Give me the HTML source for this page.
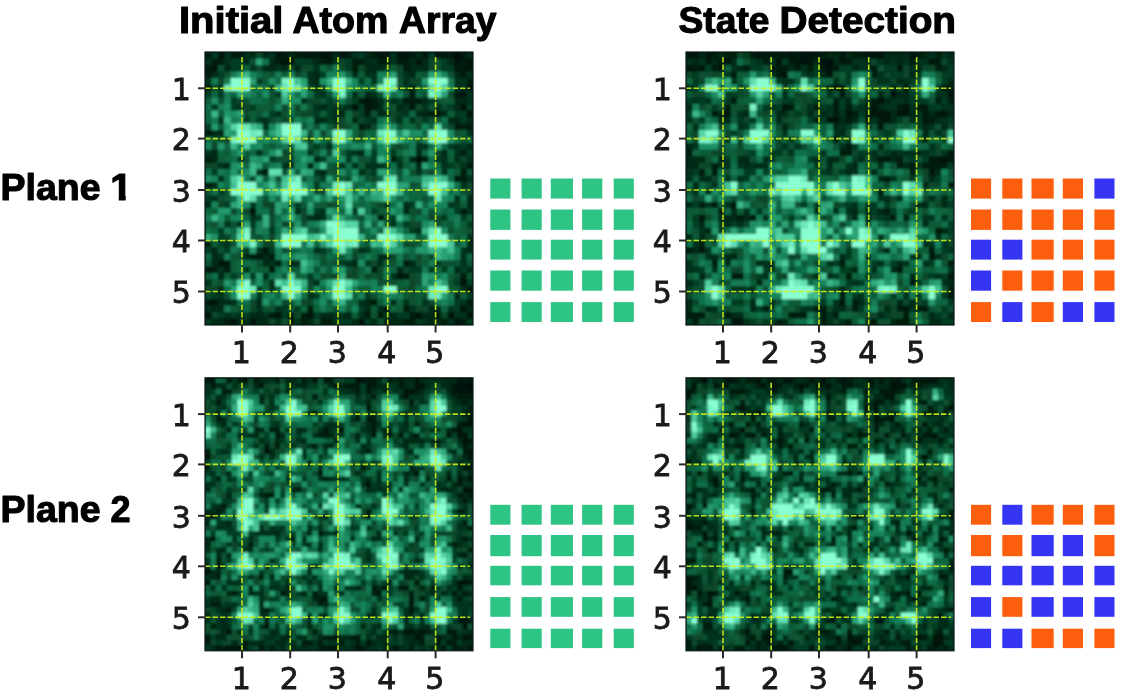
<!DOCTYPE html>
<html lang="en"><head><meta charset="utf-8"><title>Atom array state detection</title>
<style>html,body{margin:0;padding:0;background:#fff}body{width:1122px;height:700px;overflow:hidden}svg{display:block}.t{font-family:"Liberation Sans",sans-serif;font-weight:700;font-size:37.3px;fill:#000;stroke:#000;stroke-width:1.1px;stroke-linejoin:round}.k{font-family:"DejaVu Sans","Liberation Sans",sans-serif;font-size:30px;fill:#1a1a1a;stroke:#1a1a1a;stroke-width:0.8px}</style></head><body>
<svg width="1122" height="700" viewBox="0 0 1122 700">
<rect width="1122" height="700" fill="#fff"/>
<defs><clipPath id="cp"><rect width="268" height="273"/></clipPath><filter id="bl" x="-5%" y="-5%" width="110%" height="110%"><feGaussianBlur stdDeviation="0.8"/></filter></defs>
<text class="t" y="33.0"><tspan x="178.99" textLength="104.51" lengthAdjust="spacingAndGlyphs">Initial</tspan> <tspan x="292.49" textLength="95.99" lengthAdjust="spacingAndGlyphs">Atom</tspan> <tspan x="399.01" textLength="97.49" lengthAdjust="spacingAndGlyphs">Array</tspan></text>
<text class="t" y="33.0"><tspan x="678.51" textLength="90.97" lengthAdjust="spacingAndGlyphs">State</tspan> <tspan x="779.49" textLength="176.52" lengthAdjust="spacingAndGlyphs">Detection</tspan></text>
<text class="t" y="200.0"><tspan x="0.51" textLength="99.98" lengthAdjust="spacingAndGlyphs">Plane</tspan></text><clipPath id="one"><path d="M109.3 168.0H128.4V194.6H109.3zM118.74 194.0H125.70V201.0H118.74z"/></clipPath><g clip-path="url(#one)"><text class="t" transform="translate(110.34 200.0) scale(1.05 1)">1</text></g>
<text class="t" y="521.8"><tspan x="0.51" textLength="99.98" lengthAdjust="spacingAndGlyphs">Plane</tspan> <tspan x="110.47" textLength="20.03" lengthAdjust="spacingAndGlyphs">2</tspan></text>
<g transform="translate(205 52)" clip-path="url(#cp)"><rect width="268" height="273" fill="#06140f"/><g filter="url(#bl)"><path fill="#031e11" d="M0 0h6.7v6.8h-6.7zM25.5 0h6.7v6.8h-6.7zM31.9 0h6.7v6.8h-6.7zM76.6 0h6.7v6.8h-6.7zM89.3 0h6.7v6.8h-6.7zM95.7 0h6.7v6.8h-6.7zM108.5 0h6.7v6.8h-6.7zM140.4 0h6.7v6.8h-6.7zM165.9 0h6.7v6.8h-6.7zM204.2 0h6.7v6.8h-6.7zM236.1 0h6.7v6.8h-6.7zM242.5 0h6.7v6.8h-6.7zM6.4 6.5h6.7v6.8h-6.7zM12.8 6.5h6.6v6.8h-6.6zM70.2 6.5h6.7v6.8h-6.7zM114.9 6.5h6.6v6.8h-6.6zM146.8 6.5h6.6v6.8h-6.6zM153.1 6.5h6.7v6.8h-6.7zM172.3 6.5h6.7v6.8h-6.7zM178.7 6.5h6.6v6.8h-6.6zM191.4 6.5h6.7v6.8h-6.7zM197.8 6.5h6.7v6.8h-6.7zM255.2 6.5h6.7v6.8h-6.7zM0 13h6.7v6.8h-6.7zM146.8 13h6.6v6.8h-6.6zM197.8 13h6.7v6.8h-6.7zM248.9 13h6.6v6.8h-6.6zM255.2 13h6.7v6.8h-6.7zM0 19.5h6.7v6.8h-6.7zM255.2 19.5h6.7v6.8h-6.7zM261.6 26h6.7v6.8h-6.7zM0 32.5h6.7v6.8h-6.7zM204.2 39h6.7v6.8h-6.7zM248.9 39h6.6v6.8h-6.6zM153.1 45.5h6.7v6.8h-6.7zM165.9 45.5h6.7v6.8h-6.7zM197.8 45.5h6.7v6.8h-6.7zM204.2 45.5h6.7v6.8h-6.7zM210.6 45.5h6.7v6.8h-6.7zM165.9 52h6.7v6.8h-6.7zM204.2 52h6.7v6.8h-6.7zM159.5 58.5h6.7v6.8h-6.7zM223.3 58.5h6.7v6.8h-6.7zM229.7 58.5h6.7v6.8h-6.7zM153.1 71.5h6.7v6.8h-6.7zM248.9 71.5h6.6v6.8h-6.6zM255.2 71.5h6.7v6.8h-6.7zM261.6 71.5h6.7v6.8h-6.7zM0 78h6.7v6.8h-6.7zM255.2 97.5h6.7v6.8h-6.7zM0 104h6.7v6.8h-6.7zM185 104h6.7v6.8h-6.7zM217 104h6.6v6.8h-6.6zM261.6 110.5h6.7v6.8h-6.7zM57.4 117h6.7v6.8h-6.7zM255.2 117h6.7v6.8h-6.7zM248.9 123.5h6.6v6.8h-6.6zM255.2 123.5h6.7v6.8h-6.7zM0 130h6.7v6.8h-6.7zM255.2 156h6.7v6.8h-6.7zM172.3 162.5h6.7v6.8h-6.7zM0 188.5h6.7v6.8h-6.7zM44.7 201.5h6.6v6.8h-6.6zM51 201.5h6.7v6.8h-6.7zM63.8 201.5h6.7v6.8h-6.7zM19.1 208h6.7v6.8h-6.7zM70.2 208h6.7v6.8h-6.7zM197.8 208h6.7v6.8h-6.7zM6.4 214.5h6.7v6.8h-6.7zM19.1 214.5h6.7v6.8h-6.7zM63.8 214.5h6.7v6.8h-6.7zM165.9 214.5h6.7v6.8h-6.7zM197.8 221h6.7v6.8h-6.7zM255.2 221h6.7v6.8h-6.7zM0 247h6.7v6.8h-6.7zM165.9 247h6.7v6.8h-6.7zM261.6 247h6.7v6.8h-6.7zM102.1 253.5h6.7v6.8h-6.7zM197.8 253.5h6.7v6.8h-6.7zM63.8 260h6.7v6.8h-6.7zM83 260h6.6v6.8h-6.6zM95.7 260h6.7v6.8h-6.7zM159.5 260h6.7v6.8h-6.7zM172.3 260h6.7v6.8h-6.7zM204.2 260h6.7v6.8h-6.7zM229.7 260h6.7v6.8h-6.7zM19.1 266.5h6.7v6.8h-6.7zM83 266.5h6.6v6.8h-6.6zM95.7 266.5h6.7v6.8h-6.7zM114.9 266.5h6.6v6.8h-6.6zM121.2 266.5h6.7v6.8h-6.7zM178.7 266.5h6.6v6.8h-6.6zM197.8 266.5h6.7v6.8h-6.7zM204.2 266.5h6.7v6.8h-6.7zM236.1 266.5h6.7v6.8h-6.7zM255.2 266.5h6.7v6.8h-6.7z"/><path fill="#053d23" d="M6.4 0h6.7v6.8h-6.7zM153.1 0h6.7v6.8h-6.7zM223.3 0h6.7v6.8h-6.7zM25.5 6.5h6.7v6.8h-6.7zM31.9 6.5h6.7v6.8h-6.7zM89.3 6.5h6.7v6.8h-6.7zM95.7 6.5h6.7v6.8h-6.7zM102.1 6.5h6.7v6.8h-6.7zM140.4 6.5h6.7v6.8h-6.7zM236.1 6.5h6.7v6.8h-6.7zM25.5 13h6.7v6.8h-6.7zM31.9 13h6.7v6.8h-6.7zM140.4 13h6.7v6.8h-6.7zM178.7 13h6.6v6.8h-6.6zM236.1 13h6.7v6.8h-6.7zM242.5 13h6.7v6.8h-6.7zM12.8 19.5h6.6v6.8h-6.6zM114.9 19.5h6.6v6.8h-6.6zM51 26h6.7v6.8h-6.7zM153.1 26h6.7v6.8h-6.7zM12.8 32.5h6.6v6.8h-6.6zM63.8 32.5h6.7v6.8h-6.7zM197.8 32.5h6.7v6.8h-6.7zM0 39h6.7v6.8h-6.7zM12.8 39h6.6v6.8h-6.6zM70.2 39h6.7v6.8h-6.7zM108.5 39h6.7v6.8h-6.7zM25.5 45.5h6.7v6.8h-6.7zM121.2 45.5h6.7v6.8h-6.7zM146.8 45.5h6.6v6.8h-6.6zM191.4 45.5h6.7v6.8h-6.7zM223.3 45.5h6.7v6.8h-6.7zM6.4 52h6.7v6.8h-6.7zM25.5 52h6.7v6.8h-6.7zM44.7 52h6.6v6.8h-6.6zM121.2 52h6.7v6.8h-6.7zM134 52h6.7v6.8h-6.7zM153.1 52h6.7v6.8h-6.7zM242.5 52h6.7v6.8h-6.7zM261.6 52h6.7v6.8h-6.7zM63.8 58.5h6.7v6.8h-6.7zM108.5 58.5h6.7v6.8h-6.7zM121.2 58.5h6.7v6.8h-6.7zM153.1 58.5h6.7v6.8h-6.7zM191.4 58.5h6.7v6.8h-6.7zM248.9 58.5h6.6v6.8h-6.6zM255.2 58.5h6.7v6.8h-6.7zM38.3 65h6.7v6.8h-6.7zM51 65h6.7v6.8h-6.7zM121.2 65h6.7v6.8h-6.7zM159.5 65h6.7v6.8h-6.7zM217 65h6.6v6.8h-6.6zM255.2 65h6.7v6.8h-6.7zM0 71.5h6.7v6.8h-6.7zM108.5 91h6.7v6.8h-6.7zM242.5 91h6.7v6.8h-6.7zM255.2 91h6.7v6.8h-6.7zM102.1 97.5h6.7v6.8h-6.7zM140.4 97.5h6.7v6.8h-6.7zM165.9 97.5h6.7v6.8h-6.7zM185 97.5h6.7v6.8h-6.7zM261.6 97.5h6.7v6.8h-6.7zM31.9 104h6.7v6.8h-6.7zM63.8 104h6.7v6.8h-6.7zM114.9 104h6.6v6.8h-6.6zM140.4 104h6.7v6.8h-6.7zM165.9 104h6.7v6.8h-6.7zM191.4 104h6.7v6.8h-6.7zM229.7 104h6.7v6.8h-6.7zM178.7 110.5h6.6v6.8h-6.6zM242.5 110.5h6.7v6.8h-6.7zM6.4 117h6.7v6.8h-6.7zM165.9 117h6.7v6.8h-6.7zM114.9 123.5h6.6v6.8h-6.6zM108.5 130h6.7v6.8h-6.7zM12.8 136.5h6.6v6.8h-6.6zM0 143h6.7v6.8h-6.7zM19.1 149.5h6.7v6.8h-6.7zM44.7 149.5h6.6v6.8h-6.6zM89.3 149.5h6.7v6.8h-6.7zM178.7 149.5h6.6v6.8h-6.6zM204.2 149.5h6.7v6.8h-6.7zM248.9 149.5h6.6v6.8h-6.6zM108.5 156h6.7v6.8h-6.7zM146.8 156h6.6v6.8h-6.6zM165.9 156h6.7v6.8h-6.7zM248.9 156h6.6v6.8h-6.6zM51 162.5h6.7v6.8h-6.7zM185 162.5h6.7v6.8h-6.7zM236.1 162.5h6.7v6.8h-6.7zM255.2 162.5h6.7v6.8h-6.7zM44.7 169h6.6v6.8h-6.6zM197.8 169h6.7v6.8h-6.7zM261.6 169h6.7v6.8h-6.7zM12.8 175.5h6.6v6.8h-6.6zM63.8 175.5h6.7v6.8h-6.7zM204.2 175.5h6.7v6.8h-6.7zM12.8 182h6.6v6.8h-6.6zM12.8 188.5h6.6v6.8h-6.6zM0 195h6.7v6.8h-6.7zM19.1 195h6.7v6.8h-6.7zM38.3 195h6.7v6.8h-6.7zM63.8 195h6.7v6.8h-6.7zM114.9 195h6.6v6.8h-6.6zM159.5 195h6.7v6.8h-6.7zM134 208h6.7v6.8h-6.7zM159.5 208h6.7v6.8h-6.7zM229.7 208h6.7v6.8h-6.7zM204.2 214.5h6.7v6.8h-6.7zM210.6 214.5h6.7v6.8h-6.7zM223.3 214.5h6.7v6.8h-6.7zM236.1 214.5h6.7v6.8h-6.7zM255.2 214.5h6.7v6.8h-6.7zM25.5 221h6.7v6.8h-6.7zM44.7 221h6.6v6.8h-6.6zM102.1 221h6.7v6.8h-6.7zM248.9 227.5h6.6v6.8h-6.6zM261.6 227.5h6.7v6.8h-6.7zM51 234h6.7v6.8h-6.7zM6.4 240.5h6.7v6.8h-6.7zM51 240.5h6.7v6.8h-6.7zM108.5 240.5h6.7v6.8h-6.7zM159.5 240.5h6.7v6.8h-6.7zM261.6 240.5h6.7v6.8h-6.7zM248.9 247h6.6v6.8h-6.6zM76.6 253.5h6.7v6.8h-6.7zM89.3 253.5h6.7v6.8h-6.7zM153.1 253.5h6.7v6.8h-6.7zM248.9 253.5h6.6v6.8h-6.6zM12.8 260h6.6v6.8h-6.6zM25.5 260h6.7v6.8h-6.7zM38.3 260h6.7v6.8h-6.7zM76.6 260h6.7v6.8h-6.7zM108.5 260h6.7v6.8h-6.7zM178.7 260h6.6v6.8h-6.6zM191.4 260h6.7v6.8h-6.7zM197.8 260h6.7v6.8h-6.7zM0 266.5h6.7v6.8h-6.7zM134 266.5h6.7v6.8h-6.7zM140.4 266.5h6.7v6.8h-6.7zM159.5 266.5h6.7v6.8h-6.7zM210.6 266.5h6.7v6.8h-6.7zM261.6 266.5h6.7v6.8h-6.7z"/><path fill="#03140c" d="M12.8 0h6.6v6.8h-6.6zM70.2 0h6.7v6.8h-6.7zM102.1 0h6.7v6.8h-6.7zM114.9 0h6.6v6.8h-6.6zM121.2 0h6.7v6.8h-6.7zM134 0h6.7v6.8h-6.7zM172.3 0h6.7v6.8h-6.7zM178.7 0h6.6v6.8h-6.6zM191.4 0h6.7v6.8h-6.7zM197.8 0h6.7v6.8h-6.7zM217 0h6.6v6.8h-6.6zM229.7 0h6.7v6.8h-6.7zM255.2 0h6.7v6.8h-6.7zM76.6 6.5h6.7v6.8h-6.7zM83 6.5h6.6v6.8h-6.6zM121.2 6.5h6.7v6.8h-6.7zM210.6 6.5h6.7v6.8h-6.7zM248.9 6.5h6.6v6.8h-6.6zM261.6 6.5h6.7v6.8h-6.7zM6.4 13h6.7v6.8h-6.7zM261.6 13h6.7v6.8h-6.7zM261.6 32.5h6.7v6.8h-6.7zM255.2 39h6.7v6.8h-6.7zM159.5 45.5h6.7v6.8h-6.7zM146.8 52h6.6v6.8h-6.6zM159.5 52h6.7v6.8h-6.7zM255.2 52h6.7v6.8h-6.7zM261.6 58.5h6.7v6.8h-6.7zM210.6 104h6.7v6.8h-6.7zM44.7 156h6.6v6.8h-6.6zM57.4 195h6.7v6.8h-6.7zM12.8 208h6.6v6.8h-6.6zM0 214.5h6.7v6.8h-6.7zM191.4 221h6.7v6.8h-6.7zM255.2 227.5h6.7v6.8h-6.7zM261.6 234h6.7v6.8h-6.7zM6.4 247h6.7v6.8h-6.7zM178.7 253.5h6.6v6.8h-6.6zM255.2 253.5h6.7v6.8h-6.7zM0 260h6.7v6.8h-6.7zM70.2 260h6.7v6.8h-6.7zM102.1 260h6.7v6.8h-6.7zM210.6 260h6.7v6.8h-6.7zM242.5 260h6.7v6.8h-6.7zM261.6 260h6.7v6.8h-6.7zM25.5 266.5h6.7v6.8h-6.7zM44.7 266.5h6.6v6.8h-6.6zM153.1 266.5h6.7v6.8h-6.7zM248.9 266.5h6.6v6.8h-6.6z"/><path fill="#04331c" d="M19.1 0h6.7v6.8h-6.7zM38.3 0h6.7v6.8h-6.7zM63.8 0h6.7v6.8h-6.7zM146.8 0h6.6v6.8h-6.6zM185 0h6.7v6.8h-6.7zM0 6.5h6.7v6.8h-6.7zM19.1 6.5h6.7v6.8h-6.7zM127.6 6.5h6.7v6.8h-6.7zM165.9 6.5h6.7v6.8h-6.7zM185 6.5h6.7v6.8h-6.7zM44.7 13h6.6v6.8h-6.6zM70.2 13h6.7v6.8h-6.7zM108.5 13h6.7v6.8h-6.7zM102.1 19.5h6.7v6.8h-6.7zM159.5 19.5h6.7v6.8h-6.7zM165.9 19.5h6.7v6.8h-6.7zM197.8 19.5h6.7v6.8h-6.7zM261.6 19.5h6.7v6.8h-6.7zM0 26h6.7v6.8h-6.7zM102.1 26h6.7v6.8h-6.7zM165.9 26h6.7v6.8h-6.7zM197.8 26h6.7v6.8h-6.7zM248.9 26h6.6v6.8h-6.6zM255.2 26h6.7v6.8h-6.7zM108.5 32.5h6.7v6.8h-6.7zM248.9 32.5h6.6v6.8h-6.6zM255.2 32.5h6.7v6.8h-6.7zM114.9 39h6.6v6.8h-6.6zM146.8 39h6.6v6.8h-6.6zM165.9 39h6.7v6.8h-6.7zM261.6 39h6.7v6.8h-6.7zM95.7 45.5h6.7v6.8h-6.7zM185 45.5h6.7v6.8h-6.7zM261.6 45.5h6.7v6.8h-6.7zM31.9 52h6.7v6.8h-6.7zM108.5 52h6.7v6.8h-6.7zM127.6 52h6.7v6.8h-6.7zM140.4 52h6.7v6.8h-6.7zM197.8 52h6.7v6.8h-6.7zM217 52h6.6v6.8h-6.6zM229.7 52h6.7v6.8h-6.7zM70.2 58.5h6.7v6.8h-6.7zM127.6 58.5h6.7v6.8h-6.7zM178.7 58.5h6.6v6.8h-6.6zM197.8 58.5h6.7v6.8h-6.7zM12.8 65h6.6v6.8h-6.6zM57.4 65h6.7v6.8h-6.7zM127.6 65h6.7v6.8h-6.7zM165.9 65h6.7v6.8h-6.7zM191.4 65h6.7v6.8h-6.7zM204.2 65h6.7v6.8h-6.7zM57.4 71.5h6.7v6.8h-6.7zM261.6 78h6.7v6.8h-6.7zM121.2 91h6.7v6.8h-6.7zM210.6 91h6.7v6.8h-6.7zM217 91h6.6v6.8h-6.6zM248.9 91h6.6v6.8h-6.6zM0 97.5h6.7v6.8h-6.7zM51 97.5h6.7v6.8h-6.7zM146.8 97.5h6.6v6.8h-6.6zM248.9 97.5h6.6v6.8h-6.6zM236.1 104h6.7v6.8h-6.7zM248.9 104h6.6v6.8h-6.6zM261.6 104h6.7v6.8h-6.7zM12.8 110.5h6.6v6.8h-6.6zM76.6 110.5h6.7v6.8h-6.7zM134 110.5h6.7v6.8h-6.7zM146.8 110.5h6.6v6.8h-6.6zM159.5 110.5h6.7v6.8h-6.7zM165.9 110.5h6.7v6.8h-6.7zM172.3 110.5h6.7v6.8h-6.7zM191.4 110.5h6.7v6.8h-6.7zM236.1 110.5h6.7v6.8h-6.7zM255.2 110.5h6.7v6.8h-6.7zM51 117h6.7v6.8h-6.7zM108.5 117h6.7v6.8h-6.7zM153.1 117h6.7v6.8h-6.7zM210.6 117h6.7v6.8h-6.7zM236.1 117h6.7v6.8h-6.7zM12.8 123.5h6.6v6.8h-6.6zM261.6 123.5h6.7v6.8h-6.7zM255.2 130h6.7v6.8h-6.7zM6.4 143h6.7v6.8h-6.7zM248.9 143h6.6v6.8h-6.6zM242.5 149.5h6.7v6.8h-6.7zM114.9 156h6.6v6.8h-6.6zM261.6 156h6.7v6.8h-6.7zM44.7 162.5h6.6v6.8h-6.6zM102.1 162.5h6.7v6.8h-6.7zM114.9 162.5h6.6v6.8h-6.6zM19.1 169h6.7v6.8h-6.7zM31.9 169h6.7v6.8h-6.7zM185 169h6.7v6.8h-6.7zM210.6 175.5h6.7v6.8h-6.7zM261.6 182h6.7v6.8h-6.7zM19.1 188.5h6.7v6.8h-6.7zM51 195h6.7v6.8h-6.7zM108.5 195h6.7v6.8h-6.7zM153.1 195h6.7v6.8h-6.7zM255.2 195h6.7v6.8h-6.7zM12.8 201.5h6.6v6.8h-6.6zM255.2 201.5h6.7v6.8h-6.7zM63.8 208h6.7v6.8h-6.7zM89.3 208h6.7v6.8h-6.7zM140.4 208h6.7v6.8h-6.7zM172.3 208h6.7v6.8h-6.7zM255.2 208h6.7v6.8h-6.7zM12.8 214.5h6.6v6.8h-6.6zM38.3 214.5h6.7v6.8h-6.7zM185 221h6.7v6.8h-6.7zM0 227.5h6.7v6.8h-6.7zM63.8 227.5h6.7v6.8h-6.7zM63.8 234h6.7v6.8h-6.7zM255.2 234h6.7v6.8h-6.7zM12.8 240.5h6.6v6.8h-6.6zM102.1 240.5h6.7v6.8h-6.7zM25.5 247h6.7v6.8h-6.7zM153.1 247h6.7v6.8h-6.7zM185 247h6.7v6.8h-6.7zM197.8 247h6.7v6.8h-6.7zM217 247h6.6v6.8h-6.6zM255.2 247h6.7v6.8h-6.7zM0 253.5h6.7v6.8h-6.7zM51 253.5h6.7v6.8h-6.7zM70.2 253.5h6.7v6.8h-6.7zM204.2 253.5h6.7v6.8h-6.7zM242.5 253.5h6.7v6.8h-6.7zM19.1 260h6.7v6.8h-6.7zM31.9 260h6.7v6.8h-6.7zM57.4 260h6.7v6.8h-6.7zM127.6 260h6.7v6.8h-6.7zM134 260h6.7v6.8h-6.7zM153.1 260h6.7v6.8h-6.7zM248.9 260h6.6v6.8h-6.6zM255.2 260h6.7v6.8h-6.7zM38.3 266.5h6.7v6.8h-6.7zM70.2 266.5h6.7v6.8h-6.7zM89.3 266.5h6.7v6.8h-6.7zM127.6 266.5h6.7v6.8h-6.7zM217 266.5h6.6v6.8h-6.6zM242.5 266.5h6.7v6.8h-6.7z"/><path fill="#042916" d="M44.7 0h6.6v6.8h-6.6zM57.4 0h6.7v6.8h-6.7zM83 0h6.6v6.8h-6.6zM127.6 0h6.7v6.8h-6.7zM159.5 0h6.7v6.8h-6.7zM210.6 0h6.7v6.8h-6.7zM261.6 0h6.7v6.8h-6.7zM38.3 6.5h6.7v6.8h-6.7zM63.8 6.5h6.7v6.8h-6.7zM108.5 6.5h6.7v6.8h-6.7zM159.5 6.5h6.7v6.8h-6.7zM204.2 6.5h6.7v6.8h-6.7zM217 6.5h6.6v6.8h-6.6zM242.5 6.5h6.7v6.8h-6.7zM19.1 13h6.7v6.8h-6.7zM57.4 13h6.7v6.8h-6.7zM63.8 13h6.7v6.8h-6.7zM76.6 13h6.7v6.8h-6.7zM89.3 13h6.7v6.8h-6.7zM159.5 13h6.7v6.8h-6.7zM165.9 13h6.7v6.8h-6.7zM172.3 13h6.7v6.8h-6.7zM204.2 13h6.7v6.8h-6.7zM210.6 13h6.7v6.8h-6.7zM217 13h6.6v6.8h-6.6zM6.4 19.5h6.7v6.8h-6.7zM108.5 19.5h6.7v6.8h-6.7zM146.8 19.5h6.6v6.8h-6.6zM204.2 19.5h6.7v6.8h-6.7zM248.9 19.5h6.6v6.8h-6.6zM108.5 26h6.7v6.8h-6.7zM204.2 32.5h6.7v6.8h-6.7zM159.5 39h6.7v6.8h-6.7zM172.3 45.5h6.7v6.8h-6.7zM217 45.5h6.6v6.8h-6.6zM248.9 45.5h6.6v6.8h-6.6zM255.2 45.5h6.7v6.8h-6.7zM114.9 52h6.6v6.8h-6.6zM172.3 52h6.7v6.8h-6.7zM191.4 52h6.7v6.8h-6.7zM248.9 52h6.6v6.8h-6.6zM134 58.5h6.7v6.8h-6.7zM172.3 58.5h6.7v6.8h-6.7zM210.6 58.5h6.7v6.8h-6.7zM217 58.5h6.6v6.8h-6.6zM236.1 58.5h6.7v6.8h-6.7zM108.5 65h6.7v6.8h-6.7zM114.9 65h6.6v6.8h-6.6zM146.8 65h6.6v6.8h-6.6zM242.5 65h6.7v6.8h-6.7zM248.9 65h6.6v6.8h-6.6zM261.6 65h6.7v6.8h-6.7zM159.5 71.5h6.7v6.8h-6.7zM6.4 78h6.7v6.8h-6.7zM12.8 78h6.6v6.8h-6.6zM261.6 91h6.7v6.8h-6.7zM6.4 97.5h6.7v6.8h-6.7zM153.1 97.5h6.7v6.8h-6.7zM210.6 97.5h6.7v6.8h-6.7zM236.1 97.5h6.7v6.8h-6.7zM6.4 104h6.7v6.8h-6.7zM108.5 104h6.7v6.8h-6.7zM204.2 104h6.7v6.8h-6.7zM19.1 110.5h6.7v6.8h-6.7zM83 110.5h6.6v6.8h-6.6zM102.1 110.5h6.7v6.8h-6.7zM210.6 110.5h6.7v6.8h-6.7zM114.9 117h6.6v6.8h-6.6zM6.4 130h6.7v6.8h-6.7zM261.6 143h6.7v6.8h-6.7zM0 149.5h6.7v6.8h-6.7zM197.8 149.5h6.7v6.8h-6.7zM261.6 149.5h6.7v6.8h-6.7zM89.3 156h6.7v6.8h-6.7zM197.8 156h6.7v6.8h-6.7zM108.5 162.5h6.7v6.8h-6.7zM261.6 188.5h6.7v6.8h-6.7zM6.4 195h6.7v6.8h-6.7zM261.6 195h6.7v6.8h-6.7zM6.4 201.5h6.7v6.8h-6.7zM38.3 201.5h6.7v6.8h-6.7zM57.4 201.5h6.7v6.8h-6.7zM172.3 201.5h6.7v6.8h-6.7zM178.7 201.5h6.6v6.8h-6.6zM6.4 208h6.7v6.8h-6.7zM57.4 208h6.7v6.8h-6.7zM83 208h6.6v6.8h-6.6zM146.8 208h6.6v6.8h-6.6zM204.2 208h6.7v6.8h-6.7zM191.4 214.5h6.7v6.8h-6.7zM248.9 214.5h6.6v6.8h-6.6zM261.6 214.5h6.7v6.8h-6.7zM12.8 221h6.6v6.8h-6.6zM57.4 221h6.7v6.8h-6.7zM108.5 227.5h6.7v6.8h-6.7zM12.8 234h6.6v6.8h-6.6zM248.9 240.5h6.6v6.8h-6.6zM12.8 247h6.6v6.8h-6.6zM19.1 247h6.7v6.8h-6.7zM51 247h6.7v6.8h-6.7zM159.5 247h6.7v6.8h-6.7zM6.4 253.5h6.7v6.8h-6.7zM12.8 253.5h6.6v6.8h-6.6zM159.5 253.5h6.7v6.8h-6.7zM172.3 253.5h6.7v6.8h-6.7zM223.3 253.5h6.7v6.8h-6.7zM229.7 253.5h6.7v6.8h-6.7zM261.6 253.5h6.7v6.8h-6.7zM44.7 260h6.6v6.8h-6.6zM51 260h6.7v6.8h-6.7zM114.9 260h6.6v6.8h-6.6zM121.2 260h6.7v6.8h-6.7zM140.4 260h6.7v6.8h-6.7zM185 260h6.7v6.8h-6.7zM217 260h6.6v6.8h-6.6zM223.3 260h6.7v6.8h-6.7zM6.4 266.5h6.7v6.8h-6.7zM12.8 266.5h6.6v6.8h-6.6zM31.9 266.5h6.7v6.8h-6.7zM51 266.5h6.7v6.8h-6.7zM57.4 266.5h6.7v6.8h-6.7zM102.1 266.5h6.7v6.8h-6.7zM146.8 266.5h6.6v6.8h-6.6zM165.9 266.5h6.7v6.8h-6.7zM185 266.5h6.7v6.8h-6.7zM191.4 266.5h6.7v6.8h-6.7zM223.3 266.5h6.7v6.8h-6.7zM229.7 266.5h6.7v6.8h-6.7z"/><path fill="#07472a" d="M51 0h6.7v6.8h-6.7zM134 6.5h6.7v6.8h-6.7zM223.3 6.5h6.7v6.8h-6.7zM51 13h6.7v6.8h-6.7zM83 13h6.6v6.8h-6.6zM95.7 13h6.7v6.8h-6.7zM102.1 13h6.7v6.8h-6.7zM134 13h6.7v6.8h-6.7zM153.1 13h6.7v6.8h-6.7zM191.4 13h6.7v6.8h-6.7zM223.3 13h6.7v6.8h-6.7zM89.3 19.5h6.7v6.8h-6.7zM191.4 19.5h6.7v6.8h-6.7zM12.8 26h6.6v6.8h-6.6zM204.2 26h6.7v6.8h-6.7zM210.6 26h6.7v6.8h-6.7zM6.4 32.5h6.7v6.8h-6.7zM102.1 32.5h6.7v6.8h-6.7zM114.9 32.5h6.6v6.8h-6.6zM242.5 39h6.7v6.8h-6.7zM31.9 45.5h6.7v6.8h-6.7zM102.1 45.5h6.7v6.8h-6.7zM108.5 45.5h6.7v6.8h-6.7zM38.3 52h6.7v6.8h-6.7zM76.6 52h6.7v6.8h-6.7zM89.3 52h6.7v6.8h-6.7zM210.6 52h6.7v6.8h-6.7zM236.1 52h6.7v6.8h-6.7zM38.3 58.5h6.7v6.8h-6.7zM95.7 58.5h6.7v6.8h-6.7zM102.1 58.5h6.7v6.8h-6.7zM146.8 58.5h6.6v6.8h-6.6zM185 58.5h6.7v6.8h-6.7zM63.8 65h6.7v6.8h-6.7zM76.6 65h6.7v6.8h-6.7zM134 65h6.7v6.8h-6.7zM153.1 65h6.7v6.8h-6.7zM185 65h6.7v6.8h-6.7zM127.6 71.5h6.7v6.8h-6.7zM134 71.5h6.7v6.8h-6.7zM165.9 71.5h6.7v6.8h-6.7zM210.6 71.5h6.7v6.8h-6.7zM242.5 71.5h6.7v6.8h-6.7zM114.9 78h6.6v6.8h-6.6zM153.1 78h6.7v6.8h-6.7zM19.1 84.5h6.7v6.8h-6.7zM102.1 84.5h6.7v6.8h-6.7zM6.4 91h6.7v6.8h-6.7zM191.4 91h6.7v6.8h-6.7zM76.6 97.5h6.7v6.8h-6.7zM121.2 97.5h6.7v6.8h-6.7zM229.7 97.5h6.7v6.8h-6.7zM70.2 104h6.7v6.8h-6.7zM83 104h6.6v6.8h-6.6zM255.2 104h6.7v6.8h-6.7zM0 110.5h6.7v6.8h-6.7zM6.4 110.5h6.7v6.8h-6.7zM248.9 110.5h6.6v6.8h-6.6zM159.5 117h6.7v6.8h-6.7zM223.3 117h6.7v6.8h-6.7zM165.9 123.5h6.7v6.8h-6.7zM261.6 130h6.7v6.8h-6.7zM114.9 136.5h6.6v6.8h-6.6zM261.6 136.5h6.7v6.8h-6.7zM12.8 149.5h6.6v6.8h-6.6zM57.4 149.5h6.7v6.8h-6.7zM63.8 149.5h6.7v6.8h-6.7zM121.2 149.5h6.7v6.8h-6.7zM172.3 149.5h6.7v6.8h-6.7zM25.5 156h6.7v6.8h-6.7zM38.3 156h6.7v6.8h-6.7zM63.8 156h6.7v6.8h-6.7zM95.7 156h6.7v6.8h-6.7zM210.6 156h6.7v6.8h-6.7zM95.7 162.5h6.7v6.8h-6.7zM223.3 162.5h6.7v6.8h-6.7zM229.7 162.5h6.7v6.8h-6.7zM63.8 169h6.7v6.8h-6.7zM76.6 169h6.7v6.8h-6.7zM204.2 169h6.7v6.8h-6.7zM210.6 169h6.7v6.8h-6.7zM19.1 182h6.7v6.8h-6.7zM63.8 182h6.7v6.8h-6.7zM57.4 188.5h6.7v6.8h-6.7zM63.8 188.5h6.7v6.8h-6.7zM197.8 188.5h6.7v6.8h-6.7zM146.8 201.5h6.6v6.8h-6.6zM185 201.5h6.7v6.8h-6.7zM210.6 201.5h6.7v6.8h-6.7zM223.3 201.5h6.7v6.8h-6.7zM165.9 208h6.7v6.8h-6.7zM146.8 214.5h6.6v6.8h-6.6zM172.3 214.5h6.7v6.8h-6.7zM197.8 214.5h6.7v6.8h-6.7zM114.9 221h6.6v6.8h-6.6zM127.6 221h6.7v6.8h-6.7zM140.4 221h6.7v6.8h-6.7zM146.8 221h6.6v6.8h-6.6zM159.5 221h6.7v6.8h-6.7zM172.3 221h6.7v6.8h-6.7zM204.2 221h6.7v6.8h-6.7zM248.9 221h6.6v6.8h-6.6zM102.1 227.5h6.7v6.8h-6.7zM204.2 227.5h6.7v6.8h-6.7zM0 234h6.7v6.8h-6.7zM6.4 234h6.7v6.8h-6.7zM102.1 234h6.7v6.8h-6.7zM204.2 234h6.7v6.8h-6.7zM0 240.5h6.7v6.8h-6.7zM44.7 247h6.6v6.8h-6.6zM76.6 247h6.7v6.8h-6.7zM95.7 247h6.7v6.8h-6.7zM102.1 247h6.7v6.8h-6.7zM223.3 247h6.7v6.8h-6.7zM44.7 253.5h6.6v6.8h-6.6zM210.6 253.5h6.7v6.8h-6.7zM217 253.5h6.6v6.8h-6.6zM6.4 260h6.7v6.8h-6.7zM89.3 260h6.7v6.8h-6.7zM236.1 260h6.7v6.8h-6.7zM63.8 266.5h6.7v6.8h-6.7zM108.5 266.5h6.7v6.8h-6.7z"/><path fill="#030a09" d="M248.9 0h6.6v6.8h-6.6z"/><path fill="#085131" d="M44.7 6.5h6.6v6.8h-6.6zM229.7 6.5h6.7v6.8h-6.7zM12.8 13h6.6v6.8h-6.6zM121.2 13h6.7v6.8h-6.7zM229.7 13h6.7v6.8h-6.7zM19.1 19.5h6.7v6.8h-6.7zM63.8 19.5h6.7v6.8h-6.7zM217 19.5h6.6v6.8h-6.6zM242.5 19.5h6.7v6.8h-6.7zM191.4 26h6.7v6.8h-6.7zM191.4 32.5h6.7v6.8h-6.7zM63.8 39h6.7v6.8h-6.7zM121.2 39h6.7v6.8h-6.7zM172.3 39h6.7v6.8h-6.7zM197.8 39h6.7v6.8h-6.7zM217 39h6.6v6.8h-6.6zM12.8 45.5h6.6v6.8h-6.6zM38.3 45.5h6.7v6.8h-6.7zM63.8 45.5h6.7v6.8h-6.7zM114.9 45.5h6.6v6.8h-6.6zM127.6 45.5h6.7v6.8h-6.7zM140.4 45.5h6.7v6.8h-6.7zM178.7 45.5h6.6v6.8h-6.6zM229.7 45.5h6.7v6.8h-6.7zM102.1 52h6.7v6.8h-6.7zM185 52h6.7v6.8h-6.7zM223.3 52h6.7v6.8h-6.7zM51 58.5h6.7v6.8h-6.7zM76.6 58.5h6.7v6.8h-6.7zM89.3 58.5h6.7v6.8h-6.7zM165.9 58.5h6.7v6.8h-6.7zM83 65h6.6v6.8h-6.6zM210.6 65h6.7v6.8h-6.7zM223.3 65h6.7v6.8h-6.7zM229.7 65h6.7v6.8h-6.7zM108.5 71.5h6.7v6.8h-6.7zM140.4 71.5h6.7v6.8h-6.7zM191.4 71.5h6.7v6.8h-6.7zM102.1 78h6.7v6.8h-6.7zM248.9 78h6.6v6.8h-6.6zM12.8 84.5h6.6v6.8h-6.6zM153.1 84.5h6.7v6.8h-6.7zM255.2 84.5h6.7v6.8h-6.7zM102.1 91h6.7v6.8h-6.7zM114.9 91h6.6v6.8h-6.6zM185 91h6.7v6.8h-6.7zM83 97.5h6.6v6.8h-6.6zM38.3 104h6.7v6.8h-6.7zM76.6 104h6.7v6.8h-6.7zM153.1 104h6.7v6.8h-6.7zM159.5 104h6.7v6.8h-6.7zM127.6 110.5h6.7v6.8h-6.7zM76.6 117h6.7v6.8h-6.7zM121.2 117h6.7v6.8h-6.7zM127.6 117h6.7v6.8h-6.7zM191.4 117h6.7v6.8h-6.7zM204.2 117h6.7v6.8h-6.7zM261.6 117h6.7v6.8h-6.7zM44.7 123.5h6.6v6.8h-6.6zM70.2 123.5h6.7v6.8h-6.7zM108.5 123.5h6.7v6.8h-6.7zM140.4 123.5h6.7v6.8h-6.7zM159.5 123.5h6.7v6.8h-6.7zM204.2 130h6.7v6.8h-6.7zM0 136.5h6.7v6.8h-6.7zM19.1 136.5h6.7v6.8h-6.7zM108.5 136.5h6.7v6.8h-6.7zM255.2 136.5h6.7v6.8h-6.7zM12.8 143h6.6v6.8h-6.6zM57.4 143h6.7v6.8h-6.7zM217 143h6.6v6.8h-6.6zM127.6 149.5h6.7v6.8h-6.7zM204.2 156h6.7v6.8h-6.7zM223.3 156h6.7v6.8h-6.7zM63.8 162.5h6.7v6.8h-6.7zM153.1 162.5h6.7v6.8h-6.7zM178.7 162.5h6.6v6.8h-6.6zM6.4 169h6.7v6.8h-6.7zM25.5 169h6.7v6.8h-6.7zM83 169h6.6v6.8h-6.6zM95.7 169h6.7v6.8h-6.7zM229.7 169h6.7v6.8h-6.7zM44.7 175.5h6.6v6.8h-6.6zM242.5 175.5h6.7v6.8h-6.7zM261.6 175.5h6.7v6.8h-6.7zM51 182h6.7v6.8h-6.7zM25.5 188.5h6.7v6.8h-6.7zM204.2 188.5h6.7v6.8h-6.7zM12.8 195h6.6v6.8h-6.6zM76.6 195h6.7v6.8h-6.7zM146.8 195h6.6v6.8h-6.6zM25.5 201.5h6.7v6.8h-6.7zM31.9 201.5h6.7v6.8h-6.7zM114.9 201.5h6.6v6.8h-6.6zM197.8 201.5h6.7v6.8h-6.7zM0 208h6.7v6.8h-6.7zM51 208h6.7v6.8h-6.7zM114.9 208h6.6v6.8h-6.6zM127.6 208h6.7v6.8h-6.7zM185 208h6.7v6.8h-6.7zM210.6 208h6.7v6.8h-6.7zM236.1 208h6.7v6.8h-6.7zM242.5 208h6.7v6.8h-6.7zM248.9 208h6.6v6.8h-6.6zM261.6 208h6.7v6.8h-6.7zM108.5 214.5h6.7v6.8h-6.7zM140.4 214.5h6.7v6.8h-6.7zM31.9 221h6.7v6.8h-6.7zM121.2 221h6.7v6.8h-6.7zM165.9 221h6.7v6.8h-6.7zM210.6 221h6.7v6.8h-6.7zM261.6 221h6.7v6.8h-6.7zM12.8 227.5h6.6v6.8h-6.6zM172.3 227.5h6.7v6.8h-6.7zM178.7 227.5h6.6v6.8h-6.6zM185 227.5h6.7v6.8h-6.7zM210.6 227.5h6.7v6.8h-6.7zM242.5 227.5h6.7v6.8h-6.7zM197.8 234h6.7v6.8h-6.7zM248.9 234h6.6v6.8h-6.6zM19.1 240.5h6.7v6.8h-6.7zM165.9 240.5h6.7v6.8h-6.7zM204.2 240.5h6.7v6.8h-6.7zM217 240.5h6.6v6.8h-6.6zM83 247h6.6v6.8h-6.6zM204.2 247h6.7v6.8h-6.7zM31.9 253.5h6.7v6.8h-6.7zM57.4 253.5h6.7v6.8h-6.7zM63.8 253.5h6.7v6.8h-6.7zM83 253.5h6.6v6.8h-6.6zM127.6 253.5h6.7v6.8h-6.7zM165.9 260h6.7v6.8h-6.7zM76.6 266.5h6.7v6.8h-6.7zM172.3 266.5h6.7v6.8h-6.7z"/><path fill="#2ba376" d="M51 6.5h6.7v6.8h-6.7zM185 19.5h6.7v6.8h-6.7zM223.3 19.5h6.7v6.8h-6.7zM44.7 26h6.6v6.8h-6.6zM95.7 26h6.7v6.8h-6.7zM31.9 39h6.7v6.8h-6.7zM95.7 39h6.7v6.8h-6.7zM236.1 39h6.7v6.8h-6.7zM31.9 58.5h6.7v6.8h-6.7zM19.1 78h6.7v6.8h-6.7zM63.8 78h6.7v6.8h-6.7zM140.4 84.5h6.7v6.8h-6.7zM178.7 91h6.6v6.8h-6.6zM57.4 104h6.7v6.8h-6.7zM95.7 104h6.7v6.8h-6.7zM51 110.5h6.7v6.8h-6.7zM217 110.5h6.6v6.8h-6.6zM102.1 117h6.7v6.8h-6.7zM172.3 117h6.7v6.8h-6.7zM178.7 117h6.6v6.8h-6.6zM63.8 123.5h6.7v6.8h-6.7zM121.2 123.5h6.7v6.8h-6.7zM146.8 123.5h6.6v6.8h-6.6zM95.7 130h6.7v6.8h-6.7zM191.4 130h6.7v6.8h-6.7zM197.8 130h6.7v6.8h-6.7zM83 143h6.6v6.8h-6.6zM121.2 143h6.7v6.8h-6.7zM165.9 143h6.7v6.8h-6.7zM25.5 149.5h6.7v6.8h-6.7zM70.2 149.5h6.7v6.8h-6.7zM102.1 149.5h6.7v6.8h-6.7zM70.2 156h6.7v6.8h-6.7zM83 156h6.6v6.8h-6.6zM121.2 156h6.7v6.8h-6.7zM134 162.5h6.7v6.8h-6.7zM38.3 169h6.7v6.8h-6.7zM172.3 169h6.7v6.8h-6.7zM223.3 169h6.7v6.8h-6.7zM197.8 182h6.7v6.8h-6.7zM204.2 182h6.7v6.8h-6.7zM114.9 188.5h6.6v6.8h-6.6zM185 195h6.7v6.8h-6.7zM191.4 195h6.7v6.8h-6.7zM236.1 195h6.7v6.8h-6.7zM236.1 201.5h6.7v6.8h-6.7zM217 221h6.6v6.8h-6.6zM146.8 227.5h6.6v6.8h-6.6zM217 227.5h6.6v6.8h-6.6zM236.1 227.5h6.7v6.8h-6.7zM25.5 234h6.7v6.8h-6.7zM95.7 234h6.7v6.8h-6.7zM236.1 240.5h6.7v6.8h-6.7z"/><path fill="#117049" d="M57.4 6.5h6.7v6.8h-6.7zM51 19.5h6.7v6.8h-6.7zM70.2 26h6.7v6.8h-6.7zM159.5 26h6.7v6.8h-6.7zM44.7 32.5h6.6v6.8h-6.6zM57.4 32.5h6.7v6.8h-6.7zM153.1 32.5h6.7v6.8h-6.7zM217 32.5h6.6v6.8h-6.6zM89.3 39h6.7v6.8h-6.7zM102.1 39h6.7v6.8h-6.7zM140.4 39h6.7v6.8h-6.7zM185 39h6.7v6.8h-6.7zM44.7 45.5h6.6v6.8h-6.6zM51 45.5h6.7v6.8h-6.7zM0 52h6.7v6.8h-6.7zM57.4 58.5h6.7v6.8h-6.7zM83 58.5h6.6v6.8h-6.6zM95.7 65h6.7v6.8h-6.7zM172.3 65h6.7v6.8h-6.7zM236.1 65h6.7v6.8h-6.7zM0 84.5h6.7v6.8h-6.7zM114.9 84.5h6.6v6.8h-6.6zM165.9 84.5h6.7v6.8h-6.7zM248.9 84.5h6.6v6.8h-6.6zM70.2 91h6.7v6.8h-6.7zM223.3 91h6.7v6.8h-6.7zM25.5 104h6.7v6.8h-6.7zM223.3 104h6.7v6.8h-6.7zM140.4 110.5h6.7v6.8h-6.7zM185 110.5h6.7v6.8h-6.7zM204.2 110.5h6.7v6.8h-6.7zM0 117h6.7v6.8h-6.7zM19.1 117h6.7v6.8h-6.7zM31.9 117h6.7v6.8h-6.7zM242.5 117h6.7v6.8h-6.7zM19.1 123.5h6.7v6.8h-6.7zM19.1 130h6.7v6.8h-6.7zM153.1 130h6.7v6.8h-6.7zM165.9 130h6.7v6.8h-6.7zM248.9 130h6.6v6.8h-6.6zM6.4 136.5h6.7v6.8h-6.7zM197.8 136.5h6.7v6.8h-6.7zM217 136.5h6.6v6.8h-6.6zM242.5 136.5h6.7v6.8h-6.7zM25.5 143h6.7v6.8h-6.7zM70.2 143h6.7v6.8h-6.7zM95.7 143h6.7v6.8h-6.7zM127.6 143h6.7v6.8h-6.7zM223.3 143h6.7v6.8h-6.7zM255.2 143h6.7v6.8h-6.7zM51 149.5h6.7v6.8h-6.7zM83 149.5h6.6v6.8h-6.6zM159.5 149.5h6.7v6.8h-6.7zM185 149.5h6.7v6.8h-6.7zM31.9 156h6.7v6.8h-6.7zM51 156h6.7v6.8h-6.7zM57.4 156h6.7v6.8h-6.7zM159.5 156h6.7v6.8h-6.7zM242.5 156h6.7v6.8h-6.7zM70.2 162.5h6.7v6.8h-6.7zM210.6 162.5h6.7v6.8h-6.7zM217 162.5h6.6v6.8h-6.6zM242.5 162.5h6.7v6.8h-6.7zM191.4 169h6.7v6.8h-6.7zM0 175.5h6.7v6.8h-6.7zM70.2 175.5h6.7v6.8h-6.7zM159.5 175.5h6.7v6.8h-6.7zM25.5 182h6.7v6.8h-6.7zM57.4 182h6.7v6.8h-6.7zM217 182h6.6v6.8h-6.6zM255.2 182h6.7v6.8h-6.7zM153.1 188.5h6.7v6.8h-6.7zM89.3 195h6.7v6.8h-6.7zM102.1 195h6.7v6.8h-6.7zM172.3 195h6.7v6.8h-6.7zM121.2 201.5h6.7v6.8h-6.7zM38.3 208h6.7v6.8h-6.7zM76.6 208h6.7v6.8h-6.7zM191.4 208h6.7v6.8h-6.7zM70.2 214.5h6.7v6.8h-6.7zM242.5 214.5h6.7v6.8h-6.7zM6.4 221h6.7v6.8h-6.7zM63.8 221h6.7v6.8h-6.7zM108.5 221h6.7v6.8h-6.7zM19.1 234h6.7v6.8h-6.7zM210.6 234h6.7v6.8h-6.7zM95.7 240.5h6.7v6.8h-6.7zM172.3 240.5h6.7v6.8h-6.7zM31.9 247h6.7v6.8h-6.7zM38.3 247h6.7v6.8h-6.7zM108.5 247h6.7v6.8h-6.7zM242.5 247h6.7v6.8h-6.7z"/><path fill="#0b5c39" d="M38.3 13h6.7v6.8h-6.7zM185 13h6.7v6.8h-6.7zM57.4 19.5h6.7v6.8h-6.7zM76.6 19.5h6.7v6.8h-6.7zM95.7 19.5h6.7v6.8h-6.7zM153.1 19.5h6.7v6.8h-6.7zM210.6 19.5h6.7v6.8h-6.7zM57.4 26h6.7v6.8h-6.7zM210.6 32.5h6.7v6.8h-6.7zM153.1 39h6.7v6.8h-6.7zM0 45.5h6.7v6.8h-6.7zM236.1 45.5h6.7v6.8h-6.7zM242.5 45.5h6.7v6.8h-6.7zM51 52h6.7v6.8h-6.7zM57.4 52h6.7v6.8h-6.7zM63.8 52h6.7v6.8h-6.7zM178.7 52h6.6v6.8h-6.6zM12.8 58.5h6.6v6.8h-6.6zM44.7 58.5h6.6v6.8h-6.6zM114.9 58.5h6.6v6.8h-6.6zM242.5 58.5h6.7v6.8h-6.7zM44.7 65h6.6v6.8h-6.6zM70.2 65h6.7v6.8h-6.7zM12.8 71.5h6.6v6.8h-6.6zM95.7 71.5h6.7v6.8h-6.7zM121.2 71.5h6.7v6.8h-6.7zM255.2 78h6.7v6.8h-6.7zM6.4 84.5h6.7v6.8h-6.7zM121.2 84.5h6.7v6.8h-6.7zM146.8 84.5h6.6v6.8h-6.6zM210.6 84.5h6.7v6.8h-6.7zM63.8 91h6.7v6.8h-6.7zM83 91h6.6v6.8h-6.6zM165.9 91h6.7v6.8h-6.7zM197.8 91h6.7v6.8h-6.7zM19.1 97.5h6.7v6.8h-6.7zM38.3 97.5h6.7v6.8h-6.7zM108.5 97.5h6.7v6.8h-6.7zM134 97.5h6.7v6.8h-6.7zM12.8 104h6.6v6.8h-6.6zM242.5 104h6.7v6.8h-6.7zM57.4 110.5h6.7v6.8h-6.7zM121.2 110.5h6.7v6.8h-6.7zM153.1 110.5h6.7v6.8h-6.7zM197.8 110.5h6.7v6.8h-6.7zM89.3 117h6.7v6.8h-6.7zM217 117h6.6v6.8h-6.6zM248.9 117h6.6v6.8h-6.6zM57.4 123.5h6.7v6.8h-6.7zM95.7 123.5h6.7v6.8h-6.7zM134 123.5h6.7v6.8h-6.7zM191.4 123.5h6.7v6.8h-6.7zM210.6 130h6.7v6.8h-6.7zM19.1 143h6.7v6.8h-6.7zM95.7 149.5h6.7v6.8h-6.7zM108.5 149.5h6.7v6.8h-6.7zM114.9 149.5h6.6v6.8h-6.6zM165.9 149.5h6.7v6.8h-6.7zM255.2 149.5h6.7v6.8h-6.7zM6.4 156h6.7v6.8h-6.7zM172.3 156h6.7v6.8h-6.7zM178.7 156h6.6v6.8h-6.6zM19.1 162.5h6.7v6.8h-6.7zM204.2 162.5h6.7v6.8h-6.7zM261.6 162.5h6.7v6.8h-6.7zM0 169h6.7v6.8h-6.7zM165.9 169h6.7v6.8h-6.7zM178.7 169h6.6v6.8h-6.6zM242.5 169h6.7v6.8h-6.7zM255.2 169h6.7v6.8h-6.7zM108.5 175.5h6.7v6.8h-6.7zM153.1 175.5h6.7v6.8h-6.7zM255.2 175.5h6.7v6.8h-6.7zM44.7 182h6.6v6.8h-6.6zM210.6 182h6.7v6.8h-6.7zM248.9 182h6.6v6.8h-6.6zM6.4 188.5h6.7v6.8h-6.7zM159.5 188.5h6.7v6.8h-6.7zM210.6 188.5h6.7v6.8h-6.7zM248.9 188.5h6.6v6.8h-6.6zM121.2 195h6.7v6.8h-6.7zM134 201.5h6.7v6.8h-6.7zM25.5 208h6.7v6.8h-6.7zM121.2 208h6.7v6.8h-6.7zM178.7 208h6.6v6.8h-6.6zM217 208h6.6v6.8h-6.6zM25.5 214.5h6.7v6.8h-6.7zM51 214.5h6.7v6.8h-6.7zM57.4 214.5h6.7v6.8h-6.7zM83 214.5h6.6v6.8h-6.6zM89.3 214.5h6.7v6.8h-6.7zM121.2 214.5h6.7v6.8h-6.7zM153.1 214.5h6.7v6.8h-6.7zM0 221h6.7v6.8h-6.7zM19.1 221h6.7v6.8h-6.7zM76.6 221h6.7v6.8h-6.7zM242.5 221h6.7v6.8h-6.7zM6.4 227.5h6.7v6.8h-6.7zM57.4 227.5h6.7v6.8h-6.7zM191.4 227.5h6.7v6.8h-6.7zM153.1 234h6.7v6.8h-6.7zM159.5 234h6.7v6.8h-6.7zM191.4 234h6.7v6.8h-6.7zM242.5 234h6.7v6.8h-6.7zM197.8 240.5h6.7v6.8h-6.7zM210.6 240.5h6.7v6.8h-6.7zM255.2 240.5h6.7v6.8h-6.7zM121.2 247h6.7v6.8h-6.7zM172.3 247h6.7v6.8h-6.7zM210.6 247h6.7v6.8h-6.7zM25.5 253.5h6.7v6.8h-6.7zM140.4 253.5h6.7v6.8h-6.7zM165.9 253.5h6.7v6.8h-6.7zM191.4 253.5h6.7v6.8h-6.7zM146.8 260h6.6v6.8h-6.6z"/><path fill="#0e6641" d="M114.9 13h6.6v6.8h-6.6zM140.4 19.5h6.7v6.8h-6.7zM159.5 32.5h6.7v6.8h-6.7zM165.9 32.5h6.7v6.8h-6.7zM6.4 39h6.7v6.8h-6.7zM25.5 39h6.7v6.8h-6.7zM51 39h6.7v6.8h-6.7zM210.6 39h6.7v6.8h-6.7zM57.4 45.5h6.7v6.8h-6.7zM70.2 45.5h6.7v6.8h-6.7zM0 58.5h6.7v6.8h-6.7zM140.4 58.5h6.7v6.8h-6.7zM204.2 58.5h6.7v6.8h-6.7zM0 65h6.7v6.8h-6.7zM140.4 65h6.7v6.8h-6.7zM197.8 65h6.7v6.8h-6.7zM146.8 71.5h6.6v6.8h-6.6zM197.8 71.5h6.7v6.8h-6.7zM204.2 71.5h6.7v6.8h-6.7zM223.3 71.5h6.7v6.8h-6.7zM236.1 71.5h6.7v6.8h-6.7zM57.4 78h6.7v6.8h-6.7zM146.8 78h6.6v6.8h-6.6zM159.5 78h6.7v6.8h-6.7zM165.9 78h6.7v6.8h-6.7zM217 78h6.6v6.8h-6.6zM261.6 84.5h6.7v6.8h-6.7zM19.1 91h6.7v6.8h-6.7zM57.4 91h6.7v6.8h-6.7zM236.1 91h6.7v6.8h-6.7zM12.8 97.5h6.6v6.8h-6.6zM44.7 97.5h6.6v6.8h-6.6zM57.4 97.5h6.7v6.8h-6.7zM191.4 97.5h6.7v6.8h-6.7zM217 97.5h6.6v6.8h-6.6zM242.5 97.5h6.7v6.8h-6.7zM19.1 104h6.7v6.8h-6.7zM197.8 104h6.7v6.8h-6.7zM38.3 110.5h6.7v6.8h-6.7zM229.7 110.5h6.7v6.8h-6.7zM140.4 117h6.7v6.8h-6.7zM127.6 123.5h6.7v6.8h-6.7zM172.3 123.5h6.7v6.8h-6.7zM242.5 123.5h6.7v6.8h-6.7zM146.8 130h6.6v6.8h-6.6zM204.2 136.5h6.7v6.8h-6.7zM210.6 136.5h6.7v6.8h-6.7zM153.1 143h6.7v6.8h-6.7zM191.4 143h6.7v6.8h-6.7zM204.2 143h6.7v6.8h-6.7zM210.6 143h6.7v6.8h-6.7zM146.8 149.5h6.6v6.8h-6.6zM153.1 149.5h6.7v6.8h-6.7zM217 149.5h6.6v6.8h-6.6zM0 156h6.7v6.8h-6.7zM76.6 156h6.7v6.8h-6.7zM134 156h6.7v6.8h-6.7zM236.1 156h6.7v6.8h-6.7zM38.3 162.5h6.7v6.8h-6.7zM146.8 162.5h6.6v6.8h-6.6zM153.1 169h6.7v6.8h-6.7zM236.1 169h6.7v6.8h-6.7zM6.4 175.5h6.7v6.8h-6.7zM25.5 175.5h6.7v6.8h-6.7zM102.1 175.5h6.7v6.8h-6.7zM172.3 175.5h6.7v6.8h-6.7zM197.8 175.5h6.7v6.8h-6.7zM248.9 175.5h6.6v6.8h-6.6zM159.5 182h6.7v6.8h-6.7zM165.9 182h6.7v6.8h-6.7zM108.5 188.5h6.7v6.8h-6.7zM31.9 195h6.7v6.8h-6.7zM83 195h6.6v6.8h-6.6zM165.9 195h6.7v6.8h-6.7zM204.2 195h6.7v6.8h-6.7zM0 201.5h6.7v6.8h-6.7zM108.5 201.5h6.7v6.8h-6.7zM127.6 201.5h6.7v6.8h-6.7zM153.1 201.5h6.7v6.8h-6.7zM165.9 201.5h6.7v6.8h-6.7zM204.2 201.5h6.7v6.8h-6.7zM217 201.5h6.6v6.8h-6.6zM261.6 201.5h6.7v6.8h-6.7zM31.9 208h6.7v6.8h-6.7zM44.7 208h6.6v6.8h-6.6zM31.9 214.5h6.7v6.8h-6.7zM44.7 214.5h6.6v6.8h-6.6zM185 214.5h6.7v6.8h-6.7zM229.7 214.5h6.7v6.8h-6.7zM89.3 221h6.7v6.8h-6.7zM95.7 221h6.7v6.8h-6.7zM153.1 221h6.7v6.8h-6.7zM44.7 227.5h6.6v6.8h-6.6zM197.8 227.5h6.7v6.8h-6.7zM57.4 234h6.7v6.8h-6.7zM70.2 234h6.7v6.8h-6.7zM114.9 234h6.6v6.8h-6.6zM70.2 240.5h6.7v6.8h-6.7zM146.8 240.5h6.6v6.8h-6.6zM63.8 247h6.7v6.8h-6.7zM140.4 247h6.7v6.8h-6.7zM146.8 247h6.6v6.8h-6.6zM191.4 247h6.7v6.8h-6.7zM38.3 253.5h6.7v6.8h-6.7zM95.7 253.5h6.7v6.8h-6.7zM108.5 253.5h6.7v6.8h-6.7zM121.2 253.5h6.7v6.8h-6.7zM185 253.5h6.7v6.8h-6.7zM236.1 253.5h6.7v6.8h-6.7z"/><path fill="#157a52" d="M127.6 13h6.7v6.8h-6.7zM25.5 19.5h6.7v6.8h-6.7zM70.2 19.5h6.7v6.8h-6.7zM6.4 26h6.7v6.8h-6.7zM19.1 26h6.7v6.8h-6.7zM172.3 26h6.7v6.8h-6.7zM242.5 26h6.7v6.8h-6.7zM51 32.5h6.7v6.8h-6.7zM19.1 39h6.7v6.8h-6.7zM44.7 39h6.6v6.8h-6.6zM134 45.5h6.7v6.8h-6.7zM12.8 52h6.6v6.8h-6.6zM83 52h6.6v6.8h-6.6zM95.7 52h6.7v6.8h-6.7zM6.4 65h6.7v6.8h-6.7zM25.5 65h6.7v6.8h-6.7zM102.1 71.5h6.7v6.8h-6.7zM121.2 78h6.7v6.8h-6.7zM63.8 84.5h6.7v6.8h-6.7zM95.7 84.5h6.7v6.8h-6.7zM204.2 84.5h6.7v6.8h-6.7zM76.6 91h6.7v6.8h-6.7zM140.4 91h6.7v6.8h-6.7zM204.2 91h6.7v6.8h-6.7zM25.5 97.5h6.7v6.8h-6.7zM197.8 97.5h6.7v6.8h-6.7zM89.3 104h6.7v6.8h-6.7zM121.2 104h6.7v6.8h-6.7zM146.8 104h6.6v6.8h-6.6zM63.8 110.5h6.7v6.8h-6.7zM12.8 117h6.6v6.8h-6.6zM185 117h6.7v6.8h-6.7zM229.7 117h6.7v6.8h-6.7zM102.1 123.5h6.7v6.8h-6.7zM153.1 123.5h6.7v6.8h-6.7zM197.8 123.5h6.7v6.8h-6.7zM204.2 123.5h6.7v6.8h-6.7zM210.6 123.5h6.7v6.8h-6.7zM70.2 130h6.7v6.8h-6.7zM114.9 130h6.6v6.8h-6.6zM121.2 130h6.7v6.8h-6.7zM146.8 136.5h6.6v6.8h-6.6zM159.5 136.5h6.7v6.8h-6.7zM248.9 136.5h6.6v6.8h-6.6zM51 143h6.7v6.8h-6.7zM102.1 143h6.7v6.8h-6.7zM114.9 143h6.6v6.8h-6.6zM197.8 143h6.7v6.8h-6.7zM229.7 156h6.7v6.8h-6.7zM0 162.5h6.7v6.8h-6.7zM89.3 162.5h6.7v6.8h-6.7zM121.2 162.5h6.7v6.8h-6.7zM140.4 162.5h6.7v6.8h-6.7zM165.9 162.5h6.7v6.8h-6.7zM248.9 162.5h6.6v6.8h-6.6zM12.8 169h6.6v6.8h-6.6zM51 169h6.7v6.8h-6.7zM70.2 169h6.7v6.8h-6.7zM102.1 169h6.7v6.8h-6.7zM248.9 169h6.6v6.8h-6.6zM19.1 175.5h6.7v6.8h-6.7zM57.4 175.5h6.7v6.8h-6.7zM83 175.5h6.6v6.8h-6.6zM70.2 182h6.7v6.8h-6.7zM242.5 182h6.7v6.8h-6.7zM51 188.5h6.7v6.8h-6.7zM95.7 188.5h6.7v6.8h-6.7zM255.2 188.5h6.7v6.8h-6.7zM25.5 195h6.7v6.8h-6.7zM95.7 195h6.7v6.8h-6.7zM197.8 195h6.7v6.8h-6.7zM19.1 201.5h6.7v6.8h-6.7zM70.2 201.5h6.7v6.8h-6.7zM102.1 201.5h6.7v6.8h-6.7zM140.4 201.5h6.7v6.8h-6.7zM159.5 201.5h6.7v6.8h-6.7zM191.4 201.5h6.7v6.8h-6.7zM248.9 201.5h6.6v6.8h-6.6zM108.5 208h6.7v6.8h-6.7zM223.3 208h6.7v6.8h-6.7zM114.9 214.5h6.6v6.8h-6.6zM159.5 214.5h6.7v6.8h-6.7zM178.7 214.5h6.6v6.8h-6.6zM217 214.5h6.6v6.8h-6.6zM70.2 221h6.7v6.8h-6.7zM178.7 221h6.6v6.8h-6.6zM229.7 221h6.7v6.8h-6.7zM25.5 227.5h6.7v6.8h-6.7zM159.5 227.5h6.7v6.8h-6.7zM146.8 234h6.6v6.8h-6.6zM172.3 234h6.7v6.8h-6.7zM217 234h6.6v6.8h-6.6zM44.7 240.5h6.6v6.8h-6.6zM57.4 240.5h6.7v6.8h-6.7zM191.4 240.5h6.7v6.8h-6.7zM242.5 240.5h6.7v6.8h-6.7zM178.7 247h6.6v6.8h-6.6zM229.7 247h6.7v6.8h-6.7zM19.1 253.5h6.7v6.8h-6.7zM114.9 253.5h6.6v6.8h-6.6z"/><path fill="#24996c" d="M31.9 19.5h6.7v6.8h-6.7zM134 19.5h6.7v6.8h-6.7zM217 26h6.6v6.8h-6.6zM121.2 32.5h6.7v6.8h-6.7zM140.4 32.5h6.7v6.8h-6.7zM83 39h6.6v6.8h-6.6zM127.6 39h6.7v6.8h-6.7zM19.1 58.5h6.7v6.8h-6.7zM6.4 71.5h6.7v6.8h-6.7zM19.1 71.5h6.7v6.8h-6.7zM25.5 78h6.7v6.8h-6.7zM108.5 78h6.7v6.8h-6.7zM108.5 84.5h6.7v6.8h-6.7zM12.8 91h6.6v6.8h-6.6zM31.9 97.5h6.7v6.8h-6.7zM223.3 97.5h6.7v6.8h-6.7zM44.7 104h6.6v6.8h-6.6zM178.7 104h6.6v6.8h-6.6zM31.9 110.5h6.7v6.8h-6.7zM25.5 117h6.7v6.8h-6.7zM57.4 130h6.7v6.8h-6.7zM102.1 136.5h6.7v6.8h-6.7zM134 143h6.7v6.8h-6.7zM146.8 143h6.6v6.8h-6.6zM76.6 149.5h6.7v6.8h-6.7zM191.4 149.5h6.7v6.8h-6.7zM12.8 156h6.6v6.8h-6.6zM19.1 156h6.7v6.8h-6.7zM185 156h6.7v6.8h-6.7zM89.3 169h6.7v6.8h-6.7zM217 188.5h6.6v6.8h-6.6zM44.7 195h6.6v6.8h-6.6zM127.6 195h6.7v6.8h-6.7zM210.6 195h6.7v6.8h-6.7zM217 195h6.6v6.8h-6.6zM76.6 201.5h6.7v6.8h-6.7zM89.3 201.5h6.7v6.8h-6.7zM95.7 201.5h6.7v6.8h-6.7zM242.5 201.5h6.7v6.8h-6.7zM102.1 208h6.7v6.8h-6.7zM127.6 214.5h6.7v6.8h-6.7zM134 214.5h6.7v6.8h-6.7zM51 221h6.7v6.8h-6.7zM223.3 221h6.7v6.8h-6.7zM19.1 227.5h6.7v6.8h-6.7zM121.2 234h6.7v6.8h-6.7zM121.2 240.5h6.7v6.8h-6.7zM57.4 247h6.7v6.8h-6.7zM127.6 247h6.7v6.8h-6.7z"/><path fill="#3ab889" d="M38.3 19.5h6.7v6.8h-6.7zM121.2 26h6.7v6.8h-6.7zM140.4 26h6.7v6.8h-6.7zM70.2 32.5h6.7v6.8h-6.7zM178.7 39h6.6v6.8h-6.6zM6.4 58.5h6.7v6.8h-6.7zM19.1 65h6.7v6.8h-6.7zM70.2 71.5h6.7v6.8h-6.7zM178.7 71.5h6.6v6.8h-6.6zM95.7 78h6.7v6.8h-6.7zM191.4 84.5h6.7v6.8h-6.7zM25.5 91h6.7v6.8h-6.7zM159.5 91h6.7v6.8h-6.7zM70.2 97.5h6.7v6.8h-6.7zM172.3 104h6.7v6.8h-6.7zM44.7 110.5h6.6v6.8h-6.6zM44.7 117h6.6v6.8h-6.6zM217 123.5h6.6v6.8h-6.6zM236.1 123.5h6.7v6.8h-6.7zM242.5 130h6.7v6.8h-6.7zM153.1 136.5h6.7v6.8h-6.7zM165.9 136.5h6.7v6.8h-6.7zM31.9 143h6.7v6.8h-6.7zM31.9 149.5h6.7v6.8h-6.7zM6.4 162.5h6.7v6.8h-6.7zM83 162.5h6.6v6.8h-6.6zM191.4 162.5h6.7v6.8h-6.7zM31.9 175.5h6.7v6.8h-6.7zM217 175.5h6.6v6.8h-6.6zM153.1 182h6.7v6.8h-6.7zM38.3 188.5h6.7v6.8h-6.7zM172.3 188.5h6.7v6.8h-6.7zM223.3 195h6.7v6.8h-6.7zM229.7 201.5h6.7v6.8h-6.7zM95.7 227.5h6.7v6.8h-6.7zM76.6 240.5h6.7v6.8h-6.7zM89.3 240.5h6.7v6.8h-6.7zM134 247h6.7v6.8h-6.7z"/><path fill="#19845a" d="M44.7 19.5h6.6v6.8h-6.6zM83 19.5h6.6v6.8h-6.6zM121.2 19.5h6.7v6.8h-6.7zM127.6 19.5h6.7v6.8h-6.7zM172.3 19.5h6.7v6.8h-6.7zM178.7 19.5h6.6v6.8h-6.6zM236.1 19.5h6.7v6.8h-6.7zM146.8 26h6.6v6.8h-6.6zM146.8 32.5h6.6v6.8h-6.6zM242.5 32.5h6.7v6.8h-6.7zM191.4 39h6.7v6.8h-6.7zM19.1 45.5h6.7v6.8h-6.7zM70.2 52h6.7v6.8h-6.7zM31.9 65h6.7v6.8h-6.7zM89.3 65h6.7v6.8h-6.7zM102.1 65h6.7v6.8h-6.7zM178.7 65h6.6v6.8h-6.6zM63.8 71.5h6.7v6.8h-6.7zM114.9 71.5h6.6v6.8h-6.6zM217 71.5h6.6v6.8h-6.6zM51 84.5h6.7v6.8h-6.7zM70.2 84.5h6.7v6.8h-6.7zM159.5 84.5h6.7v6.8h-6.7zM217 84.5h6.6v6.8h-6.6zM0 91h6.7v6.8h-6.7zM31.9 91h6.7v6.8h-6.7zM44.7 91h6.6v6.8h-6.6zM153.1 91h6.7v6.8h-6.7zM172.3 91h6.7v6.8h-6.7zM89.3 97.5h6.7v6.8h-6.7zM95.7 97.5h6.7v6.8h-6.7zM114.9 97.5h6.6v6.8h-6.6zM159.5 97.5h6.7v6.8h-6.7zM172.3 97.5h6.7v6.8h-6.7zM178.7 97.5h6.6v6.8h-6.6zM204.2 97.5h6.7v6.8h-6.7zM127.6 104h6.7v6.8h-6.7zM70.2 110.5h6.7v6.8h-6.7zM89.3 110.5h6.7v6.8h-6.7zM108.5 110.5h6.7v6.8h-6.7zM223.3 110.5h6.7v6.8h-6.7zM6.4 123.5h6.7v6.8h-6.7zM38.3 123.5h6.7v6.8h-6.7zM12.8 130h6.6v6.8h-6.6zM51 130h6.7v6.8h-6.7zM102.1 130h6.7v6.8h-6.7zM159.5 130h6.7v6.8h-6.7zM57.4 136.5h6.7v6.8h-6.7zM242.5 143h6.7v6.8h-6.7zM6.4 149.5h6.7v6.8h-6.7zM134 149.5h6.7v6.8h-6.7zM229.7 149.5h6.7v6.8h-6.7zM236.1 149.5h6.7v6.8h-6.7zM191.4 156h6.7v6.8h-6.7zM217 156h6.6v6.8h-6.6zM25.5 162.5h6.7v6.8h-6.7zM31.9 162.5h6.7v6.8h-6.7zM197.8 162.5h6.7v6.8h-6.7zM108.5 169h6.7v6.8h-6.7zM51 175.5h6.7v6.8h-6.7zM70.2 195h6.7v6.8h-6.7zM248.9 195h6.6v6.8h-6.6zM83 201.5h6.6v6.8h-6.6zM76.6 214.5h6.7v6.8h-6.7zM114.9 227.5h6.6v6.8h-6.6zM153.1 227.5h6.7v6.8h-6.7zM165.9 227.5h6.7v6.8h-6.7zM223.3 227.5h6.7v6.8h-6.7zM108.5 234h6.7v6.8h-6.7zM165.9 234h6.7v6.8h-6.7zM63.8 240.5h6.7v6.8h-6.7zM114.9 240.5h6.6v6.8h-6.6zM153.1 240.5h6.7v6.8h-6.7zM178.7 240.5h6.6v6.8h-6.6zM185 240.5h6.7v6.8h-6.7zM70.2 247h6.7v6.8h-6.7zM89.3 247h6.7v6.8h-6.7zM236.1 247h6.7v6.8h-6.7zM134 253.5h6.7v6.8h-6.7zM146.8 253.5h6.6v6.8h-6.6z"/><path fill="#32ad7f" d="M229.7 19.5h6.7v6.8h-6.7zM95.7 32.5h6.7v6.8h-6.7zM76.6 45.5h6.7v6.8h-6.7zM51 71.5h6.7v6.8h-6.7zM140.4 78h6.7v6.8h-6.7zM229.7 91h6.7v6.8h-6.7zM83 117h6.6v6.8h-6.6zM95.7 117h6.7v6.8h-6.7zM51 123.5h6.7v6.8h-6.7zM63.8 136.5h6.7v6.8h-6.7zM172.3 136.5h6.7v6.8h-6.7zM108.5 143h6.7v6.8h-6.7zM172.3 143h6.7v6.8h-6.7zM210.6 149.5h6.7v6.8h-6.7zM57.4 162.5h6.7v6.8h-6.7zM57.4 169h6.7v6.8h-6.7zM114.9 169h6.6v6.8h-6.6zM159.5 169h6.7v6.8h-6.7zM76.6 175.5h6.7v6.8h-6.7zM0 182h6.7v6.8h-6.7zM178.7 195h6.6v6.8h-6.6zM95.7 214.5h6.7v6.8h-6.7zM134 221h6.7v6.8h-6.7zM121.2 227.5h6.7v6.8h-6.7z"/><path fill="#8affd1" d="M25.5 26h6.7v6.8h-6.7zM31.9 26h6.7v6.8h-6.7zM38.3 26h6.7v6.8h-6.7zM83 26h6.6v6.8h-6.6zM127.6 26h6.7v6.8h-6.7zM134 26h6.7v6.8h-6.7zM178.7 26h6.6v6.8h-6.6zM185 26h6.7v6.8h-6.7zM223.3 26h6.7v6.8h-6.7zM229.7 26h6.7v6.8h-6.7zM236.1 26h6.7v6.8h-6.7zM25.5 32.5h6.7v6.8h-6.7zM31.9 32.5h6.7v6.8h-6.7zM38.3 32.5h6.7v6.8h-6.7zM83 32.5h6.6v6.8h-6.6zM127.6 32.5h6.7v6.8h-6.7zM134 32.5h6.7v6.8h-6.7zM178.7 32.5h6.6v6.8h-6.6zM229.7 32.5h6.7v6.8h-6.7zM76.6 71.5h6.7v6.8h-6.7zM83 71.5h6.6v6.8h-6.6zM89.3 71.5h6.7v6.8h-6.7zM31.9 78h6.7v6.8h-6.7zM38.3 78h6.7v6.8h-6.7zM76.6 78h6.7v6.8h-6.7zM83 78h6.6v6.8h-6.6zM89.3 78h6.7v6.8h-6.7zM127.6 78h6.7v6.8h-6.7zM134 78h6.7v6.8h-6.7zM178.7 78h6.6v6.8h-6.6zM185 78h6.7v6.8h-6.7zM223.3 78h6.7v6.8h-6.7zM229.7 78h6.7v6.8h-6.7zM236.1 78h6.7v6.8h-6.7zM31.9 84.5h6.7v6.8h-6.7zM38.3 84.5h6.7v6.8h-6.7zM44.7 84.5h6.6v6.8h-6.6zM83 84.5h6.6v6.8h-6.6zM134 84.5h6.7v6.8h-6.7zM178.7 84.5h6.6v6.8h-6.6zM229.7 84.5h6.7v6.8h-6.7zM236.1 84.5h6.7v6.8h-6.7zM31.9 130h6.7v6.8h-6.7zM38.3 130h6.7v6.8h-6.7zM44.7 130h6.6v6.8h-6.6zM83 130h6.6v6.8h-6.6zM89.3 130h6.7v6.8h-6.7zM134 130h6.7v6.8h-6.7zM172.3 130h6.7v6.8h-6.7zM178.7 130h6.6v6.8h-6.6zM185 130h6.7v6.8h-6.7zM223.3 130h6.7v6.8h-6.7zM229.7 130h6.7v6.8h-6.7zM236.1 130h6.7v6.8h-6.7zM25.5 136.5h6.7v6.8h-6.7zM31.9 136.5h6.7v6.8h-6.7zM38.3 136.5h6.7v6.8h-6.7zM44.7 136.5h6.6v6.8h-6.6zM51 136.5h6.7v6.8h-6.7zM76.6 136.5h6.7v6.8h-6.7zM83 136.5h6.6v6.8h-6.6zM89.3 136.5h6.7v6.8h-6.7zM95.7 136.5h6.7v6.8h-6.7zM127.6 136.5h6.7v6.8h-6.7zM134 136.5h6.7v6.8h-6.7zM178.7 136.5h6.6v6.8h-6.6zM185 136.5h6.7v6.8h-6.7zM223.3 136.5h6.7v6.8h-6.7zM229.7 136.5h6.7v6.8h-6.7zM38.3 143h6.7v6.8h-6.7zM121.2 169h6.7v6.8h-6.7zM127.6 169h6.7v6.8h-6.7zM127.6 175.5h6.7v6.8h-6.7zM134 175.5h6.7v6.8h-6.7zM140.4 175.5h6.7v6.8h-6.7zM146.8 175.5h6.6v6.8h-6.6zM229.7 175.5h6.7v6.8h-6.7zM38.3 182h6.7v6.8h-6.7zM76.6 182h6.7v6.8h-6.7zM83 182h6.6v6.8h-6.6zM89.3 182h6.7v6.8h-6.7zM95.7 182h6.7v6.8h-6.7zM114.9 182h6.6v6.8h-6.6zM127.6 182h6.7v6.8h-6.7zM134 182h6.7v6.8h-6.7zM140.4 182h6.7v6.8h-6.7zM146.8 182h6.6v6.8h-6.6zM172.3 182h6.7v6.8h-6.7zM178.7 182h6.6v6.8h-6.6zM185 182h6.7v6.8h-6.7zM223.3 182h6.7v6.8h-6.7zM229.7 182h6.7v6.8h-6.7zM236.1 182h6.7v6.8h-6.7zM76.6 188.5h6.7v6.8h-6.7zM83 188.5h6.6v6.8h-6.6zM89.3 188.5h6.7v6.8h-6.7zM127.6 188.5h6.7v6.8h-6.7zM134 188.5h6.7v6.8h-6.7zM178.7 188.5h6.6v6.8h-6.6zM223.3 188.5h6.7v6.8h-6.7zM229.7 188.5h6.7v6.8h-6.7zM236.1 188.5h6.7v6.8h-6.7zM38.3 227.5h6.7v6.8h-6.7zM83 227.5h6.6v6.8h-6.6zM134 227.5h6.7v6.8h-6.7zM31.9 234h6.7v6.8h-6.7zM38.3 234h6.7v6.8h-6.7zM76.6 234h6.7v6.8h-6.7zM83 234h6.6v6.8h-6.6zM89.3 234h6.7v6.8h-6.7zM127.6 234h6.7v6.8h-6.7zM134 234h6.7v6.8h-6.7zM178.7 234h6.6v6.8h-6.6zM185 234h6.7v6.8h-6.7zM229.7 234h6.7v6.8h-6.7zM236.1 234h6.7v6.8h-6.7zM31.9 240.5h6.7v6.8h-6.7zM38.3 240.5h6.7v6.8h-6.7zM83 240.5h6.6v6.8h-6.6zM127.6 240.5h6.7v6.8h-6.7zM134 240.5h6.7v6.8h-6.7z"/><path fill="#1e8f63" d="M63.8 26h6.7v6.8h-6.7zM114.9 26h6.6v6.8h-6.6zM38.3 39h6.7v6.8h-6.7zM57.4 39h6.7v6.8h-6.7zM6.4 45.5h6.7v6.8h-6.7zM83 45.5h6.6v6.8h-6.6zM89.3 45.5h6.7v6.8h-6.7zM19.1 52h6.7v6.8h-6.7zM25.5 58.5h6.7v6.8h-6.7zM172.3 71.5h6.7v6.8h-6.7zM185 71.5h6.7v6.8h-6.7zM191.4 78h6.7v6.8h-6.7zM204.2 78h6.7v6.8h-6.7zM210.6 78h6.7v6.8h-6.7zM242.5 78h6.7v6.8h-6.7zM57.4 84.5h6.7v6.8h-6.7zM197.8 84.5h6.7v6.8h-6.7zM242.5 84.5h6.7v6.8h-6.7zM51 91h6.7v6.8h-6.7zM127.6 91h6.7v6.8h-6.7zM134 91h6.7v6.8h-6.7zM146.8 91h6.6v6.8h-6.6zM63.8 97.5h6.7v6.8h-6.7zM51 104h6.7v6.8h-6.7zM102.1 104h6.7v6.8h-6.7zM134 104h6.7v6.8h-6.7zM25.5 110.5h6.7v6.8h-6.7zM95.7 110.5h6.7v6.8h-6.7zM38.3 117h6.7v6.8h-6.7zM134 117h6.7v6.8h-6.7zM146.8 117h6.6v6.8h-6.6zM197.8 117h6.7v6.8h-6.7zM0 123.5h6.7v6.8h-6.7zM63.8 143h6.7v6.8h-6.7zM159.5 143h6.7v6.8h-6.7zM185 143h6.7v6.8h-6.7zM236.1 143h6.7v6.8h-6.7zM38.3 149.5h6.7v6.8h-6.7zM223.3 149.5h6.7v6.8h-6.7zM102.1 156h6.7v6.8h-6.7zM127.6 156h6.7v6.8h-6.7zM12.8 162.5h6.6v6.8h-6.6zM76.6 162.5h6.7v6.8h-6.7zM159.5 162.5h6.7v6.8h-6.7zM217 169h6.6v6.8h-6.6zM114.9 175.5h6.6v6.8h-6.6zM165.9 175.5h6.7v6.8h-6.7zM191.4 175.5h6.7v6.8h-6.7zM236.1 175.5h6.7v6.8h-6.7zM6.4 182h6.7v6.8h-6.7zM191.4 188.5h6.7v6.8h-6.7zM140.4 195h6.7v6.8h-6.7zM153.1 208h6.7v6.8h-6.7zM102.1 214.5h6.7v6.8h-6.7zM38.3 221h6.7v6.8h-6.7zM236.1 221h6.7v6.8h-6.7zM51 227.5h6.7v6.8h-6.7zM25.5 240.5h6.7v6.8h-6.7zM114.9 247h6.6v6.8h-6.6z"/><path fill="#7cf5c6" d="M76.6 26h6.7v6.8h-6.7zM172.3 32.5h6.7v6.8h-6.7zM134 39h6.7v6.8h-6.7zM223.3 39h6.7v6.8h-6.7zM31.9 71.5h6.7v6.8h-6.7zM51 78h6.7v6.8h-6.7zM25.5 84.5h6.7v6.8h-6.7zM127.6 84.5h6.7v6.8h-6.7zM185 84.5h6.7v6.8h-6.7zM223.3 84.5h6.7v6.8h-6.7zM89.3 123.5h6.7v6.8h-6.7zM38.3 175.5h6.7v6.8h-6.7zM121.2 175.5h6.7v6.8h-6.7zM44.7 188.5h6.6v6.8h-6.6zM146.8 188.5h6.6v6.8h-6.6z"/><path fill="#43c293" d="M89.3 26h6.7v6.8h-6.7zM44.7 71.5h6.6v6.8h-6.6zM70.2 78h6.7v6.8h-6.7zM197.8 78h6.7v6.8h-6.7zM89.3 91h6.7v6.8h-6.7zM114.9 110.5h6.6v6.8h-6.6zM76.6 123.5h6.7v6.8h-6.7zM223.3 123.5h6.7v6.8h-6.7zM25.5 130h6.7v6.8h-6.7zM63.8 130h6.7v6.8h-6.7zM70.2 136.5h6.7v6.8h-6.7zM191.4 136.5h6.7v6.8h-6.7zM236.1 136.5h6.7v6.8h-6.7zM140.4 156h6.7v6.8h-6.7zM89.3 175.5h6.7v6.8h-6.7zM185 175.5h6.7v6.8h-6.7zM102.1 182h6.7v6.8h-6.7zM31.9 188.5h6.7v6.8h-6.7zM70.2 188.5h6.7v6.8h-6.7zM102.1 188.5h6.7v6.8h-6.7zM165.9 188.5h6.7v6.8h-6.7zM229.7 195h6.7v6.8h-6.7zM242.5 195h6.7v6.8h-6.7zM95.7 208h6.7v6.8h-6.7zM76.6 227.5h6.7v6.8h-6.7zM140.4 234h6.7v6.8h-6.7z"/><path fill="#6febbc" d="M19.1 32.5h6.7v6.8h-6.7zM76.6 32.5h6.7v6.8h-6.7zM89.3 32.5h6.7v6.8h-6.7zM185 32.5h6.7v6.8h-6.7zM38.3 71.5h6.7v6.8h-6.7zM44.7 78h6.6v6.8h-6.6zM172.3 78h6.7v6.8h-6.7zM31.9 123.5h6.7v6.8h-6.7zM185 123.5h6.7v6.8h-6.7zM127.6 130h6.7v6.8h-6.7zM140.4 130h6.7v6.8h-6.7zM76.6 143h6.7v6.8h-6.7zM229.7 143h6.7v6.8h-6.7zM134 169h6.7v6.8h-6.7zM178.7 175.5h6.6v6.8h-6.6zM223.3 175.5h6.7v6.8h-6.7zM140.4 188.5h6.7v6.8h-6.7zM134 195h6.7v6.8h-6.7zM44.7 234h6.6v6.8h-6.6zM223.3 234h6.7v6.8h-6.7zM223.3 240.5h6.7v6.8h-6.7zM229.7 240.5h6.7v6.8h-6.7z"/><path fill="#62e0b1" d="M223.3 32.5h6.7v6.8h-6.7zM229.7 39h6.7v6.8h-6.7zM229.7 71.5h6.7v6.8h-6.7zM89.3 84.5h6.7v6.8h-6.7zM63.8 117h6.7v6.8h-6.7zM70.2 117h6.7v6.8h-6.7zM83 123.5h6.6v6.8h-6.6zM178.7 123.5h6.6v6.8h-6.6zM44.7 143h6.6v6.8h-6.6zM89.3 143h6.7v6.8h-6.7zM140.4 149.5h6.7v6.8h-6.7zM191.4 182h6.7v6.8h-6.7zM83 221h6.6v6.8h-6.6zM70.2 227.5h6.7v6.8h-6.7zM89.3 227.5h6.7v6.8h-6.7zM127.6 227.5h6.7v6.8h-6.7zM140.4 227.5h6.7v6.8h-6.7zM140.4 240.5h6.7v6.8h-6.7z"/><path fill="#57d6a7" d="M236.1 32.5h6.7v6.8h-6.7zM25.5 71.5h6.7v6.8h-6.7zM38.3 91h6.7v6.8h-6.7zM140.4 143h6.7v6.8h-6.7zM178.7 143h6.6v6.8h-6.6zM127.6 162.5h6.7v6.8h-6.7zM140.4 169h6.7v6.8h-6.7zM146.8 169h6.6v6.8h-6.6zM95.7 175.5h6.7v6.8h-6.7zM31.9 182h6.7v6.8h-6.7zM121.2 188.5h6.7v6.8h-6.7zM185 188.5h6.7v6.8h-6.7zM31.9 227.5h6.7v6.8h-6.7z"/><path fill="#4dcc9d" d="M76.6 39h6.7v6.8h-6.7zM76.6 84.5h6.7v6.8h-6.7zM172.3 84.5h6.7v6.8h-6.7zM95.7 91h6.7v6.8h-6.7zM127.6 97.5h6.7v6.8h-6.7zM25.5 123.5h6.7v6.8h-6.7zM229.7 123.5h6.7v6.8h-6.7zM76.6 130h6.7v6.8h-6.7zM217 130h6.6v6.8h-6.6zM121.2 136.5h6.7v6.8h-6.7zM140.4 136.5h6.7v6.8h-6.7zM153.1 156h6.7v6.8h-6.7zM108.5 182h6.7v6.8h-6.7zM121.2 182h6.7v6.8h-6.7zM242.5 188.5h6.7v6.8h-6.7zM229.7 227.5h6.7v6.8h-6.7z"/></g></g>
<g stroke="#d2ee1c" stroke-opacity="0.9" stroke-width="1.6" stroke-dasharray="5.5 2" fill="none"><path d="M242.0 57V325"/><path d="M290.2 57V325"/><path d="M338.0 57V325"/><path d="M387.7 57V325"/><path d="M435.6 57V325"/><path d="M205 88.3H470"/><path d="M205 138.6H470"/><path d="M205 190.0H470"/><path d="M205 240.5H470"/><path d="M205 291.5H470"/></g>
<rect x="205" y="52" width="268" height="273" fill="none" stroke="#0a1a14" stroke-width="1.2"/>
<g stroke="#2a2a2a" stroke-width="2"><path d="M242.0 325v7.5"/><path d="M290.2 325v7.5"/><path d="M338.0 325v7.5"/><path d="M387.7 325v7.5"/><path d="M435.6 325v7.5"/><path d="M205 88.3h-7"/><path d="M205 138.6h-7"/><path d="M205 190.0h-7"/><path d="M205 240.5h-7"/><path d="M205 291.5h-7"/></g>
<text class="k" x="241.2" y="363.0" text-anchor="middle">1</text>
<text class="k" x="289.4" y="363.0" text-anchor="middle">2</text>
<text class="k" x="337.2" y="363.0" text-anchor="middle">3</text>
<text class="k" x="386.9" y="363.0" text-anchor="middle">4</text>
<text class="k" x="434.8" y="363.0" text-anchor="middle">5</text>
<text class="k" x="190.8" y="100.1" text-anchor="end">1</text>
<text class="k" x="190.8" y="150.4" text-anchor="end">2</text>
<text class="k" x="190.8" y="201.8" text-anchor="end">3</text>
<text class="k" x="190.8" y="252.3" text-anchor="end">4</text>
<text class="k" x="190.8" y="303.3" text-anchor="end">5</text>
<g transform="translate(686 52)" clip-path="url(#cp)"><rect width="268" height="273" fill="#06140f"/><g filter="url(#bl)"><path fill="#03140c" d="M0 0h6.7v6.8h-6.7zM6.4 0h6.7v6.8h-6.7zM19.1 0h6.7v6.8h-6.7zM70.2 0h6.7v6.8h-6.7zM102.1 0h6.7v6.8h-6.7zM114.9 0h6.6v6.8h-6.6zM121.2 0h6.7v6.8h-6.7zM127.6 0h6.7v6.8h-6.7zM153.1 0h6.7v6.8h-6.7zM178.7 0h6.6v6.8h-6.6zM185 0h6.7v6.8h-6.7zM191.4 0h6.7v6.8h-6.7zM223.3 0h6.7v6.8h-6.7zM38.3 6.5h6.7v6.8h-6.7zM89.3 6.5h6.7v6.8h-6.7zM108.5 6.5h6.7v6.8h-6.7zM114.9 6.5h6.6v6.8h-6.6zM121.2 6.5h6.7v6.8h-6.7zM134 6.5h6.7v6.8h-6.7zM153.1 6.5h6.7v6.8h-6.7zM242.5 6.5h6.7v6.8h-6.7zM0 13h6.7v6.8h-6.7zM12.8 13h6.6v6.8h-6.6zM31.9 13h6.7v6.8h-6.7zM140.4 13h6.7v6.8h-6.7zM210.6 13h6.7v6.8h-6.7zM95.7 19.5h6.7v6.8h-6.7zM140.4 19.5h6.7v6.8h-6.7zM204.2 39h6.7v6.8h-6.7zM261.6 39h6.7v6.8h-6.7zM191.4 45.5h6.7v6.8h-6.7zM95.7 52h6.7v6.8h-6.7zM185 52h6.7v6.8h-6.7zM217 52h6.6v6.8h-6.6zM38.3 58.5h6.7v6.8h-6.7zM159.5 58.5h6.7v6.8h-6.7zM185 58.5h6.7v6.8h-6.7zM191.4 58.5h6.7v6.8h-6.7zM197.8 58.5h6.7v6.8h-6.7zM210.6 58.5h6.7v6.8h-6.7zM217 58.5h6.6v6.8h-6.6zM255.2 58.5h6.7v6.8h-6.7zM140.4 65h6.7v6.8h-6.7zM146.8 65h6.6v6.8h-6.6zM197.8 65h6.7v6.8h-6.7zM191.4 71.5h6.7v6.8h-6.7zM248.9 104h6.6v6.8h-6.6zM255.2 104h6.7v6.8h-6.7zM242.5 117h6.7v6.8h-6.7zM12.8 162.5h6.6v6.8h-6.6zM0 195h6.7v6.8h-6.7zM12.8 195h6.6v6.8h-6.6zM210.6 214.5h6.7v6.8h-6.7zM261.6 221h6.7v6.8h-6.7zM261.6 240.5h6.7v6.8h-6.7zM153.1 247h6.7v6.8h-6.7zM38.3 260h6.7v6.8h-6.7zM44.7 266.5h6.6v6.8h-6.6zM51 266.5h6.7v6.8h-6.7zM185 266.5h6.7v6.8h-6.7z"/><path fill="#042916" d="M12.8 0h6.6v6.8h-6.6zM31.9 0h6.7v6.8h-6.7zM140.4 0h6.7v6.8h-6.7zM146.8 0h6.6v6.8h-6.6zM159.5 0h6.7v6.8h-6.7zM197.8 0h6.7v6.8h-6.7zM204.2 0h6.7v6.8h-6.7zM210.6 0h6.7v6.8h-6.7zM217 0h6.6v6.8h-6.6zM236.1 0h6.7v6.8h-6.7zM261.6 0h6.7v6.8h-6.7zM6.4 6.5h6.7v6.8h-6.7zM25.5 6.5h6.7v6.8h-6.7zM44.7 6.5h6.6v6.8h-6.6zM127.6 6.5h6.7v6.8h-6.7zM146.8 6.5h6.6v6.8h-6.6zM178.7 6.5h6.6v6.8h-6.6zM197.8 6.5h6.7v6.8h-6.7zM210.6 6.5h6.7v6.8h-6.7zM51 13h6.7v6.8h-6.7zM102.1 13h6.7v6.8h-6.7zM165.9 13h6.7v6.8h-6.7zM229.7 13h6.7v6.8h-6.7zM255.2 13h6.7v6.8h-6.7zM134 19.5h6.7v6.8h-6.7zM223.3 19.5h6.7v6.8h-6.7zM210.6 26h6.7v6.8h-6.7zM261.6 26h6.7v6.8h-6.7zM140.4 32.5h6.7v6.8h-6.7zM204.2 32.5h6.7v6.8h-6.7zM191.4 39h6.7v6.8h-6.7zM210.6 39h6.7v6.8h-6.7zM217 39h6.6v6.8h-6.6zM159.5 45.5h6.7v6.8h-6.7zM197.8 45.5h6.7v6.8h-6.7zM217 45.5h6.6v6.8h-6.6zM0 52h6.7v6.8h-6.7zM178.7 52h6.6v6.8h-6.6zM191.4 52h6.7v6.8h-6.7zM31.9 58.5h6.7v6.8h-6.7zM57.4 58.5h6.7v6.8h-6.7zM89.3 58.5h6.7v6.8h-6.7zM95.7 58.5h6.7v6.8h-6.7zM121.2 58.5h6.7v6.8h-6.7zM134 58.5h6.7v6.8h-6.7zM204.2 58.5h6.7v6.8h-6.7zM223.3 58.5h6.7v6.8h-6.7zM242.5 58.5h6.7v6.8h-6.7zM261.6 58.5h6.7v6.8h-6.7zM31.9 65h6.7v6.8h-6.7zM38.3 65h6.7v6.8h-6.7zM89.3 65h6.7v6.8h-6.7zM153.1 65h6.7v6.8h-6.7zM165.9 65h6.7v6.8h-6.7zM204.2 65h6.7v6.8h-6.7zM223.3 65h6.7v6.8h-6.7zM248.9 65h6.6v6.8h-6.6zM95.7 71.5h6.7v6.8h-6.7zM146.8 71.5h6.6v6.8h-6.6zM236.1 71.5h6.7v6.8h-6.7zM255.2 71.5h6.7v6.8h-6.7zM153.1 78h6.7v6.8h-6.7zM236.1 78h6.7v6.8h-6.7zM236.1 84.5h6.7v6.8h-6.7zM0 91h6.7v6.8h-6.7zM191.4 91h6.7v6.8h-6.7zM204.2 97.5h6.7v6.8h-6.7zM229.7 97.5h6.7v6.8h-6.7zM0 104h6.7v6.8h-6.7zM6.4 104h6.7v6.8h-6.7zM12.8 104h6.6v6.8h-6.6zM31.9 104h6.7v6.8h-6.7zM51 104h6.7v6.8h-6.7zM57.4 104h6.7v6.8h-6.7zM140.4 104h6.7v6.8h-6.7zM146.8 104h6.6v6.8h-6.6zM172.3 104h6.7v6.8h-6.7zM204.2 104h6.7v6.8h-6.7zM0 110.5h6.7v6.8h-6.7zM6.4 110.5h6.7v6.8h-6.7zM57.4 110.5h6.7v6.8h-6.7zM70.2 110.5h6.7v6.8h-6.7zM140.4 110.5h6.7v6.8h-6.7zM165.9 110.5h6.7v6.8h-6.7zM217 110.5h6.6v6.8h-6.6zM159.5 117h6.7v6.8h-6.7zM185 117h6.7v6.8h-6.7zM248.9 117h6.6v6.8h-6.6zM12.8 123.5h6.6v6.8h-6.6zM19.1 123.5h6.7v6.8h-6.7zM191.4 123.5h6.7v6.8h-6.7zM242.5 123.5h6.7v6.8h-6.7zM6.4 130h6.7v6.8h-6.7zM236.1 130h6.7v6.8h-6.7zM242.5 143h6.7v6.8h-6.7zM255.2 143h6.7v6.8h-6.7zM0 149.5h6.7v6.8h-6.7zM229.7 149.5h6.7v6.8h-6.7zM236.1 149.5h6.7v6.8h-6.7zM255.2 149.5h6.7v6.8h-6.7zM44.7 156h6.6v6.8h-6.6zM165.9 156h6.7v6.8h-6.7zM191.4 156h6.7v6.8h-6.7zM38.3 162.5h6.7v6.8h-6.7zM44.7 162.5h6.6v6.8h-6.6zM57.4 162.5h6.7v6.8h-6.7zM165.9 162.5h6.7v6.8h-6.7zM178.7 162.5h6.6v6.8h-6.6zM12.8 169h6.6v6.8h-6.6zM38.3 169h6.7v6.8h-6.7zM236.1 169h6.7v6.8h-6.7zM19.1 175.5h6.7v6.8h-6.7zM255.2 175.5h6.7v6.8h-6.7zM0 182h6.7v6.8h-6.7zM12.8 182h6.6v6.8h-6.6zM248.9 182h6.6v6.8h-6.6zM6.4 195h6.7v6.8h-6.7zM197.8 195h6.7v6.8h-6.7zM25.5 201.5h6.7v6.8h-6.7zM38.3 201.5h6.7v6.8h-6.7zM44.7 201.5h6.6v6.8h-6.6zM153.1 201.5h6.7v6.8h-6.7zM38.3 208h6.7v6.8h-6.7zM70.2 208h6.7v6.8h-6.7zM83 208h6.6v6.8h-6.6zM191.4 208h6.7v6.8h-6.7zM210.6 208h6.7v6.8h-6.7zM165.9 214.5h6.7v6.8h-6.7zM204.2 214.5h6.7v6.8h-6.7zM12.8 221h6.6v6.8h-6.6zM127.6 221h6.7v6.8h-6.7zM223.3 221h6.7v6.8h-6.7zM0 227.5h6.7v6.8h-6.7zM70.2 227.5h6.7v6.8h-6.7zM261.6 227.5h6.7v6.8h-6.7zM153.1 234h6.7v6.8h-6.7zM0 247h6.7v6.8h-6.7zM63.8 247h6.7v6.8h-6.7zM172.3 247h6.7v6.8h-6.7zM210.6 247h6.7v6.8h-6.7zM223.3 247h6.7v6.8h-6.7zM0 253.5h6.7v6.8h-6.7zM19.1 253.5h6.7v6.8h-6.7zM63.8 253.5h6.7v6.8h-6.7zM153.1 253.5h6.7v6.8h-6.7zM197.8 253.5h6.7v6.8h-6.7zM44.7 260h6.6v6.8h-6.6zM51 260h6.7v6.8h-6.7zM191.4 260h6.7v6.8h-6.7zM242.5 260h6.7v6.8h-6.7zM261.6 260h6.7v6.8h-6.7zM95.7 266.5h6.7v6.8h-6.7zM178.7 266.5h6.6v6.8h-6.6zM204.2 266.5h6.7v6.8h-6.7zM242.5 266.5h6.7v6.8h-6.7zM248.9 266.5h6.6v6.8h-6.6z"/><path fill="#031e11" d="M25.5 0h6.7v6.8h-6.7zM38.3 0h6.7v6.8h-6.7zM44.7 0h6.6v6.8h-6.6zM63.8 0h6.7v6.8h-6.7zM76.6 0h6.7v6.8h-6.7zM83 0h6.6v6.8h-6.6zM89.3 0h6.7v6.8h-6.7zM95.7 0h6.7v6.8h-6.7zM108.5 0h6.7v6.8h-6.7zM134 0h6.7v6.8h-6.7zM165.9 0h6.7v6.8h-6.7zM172.3 0h6.7v6.8h-6.7zM229.7 0h6.7v6.8h-6.7zM248.9 0h6.6v6.8h-6.6zM19.1 6.5h6.7v6.8h-6.7zM31.9 6.5h6.7v6.8h-6.7zM76.6 6.5h6.7v6.8h-6.7zM102.1 6.5h6.7v6.8h-6.7zM159.5 6.5h6.7v6.8h-6.7zM223.3 6.5h6.7v6.8h-6.7zM248.9 6.5h6.6v6.8h-6.6zM6.4 13h6.7v6.8h-6.7zM25.5 13h6.7v6.8h-6.7zM57.4 13h6.7v6.8h-6.7zM83 13h6.6v6.8h-6.6zM89.3 13h6.7v6.8h-6.7zM95.7 13h6.7v6.8h-6.7zM108.5 13h6.7v6.8h-6.7zM121.2 13h6.7v6.8h-6.7zM134 13h6.7v6.8h-6.7zM146.8 13h6.6v6.8h-6.6zM185 13h6.7v6.8h-6.7zM248.9 13h6.6v6.8h-6.6zM44.7 19.5h6.6v6.8h-6.6zM89.3 19.5h6.7v6.8h-6.7zM185 19.5h6.7v6.8h-6.7zM146.8 32.5h6.6v6.8h-6.6zM153.1 32.5h6.7v6.8h-6.7zM217 32.5h6.6v6.8h-6.6zM255.2 32.5h6.7v6.8h-6.7zM261.6 32.5h6.7v6.8h-6.7zM153.1 39h6.7v6.8h-6.7zM44.7 45.5h6.6v6.8h-6.6zM146.8 45.5h6.6v6.8h-6.6zM185 45.5h6.7v6.8h-6.7zM248.9 45.5h6.6v6.8h-6.6zM261.6 45.5h6.7v6.8h-6.7zM38.3 52h6.7v6.8h-6.7zM102.1 52h6.7v6.8h-6.7zM127.6 52h6.7v6.8h-6.7zM146.8 52h6.6v6.8h-6.6zM159.5 52h6.7v6.8h-6.7zM210.6 52h6.7v6.8h-6.7zM229.7 52h6.7v6.8h-6.7zM236.1 52h6.7v6.8h-6.7zM25.5 58.5h6.7v6.8h-6.7zM146.8 58.5h6.6v6.8h-6.6zM165.9 58.5h6.7v6.8h-6.7zM178.7 58.5h6.6v6.8h-6.6zM236.1 58.5h6.7v6.8h-6.7zM248.9 58.5h6.6v6.8h-6.6zM127.6 65h6.7v6.8h-6.7zM159.5 65h6.7v6.8h-6.7zM178.7 65h6.6v6.8h-6.6zM191.4 65h6.7v6.8h-6.7zM236.1 65h6.7v6.8h-6.7zM242.5 65h6.7v6.8h-6.7zM146.8 84.5h6.6v6.8h-6.6zM159.5 91h6.7v6.8h-6.7zM0 97.5h6.7v6.8h-6.7zM153.1 97.5h6.7v6.8h-6.7zM159.5 97.5h6.7v6.8h-6.7zM261.6 97.5h6.7v6.8h-6.7zM191.4 104h6.7v6.8h-6.7zM197.8 104h6.7v6.8h-6.7zM210.6 104h6.7v6.8h-6.7zM242.5 104h6.7v6.8h-6.7zM261.6 104h6.7v6.8h-6.7zM25.5 110.5h6.7v6.8h-6.7zM210.6 110.5h6.7v6.8h-6.7zM223.3 110.5h6.7v6.8h-6.7zM236.1 110.5h6.7v6.8h-6.7zM242.5 110.5h6.7v6.8h-6.7zM248.9 110.5h6.6v6.8h-6.6zM255.2 110.5h6.7v6.8h-6.7zM12.8 117h6.6v6.8h-6.6zM25.5 117h6.7v6.8h-6.7zM223.3 117h6.7v6.8h-6.7zM197.8 123.5h6.7v6.8h-6.7zM261.6 130h6.7v6.8h-6.7zM191.4 136.5h6.7v6.8h-6.7zM12.8 149.5h6.6v6.8h-6.6zM25.5 149.5h6.7v6.8h-6.7zM44.7 149.5h6.6v6.8h-6.6zM31.9 156h6.7v6.8h-6.7zM197.8 156h6.7v6.8h-6.7zM51 162.5h6.7v6.8h-6.7zM63.8 162.5h6.7v6.8h-6.7zM204.2 162.5h6.7v6.8h-6.7zM217 162.5h6.6v6.8h-6.6zM248.9 175.5h6.6v6.8h-6.6zM12.8 188.5h6.6v6.8h-6.6zM242.5 195h6.7v6.8h-6.7zM242.5 201.5h6.7v6.8h-6.7zM25.5 208h6.7v6.8h-6.7zM153.1 208h6.7v6.8h-6.7zM261.6 208h6.7v6.8h-6.7zM44.7 221h6.6v6.8h-6.6zM51 221h6.7v6.8h-6.7zM159.5 221h6.7v6.8h-6.7zM223.3 227.5h6.7v6.8h-6.7zM261.6 234h6.7v6.8h-6.7zM153.1 240.5h6.7v6.8h-6.7zM165.9 247h6.7v6.8h-6.7zM76.6 253.5h6.7v6.8h-6.7zM127.6 253.5h6.7v6.8h-6.7zM134 253.5h6.7v6.8h-6.7zM165.9 253.5h6.7v6.8h-6.7zM210.6 253.5h6.7v6.8h-6.7zM217 253.5h6.6v6.8h-6.6zM229.7 253.5h6.7v6.8h-6.7zM236.1 253.5h6.7v6.8h-6.7zM0 260h6.7v6.8h-6.7zM6.4 260h6.7v6.8h-6.7zM12.8 260h6.6v6.8h-6.6zM102.1 260h6.7v6.8h-6.7zM108.5 260h6.7v6.8h-6.7zM114.9 260h6.6v6.8h-6.6zM134 260h6.7v6.8h-6.7zM146.8 260h6.6v6.8h-6.6zM217 260h6.6v6.8h-6.6zM6.4 266.5h6.7v6.8h-6.7zM89.3 266.5h6.7v6.8h-6.7zM134 266.5h6.7v6.8h-6.7zM159.5 266.5h6.7v6.8h-6.7zM210.6 266.5h6.7v6.8h-6.7zM217 266.5h6.6v6.8h-6.6z"/><path fill="#07472a" d="M51 0h6.7v6.8h-6.7zM185 6.5h6.7v6.8h-6.7zM255.2 6.5h6.7v6.8h-6.7zM217 13h6.6v6.8h-6.6zM236.1 13h6.7v6.8h-6.7zM242.5 13h6.7v6.8h-6.7zM0 19.5h6.7v6.8h-6.7zM25.5 19.5h6.7v6.8h-6.7zM197.8 19.5h6.7v6.8h-6.7zM217 19.5h6.6v6.8h-6.6zM12.8 26h6.6v6.8h-6.6zM185 26h6.7v6.8h-6.7zM204.2 26h6.7v6.8h-6.7zM51 32.5h6.7v6.8h-6.7zM95.7 32.5h6.7v6.8h-6.7zM185 32.5h6.7v6.8h-6.7zM210.6 32.5h6.7v6.8h-6.7zM6.4 39h6.7v6.8h-6.7zM12.8 39h6.6v6.8h-6.6zM51 39h6.7v6.8h-6.7zM108.5 39h6.7v6.8h-6.7zM114.9 39h6.6v6.8h-6.6zM159.5 39h6.7v6.8h-6.7zM178.7 39h6.6v6.8h-6.6zM197.8 39h6.7v6.8h-6.7zM114.9 45.5h6.6v6.8h-6.6zM121.2 45.5h6.7v6.8h-6.7zM172.3 45.5h6.7v6.8h-6.7zM12.8 52h6.6v6.8h-6.6zM57.4 52h6.7v6.8h-6.7zM114.9 52h6.6v6.8h-6.6zM76.6 58.5h6.7v6.8h-6.7zM102.1 58.5h6.7v6.8h-6.7zM114.9 58.5h6.6v6.8h-6.6zM127.6 58.5h6.7v6.8h-6.7zM57.4 65h6.7v6.8h-6.7zM95.7 65h6.7v6.8h-6.7zM31.9 71.5h6.7v6.8h-6.7zM89.3 71.5h6.7v6.8h-6.7zM102.1 71.5h6.7v6.8h-6.7zM261.6 71.5h6.7v6.8h-6.7zM6.4 78h6.7v6.8h-6.7zM38.3 78h6.7v6.8h-6.7zM191.4 78h6.7v6.8h-6.7zM204.2 78h6.7v6.8h-6.7zM255.2 78h6.7v6.8h-6.7zM6.4 84.5h6.7v6.8h-6.7zM51 84.5h6.7v6.8h-6.7zM89.3 84.5h6.7v6.8h-6.7zM197.8 84.5h6.7v6.8h-6.7zM51 91h6.7v6.8h-6.7zM89.3 91h6.7v6.8h-6.7zM114.9 91h6.6v6.8h-6.6zM248.9 91h6.6v6.8h-6.6zM25.5 97.5h6.7v6.8h-6.7zM31.9 97.5h6.7v6.8h-6.7zM57.4 97.5h6.7v6.8h-6.7zM165.9 97.5h6.7v6.8h-6.7zM191.4 97.5h6.7v6.8h-6.7zM248.9 97.5h6.6v6.8h-6.6zM153.1 104h6.7v6.8h-6.7zM217 104h6.6v6.8h-6.6zM12.8 110.5h6.6v6.8h-6.6zM19.1 110.5h6.7v6.8h-6.7zM236.1 117h6.7v6.8h-6.7zM25.5 123.5h6.7v6.8h-6.7zM236.1 123.5h6.7v6.8h-6.7zM197.8 130h6.7v6.8h-6.7zM242.5 130h6.7v6.8h-6.7zM248.9 130h6.6v6.8h-6.6zM6.4 143h6.7v6.8h-6.7zM70.2 143h6.7v6.8h-6.7zM76.6 143h6.7v6.8h-6.7zM204.2 143h6.7v6.8h-6.7zM236.1 143h6.7v6.8h-6.7zM146.8 149.5h6.6v6.8h-6.6zM153.1 149.5h6.7v6.8h-6.7zM248.9 149.5h6.6v6.8h-6.6zM217 156h6.6v6.8h-6.6zM19.1 162.5h6.7v6.8h-6.7zM134 162.5h6.7v6.8h-6.7zM159.5 162.5h6.7v6.8h-6.7zM185 162.5h6.7v6.8h-6.7zM57.4 169h6.7v6.8h-6.7zM153.1 169h6.7v6.8h-6.7zM19.1 182h6.7v6.8h-6.7zM261.6 182h6.7v6.8h-6.7zM261.6 188.5h6.7v6.8h-6.7zM44.7 195h6.6v6.8h-6.6zM191.4 195h6.7v6.8h-6.7zM102.1 201.5h6.7v6.8h-6.7zM108.5 201.5h6.7v6.8h-6.7zM255.2 201.5h6.7v6.8h-6.7zM127.6 208h6.7v6.8h-6.7zM44.7 214.5h6.6v6.8h-6.6zM51 214.5h6.7v6.8h-6.7zM63.8 221h6.7v6.8h-6.7zM89.3 221h6.7v6.8h-6.7zM95.7 221h6.7v6.8h-6.7zM121.2 221h6.7v6.8h-6.7zM236.1 221h6.7v6.8h-6.7zM210.6 227.5h6.7v6.8h-6.7zM146.8 234h6.6v6.8h-6.6zM159.5 234h6.7v6.8h-6.7zM0 240.5h6.7v6.8h-6.7zM6.4 247h6.7v6.8h-6.7zM191.4 247h6.7v6.8h-6.7zM197.8 247h6.7v6.8h-6.7zM217 247h6.6v6.8h-6.6zM229.7 247h6.7v6.8h-6.7zM38.3 253.5h6.7v6.8h-6.7zM83 253.5h6.6v6.8h-6.6zM108.5 253.5h6.7v6.8h-6.7zM140.4 253.5h6.7v6.8h-6.7zM159.5 253.5h6.7v6.8h-6.7zM204.2 253.5h6.7v6.8h-6.7zM25.5 260h6.7v6.8h-6.7zM31.9 260h6.7v6.8h-6.7zM178.7 260h6.6v6.8h-6.6zM185 260h6.7v6.8h-6.7zM204.2 260h6.7v6.8h-6.7zM210.6 260h6.7v6.8h-6.7zM255.2 260h6.7v6.8h-6.7zM19.1 266.5h6.7v6.8h-6.7zM146.8 266.5h6.6v6.8h-6.6zM223.3 266.5h6.7v6.8h-6.7z"/><path fill="#053d23" d="M57.4 0h6.7v6.8h-6.7zM63.8 6.5h6.7v6.8h-6.7zM95.7 6.5h6.7v6.8h-6.7zM19.1 13h6.7v6.8h-6.7zM63.8 13h6.7v6.8h-6.7zM70.2 13h6.7v6.8h-6.7zM127.6 13h6.7v6.8h-6.7zM153.1 13h6.7v6.8h-6.7zM159.5 13h6.7v6.8h-6.7zM197.8 13h6.7v6.8h-6.7zM204.2 13h6.7v6.8h-6.7zM261.6 13h6.7v6.8h-6.7zM6.4 19.5h6.7v6.8h-6.7zM38.3 19.5h6.7v6.8h-6.7zM114.9 19.5h6.6v6.8h-6.6zM127.6 19.5h6.7v6.8h-6.7zM159.5 19.5h6.7v6.8h-6.7zM204.2 19.5h6.7v6.8h-6.7zM210.6 19.5h6.7v6.8h-6.7zM229.7 19.5h6.7v6.8h-6.7zM255.2 19.5h6.7v6.8h-6.7zM261.6 19.5h6.7v6.8h-6.7zM6.4 26h6.7v6.8h-6.7zM89.3 26h6.7v6.8h-6.7zM159.5 26h6.7v6.8h-6.7zM223.3 26h6.7v6.8h-6.7zM255.2 26h6.7v6.8h-6.7zM6.4 32.5h6.7v6.8h-6.7zM248.9 32.5h6.6v6.8h-6.6zM38.3 39h6.7v6.8h-6.7zM44.7 39h6.6v6.8h-6.6zM223.3 39h6.7v6.8h-6.7zM0 45.5h6.7v6.8h-6.7zM12.8 45.5h6.6v6.8h-6.6zM38.3 45.5h6.7v6.8h-6.7zM95.7 45.5h6.7v6.8h-6.7zM102.1 45.5h6.7v6.8h-6.7zM127.6 45.5h6.7v6.8h-6.7zM153.1 45.5h6.7v6.8h-6.7zM223.3 45.5h6.7v6.8h-6.7zM229.7 45.5h6.7v6.8h-6.7zM236.1 45.5h6.7v6.8h-6.7zM255.2 45.5h6.7v6.8h-6.7zM25.5 52h6.7v6.8h-6.7zM76.6 52h6.7v6.8h-6.7zM89.3 52h6.7v6.8h-6.7zM134 52h6.7v6.8h-6.7zM153.1 52h6.7v6.8h-6.7zM165.9 52h6.7v6.8h-6.7zM242.5 52h6.7v6.8h-6.7zM248.9 52h6.6v6.8h-6.6zM0 58.5h6.7v6.8h-6.7zM108.5 58.5h6.7v6.8h-6.7zM172.3 58.5h6.7v6.8h-6.7zM12.8 65h6.6v6.8h-6.6zM51 65h6.7v6.8h-6.7zM63.8 65h6.7v6.8h-6.7zM121.2 65h6.7v6.8h-6.7zM134 65h6.7v6.8h-6.7zM210.6 65h6.7v6.8h-6.7zM229.7 65h6.7v6.8h-6.7zM261.6 65h6.7v6.8h-6.7zM57.4 71.5h6.7v6.8h-6.7zM159.5 71.5h6.7v6.8h-6.7zM229.7 71.5h6.7v6.8h-6.7zM44.7 78h6.6v6.8h-6.6zM197.8 78h6.7v6.8h-6.7zM102.1 84.5h6.7v6.8h-6.7zM159.5 84.5h6.7v6.8h-6.7zM185 84.5h6.7v6.8h-6.7zM255.2 84.5h6.7v6.8h-6.7zM165.9 91h6.7v6.8h-6.7zM63.8 97.5h6.7v6.8h-6.7zM83 97.5h6.6v6.8h-6.6zM89.3 97.5h6.7v6.8h-6.7zM172.3 97.5h6.7v6.8h-6.7zM178.7 97.5h6.6v6.8h-6.6zM197.8 97.5h6.7v6.8h-6.7zM242.5 97.5h6.7v6.8h-6.7zM38.3 104h6.7v6.8h-6.7zM83 104h6.6v6.8h-6.6zM121.2 104h6.7v6.8h-6.7zM165.9 104h6.7v6.8h-6.7zM223.3 104h6.7v6.8h-6.7zM236.1 104h6.7v6.8h-6.7zM127.6 110.5h6.7v6.8h-6.7zM261.6 110.5h6.7v6.8h-6.7zM6.4 117h6.7v6.8h-6.7zM57.4 117h6.7v6.8h-6.7zM63.8 117h6.7v6.8h-6.7zM76.6 117h6.7v6.8h-6.7zM134 117h6.7v6.8h-6.7zM153.1 117h6.7v6.8h-6.7zM57.4 123.5h6.7v6.8h-6.7zM223.3 123.5h6.7v6.8h-6.7zM248.9 123.5h6.6v6.8h-6.6zM6.4 149.5h6.7v6.8h-6.7zM114.9 149.5h6.6v6.8h-6.6zM127.6 149.5h6.7v6.8h-6.7zM159.5 149.5h6.7v6.8h-6.7zM178.7 149.5h6.6v6.8h-6.6zM185 149.5h6.7v6.8h-6.7zM197.8 149.5h6.7v6.8h-6.7zM261.6 149.5h6.7v6.8h-6.7zM70.2 156h6.7v6.8h-6.7zM185 156h6.7v6.8h-6.7zM204.2 156h6.7v6.8h-6.7zM223.3 156h6.7v6.8h-6.7zM6.4 162.5h6.7v6.8h-6.7zM102.1 162.5h6.7v6.8h-6.7zM191.4 162.5h6.7v6.8h-6.7zM6.4 169h6.7v6.8h-6.7zM31.9 169h6.7v6.8h-6.7zM44.7 169h6.6v6.8h-6.6zM261.6 169h6.7v6.8h-6.7zM31.9 175.5h6.7v6.8h-6.7zM261.6 175.5h6.7v6.8h-6.7zM159.5 195h6.7v6.8h-6.7zM255.2 195h6.7v6.8h-6.7zM159.5 201.5h6.7v6.8h-6.7zM146.8 208h6.6v6.8h-6.6zM185 208h6.7v6.8h-6.7zM204.2 208h6.7v6.8h-6.7zM242.5 208h6.7v6.8h-6.7zM12.8 214.5h6.6v6.8h-6.6zM76.6 214.5h6.7v6.8h-6.7zM83 214.5h6.6v6.8h-6.6zM153.1 214.5h6.7v6.8h-6.7zM159.5 214.5h6.7v6.8h-6.7zM70.2 221h6.7v6.8h-6.7zM146.8 221h6.6v6.8h-6.6zM178.7 221h6.6v6.8h-6.6zM242.5 221h6.7v6.8h-6.7zM255.2 221h6.7v6.8h-6.7zM6.4 227.5h6.7v6.8h-6.7zM159.5 227.5h6.7v6.8h-6.7zM172.3 227.5h6.7v6.8h-6.7zM229.7 227.5h6.7v6.8h-6.7zM0 234h6.7v6.8h-6.7zM57.4 234h6.7v6.8h-6.7zM165.9 240.5h6.7v6.8h-6.7zM204.2 240.5h6.7v6.8h-6.7zM229.7 240.5h6.7v6.8h-6.7zM255.2 240.5h6.7v6.8h-6.7zM44.7 247h6.6v6.8h-6.6zM51 247h6.7v6.8h-6.7zM134 247h6.7v6.8h-6.7zM236.1 247h6.7v6.8h-6.7zM261.6 247h6.7v6.8h-6.7zM70.2 253.5h6.7v6.8h-6.7zM172.3 253.5h6.7v6.8h-6.7zM255.2 253.5h6.7v6.8h-6.7zM197.8 260h6.7v6.8h-6.7zM248.9 260h6.6v6.8h-6.6zM0 266.5h6.7v6.8h-6.7zM63.8 266.5h6.7v6.8h-6.7zM76.6 266.5h6.7v6.8h-6.7zM83 266.5h6.6v6.8h-6.6zM255.2 266.5h6.7v6.8h-6.7zM261.6 266.5h6.7v6.8h-6.7z"/><path fill="#04331c" d="M242.5 0h6.7v6.8h-6.7zM255.2 0h6.7v6.8h-6.7zM0 6.5h6.7v6.8h-6.7zM12.8 6.5h6.6v6.8h-6.6zM70.2 6.5h6.7v6.8h-6.7zM83 6.5h6.6v6.8h-6.6zM165.9 6.5h6.7v6.8h-6.7zM172.3 6.5h6.7v6.8h-6.7zM191.4 6.5h6.7v6.8h-6.7zM204.2 6.5h6.7v6.8h-6.7zM217 6.5h6.6v6.8h-6.6zM229.7 6.5h6.7v6.8h-6.7zM236.1 6.5h6.7v6.8h-6.7zM261.6 6.5h6.7v6.8h-6.7zM44.7 13h6.6v6.8h-6.6zM114.9 13h6.6v6.8h-6.6zM172.3 13h6.7v6.8h-6.7zM178.7 13h6.6v6.8h-6.6zM223.3 13h6.7v6.8h-6.7zM83 19.5h6.6v6.8h-6.6zM121.2 19.5h6.7v6.8h-6.7zM191.4 19.5h6.7v6.8h-6.7zM44.7 26h6.6v6.8h-6.6zM95.7 26h6.7v6.8h-6.7zM102.1 26h6.7v6.8h-6.7zM146.8 26h6.6v6.8h-6.6zM191.4 26h6.7v6.8h-6.7zM197.8 26h6.7v6.8h-6.7zM217 26h6.6v6.8h-6.6zM0 32.5h6.7v6.8h-6.7zM95.7 39h6.7v6.8h-6.7zM140.4 39h6.7v6.8h-6.7zM248.9 39h6.6v6.8h-6.6zM255.2 39h6.7v6.8h-6.7zM6.4 45.5h6.7v6.8h-6.7zM19.1 45.5h6.7v6.8h-6.7zM178.7 45.5h6.6v6.8h-6.6zM204.2 45.5h6.7v6.8h-6.7zM210.6 45.5h6.7v6.8h-6.7zM83 52h6.6v6.8h-6.6zM121.2 52h6.7v6.8h-6.7zM140.4 52h6.7v6.8h-6.7zM172.3 52h6.7v6.8h-6.7zM197.8 52h6.7v6.8h-6.7zM204.2 52h6.7v6.8h-6.7zM223.3 52h6.7v6.8h-6.7zM255.2 52h6.7v6.8h-6.7zM261.6 52h6.7v6.8h-6.7zM51 58.5h6.7v6.8h-6.7zM140.4 58.5h6.7v6.8h-6.7zM153.1 58.5h6.7v6.8h-6.7zM229.7 58.5h6.7v6.8h-6.7zM0 65h6.7v6.8h-6.7zM185 65h6.7v6.8h-6.7zM255.2 65h6.7v6.8h-6.7zM6.4 71.5h6.7v6.8h-6.7zM51 71.5h6.7v6.8h-6.7zM153.1 71.5h6.7v6.8h-6.7zM178.7 71.5h6.6v6.8h-6.6zM242.5 71.5h6.7v6.8h-6.7zM95.7 78h6.7v6.8h-6.7zM146.8 78h6.6v6.8h-6.6zM248.9 78h6.6v6.8h-6.6zM38.3 84.5h6.7v6.8h-6.7zM6.4 91h6.7v6.8h-6.7zM95.7 91h6.7v6.8h-6.7zM108.5 91h6.7v6.8h-6.7zM153.1 91h6.7v6.8h-6.7zM242.5 91h6.7v6.8h-6.7zM102.1 97.5h6.7v6.8h-6.7zM134 97.5h6.7v6.8h-6.7zM185 97.5h6.7v6.8h-6.7zM210.6 97.5h6.7v6.8h-6.7zM217 97.5h6.6v6.8h-6.6zM223.3 97.5h6.7v6.8h-6.7zM236.1 97.5h6.7v6.8h-6.7zM255.2 97.5h6.7v6.8h-6.7zM76.6 104h6.7v6.8h-6.7zM127.6 104h6.7v6.8h-6.7zM185 104h6.7v6.8h-6.7zM31.9 110.5h6.7v6.8h-6.7zM38.3 110.5h6.7v6.8h-6.7zM51 110.5h6.7v6.8h-6.7zM63.8 110.5h6.7v6.8h-6.7zM76.6 110.5h6.7v6.8h-6.7zM159.5 110.5h6.7v6.8h-6.7zM191.4 110.5h6.7v6.8h-6.7zM229.7 110.5h6.7v6.8h-6.7zM0 117h6.7v6.8h-6.7zM140.4 117h6.7v6.8h-6.7zM165.9 117h6.7v6.8h-6.7zM0 123.5h6.7v6.8h-6.7zM38.3 123.5h6.7v6.8h-6.7zM51 123.5h6.7v6.8h-6.7zM204.2 123.5h6.7v6.8h-6.7zM25.5 130h6.7v6.8h-6.7zM6.4 136.5h6.7v6.8h-6.7zM19.1 136.5h6.7v6.8h-6.7zM191.4 143h6.7v6.8h-6.7zM197.8 143h6.7v6.8h-6.7zM210.6 143h6.7v6.8h-6.7zM19.1 149.5h6.7v6.8h-6.7zM38.3 149.5h6.7v6.8h-6.7zM165.9 149.5h6.7v6.8h-6.7zM57.4 156h6.7v6.8h-6.7zM127.6 156h6.7v6.8h-6.7zM146.8 156h6.6v6.8h-6.6zM159.5 156h6.7v6.8h-6.7zM178.7 156h6.6v6.8h-6.6zM31.9 162.5h6.7v6.8h-6.7zM76.6 162.5h6.7v6.8h-6.7zM197.8 162.5h6.7v6.8h-6.7zM236.1 162.5h6.7v6.8h-6.7zM242.5 162.5h6.7v6.8h-6.7zM255.2 162.5h6.7v6.8h-6.7zM51 169h6.7v6.8h-6.7zM178.7 169h6.6v6.8h-6.6zM12.8 175.5h6.6v6.8h-6.6zM191.4 182h6.7v6.8h-6.7zM6.4 188.5h6.7v6.8h-6.7zM236.1 188.5h6.7v6.8h-6.7zM242.5 188.5h6.7v6.8h-6.7zM255.2 188.5h6.7v6.8h-6.7zM19.1 195h6.7v6.8h-6.7zM261.6 195h6.7v6.8h-6.7zM19.1 201.5h6.7v6.8h-6.7zM178.7 201.5h6.6v6.8h-6.6zM223.3 201.5h6.7v6.8h-6.7zM229.7 201.5h6.7v6.8h-6.7zM248.9 201.5h6.6v6.8h-6.6zM0 208h6.7v6.8h-6.7zM76.6 208h6.7v6.8h-6.7zM140.4 208h6.7v6.8h-6.7zM217 208h6.6v6.8h-6.6zM236.1 208h6.7v6.8h-6.7zM0 214.5h6.7v6.8h-6.7zM6.4 214.5h6.7v6.8h-6.7zM25.5 214.5h6.7v6.8h-6.7zM185 214.5h6.7v6.8h-6.7zM261.6 214.5h6.7v6.8h-6.7zM76.6 221h6.7v6.8h-6.7zM140.4 221h6.7v6.8h-6.7zM248.9 221h6.6v6.8h-6.6zM165.9 227.5h6.7v6.8h-6.7zM255.2 227.5h6.7v6.8h-6.7zM44.7 234h6.6v6.8h-6.6zM51 234h6.7v6.8h-6.7zM63.8 234h6.7v6.8h-6.7zM172.3 240.5h6.7v6.8h-6.7zM217 240.5h6.6v6.8h-6.6zM83 247h6.6v6.8h-6.6zM146.8 247h6.6v6.8h-6.6zM25.5 253.5h6.7v6.8h-6.7zM114.9 253.5h6.6v6.8h-6.6zM121.2 253.5h6.7v6.8h-6.7zM146.8 253.5h6.6v6.8h-6.6zM223.3 253.5h6.7v6.8h-6.7zM140.4 260h6.7v6.8h-6.7zM57.4 266.5h6.7v6.8h-6.7zM140.4 266.5h6.7v6.8h-6.7zM153.1 266.5h6.7v6.8h-6.7z"/><path fill="#117049" d="M51 6.5h6.7v6.8h-6.7zM108.5 19.5h6.7v6.8h-6.7zM121.2 26h6.7v6.8h-6.7zM31.9 32.5h6.7v6.8h-6.7zM102.1 32.5h6.7v6.8h-6.7zM178.7 32.5h6.6v6.8h-6.6zM25.5 45.5h6.7v6.8h-6.7zM76.6 45.5h6.7v6.8h-6.7zM165.9 45.5h6.7v6.8h-6.7zM114.9 65h6.6v6.8h-6.6zM76.6 71.5h6.7v6.8h-6.7zM114.9 71.5h6.6v6.8h-6.6zM223.3 71.5h6.7v6.8h-6.7zM185 78h6.7v6.8h-6.7zM0 84.5h6.7v6.8h-6.7zM83 84.5h6.6v6.8h-6.6zM44.7 91h6.6v6.8h-6.6zM76.6 91h6.7v6.8h-6.7zM121.2 91h6.7v6.8h-6.7zM185 91h6.7v6.8h-6.7zM204.2 91h6.7v6.8h-6.7zM229.7 91h6.7v6.8h-6.7zM255.2 91h6.7v6.8h-6.7zM76.6 97.5h6.7v6.8h-6.7zM108.5 97.5h6.7v6.8h-6.7zM114.9 97.5h6.6v6.8h-6.6zM140.4 97.5h6.7v6.8h-6.7zM146.8 97.5h6.6v6.8h-6.6zM25.5 104h6.7v6.8h-6.7zM70.2 104h6.7v6.8h-6.7zM159.5 104h6.7v6.8h-6.7zM44.7 110.5h6.6v6.8h-6.6zM102.1 110.5h6.7v6.8h-6.7zM121.2 110.5h6.7v6.8h-6.7zM172.3 110.5h6.7v6.8h-6.7zM197.8 110.5h6.7v6.8h-6.7zM31.9 117h6.7v6.8h-6.7zM51 117h6.7v6.8h-6.7zM255.2 123.5h6.7v6.8h-6.7zM0 130h6.7v6.8h-6.7zM83 130h6.6v6.8h-6.6zM31.9 136.5h6.7v6.8h-6.7zM57.4 136.5h6.7v6.8h-6.7zM76.6 136.5h6.7v6.8h-6.7zM185 136.5h6.7v6.8h-6.7zM248.9 136.5h6.6v6.8h-6.6zM261.6 136.5h6.7v6.8h-6.7zM0 143h6.7v6.8h-6.7zM51 143h6.7v6.8h-6.7zM114.9 143h6.6v6.8h-6.6zM140.4 143h6.7v6.8h-6.7zM159.5 143h6.7v6.8h-6.7zM172.3 149.5h6.7v6.8h-6.7zM191.4 149.5h6.7v6.8h-6.7zM63.8 156h6.7v6.8h-6.7zM76.6 156h6.7v6.8h-6.7zM102.1 156h6.7v6.8h-6.7zM210.6 156h6.7v6.8h-6.7zM108.5 162.5h6.7v6.8h-6.7zM223.3 162.5h6.7v6.8h-6.7zM248.9 162.5h6.6v6.8h-6.6zM0 169h6.7v6.8h-6.7zM19.1 169h6.7v6.8h-6.7zM159.5 169h6.7v6.8h-6.7zM255.2 169h6.7v6.8h-6.7zM38.3 175.5h6.7v6.8h-6.7zM51 175.5h6.7v6.8h-6.7zM229.7 182h6.7v6.8h-6.7zM0 188.5h6.7v6.8h-6.7zM57.4 188.5h6.7v6.8h-6.7zM191.4 188.5h6.7v6.8h-6.7zM153.1 195h6.7v6.8h-6.7zM121.2 201.5h6.7v6.8h-6.7zM127.6 201.5h6.7v6.8h-6.7zM185 201.5h6.7v6.8h-6.7zM204.2 201.5h6.7v6.8h-6.7zM19.1 208h6.7v6.8h-6.7zM51 208h6.7v6.8h-6.7zM121.2 208h6.7v6.8h-6.7zM134 208h6.7v6.8h-6.7zM223.3 208h6.7v6.8h-6.7zM38.3 214.5h6.7v6.8h-6.7zM114.9 214.5h6.6v6.8h-6.6zM191.4 214.5h6.7v6.8h-6.7zM248.9 214.5h6.6v6.8h-6.6zM255.2 214.5h6.7v6.8h-6.7zM6.4 221h6.7v6.8h-6.7zM31.9 221h6.7v6.8h-6.7zM57.4 221h6.7v6.8h-6.7zM172.3 221h6.7v6.8h-6.7zM83 227.5h6.6v6.8h-6.6zM89.3 227.5h6.7v6.8h-6.7zM121.2 227.5h6.7v6.8h-6.7zM153.1 227.5h6.7v6.8h-6.7zM178.7 227.5h6.6v6.8h-6.6zM217 227.5h6.6v6.8h-6.6zM165.9 234h6.7v6.8h-6.7zM185 234h6.7v6.8h-6.7zM12.8 240.5h6.6v6.8h-6.6zM70.2 240.5h6.7v6.8h-6.7zM76.6 240.5h6.7v6.8h-6.7zM159.5 240.5h6.7v6.8h-6.7zM178.7 240.5h6.6v6.8h-6.6zM197.8 240.5h6.7v6.8h-6.7zM210.6 240.5h6.7v6.8h-6.7zM12.8 247h6.6v6.8h-6.6zM76.6 247h6.7v6.8h-6.7zM140.4 247h6.7v6.8h-6.7zM57.4 253.5h6.7v6.8h-6.7zM178.7 253.5h6.6v6.8h-6.6zM70.2 260h6.7v6.8h-6.7zM89.3 260h6.7v6.8h-6.7zM229.7 260h6.7v6.8h-6.7zM108.5 266.5h6.7v6.8h-6.7zM114.9 266.5h6.6v6.8h-6.6z"/><path fill="#085131" d="M57.4 6.5h6.7v6.8h-6.7zM76.6 13h6.7v6.8h-6.7zM191.4 13h6.7v6.8h-6.7zM12.8 19.5h6.6v6.8h-6.6zM19.1 19.5h6.7v6.8h-6.7zM31.9 19.5h6.7v6.8h-6.7zM146.8 19.5h6.6v6.8h-6.6zM153.1 26h6.7v6.8h-6.7zM229.7 26h6.7v6.8h-6.7zM134 32.5h6.7v6.8h-6.7zM191.4 32.5h6.7v6.8h-6.7zM197.8 32.5h6.7v6.8h-6.7zM223.3 32.5h6.7v6.8h-6.7zM57.4 39h6.7v6.8h-6.7zM83 39h6.6v6.8h-6.6zM146.8 39h6.6v6.8h-6.6zM229.7 39h6.7v6.8h-6.7zM89.3 45.5h6.7v6.8h-6.7zM108.5 45.5h6.7v6.8h-6.7zM134 45.5h6.7v6.8h-6.7zM242.5 45.5h6.7v6.8h-6.7zM31.9 52h6.7v6.8h-6.7zM44.7 52h6.6v6.8h-6.6zM51 52h6.7v6.8h-6.7zM44.7 58.5h6.6v6.8h-6.6zM70.2 58.5h6.7v6.8h-6.7zM6.4 65h6.7v6.8h-6.7zM102.1 65h6.7v6.8h-6.7zM108.5 65h6.7v6.8h-6.7zM172.3 65h6.7v6.8h-6.7zM217 65h6.6v6.8h-6.6zM185 71.5h6.7v6.8h-6.7zM197.8 71.5h6.7v6.8h-6.7zM204.2 71.5h6.7v6.8h-6.7zM248.9 71.5h6.6v6.8h-6.6zM51 78h6.7v6.8h-6.7zM159.5 78h6.7v6.8h-6.7zM242.5 78h6.7v6.8h-6.7zM229.7 84.5h6.7v6.8h-6.7zM31.9 91h6.7v6.8h-6.7zM102.1 91h6.7v6.8h-6.7zM146.8 91h6.6v6.8h-6.6zM51 97.5h6.7v6.8h-6.7zM95.7 97.5h6.7v6.8h-6.7zM19.1 104h6.7v6.8h-6.7zM63.8 104h6.7v6.8h-6.7zM102.1 104h6.7v6.8h-6.7zM134 104h6.7v6.8h-6.7zM178.7 104h6.6v6.8h-6.6zM229.7 104h6.7v6.8h-6.7zM204.2 110.5h6.7v6.8h-6.7zM38.3 117h6.7v6.8h-6.7zM121.2 117h6.7v6.8h-6.7zM146.8 117h6.6v6.8h-6.6zM261.6 117h6.7v6.8h-6.7zM19.1 130h6.7v6.8h-6.7zM0 136.5h6.7v6.8h-6.7zM12.8 143h6.6v6.8h-6.6zM44.7 143h6.6v6.8h-6.6zM57.4 143h6.7v6.8h-6.7zM134 143h6.7v6.8h-6.7zM248.9 143h6.6v6.8h-6.6zM261.6 143h6.7v6.8h-6.7zM63.8 149.5h6.7v6.8h-6.7zM76.6 149.5h6.7v6.8h-6.7zM108.5 149.5h6.7v6.8h-6.7zM223.3 149.5h6.7v6.8h-6.7zM12.8 156h6.6v6.8h-6.6zM236.1 156h6.7v6.8h-6.7zM140.4 162.5h6.7v6.8h-6.7zM197.8 169h6.7v6.8h-6.7zM6.4 175.5h6.7v6.8h-6.7zM95.7 175.5h6.7v6.8h-6.7zM25.5 188.5h6.7v6.8h-6.7zM159.5 188.5h6.7v6.8h-6.7zM51 195h6.7v6.8h-6.7zM76.6 195h6.7v6.8h-6.7zM89.3 195h6.7v6.8h-6.7zM146.8 195h6.6v6.8h-6.6zM6.4 201.5h6.7v6.8h-6.7zM31.9 201.5h6.7v6.8h-6.7zM51 201.5h6.7v6.8h-6.7zM6.4 208h6.7v6.8h-6.7zM255.2 208h6.7v6.8h-6.7zM102.1 214.5h6.7v6.8h-6.7zM134 214.5h6.7v6.8h-6.7zM19.1 221h6.7v6.8h-6.7zM185 221h6.7v6.8h-6.7zM12.8 227.5h6.6v6.8h-6.6zM31.9 227.5h6.7v6.8h-6.7zM38.3 227.5h6.7v6.8h-6.7zM6.4 234h6.7v6.8h-6.7zM12.8 234h6.6v6.8h-6.6zM76.6 234h6.7v6.8h-6.7zM140.4 234h6.7v6.8h-6.7zM217 234h6.6v6.8h-6.6zM255.2 234h6.7v6.8h-6.7zM38.3 240.5h6.7v6.8h-6.7zM63.8 240.5h6.7v6.8h-6.7zM134 240.5h6.7v6.8h-6.7zM89.3 247h6.7v6.8h-6.7zM178.7 247h6.6v6.8h-6.6zM204.2 247h6.7v6.8h-6.7zM12.8 253.5h6.6v6.8h-6.6zM95.7 253.5h6.7v6.8h-6.7zM191.4 253.5h6.7v6.8h-6.7zM242.5 253.5h6.7v6.8h-6.7zM261.6 253.5h6.7v6.8h-6.7zM19.1 260h6.7v6.8h-6.7zM172.3 260h6.7v6.8h-6.7zM236.1 260h6.7v6.8h-6.7zM12.8 266.5h6.6v6.8h-6.6zM25.5 266.5h6.7v6.8h-6.7zM38.3 266.5h6.7v6.8h-6.7zM70.2 266.5h6.7v6.8h-6.7zM191.4 266.5h6.7v6.8h-6.7zM197.8 266.5h6.7v6.8h-6.7z"/><path fill="#030a09" d="M140.4 6.5h6.7v6.8h-6.7z"/><path fill="#0b5c39" d="M38.3 13h6.7v6.8h-6.7zM51 19.5h6.7v6.8h-6.7zM57.4 19.5h6.7v6.8h-6.7zM153.1 19.5h6.7v6.8h-6.7zM248.9 19.5h6.6v6.8h-6.6zM51 26h6.7v6.8h-6.7zM108.5 26h6.7v6.8h-6.7zM178.7 26h6.6v6.8h-6.6zM159.5 32.5h6.7v6.8h-6.7zM0 39h6.7v6.8h-6.7zM121.2 39h6.7v6.8h-6.7zM51 45.5h6.7v6.8h-6.7zM140.4 45.5h6.7v6.8h-6.7zM19.1 52h6.7v6.8h-6.7zM108.5 52h6.7v6.8h-6.7zM19.1 58.5h6.7v6.8h-6.7zM83 58.5h6.6v6.8h-6.6zM44.7 65h6.6v6.8h-6.6zM76.6 65h6.7v6.8h-6.7zM38.3 71.5h6.7v6.8h-6.7zM108.5 71.5h6.7v6.8h-6.7zM134 71.5h6.7v6.8h-6.7zM217 71.5h6.6v6.8h-6.6zM0 78h6.7v6.8h-6.7zM89.3 78h6.7v6.8h-6.7zM134 78h6.7v6.8h-6.7zM95.7 84.5h6.7v6.8h-6.7zM140.4 84.5h6.7v6.8h-6.7zM153.1 84.5h6.7v6.8h-6.7zM197.8 91h6.7v6.8h-6.7zM261.6 91h6.7v6.8h-6.7zM12.8 97.5h6.6v6.8h-6.6zM19.1 97.5h6.7v6.8h-6.7zM38.3 97.5h6.7v6.8h-6.7zM44.7 97.5h6.6v6.8h-6.6zM89.3 104h6.7v6.8h-6.7zM95.7 104h6.7v6.8h-6.7zM134 110.5h6.7v6.8h-6.7zM146.8 110.5h6.6v6.8h-6.6zM153.1 110.5h6.7v6.8h-6.7zM178.7 110.5h6.6v6.8h-6.6zM19.1 117h6.7v6.8h-6.7zM89.3 117h6.7v6.8h-6.7zM127.6 117h6.7v6.8h-6.7zM178.7 117h6.6v6.8h-6.6zM191.4 117h6.7v6.8h-6.7zM229.7 117h6.7v6.8h-6.7zM6.4 123.5h6.7v6.8h-6.7zM70.2 123.5h6.7v6.8h-6.7zM121.2 123.5h6.7v6.8h-6.7zM146.8 123.5h6.6v6.8h-6.6zM217 123.5h6.6v6.8h-6.6zM261.6 123.5h6.7v6.8h-6.7zM236.1 136.5h6.7v6.8h-6.7zM255.2 136.5h6.7v6.8h-6.7zM31.9 149.5h6.7v6.8h-6.7zM70.2 149.5h6.7v6.8h-6.7zM204.2 149.5h6.7v6.8h-6.7zM242.5 149.5h6.7v6.8h-6.7zM0 156h6.7v6.8h-6.7zM6.4 156h6.7v6.8h-6.7zM51 156h6.7v6.8h-6.7zM89.3 156h6.7v6.8h-6.7zM172.3 156h6.7v6.8h-6.7zM261.6 156h6.7v6.8h-6.7zM0 162.5h6.7v6.8h-6.7zM114.9 162.5h6.6v6.8h-6.6zM261.6 162.5h6.7v6.8h-6.7zM102.1 169h6.7v6.8h-6.7zM217 169h6.6v6.8h-6.6zM242.5 169h6.7v6.8h-6.7zM248.9 169h6.6v6.8h-6.6zM146.8 175.5h6.6v6.8h-6.6zM6.4 182h6.7v6.8h-6.7zM25.5 182h6.7v6.8h-6.7zM140.4 182h6.7v6.8h-6.7zM229.7 195h6.7v6.8h-6.7zM236.1 195h6.7v6.8h-6.7zM0 201.5h6.7v6.8h-6.7zM63.8 201.5h6.7v6.8h-6.7zM63.8 208h6.7v6.8h-6.7zM114.9 208h6.6v6.8h-6.6zM165.9 208h6.7v6.8h-6.7zM89.3 214.5h6.7v6.8h-6.7zM140.4 214.5h6.7v6.8h-6.7zM236.1 214.5h6.7v6.8h-6.7zM242.5 214.5h6.7v6.8h-6.7zM0 221h6.7v6.8h-6.7zM114.9 221h6.6v6.8h-6.6zM153.1 221h6.7v6.8h-6.7zM191.4 221h6.7v6.8h-6.7zM210.6 221h6.7v6.8h-6.7zM63.8 227.5h6.7v6.8h-6.7zM134 234h6.7v6.8h-6.7zM51 240.5h6.7v6.8h-6.7zM185 240.5h6.7v6.8h-6.7zM57.4 247h6.7v6.8h-6.7zM102.1 247h6.7v6.8h-6.7zM108.5 247h6.7v6.8h-6.7zM44.7 253.5h6.6v6.8h-6.6zM51 253.5h6.7v6.8h-6.7zM102.1 253.5h6.7v6.8h-6.7zM248.9 253.5h6.6v6.8h-6.6zM57.4 260h6.7v6.8h-6.7zM95.7 260h6.7v6.8h-6.7zM127.6 260h6.7v6.8h-6.7zM165.9 260h6.7v6.8h-6.7zM223.3 260h6.7v6.8h-6.7zM102.1 266.5h6.7v6.8h-6.7zM127.6 266.5h6.7v6.8h-6.7zM165.9 266.5h6.7v6.8h-6.7zM236.1 266.5h6.7v6.8h-6.7z"/><path fill="#24996c" d="M63.8 19.5h6.7v6.8h-6.7zM19.1 26h6.7v6.8h-6.7zM31.9 26h6.7v6.8h-6.7zM57.4 26h6.7v6.8h-6.7zM165.9 26h6.7v6.8h-6.7zM44.7 32.5h6.6v6.8h-6.6zM108.5 32.5h6.7v6.8h-6.7zM63.8 39h6.7v6.8h-6.7zM172.3 39h6.7v6.8h-6.7zM127.6 78h6.7v6.8h-6.7zM140.4 78h6.7v6.8h-6.7zM210.6 84.5h6.7v6.8h-6.7zM127.6 91h6.7v6.8h-6.7zM76.6 123.5h6.7v6.8h-6.7zM127.6 130h6.7v6.8h-6.7zM63.8 136.5h6.7v6.8h-6.7zM159.5 136.5h6.7v6.8h-6.7zM178.7 143h6.6v6.8h-6.6zM83 156h6.6v6.8h-6.6zM108.5 156h6.7v6.8h-6.7zM83 162.5h6.6v6.8h-6.6zM89.3 162.5h6.7v6.8h-6.7zM127.6 162.5h6.7v6.8h-6.7zM70.2 169h6.7v6.8h-6.7zM223.3 169h6.7v6.8h-6.7zM25.5 175.5h6.7v6.8h-6.7zM134 175.5h6.7v6.8h-6.7zM197.8 175.5h6.7v6.8h-6.7zM236.1 175.5h6.7v6.8h-6.7zM134 182h6.7v6.8h-6.7zM159.5 182h6.7v6.8h-6.7zM185 182h6.7v6.8h-6.7zM242.5 182h6.7v6.8h-6.7zM51 188.5h6.7v6.8h-6.7zM89.3 188.5h6.7v6.8h-6.7zM178.7 188.5h6.6v6.8h-6.6zM70.2 195h6.7v6.8h-6.7zM95.7 195h6.7v6.8h-6.7zM70.2 201.5h6.7v6.8h-6.7zM108.5 208h6.7v6.8h-6.7zM172.3 208h6.7v6.8h-6.7zM197.8 214.5h6.7v6.8h-6.7zM83 221h6.6v6.8h-6.6zM108.5 221h6.7v6.8h-6.7zM204.2 221h6.7v6.8h-6.7zM197.8 227.5h6.7v6.8h-6.7zM242.5 227.5h6.7v6.8h-6.7zM25.5 247h6.7v6.8h-6.7zM242.5 247h6.7v6.8h-6.7zM121.2 266.5h6.7v6.8h-6.7z"/><path fill="#0e6641" d="M70.2 19.5h6.7v6.8h-6.7zM0 26h6.7v6.8h-6.7zM134 26h6.7v6.8h-6.7zM140.4 26h6.7v6.8h-6.7zM248.9 26h6.6v6.8h-6.6zM57.4 32.5h6.7v6.8h-6.7zM127.6 32.5h6.7v6.8h-6.7zM19.1 39h6.7v6.8h-6.7zM102.1 39h6.7v6.8h-6.7zM134 39h6.7v6.8h-6.7zM165.9 39h6.7v6.8h-6.7zM185 39h6.7v6.8h-6.7zM242.5 39h6.7v6.8h-6.7zM31.9 45.5h6.7v6.8h-6.7zM57.4 45.5h6.7v6.8h-6.7zM63.8 45.5h6.7v6.8h-6.7zM83 45.5h6.6v6.8h-6.6zM70.2 52h6.7v6.8h-6.7zM25.5 65h6.7v6.8h-6.7zM83 65h6.6v6.8h-6.6zM0 71.5h6.7v6.8h-6.7zM121.2 71.5h6.7v6.8h-6.7zM165.9 71.5h6.7v6.8h-6.7zM210.6 71.5h6.7v6.8h-6.7zM31.9 84.5h6.7v6.8h-6.7zM108.5 84.5h6.7v6.8h-6.7zM191.4 84.5h6.7v6.8h-6.7zM242.5 84.5h6.7v6.8h-6.7zM248.9 84.5h6.6v6.8h-6.6zM38.3 91h6.7v6.8h-6.7zM236.1 91h6.7v6.8h-6.7zM6.4 97.5h6.7v6.8h-6.7zM121.2 97.5h6.7v6.8h-6.7zM127.6 97.5h6.7v6.8h-6.7zM44.7 104h6.6v6.8h-6.6zM95.7 110.5h6.7v6.8h-6.7zM185 110.5h6.7v6.8h-6.7zM83 117h6.6v6.8h-6.6zM95.7 117h6.7v6.8h-6.7zM204.2 117h6.7v6.8h-6.7zM217 117h6.6v6.8h-6.6zM44.7 123.5h6.6v6.8h-6.6zM134 123.5h6.7v6.8h-6.7zM140.4 123.5h6.7v6.8h-6.7zM210.6 123.5h6.7v6.8h-6.7zM12.8 130h6.6v6.8h-6.6zM51 130h6.7v6.8h-6.7zM63.8 130h6.7v6.8h-6.7zM76.6 130h6.7v6.8h-6.7zM185 130h6.7v6.8h-6.7zM191.4 130h6.7v6.8h-6.7zM51 136.5h6.7v6.8h-6.7zM25.5 143h6.7v6.8h-6.7zM38.3 143h6.7v6.8h-6.7zM63.8 143h6.7v6.8h-6.7zM89.3 149.5h6.7v6.8h-6.7zM19.1 156h6.7v6.8h-6.7zM25.5 156h6.7v6.8h-6.7zM38.3 156h6.7v6.8h-6.7zM229.7 156h6.7v6.8h-6.7zM248.9 156h6.6v6.8h-6.6zM255.2 156h6.7v6.8h-6.7zM25.5 162.5h6.7v6.8h-6.7zM95.7 162.5h6.7v6.8h-6.7zM229.7 162.5h6.7v6.8h-6.7zM89.3 169h6.7v6.8h-6.7zM140.4 169h6.7v6.8h-6.7zM191.4 169h6.7v6.8h-6.7zM204.2 169h6.7v6.8h-6.7zM210.6 169h6.7v6.8h-6.7zM0 175.5h6.7v6.8h-6.7zM242.5 175.5h6.7v6.8h-6.7zM153.1 182h6.7v6.8h-6.7zM236.1 182h6.7v6.8h-6.7zM255.2 182h6.7v6.8h-6.7zM19.1 188.5h6.7v6.8h-6.7zM38.3 195h6.7v6.8h-6.7zM165.9 195h6.7v6.8h-6.7zM210.6 195h6.7v6.8h-6.7zM248.9 195h6.6v6.8h-6.6zM12.8 201.5h6.6v6.8h-6.6zM165.9 201.5h6.7v6.8h-6.7zM261.6 201.5h6.7v6.8h-6.7zM102.1 208h6.7v6.8h-6.7zM159.5 208h6.7v6.8h-6.7zM178.7 208h6.6v6.8h-6.6zM197.8 208h6.7v6.8h-6.7zM63.8 214.5h6.7v6.8h-6.7zM108.5 214.5h6.7v6.8h-6.7zM178.7 214.5h6.6v6.8h-6.6zM217 214.5h6.6v6.8h-6.6zM223.3 214.5h6.7v6.8h-6.7zM165.9 221h6.7v6.8h-6.7zM229.7 221h6.7v6.8h-6.7zM236.1 227.5h6.7v6.8h-6.7zM38.3 234h6.7v6.8h-6.7zM178.7 234h6.6v6.8h-6.6zM210.6 234h6.7v6.8h-6.7zM6.4 240.5h6.7v6.8h-6.7zM44.7 240.5h6.6v6.8h-6.6zM127.6 247h6.7v6.8h-6.7zM159.5 247h6.7v6.8h-6.7zM248.9 247h6.6v6.8h-6.6zM255.2 247h6.7v6.8h-6.7zM6.4 253.5h6.7v6.8h-6.7zM31.9 253.5h6.7v6.8h-6.7zM63.8 260h6.7v6.8h-6.7zM76.6 260h6.7v6.8h-6.7zM83 260h6.6v6.8h-6.6zM153.1 260h6.7v6.8h-6.7zM159.5 260h6.7v6.8h-6.7zM31.9 266.5h6.7v6.8h-6.7z"/><path fill="#157a52" d="M76.6 19.5h6.7v6.8h-6.7zM102.1 19.5h6.7v6.8h-6.7zM165.9 19.5h6.7v6.8h-6.7zM178.7 19.5h6.6v6.8h-6.6zM242.5 19.5h6.7v6.8h-6.7zM127.6 39h6.7v6.8h-6.7zM19.1 65h6.7v6.8h-6.7zM12.8 71.5h6.6v6.8h-6.6zM63.8 71.5h6.7v6.8h-6.7zM140.4 71.5h6.7v6.8h-6.7zM57.4 78h6.7v6.8h-6.7zM102.1 78h6.7v6.8h-6.7zM229.7 78h6.7v6.8h-6.7zM57.4 91h6.7v6.8h-6.7zM83 91h6.6v6.8h-6.6zM140.4 91h6.7v6.8h-6.7zM210.6 91h6.7v6.8h-6.7zM223.3 91h6.7v6.8h-6.7zM114.9 110.5h6.6v6.8h-6.6zM44.7 117h6.6v6.8h-6.6zM172.3 117h6.7v6.8h-6.7zM197.8 117h6.7v6.8h-6.7zM210.6 117h6.7v6.8h-6.7zM31.9 123.5h6.7v6.8h-6.7zM63.8 123.5h6.7v6.8h-6.7zM127.6 123.5h6.7v6.8h-6.7zM159.5 123.5h6.7v6.8h-6.7zM31.9 130h6.7v6.8h-6.7zM134 130h6.7v6.8h-6.7zM210.6 130h6.7v6.8h-6.7zM255.2 130h6.7v6.8h-6.7zM242.5 136.5h6.7v6.8h-6.7zM89.3 143h6.7v6.8h-6.7zM165.9 143h6.7v6.8h-6.7zM121.2 149.5h6.7v6.8h-6.7zM95.7 156h6.7v6.8h-6.7zM153.1 156h6.7v6.8h-6.7zM242.5 156h6.7v6.8h-6.7zM70.2 162.5h6.7v6.8h-6.7zM210.6 162.5h6.7v6.8h-6.7zM229.7 169h6.7v6.8h-6.7zM102.1 175.5h6.7v6.8h-6.7zM185 175.5h6.7v6.8h-6.7zM108.5 182h6.7v6.8h-6.7zM197.8 182h6.7v6.8h-6.7zM134 188.5h6.7v6.8h-6.7zM153.1 188.5h6.7v6.8h-6.7zM31.9 195h6.7v6.8h-6.7zM185 195h6.7v6.8h-6.7zM57.4 201.5h6.7v6.8h-6.7zM76.6 201.5h6.7v6.8h-6.7zM146.8 201.5h6.6v6.8h-6.6zM210.6 201.5h6.7v6.8h-6.7zM236.1 201.5h6.7v6.8h-6.7zM12.8 208h6.6v6.8h-6.6zM44.7 208h6.6v6.8h-6.6zM19.1 214.5h6.7v6.8h-6.7zM229.7 214.5h6.7v6.8h-6.7zM217 221h6.6v6.8h-6.6zM44.7 227.5h6.6v6.8h-6.6zM51 227.5h6.7v6.8h-6.7zM76.6 227.5h6.7v6.8h-6.7zM172.3 234h6.7v6.8h-6.7zM57.4 240.5h6.7v6.8h-6.7zM223.3 240.5h6.7v6.8h-6.7zM248.9 240.5h6.6v6.8h-6.6zM31.9 247h6.7v6.8h-6.7zM121.2 247h6.7v6.8h-6.7zM185 247h6.7v6.8h-6.7zM121.2 260h6.7v6.8h-6.7z"/><path fill="#1e8f63" d="M172.3 19.5h6.7v6.8h-6.7zM25.5 39h6.7v6.8h-6.7zM44.7 71.5h6.6v6.8h-6.6zM83 71.5h6.6v6.8h-6.6zM31.9 78h6.7v6.8h-6.7zM83 78h6.6v6.8h-6.6zM12.8 91h6.6v6.8h-6.6zM19.1 91h6.7v6.8h-6.7zM25.5 91h6.7v6.8h-6.7zM70.2 97.5h6.7v6.8h-6.7zM114.9 104h6.6v6.8h-6.6zM89.3 110.5h6.7v6.8h-6.7zM102.1 117h6.7v6.8h-6.7zM108.5 117h6.7v6.8h-6.7zM153.1 123.5h6.7v6.8h-6.7zM25.5 136.5h6.7v6.8h-6.7zM210.6 136.5h6.7v6.8h-6.7zM31.9 143h6.7v6.8h-6.7zM146.8 143h6.6v6.8h-6.6zM57.4 149.5h6.7v6.8h-6.7zM121.2 156h6.7v6.8h-6.7zM63.8 169h6.7v6.8h-6.7zM146.8 169h6.6v6.8h-6.6zM185 169h6.7v6.8h-6.7zM57.4 175.5h6.7v6.8h-6.7zM63.8 175.5h6.7v6.8h-6.7zM153.1 175.5h6.7v6.8h-6.7zM83 188.5h6.6v6.8h-6.6zM108.5 188.5h6.7v6.8h-6.7zM204.2 188.5h6.7v6.8h-6.7zM25.5 195h6.7v6.8h-6.7zM140.4 195h6.7v6.8h-6.7zM204.2 195h6.7v6.8h-6.7zM89.3 201.5h6.7v6.8h-6.7zM191.4 201.5h6.7v6.8h-6.7zM197.8 201.5h6.7v6.8h-6.7zM57.4 208h6.7v6.8h-6.7zM248.9 208h6.6v6.8h-6.6zM57.4 214.5h6.7v6.8h-6.7zM127.6 214.5h6.7v6.8h-6.7zM172.3 214.5h6.7v6.8h-6.7zM197.8 221h6.7v6.8h-6.7zM127.6 234h6.7v6.8h-6.7zM229.7 234h6.7v6.8h-6.7zM19.1 240.5h6.7v6.8h-6.7zM146.8 240.5h6.6v6.8h-6.6zM191.4 240.5h6.7v6.8h-6.7zM185 253.5h6.7v6.8h-6.7z"/><path fill="#19845a" d="M236.1 19.5h6.7v6.8h-6.7zM127.6 26h6.7v6.8h-6.7zM12.8 32.5h6.6v6.8h-6.6zM229.7 32.5h6.7v6.8h-6.7zM89.3 39h6.7v6.8h-6.7zM6.4 52h6.7v6.8h-6.7zM12.8 58.5h6.6v6.8h-6.6zM70.2 65h6.7v6.8h-6.7zM127.6 71.5h6.7v6.8h-6.7zM108.5 78h6.7v6.8h-6.7zM178.7 78h6.6v6.8h-6.6zM134 84.5h6.7v6.8h-6.7zM178.7 84.5h6.6v6.8h-6.6zM204.2 84.5h6.7v6.8h-6.7zM63.8 91h6.7v6.8h-6.7zM134 91h6.7v6.8h-6.7zM172.3 91h6.7v6.8h-6.7zM178.7 91h6.6v6.8h-6.6zM108.5 104h6.7v6.8h-6.7zM83 110.5h6.6v6.8h-6.6zM108.5 110.5h6.7v6.8h-6.7zM70.2 117h6.7v6.8h-6.7zM255.2 117h6.7v6.8h-6.7zM185 123.5h6.7v6.8h-6.7zM229.7 123.5h6.7v6.8h-6.7zM57.4 130h6.7v6.8h-6.7zM70.2 130h6.7v6.8h-6.7zM204.2 130h6.7v6.8h-6.7zM12.8 136.5h6.6v6.8h-6.6zM70.2 136.5h6.7v6.8h-6.7zM134 136.5h6.7v6.8h-6.7zM197.8 136.5h6.7v6.8h-6.7zM83 143h6.6v6.8h-6.6zM185 143h6.7v6.8h-6.7zM223.3 143h6.7v6.8h-6.7zM210.6 149.5h6.7v6.8h-6.7zM217 149.5h6.6v6.8h-6.6zM140.4 156h6.7v6.8h-6.7zM25.5 169h6.7v6.8h-6.7zM76.6 169h6.7v6.8h-6.7zM108.5 175.5h6.7v6.8h-6.7zM204.2 175.5h6.7v6.8h-6.7zM217 175.5h6.6v6.8h-6.6zM248.9 188.5h6.6v6.8h-6.6zM57.4 195h6.7v6.8h-6.7zM108.5 195h6.7v6.8h-6.7zM95.7 201.5h6.7v6.8h-6.7zM31.9 208h6.7v6.8h-6.7zM31.9 214.5h6.7v6.8h-6.7zM146.8 214.5h6.6v6.8h-6.6zM25.5 221h6.7v6.8h-6.7zM38.3 221h6.7v6.8h-6.7zM25.5 227.5h6.7v6.8h-6.7zM57.4 227.5h6.7v6.8h-6.7zM127.6 227.5h6.7v6.8h-6.7zM134 227.5h6.7v6.8h-6.7zM70.2 234h6.7v6.8h-6.7zM223.3 234h6.7v6.8h-6.7zM83 240.5h6.6v6.8h-6.6zM89.3 240.5h6.7v6.8h-6.7zM140.4 240.5h6.7v6.8h-6.7zM236.1 240.5h6.7v6.8h-6.7zM19.1 247h6.7v6.8h-6.7zM38.3 247h6.7v6.8h-6.7zM95.7 247h6.7v6.8h-6.7zM114.9 247h6.6v6.8h-6.6zM89.3 253.5h6.7v6.8h-6.7zM172.3 266.5h6.7v6.8h-6.7zM229.7 266.5h6.7v6.8h-6.7z"/><path fill="#3ab889" d="M25.5 26h6.7v6.8h-6.7zM83 26h6.6v6.8h-6.6zM89.3 32.5h6.7v6.8h-6.7zM165.9 32.5h6.7v6.8h-6.7zM6.4 58.5h6.7v6.8h-6.7zM63.8 58.5h6.7v6.8h-6.7zM44.7 84.5h6.6v6.8h-6.6zM70.2 91h6.7v6.8h-6.7zM217 91h6.6v6.8h-6.6zM83 123.5h6.6v6.8h-6.6zM127.6 136.5h6.7v6.8h-6.7zM204.2 136.5h6.7v6.8h-6.7zM153.1 143h6.7v6.8h-6.7zM51 149.5h6.7v6.8h-6.7zM83 149.5h6.6v6.8h-6.6zM95.7 149.5h6.7v6.8h-6.7zM102.1 149.5h6.7v6.8h-6.7zM114.9 156h6.6v6.8h-6.6zM83 175.5h6.6v6.8h-6.6zM63.8 188.5h6.7v6.8h-6.7zM83 195h6.6v6.8h-6.6zM172.3 195h6.7v6.8h-6.7zM217 195h6.6v6.8h-6.6zM140.4 227.5h6.7v6.8h-6.7zM121.2 240.5h6.7v6.8h-6.7z"/><path fill="#32ad7f" d="M38.3 26h6.7v6.8h-6.7zM242.5 26h6.7v6.8h-6.7zM236.1 39h6.7v6.8h-6.7zM172.3 71.5h6.7v6.8h-6.7zM114.9 117h6.6v6.8h-6.6zM159.5 130h6.7v6.8h-6.7zM229.7 130h6.7v6.8h-6.7zM114.9 136.5h6.6v6.8h-6.6zM19.1 143h6.7v6.8h-6.7zM108.5 143h6.7v6.8h-6.7zM121.2 143h6.7v6.8h-6.7zM140.4 149.5h6.7v6.8h-6.7zM134 156h6.7v6.8h-6.7zM83 169h6.6v6.8h-6.6zM165.9 169h6.7v6.8h-6.7zM191.4 175.5h6.7v6.8h-6.7zM229.7 175.5h6.7v6.8h-6.7zM146.8 182h6.6v6.8h-6.6zM70.2 188.5h6.7v6.8h-6.7zM210.6 188.5h6.7v6.8h-6.7zM178.7 195h6.6v6.8h-6.6zM172.3 201.5h6.7v6.8h-6.7zM89.3 208h6.7v6.8h-6.7zM70.2 214.5h6.7v6.8h-6.7zM185 227.5h6.7v6.8h-6.7zM204.2 227.5h6.7v6.8h-6.7zM83 234h6.6v6.8h-6.6zM70.2 247h6.7v6.8h-6.7z"/><path fill="#62e0b1" d="M63.8 26h6.7v6.8h-6.7zM114.9 26h6.6v6.8h-6.6zM140.4 130h6.7v6.8h-6.7zM223.3 130h6.7v6.8h-6.7zM44.7 136.5h6.6v6.8h-6.6zM140.4 136.5h6.7v6.8h-6.7zM31.9 182h6.7v6.8h-6.7zM44.7 188.5h6.6v6.8h-6.6zM114.9 195h6.6v6.8h-6.6zM114.9 227.5h6.6v6.8h-6.6zM19.1 234h6.7v6.8h-6.7zM31.9 234h6.7v6.8h-6.7z"/><path fill="#8affd1" d="M70.2 26h6.7v6.8h-6.7zM76.6 26h6.7v6.8h-6.7zM172.3 26h6.7v6.8h-6.7zM236.1 26h6.7v6.8h-6.7zM19.1 32.5h6.7v6.8h-6.7zM25.5 32.5h6.7v6.8h-6.7zM63.8 32.5h6.7v6.8h-6.7zM70.2 32.5h6.7v6.8h-6.7zM76.6 32.5h6.7v6.8h-6.7zM83 32.5h6.6v6.8h-6.6zM114.9 32.5h6.6v6.8h-6.6zM172.3 32.5h6.7v6.8h-6.7zM236.1 32.5h6.7v6.8h-6.7zM19.1 78h6.7v6.8h-6.7zM25.5 78h6.7v6.8h-6.7zM63.8 78h6.7v6.8h-6.7zM70.2 78h6.7v6.8h-6.7zM76.6 78h6.7v6.8h-6.7zM114.9 78h6.6v6.8h-6.6zM121.2 78h6.7v6.8h-6.7zM165.9 78h6.7v6.8h-6.7zM172.3 78h6.7v6.8h-6.7zM217 78h6.6v6.8h-6.6zM63.8 84.5h6.7v6.8h-6.7zM70.2 84.5h6.7v6.8h-6.7zM127.6 84.5h6.7v6.8h-6.7zM165.9 84.5h6.7v6.8h-6.7zM217 84.5h6.6v6.8h-6.6zM223.3 84.5h6.7v6.8h-6.7zM261.6 84.5h6.7v6.8h-6.7zM102.1 123.5h6.7v6.8h-6.7zM108.5 123.5h6.7v6.8h-6.7zM165.9 123.5h6.7v6.8h-6.7zM44.7 130h6.6v6.8h-6.6zM89.3 130h6.7v6.8h-6.7zM95.7 130h6.7v6.8h-6.7zM102.1 130h6.7v6.8h-6.7zM108.5 130h6.7v6.8h-6.7zM114.9 130h6.6v6.8h-6.6zM121.2 130h6.7v6.8h-6.7zM146.8 130h6.6v6.8h-6.6zM165.9 130h6.7v6.8h-6.7zM172.3 130h6.7v6.8h-6.7zM217 130h6.6v6.8h-6.6zM95.7 136.5h6.7v6.8h-6.7zM102.1 136.5h6.7v6.8h-6.7zM108.5 136.5h6.7v6.8h-6.7zM121.2 136.5h6.7v6.8h-6.7zM146.8 136.5h6.6v6.8h-6.6zM153.1 136.5h6.7v6.8h-6.7zM165.9 136.5h6.7v6.8h-6.7zM172.3 136.5h6.7v6.8h-6.7zM178.7 136.5h6.6v6.8h-6.6zM217 136.5h6.6v6.8h-6.6zM121.2 169h6.7v6.8h-6.7zM70.2 175.5h6.7v6.8h-6.7zM76.6 175.5h6.7v6.8h-6.7zM114.9 175.5h6.6v6.8h-6.6zM121.2 175.5h6.7v6.8h-6.7zM127.6 175.5h6.7v6.8h-6.7zM159.5 175.5h6.7v6.8h-6.7zM172.3 175.5h6.7v6.8h-6.7zM38.3 182h6.7v6.8h-6.7zM44.7 182h6.6v6.8h-6.6zM51 182h6.7v6.8h-6.7zM57.4 182h6.7v6.8h-6.7zM63.8 182h6.7v6.8h-6.7zM70.2 182h6.7v6.8h-6.7zM76.6 182h6.7v6.8h-6.7zM114.9 182h6.6v6.8h-6.6zM121.2 182h6.7v6.8h-6.7zM127.6 182h6.7v6.8h-6.7zM172.3 182h6.7v6.8h-6.7zM178.7 182h6.6v6.8h-6.6zM204.2 182h6.7v6.8h-6.7zM210.6 182h6.7v6.8h-6.7zM217 182h6.6v6.8h-6.6zM38.3 188.5h6.7v6.8h-6.7zM76.6 188.5h6.7v6.8h-6.7zM114.9 188.5h6.6v6.8h-6.6zM121.2 188.5h6.7v6.8h-6.7zM127.6 188.5h6.7v6.8h-6.7zM140.4 188.5h6.7v6.8h-6.7zM165.9 188.5h6.7v6.8h-6.7zM172.3 188.5h6.7v6.8h-6.7zM217 188.5h6.6v6.8h-6.6zM223.3 188.5h6.7v6.8h-6.7zM102.1 195h6.7v6.8h-6.7zM121.2 195h6.7v6.8h-6.7zM127.6 195h6.7v6.8h-6.7zM134 195h6.7v6.8h-6.7zM102.1 227.5h6.7v6.8h-6.7zM25.5 234h6.7v6.8h-6.7zM95.7 234h6.7v6.8h-6.7zM102.1 234h6.7v6.8h-6.7zM108.5 234h6.7v6.8h-6.7zM114.9 234h6.6v6.8h-6.6zM121.2 234h6.7v6.8h-6.7zM197.8 234h6.7v6.8h-6.7zM242.5 234h6.7v6.8h-6.7zM25.5 240.5h6.7v6.8h-6.7zM95.7 240.5h6.7v6.8h-6.7zM102.1 240.5h6.7v6.8h-6.7zM108.5 240.5h6.7v6.8h-6.7zM114.9 240.5h6.6v6.8h-6.6zM242.5 240.5h6.7v6.8h-6.7z"/><path fill="#2ba376" d="M38.3 32.5h6.7v6.8h-6.7zM76.6 39h6.7v6.8h-6.7zM70.2 45.5h6.7v6.8h-6.7zM19.1 71.5h6.7v6.8h-6.7zM172.3 143h6.7v6.8h-6.7zM217 143h6.6v6.8h-6.6zM229.7 143h6.7v6.8h-6.7zM134 149.5h6.7v6.8h-6.7zM146.8 162.5h6.6v6.8h-6.6zM172.3 162.5h6.7v6.8h-6.7zM95.7 169h6.7v6.8h-6.7zM44.7 175.5h6.6v6.8h-6.6zM165.9 175.5h6.7v6.8h-6.7zM210.6 175.5h6.7v6.8h-6.7zM83 182h6.6v6.8h-6.6zM165.9 182h6.7v6.8h-6.7zM185 188.5h6.7v6.8h-6.7zM63.8 195h6.7v6.8h-6.7zM83 201.5h6.6v6.8h-6.6zM114.9 201.5h6.6v6.8h-6.6zM217 201.5h6.6v6.8h-6.6zM229.7 208h6.7v6.8h-6.7zM95.7 214.5h6.7v6.8h-6.7zM121.2 214.5h6.7v6.8h-6.7zM95.7 227.5h6.7v6.8h-6.7zM146.8 227.5h6.6v6.8h-6.6zM248.9 227.5h6.6v6.8h-6.6z"/><path fill="#57d6a7" d="M121.2 32.5h6.7v6.8h-6.7zM242.5 32.5h6.7v6.8h-6.7zM70.2 39h6.7v6.8h-6.7zM70.2 71.5h6.7v6.8h-6.7zM12.8 78h6.6v6.8h-6.6zM25.5 84.5h6.7v6.8h-6.7zM76.6 84.5h6.7v6.8h-6.7zM114.9 84.5h6.6v6.8h-6.6zM89.3 123.5h6.7v6.8h-6.7zM95.7 123.5h6.7v6.8h-6.7zM89.3 136.5h6.7v6.8h-6.7zM223.3 136.5h6.7v6.8h-6.7zM102.1 143h6.7v6.8h-6.7zM127.6 143h6.7v6.8h-6.7zM121.2 162.5h6.7v6.8h-6.7zM223.3 175.5h6.7v6.8h-6.7zM89.3 182h6.7v6.8h-6.7zM95.7 188.5h6.7v6.8h-6.7zM146.8 188.5h6.6v6.8h-6.6zM223.3 195h6.7v6.8h-6.7zM134 201.5h6.7v6.8h-6.7zM236.1 234h6.7v6.8h-6.7z"/><path fill="#43c293" d="M31.9 39h6.7v6.8h-6.7zM25.5 71.5h6.7v6.8h-6.7zM261.6 78h6.7v6.8h-6.7zM121.2 84.5h6.7v6.8h-6.7zM178.7 123.5h6.6v6.8h-6.6zM38.3 130h6.7v6.8h-6.7zM178.7 130h6.6v6.8h-6.6zM134 169h6.7v6.8h-6.7zM172.3 169h6.7v6.8h-6.7zM140.4 175.5h6.7v6.8h-6.7zM229.7 188.5h6.7v6.8h-6.7zM191.4 227.5h6.7v6.8h-6.7zM248.9 234h6.6v6.8h-6.6zM127.6 240.5h6.7v6.8h-6.7z"/><path fill="#7cf5c6" d="M63.8 52h6.7v6.8h-6.7zM12.8 84.5h6.6v6.8h-6.6zM19.1 84.5h6.7v6.8h-6.7zM172.3 84.5h6.7v6.8h-6.7zM172.3 123.5h6.7v6.8h-6.7zM83 136.5h6.6v6.8h-6.6zM229.7 136.5h6.7v6.8h-6.7zM191.4 234h6.7v6.8h-6.7zM204.2 234h6.7v6.8h-6.7z"/><path fill="#4dcc9d" d="M210.6 78h6.7v6.8h-6.7zM57.4 84.5h6.7v6.8h-6.7zM153.1 130h6.7v6.8h-6.7zM38.3 136.5h6.7v6.8h-6.7zM95.7 143h6.7v6.8h-6.7zM153.1 162.5h6.7v6.8h-6.7zM108.5 169h6.7v6.8h-6.7zM89.3 175.5h6.7v6.8h-6.7zM95.7 182h6.7v6.8h-6.7zM102.1 182h6.7v6.8h-6.7zM31.9 188.5h6.7v6.8h-6.7zM197.8 188.5h6.7v6.8h-6.7zM95.7 208h6.7v6.8h-6.7zM134 221h6.7v6.8h-6.7zM19.1 227.5h6.7v6.8h-6.7zM31.9 240.5h6.7v6.8h-6.7z"/><path fill="#6febbc" d="M223.3 78h6.7v6.8h-6.7zM114.9 123.5h6.6v6.8h-6.6zM114.9 169h6.6v6.8h-6.6zM127.6 169h6.7v6.8h-6.7zM178.7 175.5h6.6v6.8h-6.6zM223.3 182h6.7v6.8h-6.7zM102.1 188.5h6.7v6.8h-6.7zM140.4 201.5h6.7v6.8h-6.7zM102.1 221h6.7v6.8h-6.7zM108.5 227.5h6.7v6.8h-6.7zM89.3 234h6.7v6.8h-6.7z"/></g></g>
<g stroke="#d2ee1c" stroke-opacity="0.9" stroke-width="1.6" stroke-dasharray="5.5 2" fill="none"><path d="M723.0 57V325"/><path d="M771.2 57V325"/><path d="M819.0 57V325"/><path d="M868.7 57V325"/><path d="M916.6 57V325"/><path d="M686 88.3H951"/><path d="M686 138.6H951"/><path d="M686 190.0H951"/><path d="M686 240.5H951"/><path d="M686 291.5H951"/></g>
<rect x="686" y="52" width="268" height="273" fill="none" stroke="#0a1a14" stroke-width="1.2"/>
<g stroke="#2a2a2a" stroke-width="2"><path d="M723.0 325v7.5"/><path d="M771.2 325v7.5"/><path d="M819.0 325v7.5"/><path d="M868.7 325v7.5"/><path d="M916.6 325v7.5"/><path d="M686 88.3h-7"/><path d="M686 138.6h-7"/><path d="M686 190.0h-7"/><path d="M686 240.5h-7"/><path d="M686 291.5h-7"/></g>
<text class="k" x="722.2" y="363.0" text-anchor="middle">1</text>
<text class="k" x="770.4" y="363.0" text-anchor="middle">2</text>
<text class="k" x="818.2" y="363.0" text-anchor="middle">3</text>
<text class="k" x="867.9" y="363.0" text-anchor="middle">4</text>
<text class="k" x="915.8" y="363.0" text-anchor="middle">5</text>
<text class="k" x="671.8" y="100.1" text-anchor="end">1</text>
<text class="k" x="671.8" y="150.4" text-anchor="end">2</text>
<text class="k" x="671.8" y="201.8" text-anchor="end">3</text>
<text class="k" x="671.8" y="252.3" text-anchor="end">4</text>
<text class="k" x="671.8" y="303.3" text-anchor="end">5</text>
<g transform="translate(205 377.8)" clip-path="url(#cp)"><rect width="268" height="273" fill="#06140f"/><g filter="url(#bl)"><path fill="#03140c" d="M0 0h5.7v5.8h-5.7zM5.4 0h5.6v5.8h-5.6zM37.5 0h5.7v5.8h-5.7zM107.2 0h5.7v5.8h-5.7zM117.9 0h5.7v5.8h-5.7zM150.1 0h5.6v5.8h-5.6zM155.4 0h5.7v5.8h-5.7zM166.2 0h5.6v5.8h-5.6zM209 0h5.7v5.8h-5.7zM251.9 0h5.7v5.8h-5.7zM262.6 0h5.7v5.8h-5.7zM53.6 5.5h5.7v5.7h-5.7zM160.8 5.5h5.7v5.7h-5.7zM209 5.5h5.7v5.7h-5.7zM214.4 5.5h5.7v5.7h-5.7zM246.6 5.5h5.6v5.7h-5.6zM251.9 5.5h5.7v5.7h-5.7zM257.3 5.5h5.6v5.7h-5.6zM198.3 10.9h5.7v5.8h-5.7zM203.7 10.9h5.6v5.8h-5.6zM246.6 10.9h5.6v5.8h-5.6zM251.9 10.9h5.7v5.8h-5.7zM257.3 10.9h5.6v5.8h-5.6zM262.6 10.9h5.7v5.8h-5.7zM198.3 16.4h5.7v5.7h-5.7zM10.7 21.8h5.7v5.8h-5.7zM160.8 27.3h5.7v5.8h-5.7zM150.1 38.2h5.6v5.8h-5.6zM262.6 38.2h5.7v5.8h-5.7zM257.3 43.7h5.6v5.7h-5.6zM262.6 43.7h5.7v5.7h-5.7zM117.9 49.1h5.7v5.8h-5.7zM251.9 49.1h5.7v5.8h-5.7zM166.2 54.6h5.6v5.8h-5.6zM251.9 54.6h5.7v5.8h-5.7zM257.3 54.6h5.6v5.8h-5.6zM257.3 60.1h5.6v5.7h-5.6zM262.6 60.1h5.7v5.7h-5.7zM257.3 65.5h5.6v5.8h-5.6zM59 71h5.6v5.7h-5.6zM262.6 71h5.7v5.7h-5.7zM0 76.4h5.7v5.8h-5.7zM262.6 76.4h5.7v5.8h-5.7zM209 92.8h5.7v5.8h-5.7zM251.9 98.3h5.7v5.7h-5.7zM262.6 98.3h5.7v5.7h-5.7zM160.8 103.7h5.7v5.8h-5.7zM257.3 109.2h5.6v5.8h-5.6zM262.6 109.2h5.7v5.8h-5.7zM5.4 136.5h5.6v5.8h-5.6zM5.4 158.3h5.6v5.8h-5.6zM0 191.1h5.7v5.8h-5.7zM0 202h5.7v5.8h-5.7zM251.9 202h5.7v5.8h-5.7zM257.3 202h5.6v5.8h-5.6zM117.9 218.4h5.7v5.8h-5.7zM251.9 240.2h5.7v5.8h-5.7zM257.3 240.2h5.6v5.8h-5.6zM59 245.7h5.6v5.8h-5.6zM257.3 245.7h5.6v5.8h-5.6zM21.4 251.2h5.7v5.7h-5.7zM198.3 251.2h5.7v5.7h-5.7zM203.7 251.2h5.6v5.7h-5.6zM214.4 251.2h5.7v5.7h-5.7zM0 256.6h5.7v5.8h-5.7zM209 256.6h5.7v5.8h-5.7zM257.3 256.6h5.6v5.8h-5.6zM262.6 256.6h5.7v5.8h-5.7zM160.8 262.1h5.7v5.7h-5.7zM241.2 262.1h5.7v5.7h-5.7zM10.7 267.5h5.7v5.8h-5.7zM21.4 267.5h5.7v5.8h-5.7zM26.8 267.5h5.7v5.8h-5.7zM32.2 267.5h5.6v5.8h-5.6zM53.6 267.5h5.7v5.8h-5.7zM117.9 267.5h5.7v5.8h-5.7zM123.3 267.5h5.6v5.8h-5.6zM150.1 267.5h5.6v5.8h-5.6zM187.6 267.5h5.7v5.8h-5.7zM262.6 267.5h5.7v5.8h-5.7z"/><path fill="#0e6641" d="M10.7 0h5.7v5.8h-5.7zM75 5.5h5.7v5.7h-5.7zM69.7 16.4h5.6v5.7h-5.6zM107.2 27.3h5.7v5.8h-5.7zM144.7 27.3h5.7v5.8h-5.7zM155.4 27.3h5.7v5.8h-5.7zM48.2 32.8h5.7v5.7h-5.7zM155.4 38.2h5.7v5.8h-5.7zM203.7 38.2h5.6v5.8h-5.6zM5.4 43.7h5.6v5.7h-5.6zM21.4 43.7h5.7v5.7h-5.7zM42.9 43.7h5.6v5.7h-5.6zM235.8 43.7h5.7v5.7h-5.7zM10.7 49.1h5.7v5.8h-5.7zM32.2 49.1h5.6v5.8h-5.6zM59 49.1h5.6v5.8h-5.6zM75 49.1h5.7v5.8h-5.7zM150.1 49.1h5.6v5.8h-5.6zM96.5 54.6h5.6v5.8h-5.6zM214.4 54.6h5.7v5.8h-5.7zM80.4 60.1h5.7v5.7h-5.7zM117.9 60.1h5.7v5.7h-5.7zM241.2 60.1h5.7v5.7h-5.7zM5.4 65.5h5.6v5.8h-5.6zM10.7 65.5h5.7v5.8h-5.7zM171.5 65.5h5.7v5.8h-5.7zM5.4 71h5.6v5.7h-5.6zM155.4 76.4h5.7v5.8h-5.7zM64.3 81.9h5.7v5.8h-5.7zM160.8 81.9h5.7v5.8h-5.7zM75 87.4h5.7v5.7h-5.7zM96.5 87.4h5.6v5.7h-5.6zM150.1 87.4h5.6v5.7h-5.6zM225.1 87.4h5.7v5.7h-5.7zM246.6 87.4h5.6v5.7h-5.6zM10.7 92.8h5.7v5.8h-5.7zM128.6 92.8h5.7v5.8h-5.7zM166.2 92.8h5.6v5.8h-5.6zM230.5 92.8h5.6v5.8h-5.6zM246.6 92.8h5.6v5.8h-5.6zM101.8 98.3h5.7v5.7h-5.7zM150.1 98.3h5.6v5.7h-5.6zM16.1 103.7h5.6v5.8h-5.6zM21.4 103.7h5.7v5.8h-5.7zM42.9 103.7h5.6v5.8h-5.6zM69.7 103.7h5.6v5.8h-5.6zM219.8 103.7h5.6v5.8h-5.6zM5.4 109.2h5.6v5.8h-5.6zM16.1 109.2h5.6v5.8h-5.6zM139.4 109.2h5.6v5.8h-5.6zM26.8 114.7h5.7v5.7h-5.7zM112.6 114.7h5.6v5.7h-5.6zM160.8 114.7h5.7v5.7h-5.7zM166.2 114.7h5.6v5.7h-5.6zM187.6 114.7h5.7v5.7h-5.7zM241.2 114.7h5.7v5.7h-5.7zM0 120.1h5.7v5.8h-5.7zM101.8 120.1h5.7v5.8h-5.7zM112.6 120.1h5.6v5.8h-5.6zM166.2 120.1h5.6v5.8h-5.6zM209 120.1h5.7v5.8h-5.7zM26.8 131h5.7v5.8h-5.7zM107.2 131h5.7v5.8h-5.7zM166.2 131h5.6v5.8h-5.6zM251.9 136.5h5.7v5.8h-5.7zM53.6 142h5.7v5.7h-5.7zM117.9 142h5.7v5.7h-5.7zM150.1 142h5.6v5.7h-5.6zM176.9 142h5.6v5.7h-5.6zM117.9 147.4h5.7v5.8h-5.7zM128.6 147.4h5.7v5.8h-5.7zM171.5 147.4h5.7v5.8h-5.7zM80.4 152.9h5.7v5.7h-5.7zM225.1 152.9h5.7v5.7h-5.7zM214.4 158.3h5.7v5.8h-5.7zM5.4 163.8h5.6v5.8h-5.6zM69.7 163.8h5.6v5.8h-5.6zM198.3 163.8h5.7v5.8h-5.7zM80.4 169.3h5.7v5.7h-5.7zM85.8 169.3h5.6v5.7h-5.6zM101.8 169.3h5.7v5.7h-5.7zM107.2 169.3h5.7v5.7h-5.7zM150.1 169.3h5.6v5.7h-5.6zM75 174.7h5.7v5.8h-5.7zM112.6 180.2h5.6v5.7h-5.6zM69.7 185.6h5.6v5.8h-5.6zM155.4 185.6h5.7v5.8h-5.7zM16.1 191.1h5.6v5.8h-5.6zM155.4 191.1h5.7v5.8h-5.7zM219.8 191.1h5.6v5.8h-5.6zM134 196.6h5.7v5.7h-5.7zM155.4 196.6h5.7v5.7h-5.7zM225.1 196.6h5.7v5.7h-5.7zM5.4 202h5.6v5.8h-5.6zM16.1 202h5.6v5.8h-5.6zM37.5 202h5.7v5.8h-5.7zM160.8 202h5.7v5.8h-5.7zM21.4 207.5h5.7v5.7h-5.7zM32.2 207.5h5.6v5.7h-5.6zM0 212.9h5.7v5.8h-5.7zM16.1 212.9h5.6v5.8h-5.6zM101.8 212.9h5.7v5.8h-5.7zM144.7 212.9h5.7v5.8h-5.7zM155.4 212.9h5.7v5.8h-5.7zM32.2 218.4h5.6v5.8h-5.6zM37.5 218.4h5.7v5.8h-5.7zM155.4 218.4h5.7v5.8h-5.7zM198.3 218.4h5.7v5.8h-5.7zM123.3 223.9h5.6v5.7h-5.6zM171.5 223.9h5.7v5.7h-5.7zM209 223.9h5.7v5.7h-5.7zM235.8 223.9h5.7v5.7h-5.7zM69.7 229.3h5.6v5.8h-5.6zM96.5 229.3h5.6v5.8h-5.6zM160.8 229.3h5.7v5.8h-5.7zM214.4 229.3h5.7v5.8h-5.7zM75 234.8h5.7v5.7h-5.7zM219.8 234.8h5.6v5.7h-5.6zM48.2 240.2h5.7v5.8h-5.7zM69.7 240.2h5.6v5.8h-5.6zM166.2 240.2h5.6v5.8h-5.6zM203.7 240.2h5.6v5.8h-5.6zM64.3 245.7h5.7v5.8h-5.7zM112.6 245.7h5.6v5.8h-5.6zM128.6 245.7h5.7v5.8h-5.7zM150.1 245.7h5.6v5.8h-5.6zM225.1 245.7h5.7v5.8h-5.7zM150.1 251.2h5.6v5.7h-5.6zM235.8 251.2h5.7v5.7h-5.7z"/><path fill="#0b5c39" d="M16.1 0h5.6v5.8h-5.6zM112.6 5.5h5.6v5.7h-5.6zM53.6 10.9h5.7v5.8h-5.7zM85.8 10.9h5.6v5.8h-5.6zM107.2 10.9h5.7v5.8h-5.7zM112.6 10.9h5.6v5.8h-5.6zM128.6 10.9h5.7v5.8h-5.7zM5.4 16.4h5.6v5.7h-5.6zM85.8 16.4h5.6v5.7h-5.6zM101.8 16.4h5.7v5.7h-5.7zM134 16.4h5.7v5.7h-5.7zM139.4 16.4h5.6v5.7h-5.6zM59 21.8h5.6v5.8h-5.6zM144.7 21.8h5.7v5.8h-5.7zM193 21.8h5.6v5.8h-5.6zM198.3 27.3h5.7v5.8h-5.7zM241.2 27.3h5.7v5.8h-5.7zM21.4 38.2h5.7v5.8h-5.7zM69.7 38.2h5.6v5.8h-5.6zM75 38.2h5.7v5.8h-5.7zM187.6 38.2h5.7v5.8h-5.7zM75 43.7h5.7v5.7h-5.7zM85.8 43.7h5.6v5.7h-5.6zM150.1 43.7h5.6v5.7h-5.6zM246.6 43.7h5.6v5.7h-5.6zM85.8 49.1h5.6v5.8h-5.6zM101.8 49.1h5.7v5.8h-5.7zM203.7 49.1h5.6v5.8h-5.6zM235.8 49.1h5.7v5.8h-5.7zM53.6 54.6h5.7v5.8h-5.7zM198.3 54.6h5.7v5.8h-5.7zM235.8 54.6h5.7v5.8h-5.7zM16.1 60.1h5.6v5.7h-5.6zM21.4 60.1h5.7v5.7h-5.7zM64.3 60.1h5.7v5.7h-5.7zM123.3 60.1h5.6v5.7h-5.6zM139.4 60.1h5.6v5.7h-5.6zM144.7 60.1h5.7v5.7h-5.7zM176.9 60.1h5.6v5.7h-5.6zM0 65.5h5.7v5.8h-5.7zM42.9 65.5h5.6v5.8h-5.6zM128.6 65.5h5.7v5.8h-5.7zM203.7 65.5h5.6v5.8h-5.6zM209 65.5h5.7v5.8h-5.7zM241.2 65.5h5.7v5.8h-5.7zM16.1 76.4h5.6v5.8h-5.6zM21.4 76.4h5.7v5.8h-5.7zM59 76.4h5.6v5.8h-5.6zM203.7 76.4h5.6v5.8h-5.6zM75 81.9h5.7v5.8h-5.7zM150.1 81.9h5.6v5.8h-5.6zM193 81.9h5.6v5.8h-5.6zM198.3 81.9h5.7v5.8h-5.7zM203.7 81.9h5.6v5.8h-5.6zM10.7 87.4h5.7v5.7h-5.7zM48.2 87.4h5.7v5.7h-5.7zM59 87.4h5.6v5.7h-5.6zM171.5 87.4h5.7v5.7h-5.7zM219.8 87.4h5.6v5.7h-5.6zM241.2 87.4h5.7v5.7h-5.7zM85.8 92.8h5.6v5.8h-5.6zM91.1 92.8h5.7v5.8h-5.7zM193 92.8h5.6v5.8h-5.6zM235.8 92.8h5.7v5.8h-5.7zM225.1 98.3h5.7v5.7h-5.7zM230.5 98.3h5.6v5.7h-5.6zM59 103.7h5.6v5.8h-5.6zM144.7 103.7h5.7v5.8h-5.7zM225.1 103.7h5.7v5.8h-5.7zM241.2 103.7h5.7v5.8h-5.7zM112.6 109.2h5.6v5.8h-5.6zM117.9 109.2h5.7v5.8h-5.7zM128.6 109.2h5.7v5.8h-5.7zM10.7 114.7h5.7v5.7h-5.7zM85.8 114.7h5.6v5.7h-5.6zM144.7 114.7h5.7v5.7h-5.7zM209 114.7h5.7v5.7h-5.7zM5.4 120.1h5.6v5.8h-5.6zM171.5 120.1h5.7v5.8h-5.7zM48.2 125.6h5.7v5.7h-5.7zM155.4 125.6h5.7v5.7h-5.7zM171.5 125.6h5.7v5.7h-5.7zM198.3 125.6h5.7v5.7h-5.7zM209 131h5.7v5.8h-5.7zM26.8 136.5h5.7v5.8h-5.7zM144.7 136.5h5.7v5.8h-5.7zM262.6 136.5h5.7v5.8h-5.7zM59 142h5.6v5.7h-5.6zM101.8 142h5.7v5.7h-5.7zM246.6 142h5.6v5.7h-5.6zM59 147.4h5.6v5.8h-5.6zM203.7 147.4h5.6v5.8h-5.6zM144.7 152.9h5.7v5.7h-5.7zM166.2 152.9h5.6v5.7h-5.6zM75 158.3h5.7v5.8h-5.7zM112.6 158.3h5.6v5.8h-5.6zM176.9 158.3h5.6v5.8h-5.6zM193 158.3h5.6v5.8h-5.6zM16.1 163.8h5.6v5.8h-5.6zM176.9 163.8h5.6v5.8h-5.6zM0 174.7h5.7v5.8h-5.7zM48.2 180.2h5.7v5.7h-5.7zM193 180.2h5.6v5.7h-5.6zM112.6 185.6h5.6v5.8h-5.6zM257.3 185.6h5.6v5.8h-5.6zM59 191.1h5.6v5.8h-5.6zM64.3 191.1h5.7v5.8h-5.7zM257.3 191.1h5.6v5.8h-5.6zM85.8 196.6h5.6v5.7h-5.6zM150.1 196.6h5.6v5.7h-5.6zM166.2 196.6h5.6v5.7h-5.6zM182.2 196.6h5.7v5.7h-5.7zM53.6 202h5.7v5.8h-5.7zM96.5 202h5.6v5.8h-5.6zM128.6 202h5.7v5.8h-5.7zM171.5 202h5.7v5.8h-5.7zM203.7 202h5.6v5.8h-5.6zM214.4 202h5.7v5.8h-5.7zM241.2 202h5.7v5.8h-5.7zM0 207.5h5.7v5.7h-5.7zM26.8 207.5h5.7v5.7h-5.7zM59 207.5h5.6v5.7h-5.6zM203.7 207.5h5.6v5.7h-5.6zM5.4 212.9h5.6v5.8h-5.6zM10.7 212.9h5.7v5.8h-5.7zM69.7 212.9h5.6v5.8h-5.6zM187.6 212.9h5.7v5.8h-5.7zM193 212.9h5.6v5.8h-5.6zM91.1 218.4h5.7v5.8h-5.7zM96.5 218.4h5.6v5.8h-5.6zM150.1 218.4h5.6v5.8h-5.6zM128.6 223.9h5.7v5.7h-5.7zM144.7 223.9h5.7v5.7h-5.7zM198.3 223.9h5.7v5.7h-5.7zM171.5 229.3h5.7v5.8h-5.7zM193 229.3h5.6v5.8h-5.6zM69.7 234.8h5.6v5.7h-5.6zM112.6 240.2h5.6v5.8h-5.6zM160.8 240.2h5.7v5.8h-5.7zM171.5 240.2h5.7v5.8h-5.7zM91.1 245.7h5.7v5.8h-5.7zM182.2 245.7h5.7v5.8h-5.7zM5.4 251.2h5.6v5.7h-5.6zM53.6 251.2h5.7v5.7h-5.7zM230.5 251.2h5.6v5.7h-5.6zM85.8 256.6h5.6v5.8h-5.6zM101.8 256.6h5.7v5.8h-5.7zM155.4 256.6h5.7v5.8h-5.7z"/><path fill="#031e11" d="M21.4 0h5.7v5.8h-5.7zM32.2 0h5.6v5.8h-5.6zM48.2 0h5.7v5.8h-5.7zM69.7 0h5.6v5.8h-5.6zM96.5 0h5.6v5.8h-5.6zM123.3 0h5.6v5.8h-5.6zM160.8 0h5.7v5.8h-5.7zM182.2 0h5.7v5.8h-5.7zM193 0h5.6v5.8h-5.6zM257.3 0h5.6v5.8h-5.6zM5.4 5.5h5.6v5.7h-5.6zM128.6 5.5h5.7v5.7h-5.7zM139.4 5.5h5.6v5.7h-5.6zM144.7 5.5h5.7v5.7h-5.7zM150.1 5.5h5.6v5.7h-5.6zM166.2 5.5h5.6v5.7h-5.6zM193 5.5h5.6v5.7h-5.6zM16.1 10.9h5.6v5.8h-5.6zM21.4 10.9h5.7v5.8h-5.7zM150.1 10.9h5.6v5.8h-5.6zM160.8 10.9h5.7v5.8h-5.7zM209 10.9h5.7v5.8h-5.7zM107.2 16.4h5.7v5.7h-5.7zM166.2 16.4h5.6v5.7h-5.6zM251.9 16.4h5.7v5.7h-5.7zM257.3 16.4h5.6v5.7h-5.6zM262.6 16.4h5.7v5.7h-5.7zM203.7 21.8h5.6v5.8h-5.6zM257.3 21.8h5.6v5.8h-5.6zM262.6 27.3h5.7v5.8h-5.7zM107.2 32.8h5.7v5.7h-5.7zM257.3 32.8h5.6v5.7h-5.6zM262.6 32.8h5.7v5.7h-5.7zM10.7 38.2h5.7v5.8h-5.7zM160.8 38.2h5.7v5.8h-5.7zM166.2 38.2h5.6v5.8h-5.6zM166.2 43.7h5.6v5.7h-5.6zM209 43.7h5.7v5.7h-5.7zM251.9 43.7h5.7v5.7h-5.7zM64.3 49.1h5.7v5.8h-5.7zM69.7 49.1h5.6v5.8h-5.6zM134 49.1h5.7v5.8h-5.7zM166.2 49.1h5.6v5.8h-5.6zM246.6 49.1h5.6v5.8h-5.6zM69.7 54.6h5.6v5.8h-5.6zM112.6 54.6h5.6v5.8h-5.6zM117.9 54.6h5.7v5.8h-5.7zM182.2 54.6h5.7v5.8h-5.7zM193 54.6h5.6v5.8h-5.6zM209 54.6h5.7v5.8h-5.7zM241.2 54.6h5.7v5.8h-5.7zM59 65.5h5.6v5.8h-5.6zM69.7 65.5h5.6v5.8h-5.6zM107.2 65.5h5.7v5.8h-5.7zM0 71h5.7v5.7h-5.7zM160.8 71h5.7v5.7h-5.7zM257.3 71h5.6v5.7h-5.6zM0 87.4h5.7v5.7h-5.7zM155.4 87.4h5.7v5.7h-5.7zM203.7 87.4h5.6v5.7h-5.6zM257.3 87.4h5.6v5.7h-5.6zM262.6 87.4h5.7v5.7h-5.7zM112.6 92.8h5.6v5.8h-5.6zM10.7 98.3h5.7v5.7h-5.7zM117.9 98.3h5.7v5.7h-5.7zM241.2 98.3h5.7v5.7h-5.7zM251.9 103.7h5.7v5.8h-5.7zM91.1 109.2h5.7v5.8h-5.7zM59 114.7h5.6v5.7h-5.6zM64.3 114.7h5.7v5.7h-5.7zM251.9 114.7h5.7v5.7h-5.7zM262.6 114.7h5.7v5.7h-5.7zM257.3 120.1h5.6v5.8h-5.6zM16.1 125.6h5.6v5.7h-5.6zM10.7 131h5.7v5.8h-5.7zM160.8 131h5.7v5.8h-5.7zM251.9 131h5.7v5.8h-5.7zM160.8 136.5h5.7v5.8h-5.7zM257.3 142h5.6v5.7h-5.6zM262.6 147.4h5.7v5.8h-5.7zM112.6 152.9h5.6v5.7h-5.6zM257.3 158.3h5.6v5.8h-5.6zM42.9 163.8h5.6v5.8h-5.6zM246.6 163.8h5.6v5.8h-5.6zM262.6 169.3h5.7v5.7h-5.7zM257.3 174.7h5.6v5.8h-5.6zM10.7 180.2h5.7v5.7h-5.7zM10.7 185.6h5.7v5.8h-5.7zM10.7 196.6h5.7v5.7h-5.7zM53.6 196.6h5.7v5.7h-5.7zM209 202h5.7v5.8h-5.7zM262.6 202h5.7v5.8h-5.7zM166.2 207.5h5.6v5.7h-5.6zM176.9 207.5h5.6v5.7h-5.6zM193 207.5h5.6v5.7h-5.6zM198.3 207.5h5.7v5.7h-5.7zM251.9 207.5h5.7v5.7h-5.7zM26.8 212.9h5.7v5.8h-5.7zM75 212.9h5.7v5.8h-5.7zM107.2 212.9h5.7v5.8h-5.7zM166.2 212.9h5.6v5.8h-5.6zM171.5 212.9h5.7v5.8h-5.7zM203.7 212.9h5.6v5.8h-5.6zM246.6 212.9h5.6v5.8h-5.6zM257.3 212.9h5.6v5.8h-5.6zM112.6 218.4h5.6v5.8h-5.6zM203.7 218.4h5.6v5.8h-5.6zM214.4 218.4h5.7v5.8h-5.7zM251.9 218.4h5.7v5.8h-5.7zM5.4 223.9h5.6v5.7h-5.6zM10.7 223.9h5.7v5.7h-5.7zM112.6 223.9h5.6v5.7h-5.6zM203.7 223.9h5.6v5.7h-5.6zM21.4 229.3h5.7v5.8h-5.7zM59 229.3h5.6v5.8h-5.6zM203.7 229.3h5.6v5.8h-5.6zM59 240.2h5.6v5.8h-5.6zM262.6 240.2h5.7v5.8h-5.7zM5.4 245.7h5.6v5.8h-5.6zM107.2 251.2h5.7v5.7h-5.7zM187.6 251.2h5.7v5.7h-5.7zM209 251.2h5.7v5.7h-5.7zM219.8 251.2h5.6v5.7h-5.6zM241.2 251.2h5.7v5.7h-5.7zM246.6 251.2h5.6v5.7h-5.6zM117.9 256.6h5.7v5.8h-5.7zM123.3 256.6h5.6v5.8h-5.6zM128.6 256.6h5.7v5.8h-5.7zM144.7 256.6h5.7v5.8h-5.7zM150.1 256.6h5.6v5.8h-5.6zM214.4 256.6h5.7v5.8h-5.7zM230.5 256.6h5.6v5.8h-5.6zM246.6 256.6h5.6v5.8h-5.6zM0 262.1h5.7v5.7h-5.7zM37.5 262.1h5.7v5.7h-5.7zM96.5 262.1h5.6v5.7h-5.6zM101.8 262.1h5.7v5.7h-5.7zM112.6 262.1h5.6v5.7h-5.6zM134 262.1h5.7v5.7h-5.7zM150.1 262.1h5.6v5.7h-5.6zM214.4 262.1h5.7v5.7h-5.7zM230.5 262.1h5.6v5.7h-5.6zM246.6 262.1h5.6v5.7h-5.6zM16.1 267.5h5.6v5.8h-5.6zM37.5 267.5h5.7v5.8h-5.7zM64.3 267.5h5.7v5.8h-5.7zM112.6 267.5h5.6v5.8h-5.6zM128.6 267.5h5.7v5.8h-5.7zM155.4 267.5h5.7v5.8h-5.7zM203.7 267.5h5.6v5.8h-5.6zM235.8 267.5h5.7v5.8h-5.7zM246.6 267.5h5.6v5.8h-5.6zM251.9 267.5h5.7v5.8h-5.7z"/><path fill="#053d23" d="M26.8 0h5.7v5.8h-5.7zM91.1 0h5.7v5.8h-5.7zM139.4 0h5.6v5.8h-5.6zM144.7 0h5.7v5.8h-5.7zM37.5 5.5h5.7v5.7h-5.7zM101.8 5.5h5.7v5.7h-5.7zM107.2 5.5h5.7v5.7h-5.7zM155.4 5.5h5.7v5.7h-5.7zM182.2 5.5h5.7v5.7h-5.7zM225.1 5.5h5.7v5.7h-5.7zM5.4 10.9h5.6v5.8h-5.6zM48.2 10.9h5.7v5.8h-5.7zM59 10.9h5.6v5.8h-5.6zM155.4 10.9h5.7v5.8h-5.7zM171.5 10.9h5.7v5.8h-5.7zM219.8 10.9h5.6v5.8h-5.6zM0 16.4h5.7v5.7h-5.7zM241.2 16.4h5.7v5.7h-5.7zM5.4 21.8h5.6v5.8h-5.6zM16.1 21.8h5.6v5.8h-5.6zM150.1 21.8h5.6v5.8h-5.6zM155.4 21.8h5.7v5.8h-5.7zM10.7 27.3h5.7v5.8h-5.7zM69.7 27.3h5.6v5.8h-5.6zM209 27.3h5.7v5.8h-5.7zM246.6 27.3h5.6v5.8h-5.6zM251.9 27.3h5.7v5.8h-5.7zM5.4 32.8h5.6v5.7h-5.6zM59 32.8h5.6v5.7h-5.6zM160.8 32.8h5.7v5.7h-5.7zM246.6 32.8h5.6v5.7h-5.6zM251.9 32.8h5.7v5.7h-5.7zM48.2 38.2h5.7v5.8h-5.7zM112.6 38.2h5.6v5.8h-5.6zM251.9 38.2h5.7v5.8h-5.7zM10.7 43.7h5.7v5.7h-5.7zM26.8 43.7h5.7v5.7h-5.7zM64.3 43.7h5.7v5.7h-5.7zM107.2 43.7h5.7v5.7h-5.7zM134 43.7h5.7v5.7h-5.7zM182.2 43.7h5.7v5.7h-5.7zM193 43.7h5.6v5.7h-5.6zM80.4 49.1h5.7v5.8h-5.7zM128.6 49.1h5.7v5.8h-5.7zM214.4 49.1h5.7v5.8h-5.7zM230.5 49.1h5.6v5.8h-5.6zM16.1 54.6h5.6v5.8h-5.6zM37.5 54.6h5.7v5.8h-5.7zM59 54.6h5.6v5.8h-5.6zM91.1 54.6h5.7v5.8h-5.7zM160.8 54.6h5.7v5.8h-5.7zM246.6 54.6h5.6v5.8h-5.6zM262.6 54.6h5.7v5.8h-5.7zM59 60.1h5.6v5.7h-5.6zM75 60.1h5.7v5.7h-5.7zM187.6 60.1h5.7v5.7h-5.7zM219.8 60.1h5.6v5.7h-5.6zM235.8 60.1h5.7v5.7h-5.7zM21.4 65.5h5.7v5.8h-5.7zM193 65.5h5.6v5.8h-5.6zM214.4 65.5h5.7v5.8h-5.7zM251.9 65.5h5.7v5.8h-5.7zM10.7 71h5.7v5.7h-5.7zM21.4 71h5.7v5.7h-5.7zM96.5 71h5.6v5.7h-5.6zM117.9 71h5.7v5.7h-5.7zM198.3 71h5.7v5.7h-5.7zM241.2 71h5.7v5.7h-5.7zM112.6 76.4h5.6v5.8h-5.6zM209 76.4h5.7v5.8h-5.7zM0 81.9h5.7v5.8h-5.7zM155.4 81.9h5.7v5.8h-5.7zM166.2 81.9h5.6v5.8h-5.6zM257.3 81.9h5.6v5.8h-5.6zM69.7 87.4h5.6v5.7h-5.6zM160.8 87.4h5.7v5.7h-5.7zM0 92.8h5.7v5.8h-5.7zM42.9 92.8h5.6v5.8h-5.6zM64.3 92.8h5.7v5.8h-5.7zM5.4 98.3h5.6v5.7h-5.6zM26.8 98.3h5.7v5.7h-5.7zM96.5 98.3h5.6v5.7h-5.6zM128.6 98.3h5.7v5.7h-5.7zM139.4 98.3h5.6v5.7h-5.6zM155.4 98.3h5.7v5.7h-5.7zM166.2 103.7h5.6v5.8h-5.6zM235.8 103.7h5.7v5.8h-5.7zM21.4 109.2h5.7v5.8h-5.7zM53.6 109.2h5.7v5.8h-5.7zM75 114.7h5.7v5.7h-5.7zM176.9 114.7h5.6v5.7h-5.6zM246.6 114.7h5.6v5.7h-5.6zM16.1 120.1h5.6v5.8h-5.6zM21.4 120.1h5.7v5.8h-5.7zM59 120.1h5.6v5.8h-5.6zM69.7 120.1h5.6v5.8h-5.6zM59 125.6h5.6v5.7h-5.6zM112.6 125.6h5.6v5.7h-5.6zM209 125.6h5.7v5.7h-5.7zM246.6 131h5.6v5.8h-5.6zM10.7 136.5h5.7v5.8h-5.7zM112.6 136.5h5.6v5.8h-5.6zM203.7 136.5h5.6v5.8h-5.6zM10.7 142h5.7v5.7h-5.7zM251.9 142h5.7v5.7h-5.7zM69.7 147.4h5.6v5.8h-5.6zM144.7 147.4h5.7v5.8h-5.7zM150.1 147.4h5.6v5.8h-5.6zM209 147.4h5.7v5.8h-5.7zM5.4 152.9h5.6v5.7h-5.6zM21.4 152.9h5.7v5.7h-5.7zM26.8 152.9h5.7v5.7h-5.7zM32.2 152.9h5.6v5.7h-5.6zM42.9 152.9h5.6v5.7h-5.6zM48.2 152.9h5.7v5.7h-5.7zM85.8 152.9h5.6v5.7h-5.6zM198.3 152.9h5.7v5.7h-5.7zM214.4 152.9h5.7v5.7h-5.7zM251.9 152.9h5.7v5.7h-5.7zM69.7 158.3h5.6v5.8h-5.6zM80.4 158.3h5.7v5.8h-5.7zM21.4 163.8h5.7v5.8h-5.7zM32.2 163.8h5.6v5.8h-5.6zM96.5 163.8h5.6v5.8h-5.6zM203.7 163.8h5.6v5.8h-5.6zM241.2 163.8h5.7v5.8h-5.7zM257.3 163.8h5.6v5.8h-5.6zM59 169.3h5.6v5.7h-5.6zM160.8 169.3h5.7v5.7h-5.7zM198.3 169.3h5.7v5.7h-5.7zM214.4 169.3h5.7v5.7h-5.7zM246.6 169.3h5.6v5.7h-5.6zM246.6 174.7h5.6v5.8h-5.6zM21.4 180.2h5.7v5.7h-5.7zM214.4 180.2h5.7v5.7h-5.7zM246.6 180.2h5.6v5.7h-5.6zM262.6 180.2h5.7v5.7h-5.7zM16.1 185.6h5.6v5.8h-5.6zM53.6 191.1h5.7v5.8h-5.7zM193 191.1h5.6v5.8h-5.6zM214.4 191.1h5.7v5.8h-5.7zM246.6 196.6h5.6v5.7h-5.6zM64.3 202h5.7v5.8h-5.7zM69.7 202h5.6v5.8h-5.6zM112.6 202h5.6v5.8h-5.6zM155.4 202h5.7v5.8h-5.7zM166.2 202h5.6v5.8h-5.6zM176.9 202h5.6v5.8h-5.6zM193 202h5.6v5.8h-5.6zM225.1 202h5.7v5.8h-5.7zM53.6 207.5h5.7v5.7h-5.7zM75 207.5h5.7v5.7h-5.7zM182.2 207.5h5.7v5.7h-5.7zM230.5 207.5h5.6v5.7h-5.6zM246.6 207.5h5.6v5.7h-5.6zM257.3 207.5h5.6v5.7h-5.6zM32.2 212.9h5.6v5.8h-5.6zM91.1 212.9h5.7v5.8h-5.7zM182.2 212.9h5.7v5.8h-5.7zM219.8 212.9h5.6v5.8h-5.6zM241.2 212.9h5.7v5.8h-5.7zM0 218.4h5.7v5.8h-5.7zM64.3 218.4h5.7v5.8h-5.7zM69.7 218.4h5.6v5.8h-5.6zM219.8 218.4h5.6v5.8h-5.6zM230.5 218.4h5.6v5.8h-5.6zM257.3 218.4h5.6v5.8h-5.6zM16.1 223.9h5.6v5.7h-5.6zM193 223.9h5.6v5.7h-5.6zM246.6 223.9h5.6v5.7h-5.6zM64.3 229.3h5.7v5.8h-5.7zM251.9 229.3h5.7v5.8h-5.7zM262.6 229.3h5.7v5.8h-5.7zM21.4 234.8h5.7v5.7h-5.7zM251.9 234.8h5.7v5.7h-5.7zM21.4 240.2h5.7v5.8h-5.7zM246.6 240.2h5.6v5.8h-5.6zM69.7 245.7h5.6v5.8h-5.6zM80.4 251.2h5.7v5.7h-5.7zM160.8 251.2h5.7v5.7h-5.7zM176.9 251.2h5.6v5.7h-5.6zM251.9 251.2h5.7v5.7h-5.7zM5.4 256.6h5.6v5.8h-5.6zM69.7 256.6h5.6v5.8h-5.6zM10.7 262.1h5.7v5.7h-5.7zM59 262.1h5.6v5.7h-5.6zM64.3 262.1h5.7v5.7h-5.7zM80.4 262.1h5.7v5.7h-5.7zM117.9 262.1h5.7v5.7h-5.7zM139.4 262.1h5.6v5.7h-5.6zM155.4 262.1h5.7v5.7h-5.7zM182.2 262.1h5.7v5.7h-5.7zM187.6 262.1h5.7v5.7h-5.7zM235.8 262.1h5.7v5.7h-5.7zM251.9 262.1h5.7v5.7h-5.7zM0 267.5h5.7v5.8h-5.7zM42.9 267.5h5.6v5.8h-5.6zM171.5 267.5h5.7v5.8h-5.7zM209 267.5h5.7v5.8h-5.7zM219.8 267.5h5.6v5.8h-5.6zM241.2 267.5h5.7v5.8h-5.7z"/><path fill="#07472a" d="M42.9 0h5.6v5.8h-5.6zM75 0h5.7v5.8h-5.7zM128.6 0h5.7v5.8h-5.7zM134 0h5.7v5.8h-5.7zM32.2 5.5h5.6v5.7h-5.6zM59 5.5h5.6v5.7h-5.6zM69.7 5.5h5.6v5.7h-5.6zM117.9 5.5h5.7v5.7h-5.7zM230.5 5.5h5.6v5.7h-5.6zM26.8 10.9h5.7v5.8h-5.7zM64.3 10.9h5.7v5.8h-5.7zM96.5 10.9h5.6v5.8h-5.6zM182.2 10.9h5.7v5.8h-5.7zM225.1 10.9h5.7v5.8h-5.7zM230.5 10.9h5.6v5.8h-5.6zM59 16.4h5.6v5.7h-5.6zM91.1 16.4h5.7v5.7h-5.7zM96.5 16.4h5.6v5.7h-5.6zM117.9 16.4h5.7v5.7h-5.7zM155.4 16.4h5.7v5.7h-5.7zM101.8 21.8h5.7v5.8h-5.7zM198.3 21.8h5.7v5.8h-5.7zM209 21.8h5.7v5.8h-5.7zM219.8 21.8h5.6v5.8h-5.6zM0 27.3h5.7v5.8h-5.7zM59 27.3h5.6v5.8h-5.6zM53.6 32.8h5.7v5.7h-5.7zM64.3 32.8h5.7v5.7h-5.7zM193 32.8h5.6v5.7h-5.6zM203.7 32.8h5.6v5.7h-5.6zM209 32.8h5.7v5.7h-5.7zM241.2 32.8h5.7v5.7h-5.7zM64.3 38.2h5.7v5.8h-5.7zM171.5 38.2h5.7v5.8h-5.7zM209 38.2h5.7v5.8h-5.7zM246.6 38.2h5.6v5.8h-5.6zM32.2 43.7h5.6v5.7h-5.6zM48.2 43.7h5.7v5.7h-5.7zM144.7 43.7h5.7v5.7h-5.7zM155.4 43.7h5.7v5.7h-5.7zM214.4 43.7h5.7v5.7h-5.7zM16.1 49.1h5.6v5.8h-5.6zM37.5 49.1h5.7v5.8h-5.7zM171.5 49.1h5.7v5.8h-5.7zM219.8 49.1h5.6v5.8h-5.6zM10.7 54.6h5.7v5.8h-5.7zM128.6 54.6h5.7v5.8h-5.7zM144.7 54.6h5.7v5.8h-5.7zM187.6 54.6h5.7v5.8h-5.7zM85.8 60.1h5.6v5.7h-5.6zM193 60.1h5.6v5.7h-5.6zM64.3 65.5h5.7v5.8h-5.7zM80.4 65.5h5.7v5.8h-5.7zM96.5 65.5h5.6v5.8h-5.6zM187.6 65.5h5.7v5.8h-5.7zM225.1 65.5h5.7v5.8h-5.7zM53.6 71h5.7v5.7h-5.7zM69.7 71h5.6v5.7h-5.6zM75 71h5.7v5.7h-5.7zM150.1 71h5.6v5.7h-5.6zM5.4 76.4h5.6v5.8h-5.6zM198.3 76.4h5.7v5.8h-5.7zM246.6 76.4h5.6v5.8h-5.6zM251.9 76.4h5.7v5.8h-5.7zM16.1 81.9h5.6v5.8h-5.6zM246.6 81.9h5.6v5.8h-5.6zM16.1 87.4h5.6v5.7h-5.6zM144.7 87.4h5.7v5.7h-5.7zM16.1 92.8h5.6v5.8h-5.6zM59 92.8h5.6v5.8h-5.6zM107.2 92.8h5.7v5.8h-5.7zM144.7 92.8h5.7v5.8h-5.7zM155.4 92.8h5.7v5.8h-5.7zM187.6 92.8h5.7v5.8h-5.7zM219.8 92.8h5.6v5.8h-5.6zM257.3 92.8h5.6v5.8h-5.6zM37.5 98.3h5.7v5.7h-5.7zM42.9 98.3h5.6v5.7h-5.6zM187.6 98.3h5.7v5.7h-5.7zM209 98.3h5.7v5.7h-5.7zM235.8 98.3h5.7v5.7h-5.7zM64.3 103.7h5.7v5.8h-5.7zM85.8 103.7h5.6v5.8h-5.6zM91.1 103.7h5.7v5.8h-5.7zM176.9 103.7h5.6v5.8h-5.6zM26.8 109.2h5.7v5.8h-5.7zM37.5 109.2h5.7v5.8h-5.7zM64.3 109.2h5.7v5.8h-5.7zM75 109.2h5.7v5.8h-5.7zM96.5 109.2h5.6v5.8h-5.6zM182.2 109.2h5.7v5.8h-5.7zM219.8 109.2h5.6v5.8h-5.6zM251.9 109.2h5.7v5.8h-5.7zM16.1 114.7h5.6v5.7h-5.6zM107.2 114.7h5.7v5.7h-5.7zM123.3 114.7h5.6v5.7h-5.6zM26.8 120.1h5.7v5.8h-5.7zM21.4 125.6h5.7v5.7h-5.7zM251.9 125.6h5.7v5.7h-5.7zM59 131h5.6v5.8h-5.6zM155.4 131h5.7v5.8h-5.7zM155.4 136.5h5.7v5.8h-5.7zM209 136.5h5.7v5.8h-5.7zM112.6 142h5.6v5.7h-5.6zM166.2 142h5.6v5.7h-5.6zM209 142h5.7v5.7h-5.7zM0 147.4h5.7v5.8h-5.7zM26.8 147.4h5.7v5.8h-5.7zM176.9 147.4h5.6v5.8h-5.6zM187.6 147.4h5.7v5.8h-5.7zM193 147.4h5.6v5.8h-5.6zM198.3 147.4h5.7v5.8h-5.7zM75 152.9h5.7v5.7h-5.7zM209 152.9h5.7v5.7h-5.7zM230.5 152.9h5.6v5.7h-5.6zM235.8 152.9h5.7v5.7h-5.7zM241.2 152.9h5.7v5.7h-5.7zM246.6 152.9h5.6v5.7h-5.6zM257.3 152.9h5.6v5.7h-5.6zM48.2 158.3h5.7v5.8h-5.7zM225.1 158.3h5.7v5.8h-5.7zM246.6 158.3h5.6v5.8h-5.6zM26.8 163.8h5.7v5.8h-5.7zM37.5 163.8h5.7v5.8h-5.7zM85.8 163.8h5.6v5.8h-5.6zM209 163.8h5.7v5.8h-5.7zM262.6 163.8h5.7v5.8h-5.7zM26.8 169.3h5.7v5.7h-5.7zM203.7 169.3h5.6v5.7h-5.6zM209 169.3h5.7v5.7h-5.7zM251.9 169.3h5.7v5.7h-5.7zM257.3 169.3h5.6v5.7h-5.6zM155.4 174.7h5.7v5.8h-5.7zM209 174.7h5.7v5.8h-5.7zM262.6 174.7h5.7v5.8h-5.7zM155.4 180.2h5.7v5.7h-5.7zM101.8 185.6h5.7v5.8h-5.7zM198.3 185.6h5.7v5.8h-5.7zM21.4 196.6h5.7v5.7h-5.7zM48.2 196.6h5.7v5.7h-5.7zM75 196.6h5.7v5.7h-5.7zM80.4 196.6h5.7v5.7h-5.7zM101.8 196.6h5.7v5.7h-5.7zM209 196.6h5.7v5.7h-5.7zM48.2 202h5.7v5.8h-5.7zM107.2 202h5.7v5.8h-5.7zM198.3 202h5.7v5.8h-5.7zM85.8 207.5h5.6v5.7h-5.6zM155.4 207.5h5.7v5.7h-5.7zM209 207.5h5.7v5.7h-5.7zM219.8 207.5h5.6v5.7h-5.6zM262.6 207.5h5.7v5.7h-5.7zM198.3 212.9h5.7v5.8h-5.7zM214.4 212.9h5.7v5.8h-5.7zM59 218.4h5.6v5.8h-5.6zM80.4 218.4h5.7v5.8h-5.7zM262.6 218.4h5.7v5.8h-5.7zM101.8 223.9h5.7v5.7h-5.7zM107.2 223.9h5.7v5.7h-5.7zM166.2 223.9h5.6v5.7h-5.6zM187.6 223.9h5.7v5.7h-5.7zM219.8 223.9h5.6v5.7h-5.6zM0 229.3h5.7v5.8h-5.7zM5.4 229.3h5.6v5.8h-5.6zM26.8 229.3h5.7v5.8h-5.7zM150.1 229.3h5.6v5.8h-5.6zM219.8 229.3h5.6v5.8h-5.6zM10.7 234.8h5.7v5.7h-5.7zM262.6 234.8h5.7v5.7h-5.7zM42.9 245.7h5.6v5.8h-5.6zM80.4 245.7h5.7v5.8h-5.7zM209 245.7h5.7v5.8h-5.7zM246.6 245.7h5.6v5.8h-5.6zM251.9 245.7h5.7v5.8h-5.7zM0 251.2h5.7v5.7h-5.7zM10.7 251.2h5.7v5.7h-5.7zM85.8 251.2h5.6v5.7h-5.6zM101.8 251.2h5.7v5.7h-5.7zM112.6 251.2h5.6v5.7h-5.6zM128.6 251.2h5.7v5.7h-5.7zM37.5 256.6h5.7v5.8h-5.7zM53.6 256.6h5.7v5.8h-5.7zM107.2 256.6h5.7v5.8h-5.7zM166.2 256.6h5.6v5.8h-5.6zM182.2 256.6h5.7v5.8h-5.7zM193 256.6h5.6v5.8h-5.6zM225.1 256.6h5.7v5.8h-5.7zM5.4 262.1h5.6v5.7h-5.6zM16.1 262.1h5.6v5.7h-5.6zM21.4 262.1h5.7v5.7h-5.7zM32.2 262.1h5.6v5.7h-5.6zM193 262.1h5.6v5.7h-5.6zM219.8 262.1h5.6v5.7h-5.6zM225.1 262.1h5.7v5.7h-5.7zM48.2 267.5h5.7v5.8h-5.7zM80.4 267.5h5.7v5.8h-5.7z"/><path fill="#042916" d="M53.6 0h5.7v5.8h-5.7zM80.4 0h5.7v5.8h-5.7zM85.8 0h5.6v5.8h-5.6zM171.5 0h5.7v5.8h-5.7zM187.6 0h5.7v5.8h-5.7zM198.3 0h5.7v5.8h-5.7zM203.7 0h5.6v5.8h-5.6zM214.4 0h5.7v5.8h-5.7zM235.8 0h5.7v5.8h-5.7zM241.2 0h5.7v5.8h-5.7zM246.6 0h5.6v5.8h-5.6zM10.7 5.5h5.7v5.7h-5.7zM16.1 5.5h5.6v5.7h-5.6zM48.2 5.5h5.7v5.7h-5.7zM91.1 5.5h5.7v5.7h-5.7zM96.5 5.5h5.6v5.7h-5.6zM123.3 5.5h5.6v5.7h-5.6zM134 5.5h5.7v5.7h-5.7zM171.5 5.5h5.7v5.7h-5.7zM176.9 5.5h5.6v5.7h-5.6zM198.3 5.5h5.7v5.7h-5.7zM219.8 5.5h5.6v5.7h-5.6zM235.8 5.5h5.7v5.7h-5.7zM241.2 5.5h5.7v5.7h-5.7zM69.7 10.9h5.6v5.8h-5.6zM80.4 10.9h5.7v5.8h-5.7zM144.7 10.9h5.7v5.8h-5.7zM176.9 10.9h5.6v5.8h-5.6zM214.4 10.9h5.7v5.8h-5.7zM241.2 10.9h5.7v5.8h-5.7zM10.7 16.4h5.7v5.7h-5.7zM53.6 16.4h5.7v5.7h-5.7zM193 16.4h5.6v5.7h-5.6zM246.6 16.4h5.6v5.7h-5.6zM53.6 21.8h5.7v5.8h-5.7zM160.8 21.8h5.7v5.8h-5.7zM251.9 21.8h5.7v5.8h-5.7zM262.6 21.8h5.7v5.8h-5.7zM10.7 32.8h5.7v5.7h-5.7zM150.1 32.8h5.6v5.7h-5.6zM16.1 38.2h5.6v5.8h-5.6zM16.1 43.7h5.6v5.7h-5.6zM123.3 43.7h5.6v5.7h-5.6zM160.8 43.7h5.7v5.7h-5.7zM198.3 43.7h5.7v5.7h-5.7zM21.4 49.1h5.7v5.8h-5.7zM48.2 49.1h5.7v5.8h-5.7zM53.6 49.1h5.7v5.8h-5.7zM91.1 49.1h5.7v5.8h-5.7zM160.8 49.1h5.7v5.8h-5.7zM176.9 49.1h5.6v5.8h-5.6zM241.2 49.1h5.7v5.8h-5.7zM32.2 54.6h5.6v5.8h-5.6zM42.9 54.6h5.6v5.8h-5.6zM48.2 54.6h5.7v5.8h-5.7zM75 54.6h5.7v5.8h-5.7zM107.2 54.6h5.7v5.8h-5.7zM123.3 54.6h5.6v5.8h-5.6zM150.1 54.6h5.6v5.8h-5.6zM203.7 54.6h5.6v5.8h-5.6zM53.6 60.1h5.7v5.7h-5.7zM69.7 60.1h5.6v5.7h-5.6zM96.5 60.1h5.6v5.7h-5.6zM128.6 60.1h5.7v5.7h-5.7zM150.1 60.1h5.6v5.7h-5.6zM198.3 60.1h5.7v5.7h-5.7zM203.7 60.1h5.6v5.7h-5.6zM209 60.1h5.7v5.7h-5.7zM214.4 60.1h5.7v5.7h-5.7zM225.1 60.1h5.7v5.7h-5.7zM230.5 60.1h5.6v5.7h-5.6zM251.9 60.1h5.7v5.7h-5.7zM117.9 65.5h5.7v5.8h-5.7zM123.3 65.5h5.6v5.8h-5.6zM155.4 65.5h5.7v5.8h-5.7zM198.3 65.5h5.7v5.8h-5.7zM262.6 65.5h5.7v5.8h-5.7zM64.3 71h5.7v5.7h-5.7zM203.7 71h5.6v5.7h-5.6zM246.6 71h5.6v5.7h-5.6zM257.3 76.4h5.6v5.8h-5.6zM101.8 81.9h5.7v5.8h-5.7zM251.9 81.9h5.7v5.8h-5.7zM262.6 81.9h5.7v5.8h-5.7zM112.6 87.4h5.6v5.7h-5.6zM21.4 92.8h5.7v5.8h-5.7zM171.5 92.8h5.7v5.8h-5.7zM198.3 92.8h5.7v5.8h-5.7zM241.2 92.8h5.7v5.8h-5.7zM251.9 92.8h5.7v5.8h-5.7zM262.6 92.8h5.7v5.8h-5.7zM123.3 98.3h5.6v5.7h-5.6zM160.8 98.3h5.7v5.7h-5.7zM171.5 98.3h5.7v5.7h-5.7zM198.3 98.3h5.7v5.7h-5.7zM219.8 98.3h5.6v5.7h-5.6zM257.3 98.3h5.6v5.7h-5.6zM246.6 103.7h5.6v5.8h-5.6zM0 109.2h5.7v5.8h-5.7zM85.8 109.2h5.6v5.8h-5.6zM160.8 109.2h5.7v5.8h-5.7zM235.8 109.2h5.7v5.8h-5.7zM241.2 109.2h5.7v5.8h-5.7zM21.4 114.7h5.7v5.7h-5.7zM53.6 114.7h5.7v5.7h-5.7zM257.3 114.7h5.6v5.7h-5.6zM10.7 125.6h5.7v5.7h-5.7zM0 131h5.7v5.8h-5.7zM16.1 131h5.6v5.8h-5.6zM257.3 131h5.6v5.8h-5.6zM0 136.5h5.7v5.8h-5.7zM117.9 136.5h5.7v5.8h-5.7zM0 142h5.7v5.7h-5.7zM21.4 142h5.7v5.7h-5.7zM59 152.9h5.6v5.7h-5.6zM69.7 152.9h5.6v5.7h-5.6zM101.8 152.9h5.7v5.7h-5.7zM128.6 152.9h5.7v5.7h-5.7zM171.5 152.9h5.7v5.7h-5.7zM0 158.3h5.7v5.8h-5.7zM85.8 158.3h5.6v5.8h-5.6zM166.2 158.3h5.6v5.8h-5.6zM209 158.3h5.7v5.8h-5.7zM0 163.8h5.7v5.8h-5.7zM112.6 163.8h5.6v5.8h-5.6zM251.9 163.8h5.7v5.8h-5.7zM10.7 169.3h5.7v5.7h-5.7zM16.1 169.3h5.6v5.7h-5.6zM42.9 169.3h5.6v5.7h-5.6zM10.7 174.7h5.7v5.8h-5.7zM21.4 174.7h5.7v5.8h-5.7zM251.9 174.7h5.7v5.8h-5.7zM64.3 180.2h5.7v5.7h-5.7zM0 185.6h5.7v5.8h-5.7zM262.6 185.6h5.7v5.8h-5.7zM5.4 191.1h5.6v5.8h-5.6zM10.7 191.1h5.7v5.8h-5.7zM198.3 191.1h5.7v5.8h-5.7zM203.7 191.1h5.6v5.8h-5.6zM209 191.1h5.7v5.8h-5.7zM5.4 196.6h5.6v5.7h-5.6zM64.3 196.6h5.7v5.7h-5.7zM198.3 196.6h5.7v5.7h-5.7zM203.7 196.6h5.6v5.7h-5.6zM257.3 196.6h5.6v5.7h-5.6zM182.2 202h5.7v5.8h-5.7zM42.9 207.5h5.6v5.7h-5.6zM80.4 207.5h5.7v5.7h-5.7zM150.1 207.5h5.6v5.7h-5.6zM171.5 207.5h5.7v5.7h-5.7zM214.4 207.5h5.7v5.7h-5.7zM225.1 207.5h5.7v5.7h-5.7zM21.4 212.9h5.7v5.8h-5.7zM42.9 212.9h5.6v5.8h-5.6zM80.4 212.9h5.7v5.8h-5.7zM96.5 212.9h5.6v5.8h-5.6zM134 212.9h5.7v5.8h-5.7zM225.1 212.9h5.7v5.8h-5.7zM235.8 212.9h5.7v5.8h-5.7zM262.6 212.9h5.7v5.8h-5.7zM5.4 218.4h5.6v5.8h-5.6zM10.7 218.4h5.7v5.8h-5.7zM107.2 218.4h5.7v5.8h-5.7zM53.6 223.9h5.7v5.7h-5.7zM117.9 223.9h5.7v5.7h-5.7zM16.1 229.3h5.6v5.8h-5.6zM53.6 229.3h5.7v5.8h-5.7zM0 234.8h5.7v5.7h-5.7zM166.2 234.8h5.6v5.7h-5.6zM198.3 234.8h5.7v5.7h-5.7zM203.7 234.8h5.6v5.7h-5.6zM16.1 240.2h5.6v5.8h-5.6zM198.3 240.2h5.7v5.8h-5.7zM16.1 245.7h5.6v5.8h-5.6zM101.8 245.7h5.7v5.8h-5.7zM155.4 245.7h5.7v5.8h-5.7zM171.5 245.7h5.7v5.8h-5.7zM219.8 245.7h5.6v5.8h-5.6zM16.1 251.2h5.6v5.7h-5.6zM32.2 251.2h5.6v5.7h-5.6zM64.3 251.2h5.7v5.7h-5.7zM69.7 251.2h5.6v5.7h-5.6zM182.2 251.2h5.7v5.7h-5.7zM225.1 251.2h5.7v5.7h-5.7zM262.6 251.2h5.7v5.7h-5.7zM10.7 256.6h5.7v5.8h-5.7zM16.1 256.6h5.6v5.8h-5.6zM75 256.6h5.7v5.8h-5.7zM80.4 256.6h5.7v5.8h-5.7zM91.1 256.6h5.7v5.8h-5.7zM112.6 256.6h5.6v5.8h-5.6zM134 256.6h5.7v5.8h-5.7zM139.4 256.6h5.6v5.8h-5.6zM171.5 256.6h5.7v5.8h-5.7zM176.9 256.6h5.6v5.8h-5.6zM198.3 256.6h5.7v5.8h-5.7zM203.7 256.6h5.6v5.8h-5.6zM235.8 256.6h5.7v5.8h-5.7zM251.9 256.6h5.7v5.8h-5.7zM26.8 262.1h5.7v5.7h-5.7zM48.2 262.1h5.7v5.7h-5.7zM53.6 262.1h5.7v5.7h-5.7zM69.7 262.1h5.6v5.7h-5.6zM75 262.1h5.7v5.7h-5.7zM166.2 262.1h5.6v5.7h-5.6zM176.9 262.1h5.6v5.7h-5.6zM203.7 262.1h5.6v5.7h-5.6zM209 262.1h5.7v5.7h-5.7zM257.3 262.1h5.6v5.7h-5.6zM262.6 262.1h5.7v5.7h-5.7zM5.4 267.5h5.6v5.8h-5.6zM75 267.5h5.7v5.8h-5.7zM85.8 267.5h5.6v5.8h-5.6zM96.5 267.5h5.6v5.8h-5.6zM144.7 267.5h5.7v5.8h-5.7zM160.8 267.5h5.7v5.8h-5.7zM176.9 267.5h5.6v5.8h-5.6zM193 267.5h5.6v5.8h-5.6zM225.1 267.5h5.7v5.8h-5.7zM230.5 267.5h5.6v5.8h-5.6zM257.3 267.5h5.6v5.8h-5.6z"/><path fill="#04331c" d="M59 0h5.6v5.8h-5.6zM64.3 0h5.7v5.8h-5.7zM101.8 0h5.7v5.8h-5.7zM219.8 0h5.6v5.8h-5.6zM225.1 0h5.7v5.8h-5.7zM230.5 0h5.6v5.8h-5.6zM0 5.5h5.7v5.7h-5.7zM26.8 5.5h5.7v5.7h-5.7zM80.4 5.5h5.7v5.7h-5.7zM85.8 5.5h5.6v5.7h-5.6zM187.6 5.5h5.7v5.7h-5.7zM203.7 5.5h5.6v5.7h-5.6zM0 10.9h5.7v5.8h-5.7zM117.9 10.9h5.7v5.8h-5.7zM134 10.9h5.7v5.8h-5.7zM139.4 10.9h5.6v5.8h-5.6zM166.2 10.9h5.6v5.8h-5.6zM187.6 10.9h5.7v5.8h-5.7zM193 10.9h5.6v5.8h-5.6zM16.1 16.4h5.6v5.7h-5.6zM64.3 16.4h5.7v5.7h-5.7zM150.1 16.4h5.6v5.7h-5.6zM160.8 16.4h5.7v5.7h-5.7zM203.7 16.4h5.6v5.7h-5.6zM209 16.4h5.7v5.7h-5.7zM214.4 16.4h5.7v5.7h-5.7zM64.3 21.8h5.7v5.8h-5.7zM112.6 21.8h5.6v5.8h-5.6zM214.4 21.8h5.7v5.8h-5.7zM246.6 21.8h5.6v5.8h-5.6zM16.1 27.3h5.6v5.8h-5.6zM64.3 27.3h5.7v5.8h-5.7zM203.7 27.3h5.6v5.8h-5.6zM257.3 27.3h5.6v5.8h-5.6zM21.4 32.8h5.7v5.7h-5.7zM101.8 32.8h5.7v5.7h-5.7zM166.2 32.8h5.6v5.7h-5.6zM198.3 32.8h5.7v5.7h-5.7zM144.7 38.2h5.7v5.8h-5.7zM198.3 38.2h5.7v5.8h-5.7zM257.3 38.2h5.6v5.8h-5.6zM69.7 43.7h5.6v5.7h-5.6zM117.9 43.7h5.7v5.7h-5.7zM128.6 43.7h5.7v5.7h-5.7zM171.5 43.7h5.7v5.7h-5.7zM96.5 49.1h5.6v5.8h-5.6zM112.6 49.1h5.6v5.8h-5.6zM123.3 49.1h5.6v5.8h-5.6zM155.4 49.1h5.7v5.8h-5.7zM182.2 49.1h5.7v5.8h-5.7zM193 49.1h5.6v5.8h-5.6zM198.3 49.1h5.7v5.8h-5.7zM225.1 49.1h5.7v5.8h-5.7zM257.3 49.1h5.6v5.8h-5.6zM262.6 49.1h5.7v5.8h-5.7zM134 54.6h5.7v5.8h-5.7zM176.9 54.6h5.6v5.8h-5.6zM91.1 60.1h5.7v5.7h-5.7zM160.8 60.1h5.7v5.7h-5.7zM48.2 65.5h5.7v5.8h-5.7zM85.8 65.5h5.6v5.8h-5.6zM101.8 65.5h5.7v5.8h-5.7zM160.8 65.5h5.7v5.8h-5.7zM230.5 65.5h5.6v5.8h-5.6zM16.1 71h5.6v5.7h-5.6zM155.4 71h5.7v5.7h-5.7zM53.6 76.4h5.7v5.8h-5.7zM64.3 76.4h5.7v5.8h-5.7zM96.5 76.4h5.6v5.8h-5.6zM209 87.4h5.7v5.7h-5.7zM214.4 87.4h5.7v5.7h-5.7zM251.9 87.4h5.7v5.7h-5.7zM5.4 92.8h5.6v5.8h-5.6zM150.1 92.8h5.6v5.8h-5.6zM203.7 92.8h5.6v5.8h-5.6zM21.4 98.3h5.7v5.7h-5.7zM80.4 98.3h5.7v5.7h-5.7zM112.6 98.3h5.6v5.7h-5.6zM134 98.3h5.7v5.7h-5.7zM0 103.7h5.7v5.8h-5.7zM5.4 103.7h5.6v5.8h-5.6zM155.4 103.7h5.7v5.8h-5.7zM171.5 103.7h5.7v5.8h-5.7zM182.2 103.7h5.7v5.8h-5.7zM198.3 103.7h5.7v5.8h-5.7zM214.4 103.7h5.7v5.8h-5.7zM230.5 103.7h5.6v5.8h-5.6zM257.3 103.7h5.6v5.8h-5.6zM262.6 103.7h5.7v5.8h-5.7zM166.2 109.2h5.6v5.8h-5.6zM171.5 109.2h5.7v5.8h-5.7zM176.9 109.2h5.6v5.8h-5.6zM193 109.2h5.6v5.8h-5.6zM230.5 109.2h5.6v5.8h-5.6zM246.6 109.2h5.6v5.8h-5.6zM251.9 120.1h5.7v5.8h-5.7zM262.6 120.1h5.7v5.8h-5.7zM5.4 125.6h5.6v5.7h-5.6zM150.1 125.6h5.6v5.7h-5.6zM166.2 125.6h5.6v5.7h-5.6zM257.3 125.6h5.6v5.7h-5.6zM5.4 131h5.6v5.8h-5.6zM16.1 142h5.6v5.7h-5.6zM10.7 147.4h5.7v5.8h-5.7zM16.1 147.4h5.6v5.8h-5.6zM21.4 147.4h5.7v5.8h-5.7zM53.6 147.4h5.7v5.8h-5.7zM64.3 147.4h5.7v5.8h-5.7zM75 147.4h5.7v5.8h-5.7zM101.8 147.4h5.7v5.8h-5.7zM112.6 147.4h5.6v5.8h-5.6zM160.8 147.4h5.7v5.8h-5.7zM251.9 147.4h5.7v5.8h-5.7zM257.3 147.4h5.6v5.8h-5.6zM53.6 152.9h5.7v5.7h-5.7zM64.3 152.9h5.7v5.7h-5.7zM117.9 152.9h5.7v5.7h-5.7zM123.3 152.9h5.6v5.7h-5.6zM187.6 152.9h5.7v5.7h-5.7zM26.8 158.3h5.7v5.8h-5.7zM42.9 158.3h5.6v5.8h-5.6zM96.5 158.3h5.6v5.8h-5.6zM144.7 158.3h5.7v5.8h-5.7zM171.5 158.3h5.7v5.8h-5.7zM251.9 158.3h5.7v5.8h-5.7zM262.6 158.3h5.7v5.8h-5.7zM101.8 163.8h5.7v5.8h-5.7zM0 169.3h5.7v5.7h-5.7zM37.5 169.3h5.7v5.7h-5.7zM112.6 169.3h5.6v5.7h-5.6zM160.8 174.7h5.7v5.8h-5.7zM0 180.2h5.7v5.7h-5.7zM160.8 180.2h5.7v5.7h-5.7zM209 180.2h5.7v5.7h-5.7zM59 185.6h5.6v5.8h-5.6zM107.2 185.6h5.7v5.8h-5.7zM251.9 185.6h5.7v5.8h-5.7zM101.8 191.1h5.7v5.8h-5.7zM0 196.6h5.7v5.7h-5.7zM42.9 196.6h5.6v5.7h-5.6zM96.5 196.6h5.6v5.7h-5.6zM107.2 196.6h5.7v5.7h-5.7zM214.4 196.6h5.7v5.7h-5.7zM262.6 196.6h5.7v5.7h-5.7zM21.4 202h5.7v5.8h-5.7zM26.8 202h5.7v5.8h-5.7zM32.2 202h5.6v5.8h-5.6zM80.4 202h5.7v5.8h-5.7zM101.8 202h5.7v5.8h-5.7zM246.6 202h5.6v5.8h-5.6zM5.4 207.5h5.6v5.7h-5.6zM16.1 207.5h5.6v5.7h-5.6zM64.3 207.5h5.7v5.7h-5.7zM69.7 207.5h5.6v5.7h-5.6zM112.6 207.5h5.6v5.7h-5.6zM128.6 207.5h5.7v5.7h-5.7zM139.4 207.5h5.6v5.7h-5.6zM144.7 207.5h5.7v5.7h-5.7zM241.2 207.5h5.7v5.7h-5.7zM48.2 212.9h5.7v5.8h-5.7zM53.6 212.9h5.7v5.8h-5.7zM112.6 212.9h5.6v5.8h-5.6zM117.9 212.9h5.7v5.8h-5.7zM251.9 212.9h5.7v5.8h-5.7zM53.6 218.4h5.7v5.8h-5.7zM171.5 218.4h5.7v5.8h-5.7zM246.6 218.4h5.6v5.8h-5.6zM0 223.9h5.7v5.7h-5.7zM21.4 223.9h5.7v5.7h-5.7zM26.8 223.9h5.7v5.7h-5.7zM251.9 223.9h5.7v5.7h-5.7zM257.3 223.9h5.6v5.7h-5.6zM262.6 223.9h5.7v5.7h-5.7zM10.7 229.3h5.7v5.8h-5.7zM166.2 229.3h5.6v5.8h-5.6zM198.3 229.3h5.7v5.8h-5.7zM209 229.3h5.7v5.8h-5.7zM257.3 229.3h5.6v5.8h-5.6zM16.1 234.8h5.6v5.7h-5.6zM53.6 234.8h5.7v5.7h-5.7zM59 234.8h5.6v5.7h-5.6zM101.8 234.8h5.7v5.7h-5.7zM112.6 234.8h5.6v5.7h-5.6zM117.9 234.8h5.7v5.7h-5.7zM160.8 234.8h5.7v5.7h-5.7zM214.4 234.8h5.7v5.7h-5.7zM257.3 234.8h5.6v5.7h-5.6zM0 240.2h5.7v5.8h-5.7zM10.7 240.2h5.7v5.8h-5.7zM101.8 240.2h5.7v5.8h-5.7zM214.4 240.2h5.7v5.8h-5.7zM10.7 245.7h5.7v5.8h-5.7zM21.4 245.7h5.7v5.8h-5.7zM53.6 245.7h5.7v5.8h-5.7zM166.2 245.7h5.6v5.8h-5.6zM198.3 245.7h5.7v5.8h-5.7zM203.7 245.7h5.6v5.8h-5.6zM214.4 245.7h5.7v5.8h-5.7zM241.2 245.7h5.7v5.8h-5.7zM42.9 251.2h5.6v5.7h-5.6zM166.2 251.2h5.6v5.7h-5.6zM193 251.2h5.6v5.7h-5.6zM257.3 251.2h5.6v5.7h-5.6zM59 256.6h5.6v5.8h-5.6zM64.3 256.6h5.7v5.8h-5.7zM96.5 256.6h5.6v5.8h-5.6zM160.8 256.6h5.7v5.8h-5.7zM187.6 256.6h5.7v5.8h-5.7zM241.2 256.6h5.7v5.8h-5.7zM42.9 262.1h5.6v5.7h-5.6zM85.8 262.1h5.6v5.7h-5.6zM107.2 262.1h5.7v5.7h-5.7zM123.3 262.1h5.6v5.7h-5.6zM128.6 262.1h5.7v5.7h-5.7zM144.7 262.1h5.7v5.7h-5.7zM171.5 262.1h5.7v5.7h-5.7zM198.3 262.1h5.7v5.7h-5.7zM59 267.5h5.6v5.8h-5.6zM69.7 267.5h5.6v5.8h-5.6zM91.1 267.5h5.7v5.8h-5.7zM101.8 267.5h5.7v5.8h-5.7zM107.2 267.5h5.7v5.8h-5.7zM134 267.5h5.7v5.8h-5.7zM139.4 267.5h5.6v5.8h-5.6zM166.2 267.5h5.6v5.8h-5.6zM182.2 267.5h5.7v5.8h-5.7zM198.3 267.5h5.7v5.8h-5.7zM214.4 267.5h5.7v5.8h-5.7z"/><path fill="#085131" d="M112.6 0h5.6v5.8h-5.6zM176.9 0h5.6v5.8h-5.6zM21.4 5.5h5.7v5.7h-5.7zM42.9 5.5h5.6v5.7h-5.6zM64.3 5.5h5.7v5.7h-5.7zM32.2 10.9h5.6v5.8h-5.6zM42.9 10.9h5.6v5.8h-5.6zM75 10.9h5.7v5.8h-5.7zM101.8 10.9h5.7v5.8h-5.7zM235.8 10.9h5.7v5.8h-5.7zM21.4 16.4h5.7v5.7h-5.7zM112.6 16.4h5.6v5.7h-5.6zM123.3 16.4h5.6v5.7h-5.6zM144.7 16.4h5.7v5.7h-5.7zM171.5 16.4h5.7v5.7h-5.7zM219.8 16.4h5.6v5.7h-5.6zM0 21.8h5.7v5.8h-5.7zM96.5 21.8h5.6v5.8h-5.6zM107.2 21.8h5.7v5.8h-5.7zM166.2 21.8h5.6v5.8h-5.6zM171.5 21.8h5.7v5.8h-5.7zM241.2 21.8h5.7v5.8h-5.7zM5.4 27.3h5.6v5.8h-5.6zM21.4 27.3h5.7v5.8h-5.7zM101.8 27.3h5.7v5.8h-5.7zM166.2 27.3h5.6v5.8h-5.6zM0 32.8h5.7v5.7h-5.7zM112.6 32.8h5.6v5.7h-5.6zM144.7 32.8h5.7v5.7h-5.7zM171.5 32.8h5.7v5.7h-5.7zM5.4 38.2h5.6v5.8h-5.6zM123.3 38.2h5.6v5.8h-5.6zM214.4 38.2h5.7v5.8h-5.7zM235.8 38.2h5.7v5.8h-5.7zM241.2 38.2h5.7v5.8h-5.7zM112.6 43.7h5.6v5.7h-5.6zM187.6 43.7h5.7v5.7h-5.7zM203.7 43.7h5.6v5.7h-5.6zM219.8 43.7h5.6v5.7h-5.6zM107.2 49.1h5.7v5.8h-5.7zM85.8 54.6h5.6v5.8h-5.6zM155.4 54.6h5.7v5.8h-5.7zM219.8 54.6h5.6v5.8h-5.6zM10.7 60.1h5.7v5.7h-5.7zM32.2 60.1h5.6v5.7h-5.6zM48.2 60.1h5.7v5.7h-5.7zM246.6 60.1h5.6v5.7h-5.6zM16.1 65.5h5.6v5.8h-5.6zM53.6 65.5h5.7v5.8h-5.7zM75 65.5h5.7v5.8h-5.7zM91.1 65.5h5.7v5.8h-5.7zM112.6 65.5h5.6v5.8h-5.6zM139.4 65.5h5.6v5.8h-5.6zM166.2 65.5h5.6v5.8h-5.6zM235.8 65.5h5.7v5.8h-5.7zM107.2 71h5.7v5.7h-5.7zM166.2 71h5.6v5.7h-5.6zM10.7 76.4h5.7v5.8h-5.7zM48.2 76.4h5.7v5.8h-5.7zM69.7 76.4h5.6v5.8h-5.6zM117.9 76.4h5.7v5.8h-5.7zM53.6 81.9h5.7v5.8h-5.7zM112.6 81.9h5.6v5.8h-5.6zM144.7 81.9h5.7v5.8h-5.7zM171.5 81.9h5.7v5.8h-5.7zM241.2 81.9h5.7v5.8h-5.7zM5.4 87.4h5.6v5.7h-5.6zM101.8 87.4h5.7v5.7h-5.7zM123.3 87.4h5.6v5.7h-5.6zM80.4 92.8h5.7v5.8h-5.7zM96.5 92.8h5.6v5.8h-5.6zM225.1 92.8h5.7v5.8h-5.7zM166.2 98.3h5.6v5.7h-5.6zM203.7 98.3h5.6v5.7h-5.6zM246.6 98.3h5.6v5.7h-5.6zM10.7 103.7h5.7v5.8h-5.7zM26.8 103.7h5.7v5.8h-5.7zM75 103.7h5.7v5.8h-5.7zM80.4 103.7h5.7v5.8h-5.7zM101.8 103.7h5.7v5.8h-5.7zM10.7 109.2h5.7v5.8h-5.7zM32.2 109.2h5.6v5.8h-5.6zM59 109.2h5.6v5.8h-5.6zM155.4 109.2h5.7v5.8h-5.7zM48.2 114.7h5.7v5.7h-5.7zM203.7 114.7h5.6v5.7h-5.6zM53.6 120.1h5.7v5.8h-5.7zM144.7 120.1h5.7v5.8h-5.7zM241.2 120.1h5.7v5.8h-5.7zM246.6 120.1h5.6v5.8h-5.6zM96.5 125.6h5.6v5.7h-5.6zM160.8 125.6h5.7v5.7h-5.7zM262.6 125.6h5.7v5.7h-5.7zM101.8 131h5.7v5.8h-5.7zM117.9 131h5.7v5.8h-5.7zM198.3 131h5.7v5.8h-5.7zM262.6 131h5.7v5.8h-5.7zM107.2 136.5h5.7v5.8h-5.7zM257.3 136.5h5.6v5.8h-5.6zM26.8 142h5.7v5.7h-5.7zM123.3 142h5.6v5.7h-5.6zM144.7 142h5.7v5.7h-5.7zM203.7 142h5.6v5.7h-5.6zM5.4 147.4h5.6v5.8h-5.6zM107.2 147.4h5.7v5.8h-5.7zM166.2 147.4h5.6v5.8h-5.6zM246.6 147.4h5.6v5.8h-5.6zM96.5 152.9h5.6v5.7h-5.6zM193 152.9h5.6v5.7h-5.6zM262.6 152.9h5.7v5.7h-5.7zM37.5 158.3h5.7v5.8h-5.7zM160.8 158.3h5.7v5.8h-5.7zM48.2 163.8h5.7v5.8h-5.7zM59 163.8h5.6v5.8h-5.6zM139.4 163.8h5.6v5.8h-5.6zM225.1 163.8h5.7v5.8h-5.7zM5.4 169.3h5.6v5.7h-5.6zM53.6 169.3h5.7v5.7h-5.7zM64.3 169.3h5.7v5.7h-5.7zM91.1 169.3h5.7v5.7h-5.7zM155.4 169.3h5.7v5.7h-5.7zM16.1 174.7h5.6v5.8h-5.6zM150.1 174.7h5.6v5.8h-5.6zM166.2 174.7h5.6v5.8h-5.6zM193 174.7h5.6v5.8h-5.6zM16.1 180.2h5.6v5.7h-5.6zM69.7 180.2h5.6v5.7h-5.6zM166.2 180.2h5.6v5.7h-5.6zM203.7 180.2h5.6v5.7h-5.6zM257.3 180.2h5.6v5.7h-5.6zM166.2 185.6h5.6v5.8h-5.6zM21.4 191.1h5.7v5.8h-5.7zM251.9 191.1h5.7v5.8h-5.7zM262.6 191.1h5.7v5.8h-5.7zM32.2 196.6h5.6v5.7h-5.6zM37.5 196.6h5.7v5.7h-5.7zM91.1 196.6h5.7v5.7h-5.7zM187.6 196.6h5.7v5.7h-5.7zM219.8 196.6h5.6v5.7h-5.6zM251.9 196.6h5.7v5.7h-5.7zM10.7 202h5.7v5.8h-5.7zM75 202h5.7v5.8h-5.7zM91.1 202h5.7v5.8h-5.7zM101.8 207.5h5.7v5.7h-5.7zM187.6 207.5h5.7v5.7h-5.7zM235.8 207.5h5.7v5.7h-5.7zM59 212.9h5.6v5.8h-5.6zM85.8 212.9h5.6v5.8h-5.6zM128.6 212.9h5.7v5.8h-5.7zM209 212.9h5.7v5.8h-5.7zM230.5 212.9h5.6v5.8h-5.6zM16.1 218.4h5.6v5.8h-5.6zM21.4 218.4h5.7v5.8h-5.7zM85.8 218.4h5.6v5.8h-5.6zM101.8 218.4h5.7v5.8h-5.7zM160.8 218.4h5.7v5.8h-5.7zM176.9 218.4h5.6v5.8h-5.6zM209 218.4h5.7v5.8h-5.7zM32.2 223.9h5.6v5.7h-5.6zM176.9 223.9h5.6v5.7h-5.6zM117.9 229.3h5.7v5.8h-5.7zM144.7 229.3h5.7v5.8h-5.7zM5.4 234.8h5.6v5.7h-5.6zM171.5 234.8h5.7v5.7h-5.7zM209 234.8h5.7v5.7h-5.7zM5.4 240.2h5.6v5.8h-5.6zM26.8 240.2h5.7v5.8h-5.7zM75 240.2h5.7v5.8h-5.7zM96.5 240.2h5.6v5.8h-5.6zM155.4 240.2h5.7v5.8h-5.7zM0 245.7h5.7v5.8h-5.7zM96.5 245.7h5.6v5.8h-5.6zM107.2 245.7h5.7v5.8h-5.7zM160.8 245.7h5.7v5.8h-5.7zM187.6 245.7h5.7v5.8h-5.7zM230.5 245.7h5.6v5.8h-5.6zM262.6 245.7h5.7v5.8h-5.7zM26.8 251.2h5.7v5.7h-5.7zM59 251.2h5.6v5.7h-5.6zM155.4 251.2h5.7v5.7h-5.7zM171.5 251.2h5.7v5.7h-5.7zM21.4 256.6h5.7v5.8h-5.7zM26.8 256.6h5.7v5.8h-5.7zM32.2 256.6h5.6v5.8h-5.6zM42.9 256.6h5.6v5.8h-5.6zM219.8 256.6h5.6v5.8h-5.6zM91.1 262.1h5.7v5.7h-5.7z"/><path fill="#030a09" d="M262.6 5.5h5.7v5.7h-5.7z"/><path fill="#117049" d="M10.7 10.9h5.7v5.8h-5.7zM91.1 10.9h5.7v5.8h-5.7zM123.3 10.9h5.6v5.8h-5.6zM21.4 21.8h5.7v5.8h-5.7zM117.9 21.8h5.7v5.8h-5.7zM112.6 27.3h5.6v5.8h-5.6zM150.1 27.3h5.6v5.8h-5.6zM171.5 27.3h5.7v5.8h-5.7zM96.5 32.8h5.6v5.7h-5.6zM214.4 32.8h5.7v5.7h-5.7zM26.8 38.2h5.7v5.8h-5.7zM101.8 38.2h5.7v5.8h-5.7zM139.4 38.2h5.6v5.8h-5.6zM193 38.2h5.6v5.8h-5.6zM59 43.7h5.6v5.7h-5.6zM91.1 43.7h5.7v5.7h-5.7zM96.5 43.7h5.6v5.7h-5.6zM101.8 43.7h5.7v5.7h-5.7zM139.4 43.7h5.6v5.7h-5.6zM225.1 43.7h5.7v5.7h-5.7zM139.4 49.1h5.6v5.8h-5.6zM187.6 49.1h5.7v5.8h-5.7zM21.4 54.6h5.7v5.8h-5.7zM26.8 54.6h5.7v5.8h-5.7zM64.3 54.6h5.7v5.8h-5.7zM80.4 54.6h5.7v5.8h-5.7zM101.8 54.6h5.7v5.8h-5.7zM139.4 54.6h5.6v5.8h-5.6zM225.1 54.6h5.7v5.8h-5.7zM230.5 54.6h5.6v5.8h-5.6zM0 60.1h5.7v5.7h-5.7zM5.4 60.1h5.6v5.7h-5.6zM37.5 60.1h5.7v5.7h-5.7zM42.9 60.1h5.6v5.7h-5.6zM101.8 60.1h5.7v5.7h-5.7zM107.2 60.1h5.7v5.7h-5.7zM112.6 60.1h5.6v5.7h-5.6zM166.2 60.1h5.6v5.7h-5.6zM171.5 60.1h5.7v5.7h-5.7zM182.2 60.1h5.7v5.7h-5.7zM144.7 65.5h5.7v5.8h-5.7zM150.1 65.5h5.6v5.8h-5.6zM176.9 65.5h5.6v5.8h-5.6zM80.4 71h5.7v5.7h-5.7zM112.6 71h5.6v5.7h-5.6zM144.7 71h5.7v5.7h-5.7zM251.9 71h5.7v5.7h-5.7zM101.8 76.4h5.7v5.8h-5.7zM123.3 76.4h5.6v5.8h-5.6zM144.7 76.4h5.7v5.8h-5.7zM150.1 76.4h5.6v5.8h-5.6zM5.4 81.9h5.6v5.8h-5.6zM10.7 81.9h5.7v5.8h-5.7zM59 81.9h5.6v5.8h-5.6zM26.8 87.4h5.7v5.7h-5.7zM80.4 87.4h5.7v5.7h-5.7zM91.1 87.4h5.7v5.7h-5.7zM107.2 87.4h5.7v5.7h-5.7zM166.2 87.4h5.6v5.7h-5.6zM176.9 87.4h5.6v5.7h-5.6zM235.8 87.4h5.7v5.7h-5.7zM53.6 92.8h5.7v5.8h-5.7zM101.8 92.8h5.7v5.8h-5.7zM160.8 92.8h5.7v5.8h-5.7zM182.2 92.8h5.7v5.8h-5.7zM0 98.3h5.7v5.7h-5.7zM16.1 98.3h5.6v5.7h-5.6zM64.3 98.3h5.7v5.7h-5.7zM69.7 98.3h5.6v5.7h-5.6zM107.2 98.3h5.7v5.7h-5.7zM144.7 98.3h5.7v5.7h-5.7zM107.2 103.7h5.7v5.8h-5.7zM48.2 109.2h5.7v5.8h-5.7zM107.2 109.2h5.7v5.8h-5.7zM214.4 109.2h5.7v5.8h-5.7zM0 114.7h5.7v5.7h-5.7zM32.2 114.7h5.6v5.7h-5.6zM96.5 114.7h5.6v5.7h-5.6zM155.4 114.7h5.7v5.7h-5.7zM107.2 120.1h5.7v5.8h-5.7zM155.4 120.1h5.7v5.8h-5.7zM69.7 125.6h5.6v5.7h-5.6zM101.8 125.6h5.7v5.7h-5.7zM203.7 131h5.6v5.8h-5.6zM123.3 136.5h5.6v5.8h-5.6zM262.6 142h5.7v5.7h-5.7zM91.1 147.4h5.7v5.8h-5.7zM139.4 147.4h5.6v5.8h-5.6zM182.2 147.4h5.7v5.8h-5.7zM160.8 152.9h5.7v5.7h-5.7zM10.7 158.3h5.7v5.8h-5.7zM32.2 158.3h5.6v5.8h-5.6zM117.9 158.3h5.7v5.8h-5.7zM198.3 158.3h5.7v5.8h-5.7zM10.7 163.8h5.7v5.8h-5.7zM117.9 163.8h5.7v5.8h-5.7zM128.6 163.8h5.7v5.8h-5.7zM155.4 163.8h5.7v5.8h-5.7zM166.2 163.8h5.6v5.8h-5.6zM32.2 169.3h5.6v5.7h-5.6zM117.9 169.3h5.7v5.7h-5.7zM139.4 169.3h5.6v5.7h-5.6zM203.7 174.7h5.6v5.8h-5.6zM26.8 180.2h5.7v5.7h-5.7zM251.9 180.2h5.7v5.7h-5.7zM160.8 185.6h5.7v5.8h-5.7zM26.8 191.1h5.7v5.8h-5.7zM187.6 191.1h5.7v5.8h-5.7zM59 196.6h5.6v5.7h-5.6zM112.6 196.6h5.6v5.7h-5.6zM235.8 202h5.7v5.8h-5.7zM10.7 207.5h5.7v5.7h-5.7zM150.1 212.9h5.6v5.8h-5.6zM160.8 212.9h5.7v5.8h-5.7zM176.9 212.9h5.6v5.8h-5.6zM26.8 218.4h5.7v5.8h-5.7zM166.2 218.4h5.6v5.8h-5.6zM182.2 218.4h5.7v5.8h-5.7zM193 218.4h5.6v5.8h-5.6zM241.2 218.4h5.7v5.8h-5.7zM37.5 223.9h5.7v5.7h-5.7zM75 223.9h5.7v5.7h-5.7zM96.5 223.9h5.6v5.7h-5.6zM160.8 223.9h5.7v5.7h-5.7zM246.6 229.3h5.6v5.8h-5.6zM155.4 234.8h5.7v5.7h-5.7zM193 234.8h5.6v5.7h-5.6zM123.3 240.2h5.6v5.8h-5.6zM150.1 240.2h5.6v5.8h-5.6zM26.8 245.7h5.7v5.8h-5.7zM85.8 245.7h5.6v5.8h-5.6zM235.8 245.7h5.7v5.8h-5.7zM37.5 251.2h5.7v5.7h-5.7zM75 251.2h5.7v5.7h-5.7zM139.4 251.2h5.6v5.7h-5.6z"/><path fill="#157a52" d="M37.5 10.9h5.7v5.8h-5.7zM42.9 16.4h5.6v5.7h-5.6zM48.2 16.4h5.7v5.7h-5.7zM128.6 16.4h5.7v5.7h-5.7zM235.8 16.4h5.7v5.7h-5.7zM75 21.8h5.7v5.8h-5.7zM187.6 21.8h5.7v5.8h-5.7zM214.4 27.3h5.7v5.8h-5.7zM32.2 38.2h5.6v5.8h-5.6zM59 38.2h5.6v5.8h-5.6zM53.6 43.7h5.7v5.7h-5.7zM80.4 43.7h5.7v5.7h-5.7zM230.5 43.7h5.6v5.7h-5.6zM144.7 49.1h5.7v5.8h-5.7zM5.4 54.6h5.6v5.8h-5.6zM171.5 54.6h5.7v5.8h-5.7zM26.8 60.1h5.7v5.7h-5.7zM26.8 65.5h5.7v5.8h-5.7zM37.5 65.5h5.7v5.8h-5.7zM219.8 65.5h5.6v5.8h-5.6zM246.6 65.5h5.6v5.8h-5.6zM101.8 71h5.7v5.7h-5.7zM166.2 76.4h5.6v5.8h-5.6zM64.3 87.4h5.7v5.7h-5.7zM117.9 87.4h5.7v5.7h-5.7zM193 87.4h5.6v5.7h-5.6zM214.4 92.8h5.7v5.8h-5.7zM182.2 98.3h5.7v5.7h-5.7zM37.5 103.7h5.7v5.8h-5.7zM123.3 103.7h5.6v5.8h-5.6zM128.6 103.7h5.7v5.8h-5.7zM187.6 103.7h5.7v5.8h-5.7zM203.7 103.7h5.6v5.8h-5.6zM209 103.7h5.7v5.8h-5.7zM101.8 109.2h5.7v5.8h-5.7zM144.7 109.2h5.7v5.8h-5.7zM209 109.2h5.7v5.8h-5.7zM5.4 114.7h5.6v5.7h-5.6zM10.7 120.1h5.7v5.8h-5.7zM75 120.1h5.7v5.8h-5.7zM139.4 120.1h5.6v5.8h-5.6zM187.6 120.1h5.7v5.8h-5.7zM203.7 120.1h5.6v5.8h-5.6zM214.4 120.1h5.7v5.8h-5.7zM225.1 120.1h5.7v5.8h-5.7zM0 125.6h5.7v5.7h-5.7zM214.4 131h5.7v5.8h-5.7zM21.4 136.5h5.7v5.8h-5.7zM96.5 136.5h5.6v5.8h-5.6zM193 136.5h5.6v5.8h-5.6zM198.3 136.5h5.7v5.8h-5.7zM219.8 136.5h5.6v5.8h-5.6zM246.6 136.5h5.6v5.8h-5.6zM69.7 142h5.6v5.7h-5.6zM75 142h5.7v5.7h-5.7zM80.4 142h5.7v5.7h-5.7zM171.5 142h5.7v5.7h-5.7zM214.4 142h5.7v5.7h-5.7zM219.8 142h5.6v5.7h-5.6zM241.2 142h5.7v5.7h-5.7zM80.4 147.4h5.7v5.8h-5.7zM225.1 147.4h5.7v5.8h-5.7zM235.8 147.4h5.7v5.8h-5.7zM0 152.9h5.7v5.7h-5.7zM182.2 158.3h5.7v5.8h-5.7zM241.2 158.3h5.7v5.8h-5.7zM21.4 169.3h5.7v5.7h-5.7zM48.2 169.3h5.7v5.7h-5.7zM144.7 174.7h5.7v5.8h-5.7zM214.4 174.7h5.7v5.8h-5.7zM5.4 180.2h5.6v5.7h-5.6zM59 180.2h5.6v5.7h-5.6zM5.4 185.6h5.6v5.8h-5.6zM48.2 185.6h5.7v5.8h-5.7zM64.3 185.6h5.7v5.8h-5.7zM75 185.6h5.7v5.8h-5.7zM203.7 185.6h5.6v5.8h-5.6zM209 185.6h5.7v5.8h-5.7zM42.9 191.1h5.6v5.8h-5.6zM16.1 196.6h5.6v5.7h-5.6zM139.4 196.6h5.6v5.7h-5.6zM171.5 196.6h5.7v5.7h-5.7zM150.1 202h5.6v5.8h-5.6zM219.8 202h5.6v5.8h-5.6zM107.2 207.5h5.7v5.7h-5.7zM123.3 207.5h5.6v5.7h-5.6zM160.8 207.5h5.7v5.7h-5.7zM139.4 212.9h5.6v5.8h-5.6zM75 218.4h5.7v5.8h-5.7zM139.4 218.4h5.6v5.8h-5.6zM187.6 218.4h5.7v5.8h-5.7zM235.8 218.4h5.7v5.8h-5.7zM64.3 223.9h5.7v5.7h-5.7zM80.4 223.9h5.7v5.7h-5.7zM150.1 223.9h5.6v5.7h-5.6zM101.8 229.3h5.7v5.8h-5.7zM107.2 229.3h5.7v5.8h-5.7zM64.3 234.8h5.7v5.7h-5.7zM150.1 234.8h5.6v5.7h-5.6zM246.6 234.8h5.6v5.7h-5.6zM32.2 240.2h5.6v5.8h-5.6zM53.6 240.2h5.7v5.8h-5.7zM64.3 240.2h5.7v5.8h-5.7zM209 240.2h5.7v5.8h-5.7zM241.2 240.2h5.7v5.8h-5.7zM32.2 245.7h5.6v5.8h-5.6zM75 245.7h5.7v5.8h-5.7zM139.4 245.7h5.6v5.8h-5.6zM144.7 245.7h5.7v5.8h-5.7zM48.2 251.2h5.7v5.7h-5.7zM91.1 251.2h5.7v5.7h-5.7zM134 251.2h5.7v5.7h-5.7zM144.7 251.2h5.7v5.7h-5.7zM48.2 256.6h5.7v5.8h-5.7z"/><path fill="#2ba376" d="M26.8 16.4h5.7v5.7h-5.7zM91.1 21.8h5.7v5.8h-5.7zM123.3 21.8h5.6v5.8h-5.6zM134 21.8h5.7v5.8h-5.7zM139.4 21.8h5.6v5.8h-5.6zM42.9 32.8h5.6v5.7h-5.6zM139.4 32.8h5.6v5.7h-5.6zM176.9 32.8h5.6v5.7h-5.6zM134 60.1h5.7v5.7h-5.7zM26.8 71h5.7v5.7h-5.7zM32.2 71h5.6v5.7h-5.6zM134 71h5.7v5.7h-5.7zM171.5 76.4h5.7v5.8h-5.7zM214.4 76.4h5.7v5.8h-5.7zM32.2 87.4h5.6v5.7h-5.6zM225.1 109.2h5.7v5.8h-5.7zM235.8 114.7h5.7v5.7h-5.7zM150.1 120.1h5.6v5.8h-5.6zM64.3 125.6h5.7v5.7h-5.7zM91.1 125.6h5.7v5.7h-5.7zM112.6 131h5.6v5.8h-5.6zM139.4 136.5h5.6v5.8h-5.6zM5.4 142h5.6v5.7h-5.6zM91.1 142h5.7v5.7h-5.7zM42.9 147.4h5.6v5.8h-5.6zM219.8 147.4h5.6v5.8h-5.6zM134 152.9h5.7v5.7h-5.7zM176.9 152.9h5.6v5.7h-5.6zM182.2 152.9h5.7v5.7h-5.7zM123.3 158.3h5.6v5.8h-5.6zM187.6 158.3h5.7v5.8h-5.7zM230.5 163.8h5.6v5.8h-5.6zM219.8 169.3h5.6v5.7h-5.6zM225.1 169.3h5.7v5.7h-5.7zM241.2 169.3h5.7v5.7h-5.7zM144.7 180.2h5.7v5.7h-5.7zM171.5 180.2h5.7v5.7h-5.7zM193 185.6h5.6v5.8h-5.6zM37.5 191.1h5.7v5.8h-5.7zM176.9 196.6h5.6v5.7h-5.6zM123.3 212.9h5.6v5.8h-5.6zM48.2 223.9h5.7v5.7h-5.7zM59 223.9h5.6v5.7h-5.6zM139.4 223.9h5.6v5.7h-5.6zM32.2 229.3h5.6v5.8h-5.6zM75 229.3h5.7v5.8h-5.7zM176.9 229.3h5.6v5.8h-5.6zM225.1 229.3h5.7v5.8h-5.7zM80.4 234.8h5.7v5.7h-5.7zM107.2 240.2h5.7v5.8h-5.7zM144.7 240.2h5.7v5.8h-5.7zM193 245.7h5.6v5.8h-5.6z"/><path fill="#43c293" d="M32.2 16.4h5.6v5.7h-5.6zM42.9 27.3h5.6v5.8h-5.6zM91.1 27.3h5.7v5.8h-5.7zM96.5 27.3h5.6v5.8h-5.6zM42.9 71h5.6v5.7h-5.6zM230.5 71h5.6v5.7h-5.6zM187.6 81.9h5.7v5.8h-5.7zM182.2 87.4h5.7v5.7h-5.7zM48.2 92.8h5.7v5.8h-5.7zM85.8 98.3h5.6v5.7h-5.6zM150.1 109.2h5.6v5.8h-5.6zM101.8 114.7h5.7v5.7h-5.7zM193 114.7h5.6v5.7h-5.6zM187.6 125.6h5.7v5.7h-5.7zM193 125.6h5.6v5.7h-5.6zM48.2 142h5.7v5.7h-5.7zM187.6 142h5.7v5.7h-5.7zM134 147.4h5.7v5.8h-5.7zM80.4 163.8h5.7v5.8h-5.7zM235.8 163.8h5.7v5.8h-5.7zM123.3 169.3h5.6v5.7h-5.6zM171.5 169.3h5.7v5.7h-5.7zM80.4 174.7h5.7v5.8h-5.7zM241.2 174.7h5.7v5.8h-5.7zM219.8 185.6h5.6v5.8h-5.6zM75 191.1h5.7v5.8h-5.7zM91.1 191.1h5.7v5.8h-5.7zM139.4 202h5.6v5.8h-5.6zM91.1 207.5h5.7v5.7h-5.7zM80.4 229.3h5.7v5.8h-5.7zM182.2 229.3h5.7v5.8h-5.7zM241.2 229.3h5.7v5.8h-5.7zM128.6 240.2h5.7v5.8h-5.7zM225.1 240.2h5.7v5.8h-5.7z"/><path fill="#19845a" d="M37.5 16.4h5.7v5.7h-5.7zM176.9 16.4h5.6v5.7h-5.6zM182.2 16.4h5.7v5.7h-5.7zM187.6 16.4h5.7v5.7h-5.7zM48.2 21.8h5.7v5.8h-5.7zM69.7 21.8h5.6v5.8h-5.6zM193 27.3h5.6v5.8h-5.6zM219.8 27.3h5.6v5.8h-5.6zM16.1 32.8h5.6v5.7h-5.6zM69.7 32.8h5.6v5.7h-5.6zM75 32.8h5.7v5.7h-5.7zM117.9 32.8h5.7v5.7h-5.7zM155.4 32.8h5.7v5.7h-5.7zM187.6 32.8h5.7v5.7h-5.7zM219.8 32.8h5.6v5.7h-5.6zM96.5 38.2h5.6v5.8h-5.6zM117.9 38.2h5.7v5.8h-5.7zM128.6 38.2h5.7v5.8h-5.7zM176.9 43.7h5.6v5.7h-5.6zM26.8 49.1h5.7v5.8h-5.7zM155.4 60.1h5.7v5.7h-5.7zM37.5 71h5.7v5.7h-5.7zM96.5 81.9h5.6v5.8h-5.6zM107.2 81.9h5.7v5.8h-5.7zM134 87.4h5.7v5.7h-5.7zM198.3 87.4h5.7v5.7h-5.7zM75 92.8h5.7v5.8h-5.7zM117.9 92.8h5.7v5.8h-5.7zM176.9 92.8h5.6v5.8h-5.6zM53.6 98.3h5.7v5.7h-5.7zM59 98.3h5.6v5.7h-5.6zM75 98.3h5.7v5.7h-5.7zM193 98.3h5.6v5.7h-5.6zM32.2 103.7h5.6v5.8h-5.6zM48.2 103.7h5.7v5.8h-5.7zM112.6 103.7h5.6v5.8h-5.6zM117.9 103.7h5.7v5.8h-5.7zM134 103.7h5.7v5.8h-5.7zM193 103.7h5.6v5.8h-5.6zM150.1 114.7h5.6v5.7h-5.6zM182.2 114.7h5.7v5.7h-5.7zM85.8 120.1h5.6v5.8h-5.6zM96.5 120.1h5.6v5.8h-5.6zM144.7 125.6h5.7v5.7h-5.7zM214.4 125.6h5.7v5.7h-5.7zM246.6 125.6h5.6v5.7h-5.6zM123.3 131h5.6v5.8h-5.6zM171.5 131h5.7v5.8h-5.7zM16.1 136.5h5.6v5.8h-5.6zM150.1 136.5h5.6v5.8h-5.6zM214.4 136.5h5.7v5.8h-5.7zM16.1 152.9h5.6v5.7h-5.6zM139.4 152.9h5.6v5.7h-5.6zM150.1 152.9h5.6v5.7h-5.6zM203.7 152.9h5.6v5.7h-5.6zM21.4 158.3h5.7v5.8h-5.7zM53.6 158.3h5.7v5.8h-5.7zM59 158.3h5.6v5.8h-5.6zM64.3 158.3h5.7v5.8h-5.7zM128.6 158.3h5.7v5.8h-5.7zM150.1 158.3h5.6v5.8h-5.6zM155.4 158.3h5.7v5.8h-5.7zM53.6 163.8h5.7v5.8h-5.7zM91.1 163.8h5.7v5.8h-5.7zM107.2 163.8h5.7v5.8h-5.7zM171.5 163.8h5.7v5.8h-5.7zM193 163.8h5.6v5.8h-5.6zM75 169.3h5.7v5.7h-5.7zM5.4 174.7h5.6v5.8h-5.6zM42.9 174.7h5.6v5.8h-5.6zM53.6 174.7h5.7v5.8h-5.7zM69.7 174.7h5.6v5.8h-5.6zM112.6 174.7h5.6v5.8h-5.6zM198.3 174.7h5.7v5.8h-5.7zM96.5 180.2h5.6v5.7h-5.6zM107.2 180.2h5.7v5.7h-5.7zM198.3 180.2h5.7v5.7h-5.7zM48.2 191.1h5.7v5.8h-5.7zM80.4 191.1h5.7v5.8h-5.7zM96.5 191.1h5.6v5.8h-5.6zM139.4 191.1h5.6v5.8h-5.6zM144.7 191.1h5.7v5.8h-5.7zM246.6 191.1h5.6v5.8h-5.6zM144.7 196.6h5.7v5.7h-5.7zM193 196.6h5.6v5.7h-5.6zM241.2 196.6h5.7v5.7h-5.7zM42.9 202h5.6v5.8h-5.6zM59 202h5.6v5.8h-5.6zM134 202h5.7v5.8h-5.7zM96.5 207.5h5.6v5.7h-5.6zM134 207.5h5.7v5.7h-5.7zM37.5 212.9h5.7v5.8h-5.7zM144.7 218.4h5.7v5.8h-5.7zM225.1 218.4h5.7v5.8h-5.7zM69.7 223.9h5.6v5.7h-5.6zM155.4 223.9h5.7v5.7h-5.7zM214.4 223.9h5.7v5.7h-5.7zM225.1 223.9h5.7v5.7h-5.7zM112.6 229.3h5.6v5.8h-5.6zM155.4 229.3h5.7v5.8h-5.7zM26.8 234.8h5.7v5.7h-5.7zM241.2 234.8h5.7v5.7h-5.7zM193 240.2h5.6v5.8h-5.6zM219.8 240.2h5.6v5.8h-5.6zM37.5 245.7h5.7v5.8h-5.7zM48.2 245.7h5.7v5.8h-5.7zM176.9 245.7h5.6v5.8h-5.6zM123.3 251.2h5.6v5.7h-5.6z"/><path fill="#1e8f63" d="M75 16.4h5.7v5.7h-5.7zM80.4 16.4h5.7v5.7h-5.7zM26.8 21.8h5.7v5.8h-5.7zM26.8 32.8h5.7v5.7h-5.7zM0 38.2h5.7v5.8h-5.7zM85.8 38.2h5.6v5.8h-5.6zM91.1 38.2h5.7v5.8h-5.7zM107.2 38.2h5.7v5.8h-5.7zM182.2 38.2h5.7v5.8h-5.7zM219.8 38.2h5.6v5.8h-5.6zM230.5 38.2h5.6v5.8h-5.6zM37.5 43.7h5.7v5.7h-5.7zM241.2 43.7h5.7v5.7h-5.7zM209 49.1h5.7v5.8h-5.7zM134 65.5h5.7v5.8h-5.7zM48.2 71h5.7v5.7h-5.7zM85.8 71h5.6v5.7h-5.6zM139.4 71h5.6v5.7h-5.6zM171.5 71h5.7v5.7h-5.7zM214.4 71h5.7v5.7h-5.7zM193 76.4h5.6v5.8h-5.6zM241.2 76.4h5.7v5.8h-5.7zM21.4 81.9h5.7v5.8h-5.7zM69.7 81.9h5.6v5.8h-5.6zM117.9 81.9h5.7v5.8h-5.7zM21.4 87.4h5.7v5.7h-5.7zM53.6 87.4h5.7v5.7h-5.7zM128.6 87.4h5.7v5.7h-5.7zM139.4 87.4h5.6v5.7h-5.6zM26.8 92.8h5.7v5.8h-5.7zM37.5 92.8h5.7v5.8h-5.7zM123.3 92.8h5.6v5.8h-5.6zM32.2 98.3h5.6v5.7h-5.6zM48.2 98.3h5.7v5.7h-5.7zM176.9 98.3h5.6v5.7h-5.6zM96.5 103.7h5.6v5.8h-5.6zM139.4 103.7h5.6v5.8h-5.6zM150.1 103.7h5.6v5.8h-5.6zM69.7 109.2h5.6v5.8h-5.6zM80.4 109.2h5.7v5.8h-5.7zM203.7 109.2h5.6v5.8h-5.6zM69.7 114.7h5.6v5.7h-5.6zM91.1 114.7h5.7v5.7h-5.7zM171.5 114.7h5.7v5.7h-5.7zM64.3 120.1h5.7v5.8h-5.7zM117.9 120.1h5.7v5.8h-5.7zM160.8 120.1h5.7v5.8h-5.7zM26.8 125.6h5.7v5.7h-5.7zM53.6 125.6h5.7v5.7h-5.7zM203.7 125.6h5.6v5.7h-5.6zM21.4 131h5.7v5.8h-5.7zM53.6 131h5.7v5.8h-5.7zM193 131h5.6v5.8h-5.6zM166.2 136.5h5.6v5.8h-5.6zM155.4 142h5.7v5.7h-5.7zM160.8 142h5.7v5.7h-5.7zM198.3 142h5.7v5.7h-5.7zM85.8 147.4h5.6v5.8h-5.6zM96.5 147.4h5.6v5.8h-5.6zM214.4 147.4h5.7v5.8h-5.7zM230.5 147.4h5.6v5.8h-5.6zM10.7 152.9h5.7v5.7h-5.7zM91.1 152.9h5.7v5.7h-5.7zM107.2 152.9h5.7v5.7h-5.7zM16.1 158.3h5.6v5.8h-5.6zM101.8 158.3h5.7v5.8h-5.7zM139.4 158.3h5.6v5.8h-5.6zM219.8 158.3h5.6v5.8h-5.6zM230.5 158.3h5.6v5.8h-5.6zM64.3 163.8h5.7v5.8h-5.7zM75 163.8h5.7v5.8h-5.7zM134 163.8h5.7v5.8h-5.7zM187.6 163.8h5.7v5.8h-5.7zM214.4 163.8h5.7v5.8h-5.7zM219.8 163.8h5.6v5.8h-5.6zM166.2 169.3h5.6v5.7h-5.6zM235.8 169.3h5.7v5.7h-5.7zM48.2 174.7h5.7v5.8h-5.7zM123.3 174.7h5.6v5.8h-5.6zM101.8 180.2h5.7v5.7h-5.7zM117.9 180.2h5.7v5.7h-5.7zM246.6 185.6h5.6v5.8h-5.6zM112.6 191.1h5.6v5.8h-5.6zM160.8 191.1h5.7v5.8h-5.7zM171.5 191.1h5.7v5.8h-5.7zM26.8 196.6h5.7v5.7h-5.7zM69.7 196.6h5.6v5.7h-5.6zM128.6 196.6h5.7v5.7h-5.7zM85.8 202h5.6v5.8h-5.6zM117.9 202h5.7v5.8h-5.7zM187.6 202h5.7v5.8h-5.7zM37.5 207.5h5.7v5.7h-5.7zM48.2 207.5h5.7v5.7h-5.7zM117.9 207.5h5.7v5.7h-5.7zM48.2 218.4h5.7v5.8h-5.7zM123.3 218.4h5.6v5.8h-5.6zM134 218.4h5.7v5.8h-5.7zM241.2 223.9h5.7v5.7h-5.7zM123.3 234.8h5.6v5.7h-5.6zM117.9 240.2h5.7v5.8h-5.7zM117.9 245.7h5.7v5.8h-5.7zM123.3 245.7h5.6v5.8h-5.6zM134 245.7h5.7v5.8h-5.7zM117.9 251.2h5.7v5.7h-5.7z"/><path fill="#24996c" d="M225.1 16.4h5.7v5.7h-5.7zM48.2 27.3h5.7v5.8h-5.7zM53.6 27.3h5.7v5.8h-5.7zM117.9 27.3h5.7v5.8h-5.7zM235.8 32.8h5.7v5.7h-5.7zM53.6 38.2h5.7v5.8h-5.7zM176.9 38.2h5.6v5.8h-5.6zM225.1 38.2h5.7v5.8h-5.7zM42.9 49.1h5.6v5.8h-5.6zM182.2 65.5h5.7v5.8h-5.7zM128.6 71h5.7v5.7h-5.7zM193 71h5.6v5.7h-5.6zM209 71h5.7v5.7h-5.7zM219.8 71h5.6v5.7h-5.6zM107.2 76.4h5.7v5.8h-5.7zM85.8 87.4h5.6v5.7h-5.6zM187.6 87.4h5.7v5.7h-5.7zM91.1 98.3h5.7v5.7h-5.7zM214.4 98.3h5.7v5.7h-5.7zM53.6 103.7h5.7v5.8h-5.7zM123.3 109.2h5.6v5.8h-5.6zM134 109.2h5.7v5.8h-5.7zM187.6 109.2h5.7v5.8h-5.7zM198.3 114.7h5.7v5.7h-5.7zM219.8 114.7h5.6v5.7h-5.6zM225.1 114.7h5.7v5.7h-5.7zM48.2 120.1h5.7v5.8h-5.7zM91.1 120.1h5.7v5.8h-5.7zM193 120.1h5.6v5.8h-5.6zM198.3 120.1h5.7v5.8h-5.7zM75 125.6h5.7v5.7h-5.7zM219.8 125.6h5.6v5.7h-5.6zM48.2 131h5.7v5.8h-5.7zM241.2 131h5.7v5.8h-5.7zM96.5 142h5.6v5.7h-5.6zM107.2 142h5.7v5.7h-5.7zM123.3 147.4h5.6v5.8h-5.6zM219.8 152.9h5.6v5.7h-5.6zM91.1 158.3h5.7v5.8h-5.7zM134 158.3h5.7v5.8h-5.7zM235.8 158.3h5.7v5.8h-5.7zM150.1 163.8h5.6v5.8h-5.6zM160.8 163.8h5.7v5.8h-5.7zM69.7 169.3h5.6v5.7h-5.6zM134 169.3h5.7v5.7h-5.7zM193 169.3h5.6v5.7h-5.6zM26.8 174.7h5.7v5.8h-5.7zM59 174.7h5.6v5.8h-5.6zM64.3 174.7h5.7v5.8h-5.7zM53.6 180.2h5.7v5.7h-5.7zM21.4 185.6h5.7v5.8h-5.7zM171.5 185.6h5.7v5.8h-5.7zM214.4 185.6h5.7v5.8h-5.7zM69.7 191.1h5.6v5.8h-5.6zM107.2 191.1h5.7v5.8h-5.7zM166.2 191.1h5.6v5.8h-5.6zM241.2 191.1h5.7v5.8h-5.7zM117.9 196.6h5.7v5.7h-5.7zM160.8 196.6h5.7v5.7h-5.7zM123.3 202h5.6v5.8h-5.6zM144.7 202h5.7v5.8h-5.7zM230.5 202h5.6v5.8h-5.6zM64.3 212.9h5.7v5.8h-5.7zM91.1 223.9h5.7v5.7h-5.7zM182.2 223.9h5.7v5.7h-5.7zM123.3 229.3h5.6v5.8h-5.6zM107.2 234.8h5.7v5.7h-5.7zM144.7 234.8h5.7v5.7h-5.7zM96.5 251.2h5.6v5.7h-5.6z"/><path fill="#3ab889" d="M230.5 16.4h5.6v5.7h-5.6zM75 27.3h5.7v5.8h-5.7zM134 38.2h5.7v5.8h-5.7zM5.4 49.1h5.6v5.8h-5.6zM32.2 65.5h5.6v5.8h-5.6zM75 76.4h5.7v5.8h-5.7zM91.1 76.4h5.7v5.8h-5.7zM219.8 76.4h5.6v5.8h-5.6zM42.9 81.9h5.6v5.8h-5.6zM48.2 81.9h5.7v5.8h-5.7zM139.4 81.9h5.6v5.8h-5.6zM32.2 92.8h5.6v5.8h-5.6zM69.7 92.8h5.6v5.8h-5.6zM42.9 114.7h5.6v5.7h-5.6zM134 114.7h5.7v5.7h-5.7zM214.4 114.7h5.7v5.7h-5.7zM32.2 120.1h5.6v5.8h-5.6zM139.4 125.6h5.6v5.7h-5.6zM69.7 131h5.6v5.8h-5.6zM219.8 131h5.6v5.8h-5.6zM48.2 136.5h5.7v5.8h-5.7zM101.8 136.5h5.7v5.8h-5.7zM32.2 147.4h5.6v5.8h-5.6zM155.4 147.4h5.7v5.8h-5.7zM241.2 147.4h5.7v5.8h-5.7zM37.5 152.9h5.7v5.7h-5.7zM203.7 158.3h5.6v5.8h-5.6zM123.3 163.8h5.6v5.8h-5.6zM144.7 163.8h5.7v5.8h-5.7zM187.6 169.3h5.7v5.7h-5.7zM241.2 185.6h5.7v5.8h-5.7zM128.6 191.1h5.7v5.8h-5.7zM235.8 196.6h5.7v5.7h-5.7zM42.9 218.4h5.6v5.8h-5.6zM128.6 218.4h5.7v5.8h-5.7zM134 223.9h5.7v5.7h-5.7zM42.9 229.3h5.6v5.8h-5.6zM96.5 234.8h5.6v5.7h-5.6zM80.4 240.2h5.7v5.8h-5.7z"/><path fill="#8affd1" d="M32.2 21.8h5.6v5.8h-5.6zM37.5 21.8h5.7v5.8h-5.7zM85.8 21.8h5.6v5.8h-5.6zM230.5 21.8h5.6v5.8h-5.6zM32.2 27.3h5.6v5.8h-5.6zM37.5 27.3h5.7v5.8h-5.7zM80.4 27.3h5.7v5.8h-5.7zM85.8 27.3h5.6v5.8h-5.6zM128.6 27.3h5.7v5.8h-5.7zM134 27.3h5.7v5.8h-5.7zM182.2 27.3h5.7v5.8h-5.7zM230.5 27.3h5.6v5.8h-5.6zM235.8 27.3h5.7v5.8h-5.7zM32.2 32.8h5.6v5.7h-5.6zM37.5 32.8h5.7v5.7h-5.7zM80.4 32.8h5.7v5.7h-5.7zM85.8 32.8h5.6v5.7h-5.6zM91.1 32.8h5.7v5.7h-5.7zM128.6 32.8h5.7v5.7h-5.7zM134 32.8h5.7v5.7h-5.7zM230.5 32.8h5.6v5.7h-5.6zM0 49.1h5.7v5.8h-5.7zM32.2 76.4h5.6v5.8h-5.6zM37.5 76.4h5.7v5.8h-5.7zM80.4 76.4h5.7v5.8h-5.7zM85.8 76.4h5.6v5.8h-5.6zM128.6 76.4h5.7v5.8h-5.7zM134 76.4h5.7v5.8h-5.7zM139.4 76.4h5.6v5.8h-5.6zM182.2 76.4h5.7v5.8h-5.7zM225.1 76.4h5.7v5.8h-5.7zM230.5 76.4h5.6v5.8h-5.6zM26.8 81.9h5.7v5.8h-5.7zM32.2 81.9h5.6v5.8h-5.6zM37.5 81.9h5.7v5.8h-5.7zM80.4 81.9h5.7v5.8h-5.7zM85.8 81.9h5.6v5.8h-5.6zM134 81.9h5.7v5.8h-5.7zM182.2 81.9h5.7v5.8h-5.7zM225.1 81.9h5.7v5.8h-5.7zM230.5 81.9h5.6v5.8h-5.6zM37.5 120.1h5.7v5.8h-5.7zM42.9 120.1h5.6v5.8h-5.6zM123.3 120.1h5.6v5.8h-5.6zM128.6 120.1h5.7v5.8h-5.7zM176.9 120.1h5.6v5.8h-5.6zM37.5 125.6h5.7v5.7h-5.7zM42.9 125.6h5.6v5.7h-5.6zM85.8 125.6h5.6v5.7h-5.6zM128.6 125.6h5.7v5.7h-5.7zM134 125.6h5.7v5.7h-5.7zM176.9 125.6h5.6v5.7h-5.6zM225.1 125.6h5.7v5.7h-5.7zM230.5 125.6h5.6v5.7h-5.6zM235.8 125.6h5.7v5.7h-5.7zM32.2 131h5.6v5.8h-5.6zM37.5 131h5.7v5.8h-5.7zM42.9 131h5.6v5.8h-5.6zM80.4 131h5.7v5.8h-5.7zM85.8 131h5.6v5.8h-5.6zM91.1 131h5.7v5.8h-5.7zM128.6 131h5.7v5.8h-5.7zM134 131h5.7v5.8h-5.7zM176.9 131h5.6v5.8h-5.6zM182.2 131h5.7v5.8h-5.7zM187.6 131h5.7v5.8h-5.7zM230.5 131h5.6v5.8h-5.6zM235.8 131h5.7v5.8h-5.7zM32.2 136.5h5.6v5.8h-5.6zM37.5 136.5h5.7v5.8h-5.7zM59 136.5h5.6v5.8h-5.6zM64.3 136.5h5.7v5.8h-5.7zM69.7 136.5h5.6v5.8h-5.6zM80.4 136.5h5.7v5.8h-5.7zM85.8 136.5h5.6v5.8h-5.6zM91.1 136.5h5.7v5.8h-5.7zM128.6 136.5h5.7v5.8h-5.7zM134 136.5h5.7v5.8h-5.7zM182.2 136.5h5.7v5.8h-5.7zM225.1 136.5h5.7v5.8h-5.7zM230.5 136.5h5.6v5.8h-5.6zM235.8 136.5h5.7v5.8h-5.7zM37.5 142h5.7v5.7h-5.7zM134 142h5.7v5.7h-5.7zM37.5 147.4h5.7v5.8h-5.7zM182.2 169.3h5.7v5.7h-5.7zM85.8 174.7h5.6v5.8h-5.6zM91.1 174.7h5.7v5.8h-5.7zM128.6 174.7h5.7v5.8h-5.7zM134 174.7h5.7v5.8h-5.7zM182.2 174.7h5.7v5.8h-5.7zM187.6 174.7h5.7v5.8h-5.7zM230.5 174.7h5.6v5.8h-5.6zM37.5 180.2h5.7v5.7h-5.7zM80.4 180.2h5.7v5.7h-5.7zM85.8 180.2h5.6v5.7h-5.6zM128.6 180.2h5.7v5.7h-5.7zM134 180.2h5.7v5.7h-5.7zM139.4 180.2h5.6v5.7h-5.6zM176.9 180.2h5.6v5.7h-5.6zM182.2 180.2h5.7v5.7h-5.7zM225.1 180.2h5.7v5.7h-5.7zM230.5 180.2h5.6v5.7h-5.6zM235.8 180.2h5.7v5.7h-5.7zM37.5 185.6h5.7v5.8h-5.7zM42.9 185.6h5.6v5.8h-5.6zM80.4 185.6h5.7v5.8h-5.7zM85.8 185.6h5.6v5.8h-5.6zM91.1 185.6h5.7v5.8h-5.7zM128.6 185.6h5.7v5.8h-5.7zM134 185.6h5.7v5.8h-5.7zM139.4 185.6h5.6v5.8h-5.6zM144.7 185.6h5.7v5.8h-5.7zM182.2 185.6h5.7v5.8h-5.7zM187.6 185.6h5.7v5.8h-5.7zM225.1 185.6h5.7v5.8h-5.7zM230.5 185.6h5.6v5.8h-5.6zM85.8 191.1h5.6v5.8h-5.6zM123.3 191.1h5.6v5.8h-5.6zM235.8 191.1h5.7v5.8h-5.7zM85.8 229.3h5.6v5.8h-5.6zM91.1 229.3h5.7v5.8h-5.7zM134 229.3h5.7v5.8h-5.7zM230.5 229.3h5.6v5.8h-5.6zM235.8 229.3h5.7v5.8h-5.7zM32.2 234.8h5.6v5.7h-5.6zM37.5 234.8h5.7v5.7h-5.7zM42.9 234.8h5.6v5.7h-5.6zM85.8 234.8h5.6v5.7h-5.6zM91.1 234.8h5.7v5.7h-5.7zM134 234.8h5.7v5.7h-5.7zM139.4 234.8h5.6v5.7h-5.6zM176.9 234.8h5.6v5.7h-5.6zM182.2 234.8h5.7v5.7h-5.7zM225.1 234.8h5.7v5.7h-5.7zM230.5 234.8h5.6v5.7h-5.6zM235.8 234.8h5.7v5.7h-5.7zM134 240.2h5.7v5.8h-5.7zM182.2 240.2h5.7v5.8h-5.7zM230.5 240.2h5.6v5.8h-5.6zM235.8 240.2h5.7v5.8h-5.7z"/><path fill="#4dcc9d" d="M42.9 21.8h5.6v5.8h-5.6zM80.4 21.8h5.7v5.8h-5.7zM176.9 21.8h5.6v5.8h-5.6zM235.8 21.8h5.7v5.8h-5.7zM123.3 32.8h5.6v5.7h-5.6zM225.1 32.8h5.7v5.7h-5.7zM37.5 38.2h5.7v5.8h-5.7zM182.2 71h5.7v5.7h-5.7zM187.6 76.4h5.7v5.8h-5.7zM235.8 76.4h5.7v5.8h-5.7zM37.5 114.7h5.7v5.7h-5.7zM128.6 114.7h5.7v5.7h-5.7zM139.4 114.7h5.6v5.7h-5.6zM32.2 125.6h5.6v5.7h-5.6zM96.5 131h5.6v5.8h-5.6zM144.7 131h5.7v5.8h-5.7zM42.9 136.5h5.6v5.8h-5.6zM176.9 136.5h5.6v5.8h-5.6zM85.8 142h5.6v5.7h-5.6zM48.2 147.4h5.7v5.8h-5.7zM155.4 152.9h5.7v5.7h-5.7zM128.6 169.3h5.7v5.7h-5.7zM144.7 169.3h5.7v5.7h-5.7zM96.5 174.7h5.6v5.8h-5.6zM91.1 180.2h5.7v5.7h-5.7zM150.1 180.2h5.6v5.7h-5.6zM241.2 180.2h5.7v5.7h-5.7zM150.1 185.6h5.6v5.8h-5.6zM150.1 191.1h5.6v5.8h-5.6zM230.5 196.6h5.6v5.7h-5.6zM42.9 223.9h5.6v5.7h-5.6zM230.5 223.9h5.6v5.7h-5.6zM139.4 229.3h5.6v5.8h-5.6zM187.6 229.3h5.7v5.8h-5.7zM48.2 234.8h5.7v5.7h-5.7zM187.6 240.2h5.7v5.8h-5.7z"/><path fill="#7cf5c6" d="M128.6 21.8h5.7v5.8h-5.7zM176.9 76.4h5.6v5.8h-5.6zM128.6 81.9h5.7v5.8h-5.7zM37.5 87.4h5.7v5.7h-5.7zM235.8 120.1h5.7v5.8h-5.7zM182.2 125.6h5.7v5.7h-5.7zM64.3 131h5.7v5.8h-5.7zM42.9 142h5.6v5.7h-5.6zM128.6 142h5.7v5.7h-5.7zM225.1 142h5.7v5.7h-5.7zM230.5 142h5.6v5.7h-5.6zM230.5 169.3h5.6v5.7h-5.6zM37.5 174.7h5.7v5.8h-5.7zM139.4 174.7h5.6v5.8h-5.6zM176.9 174.7h5.6v5.8h-5.6zM187.6 180.2h5.7v5.7h-5.7zM32.2 185.6h5.6v5.8h-5.6zM117.9 185.6h5.7v5.8h-5.7zM235.8 185.6h5.7v5.8h-5.7zM187.6 234.8h5.7v5.7h-5.7z"/><path fill="#57d6a7" d="M182.2 21.8h5.7v5.8h-5.7zM225.1 21.8h5.7v5.8h-5.7zM123.3 27.3h5.6v5.8h-5.6zM176.9 27.3h5.6v5.8h-5.6zM182.2 32.8h5.7v5.7h-5.7zM80.4 38.2h5.7v5.8h-5.7zM176.9 71h5.6v5.7h-5.6zM123.3 81.9h5.6v5.8h-5.6zM139.4 92.8h5.6v5.8h-5.6zM117.9 114.7h5.7v5.7h-5.7zM182.2 120.1h5.7v5.8h-5.7zM123.3 125.6h5.6v5.7h-5.6zM241.2 125.6h5.7v5.7h-5.7zM150.1 131h5.6v5.8h-5.6zM235.8 142h5.7v5.7h-5.7zM107.2 174.7h5.7v5.8h-5.7zM225.1 174.7h5.7v5.8h-5.7zM235.8 174.7h5.7v5.8h-5.7zM32.2 180.2h5.6v5.7h-5.6zM42.9 180.2h5.6v5.7h-5.6zM123.3 180.2h5.6v5.7h-5.6zM176.9 185.6h5.6v5.8h-5.6zM134 191.1h5.7v5.8h-5.7zM225.1 191.1h5.7v5.8h-5.7zM37.5 229.3h5.7v5.8h-5.7zM85.8 240.2h5.6v5.8h-5.6zM139.4 240.2h5.6v5.8h-5.6z"/><path fill="#32ad7f" d="M26.8 27.3h5.7v5.8h-5.7zM139.4 27.3h5.6v5.8h-5.6zM42.9 38.2h5.6v5.8h-5.6zM0 43.7h5.7v5.7h-5.7zM123.3 71h5.6v5.7h-5.6zM235.8 71h5.7v5.7h-5.7zM160.8 76.4h5.7v5.8h-5.7zM91.1 81.9h5.7v5.8h-5.7zM209 81.9h5.7v5.8h-5.7zM214.4 81.9h5.7v5.8h-5.7zM219.8 81.9h5.6v5.8h-5.6zM42.9 87.4h5.6v5.7h-5.6zM134 92.8h5.7v5.8h-5.7zM198.3 109.2h5.7v5.8h-5.7zM80.4 114.7h5.7v5.7h-5.7zM230.5 114.7h5.6v5.7h-5.6zM134 120.1h5.7v5.8h-5.7zM219.8 120.1h5.6v5.8h-5.6zM107.2 125.6h5.7v5.7h-5.7zM171.5 136.5h5.7v5.8h-5.7zM187.6 136.5h5.7v5.8h-5.7zM32.2 142h5.6v5.7h-5.6zM64.3 142h5.7v5.7h-5.7zM107.2 158.3h5.7v5.8h-5.7zM96.5 169.3h5.6v5.7h-5.6zM32.2 174.7h5.6v5.8h-5.6zM117.9 174.7h5.7v5.8h-5.7zM75 180.2h5.7v5.7h-5.7zM26.8 185.6h5.7v5.8h-5.7zM53.6 185.6h5.7v5.8h-5.7zM32.2 191.1h5.6v5.8h-5.6zM117.9 191.1h5.7v5.8h-5.7zM182.2 191.1h5.7v5.8h-5.7zM123.3 196.6h5.6v5.7h-5.6zM85.8 223.9h5.6v5.7h-5.6zM48.2 229.3h5.7v5.8h-5.7zM128.6 229.3h5.7v5.8h-5.7zM91.1 240.2h5.7v5.8h-5.7zM176.9 240.2h5.6v5.8h-5.6z"/><path fill="#6febbc" d="M187.6 27.3h5.7v5.8h-5.7zM0 54.6h5.7v5.8h-5.7zM91.1 71h5.7v5.7h-5.7zM225.1 71h5.7v5.7h-5.7zM26.8 76.4h5.7v5.8h-5.7zM176.9 81.9h5.6v5.8h-5.6zM235.8 81.9h5.7v5.8h-5.7zM230.5 87.4h5.6v5.7h-5.6zM117.9 125.6h5.7v5.7h-5.7zM225.1 131h5.7v5.8h-5.7zM176.9 169.3h5.6v5.7h-5.6zM219.8 180.2h5.6v5.7h-5.6zM230.5 191.1h5.6v5.8h-5.6zM128.6 234.8h5.7v5.7h-5.7zM37.5 240.2h5.7v5.8h-5.7z"/><path fill="#62e0b1" d="M225.1 27.3h5.7v5.8h-5.7zM187.6 71h5.7v5.7h-5.7zM42.9 76.4h5.6v5.8h-5.6zM42.9 109.2h5.6v5.8h-5.6zM80.4 120.1h5.7v5.8h-5.7zM230.5 120.1h5.6v5.8h-5.6zM80.4 125.6h5.7v5.7h-5.7zM75 131h5.7v5.8h-5.7zM139.4 131h5.6v5.8h-5.6zM53.6 136.5h5.7v5.8h-5.7zM75 136.5h5.7v5.8h-5.7zM241.2 136.5h5.7v5.8h-5.7zM139.4 142h5.6v5.7h-5.6zM182.2 142h5.7v5.7h-5.7zM193 142h5.6v5.7h-5.6zM182.2 163.8h5.7v5.8h-5.7zM101.8 174.7h5.7v5.8h-5.7zM171.5 174.7h5.7v5.8h-5.7zM219.8 174.7h5.6v5.8h-5.6zM96.5 185.6h5.6v5.8h-5.6zM123.3 185.6h5.6v5.8h-5.6zM176.9 191.1h5.6v5.8h-5.6zM42.9 240.2h5.6v5.8h-5.6z"/></g></g>
<g stroke="#d2ee1c" stroke-opacity="0.9" stroke-width="1.6" stroke-dasharray="5.5 2" fill="none"><path d="M242.0 382.8V650.8"/><path d="M290.2 382.8V650.8"/><path d="M338.0 382.8V650.8"/><path d="M387.7 382.8V650.8"/><path d="M435.6 382.8V650.8"/><path d="M205 414.1H470"/><path d="M205 464.4H470"/><path d="M205 515.8H470"/><path d="M205 566.3H470"/><path d="M205 617.3H470"/></g>
<rect x="205" y="377.8" width="268" height="273" fill="none" stroke="#0a1a14" stroke-width="1.2"/>
<g stroke="#2a2a2a" stroke-width="2"><path d="M242.0 650.8v7.5"/><path d="M290.2 650.8v7.5"/><path d="M338.0 650.8v7.5"/><path d="M387.7 650.8v7.5"/><path d="M435.6 650.8v7.5"/><path d="M205 414.1h-7"/><path d="M205 464.4h-7"/><path d="M205 515.8h-7"/><path d="M205 566.3h-7"/><path d="M205 617.3h-7"/></g>
<text class="k" x="241.2" y="688.8" text-anchor="middle">1</text>
<text class="k" x="289.4" y="688.8" text-anchor="middle">2</text>
<text class="k" x="337.2" y="688.8" text-anchor="middle">3</text>
<text class="k" x="386.9" y="688.8" text-anchor="middle">4</text>
<text class="k" x="434.8" y="688.8" text-anchor="middle">5</text>
<text class="k" x="190.8" y="425.9" text-anchor="end">1</text>
<text class="k" x="190.8" y="476.2" text-anchor="end">2</text>
<text class="k" x="190.8" y="527.6" text-anchor="end">3</text>
<text class="k" x="190.8" y="578.1" text-anchor="end">4</text>
<text class="k" x="190.8" y="629.1" text-anchor="end">5</text>
<g transform="translate(686 377.8)" clip-path="url(#cp)"><rect width="268" height="273" fill="#06140f"/><g filter="url(#bl)"><path fill="#053d23" d="M0 0h5.7v5.8h-5.7zM21.4 0h5.7v5.8h-5.7zM219.8 0h5.6v5.8h-5.6zM0 5.5h5.7v5.7h-5.7zM42.9 5.5h5.6v5.7h-5.6zM59 5.5h5.6v5.7h-5.6zM257.3 5.5h5.6v5.7h-5.6zM64.3 10.9h5.7v5.8h-5.7zM69.7 10.9h5.6v5.8h-5.6zM75 10.9h5.7v5.8h-5.7zM123.3 10.9h5.6v5.8h-5.6zM187.6 10.9h5.7v5.8h-5.7zM230.5 10.9h5.6v5.8h-5.6zM16.1 16.4h5.6v5.7h-5.6zM48.2 16.4h5.7v5.7h-5.7zM59 16.4h5.6v5.7h-5.6zM75 16.4h5.7v5.7h-5.7zM80.4 16.4h5.7v5.7h-5.7zM96.5 16.4h5.6v5.7h-5.6zM128.6 16.4h5.7v5.7h-5.7zM144.7 16.4h5.7v5.7h-5.7zM257.3 16.4h5.6v5.7h-5.6zM262.6 16.4h5.7v5.7h-5.7zM75 21.8h5.7v5.8h-5.7zM198.3 21.8h5.7v5.8h-5.7zM246.6 21.8h5.6v5.8h-5.6zM251.9 21.8h5.7v5.8h-5.7zM5.4 27.3h5.6v5.8h-5.6zM64.3 27.3h5.7v5.8h-5.7zM75 27.3h5.7v5.8h-5.7zM198.3 27.3h5.7v5.8h-5.7zM246.6 27.3h5.6v5.8h-5.6zM42.9 32.8h5.6v5.7h-5.6zM75 32.8h5.7v5.7h-5.7zM144.7 32.8h5.7v5.7h-5.7zM155.4 32.8h5.7v5.7h-5.7zM198.3 32.8h5.7v5.7h-5.7zM128.6 38.2h5.7v5.8h-5.7zM182.2 38.2h5.7v5.8h-5.7zM241.2 38.2h5.7v5.8h-5.7zM246.6 38.2h5.6v5.8h-5.6zM257.3 38.2h5.6v5.8h-5.6zM37.5 43.7h5.7v5.7h-5.7zM64.3 43.7h5.7v5.7h-5.7zM96.5 43.7h5.6v5.7h-5.6zM150.1 43.7h5.6v5.7h-5.6zM214.4 43.7h5.7v5.7h-5.7zM241.2 43.7h5.7v5.7h-5.7zM112.6 49.1h5.6v5.8h-5.6zM117.9 49.1h5.7v5.8h-5.7zM166.2 49.1h5.6v5.8h-5.6zM235.8 49.1h5.7v5.8h-5.7zM262.6 49.1h5.7v5.8h-5.7zM32.2 54.6h5.6v5.8h-5.6zM37.5 54.6h5.7v5.8h-5.7zM53.6 54.6h5.7v5.8h-5.7zM155.4 54.6h5.7v5.8h-5.7zM166.2 54.6h5.6v5.8h-5.6zM251.9 54.6h5.7v5.8h-5.7zM16.1 60.1h5.6v5.7h-5.6zM37.5 60.1h5.7v5.7h-5.7zM53.6 60.1h5.7v5.7h-5.7zM134 60.1h5.7v5.7h-5.7zM171.5 60.1h5.7v5.7h-5.7zM257.3 60.1h5.6v5.7h-5.6zM10.7 65.5h5.7v5.8h-5.7zM69.7 65.5h5.6v5.8h-5.6zM150.1 65.5h5.6v5.8h-5.6zM187.6 65.5h5.7v5.8h-5.7zM235.8 65.5h5.7v5.8h-5.7zM251.9 65.5h5.7v5.8h-5.7zM85.8 71h5.6v5.7h-5.6zM91.1 71h5.7v5.7h-5.7zM107.2 71h5.7v5.7h-5.7zM0 76.4h5.7v5.8h-5.7zM37.5 76.4h5.7v5.8h-5.7zM48.2 76.4h5.7v5.8h-5.7zM155.4 76.4h5.7v5.8h-5.7zM230.5 76.4h5.6v5.8h-5.6zM241.2 76.4h5.7v5.8h-5.7zM5.4 81.9h5.6v5.8h-5.6zM21.4 87.4h5.7v5.7h-5.7zM42.9 87.4h5.6v5.7h-5.6zM160.8 87.4h5.7v5.7h-5.7zM166.2 87.4h5.6v5.7h-5.6zM209 87.4h5.7v5.7h-5.7zM59 92.8h5.6v5.8h-5.6zM91.1 92.8h5.7v5.8h-5.7zM166.2 92.8h5.6v5.8h-5.6zM209 92.8h5.7v5.8h-5.7zM230.5 92.8h5.6v5.8h-5.6zM5.4 98.3h5.6v5.7h-5.6zM59 98.3h5.6v5.7h-5.6zM134 98.3h5.7v5.7h-5.7zM5.4 103.7h5.6v5.8h-5.6zM21.4 103.7h5.7v5.8h-5.7zM32.2 103.7h5.6v5.8h-5.6zM48.2 103.7h5.7v5.8h-5.7zM112.6 103.7h5.6v5.8h-5.6zM171.5 103.7h5.7v5.8h-5.7zM209 103.7h5.7v5.8h-5.7zM257.3 103.7h5.6v5.8h-5.6zM26.8 109.2h5.7v5.8h-5.7zM32.2 109.2h5.6v5.8h-5.6zM85.8 109.2h5.6v5.8h-5.6zM117.9 109.2h5.7v5.8h-5.7zM123.3 109.2h5.6v5.8h-5.6zM128.6 109.2h5.7v5.8h-5.7zM182.2 109.2h5.7v5.8h-5.7zM203.7 109.2h5.6v5.8h-5.6zM80.4 114.7h5.7v5.7h-5.7zM134 114.7h5.7v5.7h-5.7zM5.4 120.1h5.6v5.8h-5.6zM257.3 120.1h5.6v5.8h-5.6zM64.3 125.6h5.7v5.7h-5.7zM166.2 125.6h5.6v5.7h-5.6zM219.8 125.6h5.6v5.7h-5.6zM0 136.5h5.7v5.8h-5.7zM5.4 136.5h5.6v5.8h-5.6zM10.7 136.5h5.7v5.8h-5.7zM64.3 136.5h5.7v5.8h-5.7zM230.5 142h5.6v5.7h-5.6zM37.5 147.4h5.7v5.8h-5.7zM91.1 147.4h5.7v5.8h-5.7zM134 147.4h5.7v5.8h-5.7zM182.2 147.4h5.7v5.8h-5.7zM198.3 147.4h5.7v5.8h-5.7zM219.8 147.4h5.6v5.8h-5.6zM59 152.9h5.6v5.7h-5.6zM241.2 152.9h5.7v5.7h-5.7zM112.6 158.3h5.6v5.8h-5.6zM134 158.3h5.7v5.8h-5.7zM235.8 158.3h5.7v5.8h-5.7zM26.8 163.8h5.7v5.8h-5.7zM69.7 163.8h5.6v5.8h-5.6zM80.4 163.8h5.7v5.8h-5.7zM139.4 163.8h5.6v5.8h-5.6zM203.7 163.8h5.6v5.8h-5.6zM37.5 169.3h5.7v5.7h-5.7zM160.8 169.3h5.7v5.7h-5.7zM176.9 169.3h5.6v5.7h-5.6zM251.9 169.3h5.7v5.7h-5.7zM262.6 169.3h5.7v5.7h-5.7zM5.4 174.7h5.6v5.8h-5.6zM112.6 174.7h5.6v5.8h-5.6zM0 185.6h5.7v5.8h-5.7zM26.8 185.6h5.7v5.8h-5.7zM96.5 185.6h5.6v5.8h-5.6zM166.2 185.6h5.6v5.8h-5.6zM171.5 185.6h5.7v5.8h-5.7zM21.4 191.1h5.7v5.8h-5.7zM85.8 191.1h5.6v5.8h-5.6zM117.9 191.1h5.7v5.8h-5.7zM209 191.1h5.7v5.8h-5.7zM219.8 191.1h5.6v5.8h-5.6zM257.3 191.1h5.6v5.8h-5.6zM53.6 196.6h5.7v5.7h-5.7zM198.3 196.6h5.7v5.7h-5.7zM21.4 202h5.7v5.8h-5.7zM85.8 202h5.6v5.8h-5.6zM112.6 202h5.6v5.8h-5.6zM209 202h5.7v5.8h-5.7zM214.4 202h5.7v5.8h-5.7zM219.8 202h5.6v5.8h-5.6zM235.8 202h5.7v5.8h-5.7zM42.9 207.5h5.6v5.7h-5.6zM48.2 207.5h5.7v5.7h-5.7zM64.3 207.5h5.7v5.7h-5.7zM123.3 207.5h5.6v5.7h-5.6zM155.4 207.5h5.7v5.7h-5.7zM203.7 207.5h5.6v5.7h-5.6zM214.4 207.5h5.7v5.7h-5.7zM219.8 207.5h5.6v5.7h-5.6zM230.5 207.5h5.6v5.7h-5.6zM42.9 212.9h5.6v5.8h-5.6zM80.4 212.9h5.7v5.8h-5.7zM134 218.4h5.7v5.8h-5.7zM155.4 218.4h5.7v5.8h-5.7zM230.5 218.4h5.6v5.8h-5.6zM241.2 218.4h5.7v5.8h-5.7zM257.3 218.4h5.6v5.8h-5.6zM0 223.9h5.7v5.7h-5.7zM10.7 223.9h5.7v5.7h-5.7zM101.8 223.9h5.7v5.7h-5.7zM150.1 223.9h5.6v5.7h-5.6zM160.8 223.9h5.7v5.7h-5.7zM219.8 223.9h5.6v5.7h-5.6zM257.3 223.9h5.6v5.7h-5.6zM10.7 229.3h5.7v5.8h-5.7zM107.2 229.3h5.7v5.8h-5.7zM134 229.3h5.7v5.8h-5.7zM144.7 229.3h5.7v5.8h-5.7zM150.1 229.3h5.6v5.8h-5.6zM160.8 229.3h5.7v5.8h-5.7zM246.6 229.3h5.6v5.8h-5.6zM10.7 234.8h5.7v5.7h-5.7zM69.7 234.8h5.6v5.7h-5.6zM198.3 234.8h5.7v5.7h-5.7zM246.6 234.8h5.6v5.7h-5.6zM134 240.2h5.7v5.8h-5.7zM32.2 245.7h5.6v5.8h-5.6zM80.4 245.7h5.7v5.8h-5.7zM134 245.7h5.7v5.8h-5.7zM214.4 245.7h5.7v5.8h-5.7zM246.6 245.7h5.6v5.8h-5.6zM262.6 245.7h5.7v5.8h-5.7zM85.8 251.2h5.6v5.7h-5.6zM176.9 251.2h5.6v5.7h-5.6zM187.6 251.2h5.7v5.7h-5.7zM219.8 251.2h5.6v5.7h-5.6zM230.5 251.2h5.6v5.7h-5.6zM235.8 251.2h5.7v5.7h-5.7zM123.3 256.6h5.6v5.8h-5.6zM134 256.6h5.7v5.8h-5.7zM214.4 256.6h5.7v5.8h-5.7zM219.8 256.6h5.6v5.8h-5.6zM225.1 256.6h5.7v5.8h-5.7zM241.2 256.6h5.7v5.8h-5.7zM26.8 262.1h5.7v5.7h-5.7zM96.5 262.1h5.6v5.7h-5.6zM107.2 262.1h5.7v5.7h-5.7zM117.9 262.1h5.7v5.7h-5.7zM123.3 262.1h5.6v5.7h-5.6zM139.4 262.1h5.6v5.7h-5.6zM144.7 262.1h5.7v5.7h-5.7zM230.5 262.1h5.6v5.7h-5.6zM235.8 262.1h5.7v5.7h-5.7zM257.3 262.1h5.6v5.7h-5.6zM262.6 262.1h5.7v5.7h-5.7zM26.8 267.5h5.7v5.8h-5.7zM42.9 267.5h5.6v5.8h-5.6zM59 267.5h5.6v5.8h-5.6zM107.2 267.5h5.7v5.8h-5.7zM112.6 267.5h5.6v5.8h-5.6zM117.9 267.5h5.7v5.8h-5.7zM134 267.5h5.7v5.8h-5.7zM166.2 267.5h5.6v5.8h-5.6zM171.5 267.5h5.7v5.8h-5.7zM203.7 267.5h5.6v5.8h-5.6zM209 267.5h5.7v5.8h-5.7zM214.4 267.5h5.7v5.8h-5.7zM235.8 267.5h5.7v5.8h-5.7z"/><path fill="#042916" d="M5.4 0h5.6v5.8h-5.6zM26.8 0h5.7v5.8h-5.7zM91.1 0h5.7v5.8h-5.7zM107.2 0h5.7v5.8h-5.7zM117.9 0h5.7v5.8h-5.7zM128.6 0h5.7v5.8h-5.7zM139.4 0h5.6v5.8h-5.6zM166.2 0h5.6v5.8h-5.6zM176.9 0h5.6v5.8h-5.6zM187.6 0h5.7v5.8h-5.7zM198.3 0h5.7v5.8h-5.7zM214.4 0h5.7v5.8h-5.7zM262.6 0h5.7v5.8h-5.7zM32.2 5.5h5.6v5.7h-5.6zM53.6 5.5h5.7v5.7h-5.7zM144.7 5.5h5.7v5.7h-5.7zM166.2 5.5h5.6v5.7h-5.6zM171.5 5.5h5.7v5.7h-5.7zM187.6 5.5h5.7v5.7h-5.7zM193 5.5h5.6v5.7h-5.6zM198.3 5.5h5.7v5.7h-5.7zM219.8 5.5h5.6v5.7h-5.6zM225.1 5.5h5.7v5.7h-5.7zM235.8 5.5h5.7v5.7h-5.7zM262.6 5.5h5.7v5.7h-5.7zM59 10.9h5.6v5.8h-5.6zM80.4 10.9h5.7v5.8h-5.7zM128.6 10.9h5.7v5.8h-5.7zM139.4 10.9h5.6v5.8h-5.6zM150.1 10.9h5.6v5.8h-5.6zM214.4 10.9h5.7v5.8h-5.7zM176.9 16.4h5.6v5.7h-5.6zM187.6 16.4h5.7v5.7h-5.7zM193 16.4h5.6v5.7h-5.6zM139.4 21.8h5.6v5.8h-5.6zM176.9 21.8h5.6v5.8h-5.6zM182.2 21.8h5.7v5.8h-5.7zM203.7 21.8h5.6v5.8h-5.6zM230.5 21.8h5.6v5.8h-5.6zM59 27.3h5.6v5.8h-5.6zM182.2 27.3h5.7v5.8h-5.7zM257.3 27.3h5.6v5.8h-5.6zM59 32.8h5.6v5.7h-5.6zM64.3 32.8h5.7v5.7h-5.7zM176.9 32.8h5.6v5.7h-5.6zM241.2 32.8h5.7v5.7h-5.7zM139.4 38.2h5.6v5.8h-5.6zM251.9 38.2h5.7v5.8h-5.7zM26.8 43.7h5.7v5.7h-5.7zM193 43.7h5.6v5.7h-5.6zM246.6 43.7h5.6v5.7h-5.6zM251.9 43.7h5.7v5.7h-5.7zM32.2 49.1h5.6v5.8h-5.6zM69.7 49.1h5.6v5.8h-5.6zM75 49.1h5.7v5.8h-5.7zM91.1 49.1h5.7v5.8h-5.7zM171.5 49.1h5.7v5.8h-5.7zM203.7 49.1h5.6v5.8h-5.6zM214.4 49.1h5.7v5.8h-5.7zM230.5 49.1h5.6v5.8h-5.6zM21.4 54.6h5.7v5.8h-5.7zM26.8 54.6h5.7v5.8h-5.7zM117.9 54.6h5.7v5.8h-5.7zM21.4 60.1h5.7v5.7h-5.7zM80.4 60.1h5.7v5.7h-5.7zM85.8 60.1h5.6v5.7h-5.6zM96.5 60.1h5.6v5.7h-5.6zM128.6 60.1h5.7v5.7h-5.7zM144.7 60.1h5.7v5.7h-5.7zM193 60.1h5.6v5.7h-5.6zM0 65.5h5.7v5.8h-5.7zM37.5 65.5h5.7v5.8h-5.7zM176.9 65.5h5.6v5.8h-5.6zM198.3 65.5h5.7v5.8h-5.7zM112.6 71h5.6v5.7h-5.6zM171.5 71h5.7v5.7h-5.7zM107.2 76.4h5.7v5.8h-5.7zM123.3 76.4h5.6v5.8h-5.6zM10.7 81.9h5.7v5.8h-5.7zM107.2 81.9h5.7v5.8h-5.7zM123.3 81.9h5.6v5.8h-5.6zM37.5 92.8h5.7v5.8h-5.7zM53.6 92.8h5.7v5.8h-5.7zM112.6 92.8h5.6v5.8h-5.6zM155.4 92.8h5.7v5.8h-5.7zM235.8 92.8h5.7v5.8h-5.7zM21.4 98.3h5.7v5.7h-5.7zM64.3 98.3h5.7v5.7h-5.7zM85.8 98.3h5.6v5.7h-5.6zM112.6 98.3h5.6v5.7h-5.6zM176.9 98.3h5.6v5.7h-5.6zM193 98.3h5.6v5.7h-5.6zM209 98.3h5.7v5.7h-5.7zM241.2 98.3h5.7v5.7h-5.7zM69.7 103.7h5.6v5.8h-5.6zM80.4 103.7h5.7v5.8h-5.7zM107.2 103.7h5.7v5.8h-5.7zM117.9 103.7h5.7v5.8h-5.7zM160.8 103.7h5.7v5.8h-5.7zM176.9 103.7h5.6v5.8h-5.6zM235.8 103.7h5.7v5.8h-5.7zM246.6 103.7h5.6v5.8h-5.6zM10.7 109.2h5.7v5.8h-5.7zM53.6 109.2h5.7v5.8h-5.7zM59 109.2h5.6v5.8h-5.6zM144.7 109.2h5.7v5.8h-5.7zM160.8 109.2h5.7v5.8h-5.7zM166.2 109.2h5.6v5.8h-5.6zM0 114.7h5.7v5.7h-5.7zM26.8 114.7h5.7v5.7h-5.7zM155.4 114.7h5.7v5.7h-5.7zM160.8 114.7h5.7v5.7h-5.7zM246.6 114.7h5.6v5.7h-5.6zM16.1 120.1h5.6v5.8h-5.6zM64.3 120.1h5.7v5.8h-5.7zM171.5 120.1h5.7v5.8h-5.7zM209 125.6h5.7v5.7h-5.7zM251.9 125.6h5.7v5.7h-5.7zM0 131h5.7v5.8h-5.7zM5.4 142h5.6v5.7h-5.6zM10.7 142h5.7v5.7h-5.7zM203.7 142h5.6v5.7h-5.6zM21.4 147.4h5.7v5.8h-5.7zM75 147.4h5.7v5.8h-5.7zM160.8 147.4h5.7v5.8h-5.7zM209 147.4h5.7v5.8h-5.7zM241.2 147.4h5.7v5.8h-5.7zM257.3 147.4h5.6v5.8h-5.6zM26.8 152.9h5.7v5.7h-5.7zM75 152.9h5.7v5.7h-5.7zM80.4 152.9h5.7v5.7h-5.7zM91.1 152.9h5.7v5.7h-5.7zM160.8 152.9h5.7v5.7h-5.7zM235.8 152.9h5.7v5.7h-5.7zM262.6 152.9h5.7v5.7h-5.7zM21.4 158.3h5.7v5.8h-5.7zM160.8 158.3h5.7v5.8h-5.7zM187.6 158.3h5.7v5.8h-5.7zM203.7 158.3h5.6v5.8h-5.6zM257.3 158.3h5.6v5.8h-5.6zM37.5 163.8h5.7v5.8h-5.7zM107.2 163.8h5.7v5.8h-5.7zM117.9 163.8h5.7v5.8h-5.7zM123.3 163.8h5.6v5.8h-5.6zM144.7 163.8h5.7v5.8h-5.7zM251.9 163.8h5.7v5.8h-5.7zM182.2 169.3h5.7v5.7h-5.7zM257.3 174.7h5.6v5.8h-5.6zM262.6 180.2h5.7v5.7h-5.7zM225.1 191.1h5.7v5.8h-5.7zM251.9 191.1h5.7v5.8h-5.7zM262.6 191.1h5.7v5.8h-5.7zM10.7 196.6h5.7v5.7h-5.7zM150.1 196.6h5.6v5.7h-5.6zM166.2 196.6h5.6v5.7h-5.6zM209 196.6h5.7v5.7h-5.7zM214.4 196.6h5.7v5.7h-5.7zM5.4 202h5.6v5.8h-5.6zM32.2 202h5.6v5.8h-5.6zM64.3 202h5.7v5.8h-5.7zM80.4 202h5.7v5.8h-5.7zM10.7 207.5h5.7v5.7h-5.7zM85.8 207.5h5.6v5.7h-5.6zM150.1 207.5h5.6v5.7h-5.6zM171.5 207.5h5.7v5.7h-5.7zM235.8 207.5h5.7v5.7h-5.7zM241.2 207.5h5.7v5.7h-5.7zM203.7 212.9h5.6v5.8h-5.6zM214.4 212.9h5.7v5.8h-5.7zM257.3 212.9h5.6v5.8h-5.6zM10.7 218.4h5.7v5.8h-5.7zM53.6 218.4h5.7v5.8h-5.7zM150.1 218.4h5.6v5.8h-5.6zM203.7 218.4h5.6v5.8h-5.6zM219.8 218.4h5.6v5.8h-5.6zM166.2 223.9h5.6v5.7h-5.6zM26.8 229.3h5.7v5.8h-5.7zM139.4 229.3h5.6v5.8h-5.6zM198.3 229.3h5.7v5.8h-5.7zM203.7 229.3h5.6v5.8h-5.6zM257.3 229.3h5.6v5.8h-5.6zM21.4 234.8h5.7v5.7h-5.7zM64.3 234.8h5.7v5.7h-5.7zM144.7 234.8h5.7v5.7h-5.7zM155.4 234.8h5.7v5.7h-5.7zM16.1 240.2h5.6v5.8h-5.6zM64.3 240.2h5.7v5.8h-5.7zM69.7 240.2h5.6v5.8h-5.6zM251.9 240.2h5.7v5.8h-5.7zM257.3 240.2h5.6v5.8h-5.6zM203.7 245.7h5.6v5.8h-5.6zM235.8 245.7h5.7v5.8h-5.7zM251.9 245.7h5.7v5.8h-5.7zM257.3 245.7h5.6v5.8h-5.6zM16.1 251.2h5.6v5.7h-5.6zM26.8 251.2h5.7v5.7h-5.7zM53.6 251.2h5.7v5.7h-5.7zM75 251.2h5.7v5.7h-5.7zM128.6 251.2h5.7v5.7h-5.7zM246.6 251.2h5.6v5.7h-5.6zM262.6 251.2h5.7v5.7h-5.7zM59 256.6h5.6v5.8h-5.6zM96.5 256.6h5.6v5.8h-5.6zM117.9 256.6h5.7v5.8h-5.7zM139.4 256.6h5.6v5.8h-5.6zM144.7 256.6h5.7v5.8h-5.7zM193 256.6h5.6v5.8h-5.6zM257.3 256.6h5.6v5.8h-5.6zM16.1 262.1h5.6v5.7h-5.6zM75 262.1h5.7v5.7h-5.7zM198.3 262.1h5.7v5.7h-5.7zM203.7 262.1h5.6v5.7h-5.6zM75 267.5h5.7v5.8h-5.7zM101.8 267.5h5.7v5.8h-5.7zM155.4 267.5h5.7v5.8h-5.7zM176.9 267.5h5.6v5.8h-5.6zM187.6 267.5h5.7v5.8h-5.7zM230.5 267.5h5.6v5.8h-5.6zM251.9 267.5h5.7v5.8h-5.7z"/><path fill="#031e11" d="M10.7 0h5.7v5.8h-5.7zM48.2 0h5.7v5.8h-5.7zM59 0h5.6v5.8h-5.6zM64.3 0h5.7v5.8h-5.7zM80.4 0h5.7v5.8h-5.7zM150.1 0h5.6v5.8h-5.6zM160.8 0h5.7v5.8h-5.7zM193 0h5.6v5.8h-5.6zM203.7 0h5.6v5.8h-5.6zM230.5 0h5.6v5.8h-5.6zM26.8 5.5h5.7v5.7h-5.7zM37.5 5.5h5.7v5.7h-5.7zM69.7 5.5h5.6v5.7h-5.6zM91.1 5.5h5.7v5.7h-5.7zM107.2 5.5h5.7v5.7h-5.7zM117.9 5.5h5.7v5.7h-5.7zM128.6 5.5h5.7v5.7h-5.7zM134 5.5h5.7v5.7h-5.7zM155.4 5.5h5.7v5.7h-5.7zM160.8 5.5h5.7v5.7h-5.7zM182.2 5.5h5.7v5.7h-5.7zM230.5 5.5h5.6v5.7h-5.6zM5.4 10.9h5.6v5.8h-5.6zM42.9 10.9h5.6v5.8h-5.6zM48.2 10.9h5.7v5.8h-5.7zM53.6 10.9h5.7v5.8h-5.7zM112.6 10.9h5.6v5.8h-5.6zM155.4 10.9h5.7v5.8h-5.7zM176.9 10.9h5.6v5.8h-5.6zM198.3 10.9h5.7v5.8h-5.7zM209 10.9h5.7v5.8h-5.7zM53.6 21.8h5.7v5.8h-5.7zM187.6 21.8h5.7v5.8h-5.7zM193 21.8h5.6v5.8h-5.6zM235.8 21.8h5.7v5.8h-5.7zM48.2 27.3h5.7v5.8h-5.7zM176.9 27.3h5.6v5.8h-5.6zM187.6 27.3h5.7v5.8h-5.7zM241.2 27.3h5.7v5.8h-5.7zM139.4 32.8h5.6v5.7h-5.6zM235.8 32.8h5.7v5.7h-5.7zM246.6 32.8h5.6v5.7h-5.6zM257.3 32.8h5.6v5.7h-5.6zM64.3 38.2h5.7v5.8h-5.7zM193 38.2h5.6v5.8h-5.6zM198.3 38.2h5.7v5.8h-5.7zM42.9 43.7h5.6v5.7h-5.6zM59 43.7h5.6v5.7h-5.6zM69.7 43.7h5.6v5.7h-5.6zM112.6 43.7h5.6v5.7h-5.6zM187.6 43.7h5.7v5.7h-5.7zM209 43.7h5.7v5.7h-5.7zM235.8 43.7h5.7v5.7h-5.7zM123.3 49.1h5.6v5.8h-5.6zM187.6 49.1h5.7v5.8h-5.7zM241.2 49.1h5.7v5.8h-5.7zM257.3 49.1h5.6v5.8h-5.6zM48.2 54.6h5.7v5.8h-5.7zM59 54.6h5.6v5.8h-5.6zM75 54.6h5.7v5.8h-5.7zM91.1 54.6h5.7v5.8h-5.7zM160.8 54.6h5.7v5.8h-5.7zM171.5 54.6h5.7v5.8h-5.7zM176.9 54.6h5.6v5.8h-5.6zM198.3 54.6h5.7v5.8h-5.7zM214.4 54.6h5.7v5.8h-5.7zM235.8 54.6h5.7v5.8h-5.7zM241.2 54.6h5.7v5.8h-5.7zM26.8 60.1h5.7v5.7h-5.7zM91.1 60.1h5.7v5.7h-5.7zM117.9 60.1h5.7v5.7h-5.7zM187.6 60.1h5.7v5.7h-5.7zM209 60.1h5.7v5.7h-5.7zM251.9 60.1h5.7v5.7h-5.7zM48.2 65.5h5.7v5.8h-5.7zM53.6 65.5h5.7v5.8h-5.7zM91.1 65.5h5.7v5.8h-5.7zM101.8 65.5h5.7v5.8h-5.7zM160.8 65.5h5.7v5.8h-5.7zM166.2 65.5h5.6v5.8h-5.6zM241.2 71h5.7v5.7h-5.7zM10.7 92.8h5.7v5.8h-5.7zM96.5 92.8h5.6v5.8h-5.6zM101.8 92.8h5.7v5.8h-5.7zM160.8 92.8h5.7v5.8h-5.7zM171.5 92.8h5.7v5.8h-5.7zM53.6 98.3h5.7v5.7h-5.7zM230.5 98.3h5.6v5.7h-5.6zM246.6 98.3h5.6v5.7h-5.6zM144.7 103.7h5.7v5.8h-5.7zM198.3 103.7h5.7v5.8h-5.7zM64.3 109.2h5.7v5.8h-5.7zM134 109.2h5.7v5.8h-5.7zM139.4 109.2h5.6v5.8h-5.6zM171.5 109.2h5.7v5.8h-5.7zM262.6 109.2h5.7v5.8h-5.7zM5.4 114.7h5.6v5.7h-5.6zM64.3 114.7h5.7v5.7h-5.7zM144.7 114.7h5.7v5.7h-5.7zM16.1 125.6h5.6v5.7h-5.6zM64.3 131h5.7v5.8h-5.7zM262.6 131h5.7v5.8h-5.7zM166.2 136.5h5.6v5.8h-5.6zM171.5 136.5h5.7v5.8h-5.7zM262.6 136.5h5.7v5.8h-5.7zM0 142h5.7v5.7h-5.7zM16.1 142h5.6v5.7h-5.6zM209 142h5.7v5.7h-5.7zM5.4 147.4h5.6v5.8h-5.6zM10.7 147.4h5.7v5.8h-5.7zM166.2 147.4h5.6v5.8h-5.6zM16.1 152.9h5.6v5.7h-5.6zM85.8 152.9h5.6v5.7h-5.6zM26.8 158.3h5.7v5.8h-5.7zM42.9 158.3h5.6v5.8h-5.6zM144.7 158.3h5.7v5.8h-5.7zM225.1 158.3h5.7v5.8h-5.7zM251.9 158.3h5.7v5.8h-5.7zM10.7 163.8h5.7v5.8h-5.7zM21.4 169.3h5.7v5.7h-5.7zM257.3 169.3h5.6v5.7h-5.6zM0 180.2h5.7v5.7h-5.7zM5.4 180.2h5.6v5.7h-5.6zM96.5 191.1h5.6v5.8h-5.6zM5.4 196.6h5.6v5.7h-5.6zM96.5 196.6h5.6v5.7h-5.6zM251.9 196.6h5.7v5.7h-5.7zM257.3 196.6h5.6v5.7h-5.6zM257.3 207.5h5.6v5.7h-5.6zM0 212.9h5.7v5.8h-5.7zM10.7 212.9h5.7v5.8h-5.7zM48.2 212.9h5.7v5.8h-5.7zM209 212.9h5.7v5.8h-5.7zM219.8 212.9h5.6v5.8h-5.6zM230.5 212.9h5.6v5.8h-5.6zM21.4 218.4h5.7v5.8h-5.7zM144.7 218.4h5.7v5.8h-5.7zM225.1 218.4h5.7v5.8h-5.7zM16.1 223.9h5.6v5.7h-5.6zM235.8 223.9h5.7v5.7h-5.7zM150.1 234.8h5.6v5.7h-5.6zM251.9 234.8h5.7v5.7h-5.7zM139.4 240.2h5.6v5.8h-5.6zM187.6 240.2h5.7v5.8h-5.7zM16.1 245.7h5.6v5.8h-5.6zM150.1 245.7h5.6v5.8h-5.6zM80.4 251.2h5.7v5.7h-5.7zM134 251.2h5.7v5.7h-5.7zM139.4 251.2h5.6v5.7h-5.6zM160.8 251.2h5.7v5.7h-5.7zM198.3 251.2h5.7v5.7h-5.7zM251.9 251.2h5.7v5.7h-5.7zM64.3 256.6h5.7v5.8h-5.7zM150.1 256.6h5.6v5.8h-5.6zM166.2 256.6h5.6v5.8h-5.6zM171.5 256.6h5.7v5.8h-5.7zM209 256.6h5.7v5.8h-5.7zM235.8 256.6h5.7v5.8h-5.7zM0 262.1h5.7v5.7h-5.7zM59 262.1h5.6v5.7h-5.6zM69.7 262.1h5.6v5.7h-5.6zM91.1 262.1h5.7v5.7h-5.7zM150.1 262.1h5.6v5.7h-5.6zM160.8 262.1h5.7v5.7h-5.7zM171.5 262.1h5.7v5.7h-5.7zM193 262.1h5.6v5.7h-5.6zM214.4 262.1h5.7v5.7h-5.7zM219.8 262.1h5.6v5.7h-5.6zM0 267.5h5.7v5.8h-5.7zM16.1 267.5h5.6v5.8h-5.6zM53.6 267.5h5.7v5.8h-5.7zM69.7 267.5h5.6v5.8h-5.6zM139.4 267.5h5.6v5.8h-5.6zM144.7 267.5h5.7v5.8h-5.7zM219.8 267.5h5.6v5.8h-5.6zM241.2 267.5h5.7v5.8h-5.7zM246.6 267.5h5.6v5.8h-5.6zM257.3 267.5h5.6v5.8h-5.6z"/><path fill="#030a09" d="M16.1 0h5.6v5.8h-5.6z"/><path fill="#04331c" d="M32.2 0h5.6v5.8h-5.6zM53.6 0h5.7v5.8h-5.7zM75 0h5.7v5.8h-5.7zM112.6 0h5.6v5.8h-5.6zM144.7 0h5.7v5.8h-5.7zM171.5 0h5.7v5.8h-5.7zM251.9 0h5.7v5.8h-5.7zM257.3 0h5.6v5.8h-5.6zM16.1 5.5h5.6v5.7h-5.6zM48.2 5.5h5.7v5.7h-5.7zM64.3 5.5h5.7v5.7h-5.7zM80.4 5.5h5.7v5.7h-5.7zM96.5 5.5h5.6v5.7h-5.6zM101.8 5.5h5.7v5.7h-5.7zM123.3 5.5h5.6v5.7h-5.6zM150.1 5.5h5.6v5.7h-5.6zM176.9 5.5h5.6v5.7h-5.6zM241.2 5.5h5.7v5.7h-5.7zM246.6 5.5h5.6v5.7h-5.6zM251.9 5.5h5.7v5.7h-5.7zM91.1 10.9h5.7v5.8h-5.7zM96.5 10.9h5.6v5.8h-5.6zM107.2 10.9h5.7v5.8h-5.7zM134 10.9h5.7v5.8h-5.7zM144.7 10.9h5.7v5.8h-5.7zM182.2 10.9h5.7v5.8h-5.7zM225.1 10.9h5.7v5.8h-5.7zM257.3 10.9h5.6v5.8h-5.6zM262.6 10.9h5.7v5.8h-5.7zM42.9 16.4h5.6v5.7h-5.6zM69.7 16.4h5.6v5.7h-5.6zM101.8 16.4h5.7v5.7h-5.7zM230.5 16.4h5.6v5.7h-5.6zM64.3 21.8h5.7v5.8h-5.7zM150.1 21.8h5.6v5.8h-5.6zM209 21.8h5.7v5.8h-5.7zM262.6 21.8h5.7v5.8h-5.7zM69.7 27.3h5.6v5.8h-5.6zM139.4 27.3h5.6v5.8h-5.6zM37.5 32.8h5.7v5.7h-5.7zM53.6 32.8h5.7v5.7h-5.7zM203.7 32.8h5.6v5.7h-5.6zM209 32.8h5.7v5.7h-5.7zM0 38.2h5.7v5.8h-5.7zM75 38.2h5.7v5.8h-5.7zM155.4 38.2h5.7v5.8h-5.7zM85.8 43.7h5.6v5.7h-5.6zM91.1 43.7h5.7v5.7h-5.7zM117.9 43.7h5.7v5.7h-5.7zM155.4 43.7h5.7v5.7h-5.7zM203.7 43.7h5.6v5.7h-5.6zM262.6 43.7h5.7v5.7h-5.7zM42.9 49.1h5.6v5.8h-5.6zM48.2 49.1h5.7v5.8h-5.7zM80.4 49.1h5.7v5.8h-5.7zM134 49.1h5.7v5.8h-5.7zM209 49.1h5.7v5.8h-5.7zM225.1 49.1h5.7v5.8h-5.7zM251.9 49.1h5.7v5.8h-5.7zM0 54.6h5.7v5.8h-5.7zM80.4 54.6h5.7v5.8h-5.7zM96.5 54.6h5.6v5.8h-5.6zM101.8 54.6h5.7v5.8h-5.7zM139.4 54.6h5.6v5.8h-5.6zM219.8 54.6h5.6v5.8h-5.6zM230.5 54.6h5.6v5.8h-5.6zM257.3 54.6h5.6v5.8h-5.6zM262.6 54.6h5.7v5.8h-5.7zM48.2 60.1h5.7v5.7h-5.7zM107.2 60.1h5.7v5.7h-5.7zM155.4 60.1h5.7v5.7h-5.7zM219.8 60.1h5.6v5.7h-5.6zM235.8 60.1h5.7v5.7h-5.7zM241.2 60.1h5.7v5.7h-5.7zM246.6 60.1h5.6v5.7h-5.6zM16.1 65.5h5.6v5.8h-5.6zM42.9 65.5h5.6v5.8h-5.6zM96.5 65.5h5.6v5.8h-5.6zM134 65.5h5.7v5.8h-5.7zM262.6 65.5h5.7v5.8h-5.7zM5.4 71h5.6v5.7h-5.6zM53.6 71h5.7v5.7h-5.7zM101.8 71h5.7v5.7h-5.7zM123.3 71h5.6v5.7h-5.6zM198.3 71h5.7v5.7h-5.7zM203.7 71h5.6v5.7h-5.6zM5.4 76.4h5.6v5.8h-5.6zM53.6 76.4h5.7v5.8h-5.7zM117.9 76.4h5.7v5.8h-5.7zM155.4 81.9h5.7v5.8h-5.7zM235.8 81.9h5.7v5.8h-5.7zM246.6 81.9h5.6v5.8h-5.6zM91.1 87.4h5.7v5.7h-5.7zM230.5 87.4h5.6v5.7h-5.6zM0 92.8h5.7v5.8h-5.7zM21.4 92.8h5.7v5.8h-5.7zM150.1 92.8h5.6v5.8h-5.6zM42.9 98.3h5.6v5.7h-5.6zM69.7 98.3h5.6v5.7h-5.6zM91.1 98.3h5.7v5.7h-5.7zM128.6 98.3h5.7v5.7h-5.7zM139.4 98.3h5.6v5.7h-5.6zM53.6 103.7h5.7v5.8h-5.7zM128.6 103.7h5.7v5.8h-5.7zM139.4 103.7h5.6v5.8h-5.6zM150.1 103.7h5.6v5.8h-5.6zM203.7 103.7h5.6v5.8h-5.6zM230.5 103.7h5.6v5.8h-5.6zM5.4 109.2h5.6v5.8h-5.6zM16.1 109.2h5.6v5.8h-5.6zM75 109.2h5.7v5.8h-5.7zM155.4 109.2h5.7v5.8h-5.7zM225.1 109.2h5.7v5.8h-5.7zM16.1 114.7h5.6v5.7h-5.6zM21.4 114.7h5.7v5.7h-5.7zM69.7 114.7h5.6v5.7h-5.6zM219.8 114.7h5.6v5.7h-5.6zM241.2 114.7h5.7v5.7h-5.7zM160.8 120.1h5.7v5.8h-5.7zM176.9 120.1h5.6v5.8h-5.6zM209 120.1h5.7v5.8h-5.7zM246.6 120.1h5.6v5.8h-5.6zM5.4 125.6h5.6v5.7h-5.6zM160.8 125.6h5.7v5.7h-5.7zM16.1 136.5h5.6v5.8h-5.6zM251.9 136.5h5.7v5.8h-5.7zM257.3 136.5h5.6v5.8h-5.6zM21.4 142h5.7v5.7h-5.7zM26.8 142h5.7v5.7h-5.7zM225.1 142h5.7v5.7h-5.7zM262.6 142h5.7v5.7h-5.7zM26.8 147.4h5.7v5.8h-5.7zM48.2 147.4h5.7v5.8h-5.7zM101.8 147.4h5.7v5.8h-5.7zM144.7 147.4h5.7v5.8h-5.7zM251.9 147.4h5.7v5.8h-5.7zM262.6 147.4h5.7v5.8h-5.7zM5.4 152.9h5.6v5.7h-5.6zM10.7 152.9h5.7v5.7h-5.7zM37.5 152.9h5.7v5.7h-5.7zM150.1 152.9h5.6v5.7h-5.6zM209 152.9h5.7v5.7h-5.7zM225.1 152.9h5.7v5.7h-5.7zM251.9 152.9h5.7v5.7h-5.7zM75 158.3h5.7v5.8h-5.7zM91.1 158.3h5.7v5.8h-5.7zM48.2 163.8h5.7v5.8h-5.7zM171.5 163.8h5.7v5.8h-5.7zM182.2 163.8h5.7v5.8h-5.7zM187.6 163.8h5.7v5.8h-5.7zM209 163.8h5.7v5.8h-5.7zM246.6 163.8h5.6v5.8h-5.6zM0 169.3h5.7v5.7h-5.7zM5.4 169.3h5.6v5.7h-5.6zM26.8 169.3h5.7v5.7h-5.7zM48.2 169.3h5.7v5.7h-5.7zM85.8 169.3h5.6v5.7h-5.6zM107.2 169.3h5.7v5.7h-5.7zM112.6 169.3h5.6v5.7h-5.6zM193 169.3h5.6v5.7h-5.6zM166.2 180.2h5.6v5.7h-5.6zM107.2 185.6h5.7v5.8h-5.7zM21.4 196.6h5.7v5.7h-5.7zM101.8 196.6h5.7v5.7h-5.7zM107.2 196.6h5.7v5.7h-5.7zM10.7 202h5.7v5.8h-5.7zM42.9 202h5.6v5.8h-5.6zM75 202h5.7v5.8h-5.7zM96.5 202h5.6v5.8h-5.6zM134 202h5.7v5.8h-5.7zM193 202h5.6v5.8h-5.6zM257.3 202h5.6v5.8h-5.6zM37.5 207.5h5.7v5.7h-5.7zM101.8 207.5h5.7v5.7h-5.7zM160.8 207.5h5.7v5.7h-5.7zM16.1 212.9h5.6v5.8h-5.6zM53.6 212.9h5.7v5.8h-5.7zM59 212.9h5.6v5.8h-5.6zM85.8 212.9h5.6v5.8h-5.6zM91.1 212.9h5.7v5.8h-5.7zM128.6 212.9h5.7v5.8h-5.7zM139.4 212.9h5.6v5.8h-5.6zM150.1 212.9h5.6v5.8h-5.6zM16.1 218.4h5.6v5.8h-5.6zM37.5 218.4h5.7v5.8h-5.7zM42.9 218.4h5.6v5.8h-5.6zM69.7 218.4h5.6v5.8h-5.6zM209 218.4h5.7v5.8h-5.7zM235.8 218.4h5.7v5.8h-5.7zM59 223.9h5.6v5.7h-5.6zM80.4 223.9h5.7v5.7h-5.7zM155.4 223.9h5.7v5.7h-5.7zM230.5 223.9h5.6v5.7h-5.6zM21.4 229.3h5.7v5.8h-5.7zM251.9 229.3h5.7v5.8h-5.7zM26.8 234.8h5.7v5.7h-5.7zM75 234.8h5.7v5.7h-5.7zM80.4 234.8h5.7v5.7h-5.7zM193 234.8h5.6v5.7h-5.6zM21.4 240.2h5.7v5.8h-5.7zM107.2 240.2h5.7v5.8h-5.7zM155.4 240.2h5.7v5.8h-5.7zM160.8 240.2h5.7v5.8h-5.7zM235.8 240.2h5.7v5.8h-5.7zM59 245.7h5.6v5.8h-5.6zM69.7 245.7h5.6v5.8h-5.6zM85.8 245.7h5.6v5.8h-5.6zM128.6 245.7h5.7v5.8h-5.7zM230.5 245.7h5.6v5.8h-5.6zM21.4 251.2h5.7v5.7h-5.7zM112.6 251.2h5.6v5.7h-5.6zM123.3 251.2h5.6v5.7h-5.6zM144.7 251.2h5.7v5.7h-5.7zM193 251.2h5.6v5.7h-5.6zM209 251.2h5.7v5.7h-5.7zM0 256.6h5.7v5.8h-5.7zM21.4 256.6h5.7v5.8h-5.7zM26.8 256.6h5.7v5.8h-5.7zM32.2 256.6h5.6v5.8h-5.6zM85.8 256.6h5.6v5.8h-5.6zM128.6 256.6h5.7v5.8h-5.7zM176.9 256.6h5.6v5.8h-5.6zM187.6 256.6h5.7v5.8h-5.7zM198.3 256.6h5.7v5.8h-5.7zM262.6 256.6h5.7v5.8h-5.7zM10.7 262.1h5.7v5.7h-5.7zM21.4 262.1h5.7v5.7h-5.7zM64.3 262.1h5.7v5.7h-5.7zM85.8 262.1h5.6v5.7h-5.6zM155.4 262.1h5.7v5.7h-5.7zM209 262.1h5.7v5.7h-5.7zM241.2 262.1h5.7v5.7h-5.7zM5.4 267.5h5.6v5.8h-5.6zM37.5 267.5h5.7v5.8h-5.7zM64.3 267.5h5.7v5.8h-5.7zM80.4 267.5h5.7v5.8h-5.7zM150.1 267.5h5.6v5.8h-5.6zM182.2 267.5h5.7v5.8h-5.7zM198.3 267.5h5.7v5.8h-5.7zM225.1 267.5h5.7v5.8h-5.7zM262.6 267.5h5.7v5.8h-5.7z"/><path fill="#03140c" d="M37.5 0h5.7v5.8h-5.7zM42.9 0h5.6v5.8h-5.6zM69.7 0h5.6v5.8h-5.6zM85.8 0h5.6v5.8h-5.6zM96.5 0h5.6v5.8h-5.6zM101.8 0h5.7v5.8h-5.7zM123.3 0h5.6v5.8h-5.6zM134 0h5.7v5.8h-5.7zM155.4 0h5.7v5.8h-5.7zM182.2 0h5.7v5.8h-5.7zM209 0h5.7v5.8h-5.7zM225.1 0h5.7v5.8h-5.7zM235.8 0h5.7v5.8h-5.7zM241.2 0h5.7v5.8h-5.7zM246.6 0h5.6v5.8h-5.6zM5.4 5.5h5.6v5.7h-5.6zM75 5.5h5.7v5.7h-5.7zM85.8 5.5h5.6v5.7h-5.6zM112.6 5.5h5.6v5.7h-5.6zM139.4 5.5h5.6v5.7h-5.6zM203.7 5.5h5.6v5.7h-5.6zM209 5.5h5.7v5.7h-5.7zM214.4 5.5h5.7v5.7h-5.7zM0 10.9h5.7v5.8h-5.7zM85.8 10.9h5.6v5.8h-5.6zM193 10.9h5.6v5.8h-5.6zM203.7 10.9h5.6v5.8h-5.6zM0 16.4h5.7v5.7h-5.7zM139.4 16.4h5.6v5.7h-5.6zM198.3 16.4h5.7v5.7h-5.7zM203.7 16.4h5.6v5.7h-5.6zM53.6 27.3h5.7v5.8h-5.7zM262.6 27.3h5.7v5.8h-5.7zM69.7 32.8h5.6v5.7h-5.6zM187.6 32.8h5.7v5.7h-5.7zM144.7 38.2h5.7v5.8h-5.7zM187.6 38.2h5.7v5.8h-5.7zM203.7 38.2h5.6v5.8h-5.6zM53.6 49.1h5.7v5.8h-5.7zM42.9 54.6h5.6v5.8h-5.6zM64.3 54.6h5.7v5.8h-5.7zM246.6 54.6h5.6v5.8h-5.6zM230.5 60.1h5.6v5.7h-5.6zM235.8 76.4h5.7v5.8h-5.7zM0 81.9h5.7v5.8h-5.7zM26.8 98.3h5.7v5.7h-5.7zM26.8 103.7h5.7v5.8h-5.7zM0 125.6h5.7v5.7h-5.7zM0 147.4h5.7v5.8h-5.7zM219.8 152.9h5.6v5.7h-5.6zM16.1 158.3h5.6v5.8h-5.6zM262.6 185.6h5.7v5.8h-5.7zM101.8 191.1h5.7v5.8h-5.7zM0 196.6h5.7v5.7h-5.7zM219.8 196.6h5.6v5.7h-5.6zM0 202h5.7v5.8h-5.7zM0 207.5h5.7v5.7h-5.7zM5.4 207.5h5.6v5.7h-5.6zM21.4 212.9h5.7v5.8h-5.7zM26.8 212.9h5.7v5.8h-5.7zM59 218.4h5.6v5.8h-5.6zM21.4 223.9h5.7v5.7h-5.7zM262.6 229.3h5.7v5.8h-5.7zM144.7 240.2h5.7v5.8h-5.7zM193 240.2h5.6v5.8h-5.6zM21.4 245.7h5.7v5.8h-5.7zM59 251.2h5.6v5.7h-5.6zM75 256.6h5.7v5.8h-5.7zM80.4 256.6h5.7v5.8h-5.7zM160.8 256.6h5.7v5.8h-5.7zM230.5 256.6h5.6v5.8h-5.6zM246.6 256.6h5.6v5.8h-5.6zM251.9 256.6h5.7v5.8h-5.7zM80.4 262.1h5.7v5.7h-5.7zM101.8 262.1h5.7v5.7h-5.7zM166.2 262.1h5.6v5.7h-5.6zM246.6 262.1h5.6v5.7h-5.6zM251.9 262.1h5.7v5.7h-5.7zM10.7 267.5h5.7v5.8h-5.7zM21.4 267.5h5.7v5.8h-5.7zM32.2 267.5h5.6v5.8h-5.6zM48.2 267.5h5.7v5.8h-5.7zM85.8 267.5h5.6v5.8h-5.6zM91.1 267.5h5.7v5.8h-5.7zM96.5 267.5h5.6v5.8h-5.6zM123.3 267.5h5.6v5.8h-5.6zM160.8 267.5h5.7v5.8h-5.7z"/><path fill="#07472a" d="M10.7 5.5h5.7v5.7h-5.7zM21.4 5.5h5.7v5.7h-5.7zM10.7 10.9h5.7v5.8h-5.7zM16.1 10.9h5.6v5.8h-5.6zM26.8 10.9h5.7v5.8h-5.7zM32.2 10.9h5.6v5.8h-5.6zM37.5 10.9h5.7v5.8h-5.7zM101.8 10.9h5.7v5.8h-5.7zM235.8 10.9h5.7v5.8h-5.7zM241.2 10.9h5.7v5.8h-5.7zM53.6 16.4h5.7v5.7h-5.7zM85.8 16.4h5.6v5.7h-5.6zM155.4 16.4h5.7v5.7h-5.7zM182.2 16.4h5.7v5.7h-5.7zM209 16.4h5.7v5.7h-5.7zM241.2 16.4h5.7v5.7h-5.7zM37.5 21.8h5.7v5.8h-5.7zM144.7 21.8h5.7v5.8h-5.7zM144.7 27.3h5.7v5.8h-5.7zM193 27.3h5.6v5.8h-5.6zM203.7 27.3h5.6v5.8h-5.6zM0 32.8h5.7v5.7h-5.7zM107.2 32.8h5.7v5.7h-5.7zM251.9 32.8h5.7v5.7h-5.7zM262.6 32.8h5.7v5.7h-5.7zM48.2 38.2h5.7v5.8h-5.7zM53.6 38.2h5.7v5.8h-5.7zM112.6 38.2h5.6v5.8h-5.6zM176.9 38.2h5.6v5.8h-5.6zM235.8 38.2h5.7v5.8h-5.7zM0 43.7h5.7v5.7h-5.7zM32.2 43.7h5.6v5.7h-5.6zM75 43.7h5.7v5.7h-5.7zM123.3 43.7h5.6v5.7h-5.6zM139.4 43.7h5.6v5.7h-5.6zM160.8 43.7h5.7v5.7h-5.7zM182.2 43.7h5.7v5.7h-5.7zM198.3 43.7h5.7v5.7h-5.7zM230.5 43.7h5.6v5.7h-5.6zM257.3 43.7h5.6v5.7h-5.6zM0 49.1h5.7v5.8h-5.7zM59 49.1h5.6v5.8h-5.6zM101.8 49.1h5.7v5.8h-5.7zM155.4 49.1h5.7v5.8h-5.7zM176.9 49.1h5.6v5.8h-5.6zM182.2 49.1h5.7v5.8h-5.7zM16.1 54.6h5.6v5.8h-5.6zM69.7 54.6h5.6v5.8h-5.6zM112.6 54.6h5.6v5.8h-5.6zM182.2 54.6h5.7v5.8h-5.7zM187.6 54.6h5.7v5.8h-5.7zM193 54.6h5.6v5.8h-5.6zM203.7 54.6h5.6v5.8h-5.6zM225.1 54.6h5.7v5.8h-5.7zM64.3 60.1h5.7v5.7h-5.7zM69.7 60.1h5.6v5.7h-5.6zM150.1 60.1h5.6v5.7h-5.6zM198.3 60.1h5.7v5.7h-5.7zM214.4 60.1h5.7v5.7h-5.7zM5.4 65.5h5.6v5.8h-5.6zM182.2 65.5h5.7v5.8h-5.7zM209 65.5h5.7v5.8h-5.7zM225.1 65.5h5.7v5.8h-5.7zM230.5 65.5h5.6v5.8h-5.6zM241.2 65.5h5.7v5.8h-5.7zM37.5 71h5.7v5.7h-5.7zM42.9 71h5.6v5.7h-5.6zM160.8 71h5.7v5.7h-5.7zM10.7 76.4h5.7v5.8h-5.7zM91.1 76.4h5.7v5.8h-5.7zM166.2 76.4h5.6v5.8h-5.6zM91.1 81.9h5.7v5.8h-5.7zM112.6 81.9h5.6v5.8h-5.6zM160.8 81.9h5.7v5.8h-5.7zM166.2 81.9h5.6v5.8h-5.6zM235.8 87.4h5.7v5.7h-5.7zM241.2 87.4h5.7v5.7h-5.7zM26.8 92.8h5.7v5.8h-5.7zM42.9 92.8h5.6v5.8h-5.6zM85.8 92.8h5.6v5.8h-5.6zM123.3 92.8h5.6v5.8h-5.6zM182.2 92.8h5.7v5.8h-5.7zM246.6 92.8h5.6v5.8h-5.6zM251.9 92.8h5.7v5.8h-5.7zM262.6 92.8h5.7v5.8h-5.7zM32.2 98.3h5.6v5.7h-5.6zM235.8 98.3h5.7v5.7h-5.7zM251.9 98.3h5.7v5.7h-5.7zM257.3 98.3h5.6v5.7h-5.6zM101.8 103.7h5.7v5.8h-5.7zM123.3 103.7h5.6v5.8h-5.6zM187.6 103.7h5.7v5.8h-5.7zM214.4 103.7h5.7v5.8h-5.7zM262.6 103.7h5.7v5.8h-5.7zM37.5 109.2h5.7v5.8h-5.7zM101.8 109.2h5.7v5.8h-5.7zM176.9 109.2h5.6v5.8h-5.6zM257.3 109.2h5.6v5.8h-5.6zM176.9 114.7h5.6v5.7h-5.6zM182.2 114.7h5.7v5.7h-5.7zM203.7 114.7h5.6v5.7h-5.6zM225.1 114.7h5.7v5.7h-5.7zM155.4 120.1h5.7v5.8h-5.7zM230.5 120.1h5.6v5.8h-5.6zM251.9 120.1h5.7v5.8h-5.7zM214.4 125.6h5.7v5.7h-5.7zM257.3 125.6h5.6v5.7h-5.6zM176.9 131h5.6v5.8h-5.6zM203.7 131h5.6v5.8h-5.6zM257.3 131h5.6v5.8h-5.6zM26.8 136.5h5.7v5.8h-5.7zM160.8 136.5h5.7v5.8h-5.7zM176.9 136.5h5.6v5.8h-5.6zM203.7 136.5h5.6v5.8h-5.6zM225.1 136.5h5.7v5.8h-5.7zM166.2 142h5.6v5.7h-5.6zM16.1 147.4h5.6v5.8h-5.6zM69.7 147.4h5.6v5.8h-5.6zM85.8 147.4h5.6v5.8h-5.6zM155.4 147.4h5.7v5.8h-5.7zM230.5 147.4h5.6v5.8h-5.6zM21.4 152.9h5.7v5.7h-5.7zM96.5 152.9h5.6v5.7h-5.6zM112.6 152.9h5.6v5.7h-5.6zM176.9 152.9h5.6v5.7h-5.6zM214.4 152.9h5.7v5.7h-5.7zM0 158.3h5.7v5.8h-5.7zM48.2 158.3h5.7v5.8h-5.7zM53.6 158.3h5.7v5.8h-5.7zM64.3 158.3h5.7v5.8h-5.7zM107.2 158.3h5.7v5.8h-5.7zM209 158.3h5.7v5.8h-5.7zM219.8 158.3h5.6v5.8h-5.6zM230.5 158.3h5.6v5.8h-5.6zM16.1 163.8h5.6v5.8h-5.6zM160.8 163.8h5.7v5.8h-5.7zM235.8 163.8h5.7v5.8h-5.7zM16.1 169.3h5.6v5.7h-5.6zM21.4 174.7h5.7v5.8h-5.7zM96.5 174.7h5.6v5.8h-5.6zM160.8 174.7h5.7v5.8h-5.7zM16.1 180.2h5.6v5.7h-5.6zM21.4 180.2h5.7v5.7h-5.7zM21.4 185.6h5.7v5.8h-5.7zM225.1 185.6h5.7v5.8h-5.7zM26.8 191.1h5.7v5.8h-5.7zM160.8 191.1h5.7v5.8h-5.7zM166.2 191.1h5.6v5.8h-5.6zM37.5 196.6h5.7v5.7h-5.7zM235.8 196.6h5.7v5.7h-5.7zM26.8 202h5.7v5.8h-5.7zM117.9 202h5.7v5.8h-5.7zM262.6 202h5.7v5.8h-5.7zM16.1 207.5h5.6v5.7h-5.6zM21.4 207.5h5.7v5.7h-5.7zM26.8 207.5h5.7v5.7h-5.7zM53.6 207.5h5.7v5.7h-5.7zM59 207.5h5.6v5.7h-5.6zM80.4 207.5h5.7v5.7h-5.7zM128.6 207.5h5.7v5.7h-5.7zM187.6 207.5h5.7v5.7h-5.7zM198.3 207.5h5.7v5.7h-5.7zM262.6 207.5h5.7v5.7h-5.7zM32.2 212.9h5.6v5.8h-5.6zM160.8 212.9h5.7v5.8h-5.7zM176.9 212.9h5.6v5.8h-5.6zM48.2 218.4h5.7v5.8h-5.7zM112.6 218.4h5.6v5.8h-5.6zM117.9 218.4h5.7v5.8h-5.7zM123.3 218.4h5.6v5.8h-5.6zM69.7 223.9h5.6v5.7h-5.6zM203.7 223.9h5.6v5.7h-5.6zM262.6 223.9h5.7v5.7h-5.7zM75 229.3h5.7v5.8h-5.7zM80.4 229.3h5.7v5.8h-5.7zM166.2 229.3h5.6v5.8h-5.6zM16.1 234.8h5.6v5.7h-5.6zM134 234.8h5.7v5.7h-5.7zM187.6 234.8h5.7v5.7h-5.7zM75 240.2h5.7v5.8h-5.7zM101.8 240.2h5.7v5.8h-5.7zM241.2 240.2h5.7v5.8h-5.7zM246.6 240.2h5.6v5.8h-5.6zM262.6 240.2h5.7v5.8h-5.7zM117.9 245.7h5.7v5.8h-5.7zM160.8 245.7h5.7v5.8h-5.7zM166.2 245.7h5.6v5.8h-5.6zM187.6 245.7h5.7v5.8h-5.7zM193 245.7h5.6v5.8h-5.6zM241.2 245.7h5.7v5.8h-5.7zM32.2 251.2h5.6v5.7h-5.6zM48.2 251.2h5.7v5.7h-5.7zM64.3 251.2h5.7v5.7h-5.7zM107.2 251.2h5.7v5.7h-5.7zM117.9 251.2h5.7v5.7h-5.7zM171.5 251.2h5.7v5.7h-5.7zM5.4 256.6h5.6v5.8h-5.6zM10.7 256.6h5.7v5.8h-5.7zM53.6 256.6h5.7v5.8h-5.7zM69.7 256.6h5.6v5.8h-5.6zM155.4 256.6h5.7v5.8h-5.7zM182.2 256.6h5.7v5.8h-5.7zM5.4 262.1h5.6v5.7h-5.6zM42.9 262.1h5.6v5.7h-5.6zM134 262.1h5.7v5.7h-5.7zM176.9 262.1h5.6v5.7h-5.6zM182.2 262.1h5.7v5.7h-5.7zM187.6 262.1h5.7v5.7h-5.7zM225.1 262.1h5.7v5.7h-5.7zM128.6 267.5h5.7v5.8h-5.7zM193 267.5h5.6v5.8h-5.6z"/><path fill="#0b5c39" d="M21.4 10.9h5.7v5.8h-5.7zM160.8 10.9h5.7v5.8h-5.7zM219.8 10.9h5.6v5.8h-5.6zM5.4 16.4h5.6v5.7h-5.6zM26.8 16.4h5.7v5.7h-5.7zM37.5 16.4h5.7v5.7h-5.7zM219.8 16.4h5.6v5.7h-5.6zM225.1 16.4h5.7v5.7h-5.7zM48.2 21.8h5.7v5.8h-5.7zM101.8 21.8h5.7v5.8h-5.7zM107.2 21.8h5.7v5.8h-5.7zM42.9 27.3h5.6v5.8h-5.6zM155.4 27.3h5.7v5.8h-5.7zM230.5 27.3h5.6v5.8h-5.6zM48.2 32.8h5.7v5.7h-5.7zM134 32.8h5.7v5.7h-5.7zM42.9 38.2h5.6v5.8h-5.6zM59 38.2h5.6v5.8h-5.6zM69.7 38.2h5.6v5.8h-5.6zM85.8 38.2h5.6v5.8h-5.6zM150.1 38.2h5.6v5.8h-5.6zM209 38.2h5.7v5.8h-5.7zM214.4 38.2h5.7v5.8h-5.7zM262.6 38.2h5.7v5.8h-5.7zM48.2 43.7h5.7v5.7h-5.7zM101.8 43.7h5.7v5.7h-5.7zM134 43.7h5.7v5.7h-5.7zM144.7 43.7h5.7v5.7h-5.7zM176.9 43.7h5.6v5.7h-5.6zM219.8 43.7h5.6v5.7h-5.6zM85.8 49.1h5.6v5.8h-5.6zM107.2 54.6h5.7v5.8h-5.7zM134 54.6h5.7v5.8h-5.7zM10.7 60.1h5.7v5.7h-5.7zM59 60.1h5.6v5.7h-5.6zM139.4 60.1h5.6v5.7h-5.6zM166.2 60.1h5.6v5.7h-5.6zM203.7 60.1h5.6v5.7h-5.6zM26.8 65.5h5.7v5.8h-5.7zM59 65.5h5.6v5.8h-5.6zM112.6 65.5h5.6v5.8h-5.6zM155.4 65.5h5.7v5.8h-5.7zM193 65.5h5.6v5.8h-5.6zM16.1 71h5.6v5.7h-5.6zM48.2 71h5.7v5.7h-5.7zM166.2 71h5.6v5.7h-5.6zM209 71h5.7v5.7h-5.7zM257.3 71h5.6v5.7h-5.6zM262.6 71h5.7v5.7h-5.7zM171.5 81.9h5.7v5.8h-5.7zM53.6 87.4h5.7v5.7h-5.7zM171.5 87.4h5.7v5.7h-5.7zM203.7 87.4h5.6v5.7h-5.6zM251.9 87.4h5.7v5.7h-5.7zM203.7 92.8h5.6v5.8h-5.6zM225.1 92.8h5.7v5.8h-5.7zM241.2 92.8h5.7v5.8h-5.7zM10.7 98.3h5.7v5.7h-5.7zM16.1 98.3h5.6v5.7h-5.6zM107.2 98.3h5.7v5.7h-5.7zM0 103.7h5.7v5.8h-5.7zM91.1 103.7h5.7v5.8h-5.7zM166.2 103.7h5.6v5.8h-5.6zM241.2 103.7h5.7v5.8h-5.7zM48.2 109.2h5.7v5.8h-5.7zM80.4 109.2h5.7v5.8h-5.7zM150.1 109.2h5.6v5.8h-5.6zM209 109.2h5.7v5.8h-5.7zM214.4 109.2h5.7v5.8h-5.7zM235.8 109.2h5.7v5.8h-5.7zM241.2 109.2h5.7v5.8h-5.7zM10.7 114.7h5.7v5.7h-5.7zM59 114.7h5.6v5.7h-5.6zM107.2 114.7h5.7v5.7h-5.7zM128.6 114.7h5.7v5.7h-5.7zM166.2 114.7h5.6v5.7h-5.6zM209 114.7h5.7v5.7h-5.7zM251.9 114.7h5.7v5.7h-5.7zM0 120.1h5.7v5.8h-5.7zM75 120.1h5.7v5.8h-5.7zM144.7 120.1h5.7v5.8h-5.7zM166.2 120.1h5.6v5.8h-5.6zM182.2 120.1h5.7v5.8h-5.7zM187.6 120.1h5.7v5.8h-5.7zM193 120.1h5.6v5.8h-5.6zM214.4 120.1h5.7v5.8h-5.7zM53.6 125.6h5.7v5.7h-5.7zM80.4 125.6h5.7v5.7h-5.7zM262.6 125.6h5.7v5.7h-5.7zM155.4 131h5.7v5.8h-5.7zM166.2 131h5.6v5.8h-5.6zM251.9 131h5.7v5.8h-5.7zM53.6 136.5h5.7v5.8h-5.7zM80.4 136.5h5.7v5.8h-5.7zM117.9 136.5h5.7v5.8h-5.7zM32.2 142h5.6v5.7h-5.6zM123.3 142h5.6v5.7h-5.6zM241.2 142h5.7v5.7h-5.7zM246.6 142h5.6v5.7h-5.6zM42.9 147.4h5.6v5.8h-5.6zM53.6 147.4h5.7v5.8h-5.7zM59 147.4h5.6v5.8h-5.6zM112.6 147.4h5.6v5.8h-5.6zM225.1 147.4h5.7v5.8h-5.7zM32.2 152.9h5.6v5.7h-5.6zM42.9 152.9h5.6v5.7h-5.6zM101.8 152.9h5.7v5.7h-5.7zM144.7 152.9h5.7v5.7h-5.7zM203.7 152.9h5.6v5.7h-5.6zM257.3 152.9h5.6v5.7h-5.6zM85.8 158.3h5.6v5.8h-5.6zM123.3 158.3h5.6v5.8h-5.6zM176.9 158.3h5.6v5.8h-5.6zM59 163.8h5.6v5.8h-5.6zM91.1 163.8h5.7v5.8h-5.7zM101.8 163.8h5.7v5.8h-5.7zM128.6 163.8h5.7v5.8h-5.7zM134 163.8h5.7v5.8h-5.7zM193 163.8h5.6v5.8h-5.6zM117.9 169.3h5.7v5.7h-5.7zM166.2 169.3h5.6v5.7h-5.6zM171.5 169.3h5.7v5.7h-5.7zM198.3 169.3h5.7v5.7h-5.7zM209 169.3h5.7v5.7h-5.7zM16.1 174.7h5.6v5.8h-5.6zM91.1 174.7h5.7v5.8h-5.7zM107.2 174.7h5.7v5.8h-5.7zM176.9 174.7h5.6v5.8h-5.6zM198.3 174.7h5.7v5.8h-5.7zM26.8 180.2h5.7v5.7h-5.7zM85.8 180.2h5.6v5.7h-5.6zM214.4 180.2h5.7v5.7h-5.7zM246.6 180.2h5.6v5.7h-5.6zM5.4 185.6h5.6v5.8h-5.6zM16.1 185.6h5.6v5.8h-5.6zM85.8 185.6h5.6v5.8h-5.6zM37.5 191.1h5.7v5.8h-5.7zM80.4 191.1h5.7v5.8h-5.7zM123.3 191.1h5.6v5.8h-5.6zM155.4 191.1h5.7v5.8h-5.7zM203.7 191.1h5.6v5.8h-5.6zM214.4 191.1h5.7v5.8h-5.7zM16.1 196.6h5.6v5.7h-5.6zM64.3 196.6h5.7v5.7h-5.7zM134 196.6h5.7v5.7h-5.7zM155.4 196.6h5.7v5.7h-5.7zM203.7 196.6h5.6v5.7h-5.6zM37.5 202h5.7v5.8h-5.7zM101.8 202h5.7v5.8h-5.7zM144.7 202h5.7v5.8h-5.7zM150.1 202h5.6v5.8h-5.6zM155.4 202h5.7v5.8h-5.7zM203.7 202h5.6v5.8h-5.6zM91.1 207.5h5.7v5.7h-5.7zM112.6 207.5h5.6v5.7h-5.6zM117.9 207.5h5.7v5.7h-5.7zM134 207.5h5.7v5.7h-5.7zM166.2 207.5h5.6v5.7h-5.6zM246.6 207.5h5.6v5.7h-5.6zM251.9 207.5h5.7v5.7h-5.7zM96.5 212.9h5.6v5.8h-5.6zM123.3 212.9h5.6v5.8h-5.6zM171.5 212.9h5.7v5.8h-5.7zM235.8 212.9h5.7v5.8h-5.7zM262.6 212.9h5.7v5.8h-5.7zM26.8 218.4h5.7v5.8h-5.7zM85.8 218.4h5.6v5.8h-5.6zM107.2 218.4h5.7v5.8h-5.7zM37.5 223.9h5.7v5.7h-5.7zM75 223.9h5.7v5.7h-5.7zM171.5 223.9h5.7v5.7h-5.7zM225.1 223.9h5.7v5.7h-5.7zM16.1 229.3h5.6v5.8h-5.6zM53.6 229.3h5.7v5.8h-5.7zM101.8 229.3h5.7v5.8h-5.7zM112.6 229.3h5.6v5.8h-5.6zM193 229.3h5.6v5.8h-5.6zM59 234.8h5.6v5.7h-5.6zM101.8 234.8h5.7v5.7h-5.7zM139.4 234.8h5.6v5.7h-5.6zM182.2 240.2h5.7v5.8h-5.7zM101.8 245.7h5.7v5.8h-5.7zM144.7 245.7h5.7v5.8h-5.7zM171.5 245.7h5.7v5.8h-5.7zM176.9 245.7h5.6v5.8h-5.6zM219.8 245.7h5.6v5.8h-5.6zM10.7 251.2h5.7v5.7h-5.7zM91.1 251.2h5.7v5.7h-5.7zM101.8 251.2h5.7v5.7h-5.7zM182.2 251.2h5.7v5.7h-5.7zM225.1 251.2h5.7v5.7h-5.7zM241.2 251.2h5.7v5.7h-5.7zM257.3 251.2h5.6v5.7h-5.6zM42.9 256.6h5.6v5.8h-5.6zM48.2 256.6h5.7v5.8h-5.7zM107.2 256.6h5.7v5.8h-5.7zM32.2 262.1h5.6v5.7h-5.6zM48.2 262.1h5.7v5.7h-5.7z"/><path fill="#085131" d="M117.9 10.9h5.7v5.8h-5.7zM171.5 10.9h5.7v5.8h-5.7zM64.3 16.4h5.7v5.7h-5.7zM107.2 16.4h5.7v5.7h-5.7zM134 16.4h5.7v5.7h-5.7zM150.1 16.4h5.6v5.7h-5.6zM235.8 16.4h5.7v5.7h-5.7zM0 21.8h5.7v5.8h-5.7zM42.9 21.8h5.6v5.8h-5.6zM59 21.8h5.6v5.8h-5.6zM69.7 21.8h5.6v5.8h-5.6zM112.6 21.8h5.6v5.8h-5.6zM155.4 21.8h5.7v5.8h-5.7zM241.2 21.8h5.7v5.8h-5.7zM257.3 21.8h5.6v5.8h-5.6zM0 27.3h5.7v5.8h-5.7zM150.1 27.3h5.6v5.8h-5.6zM235.8 27.3h5.7v5.8h-5.7zM251.9 27.3h5.7v5.8h-5.7zM150.1 32.8h5.6v5.7h-5.6zM182.2 32.8h5.7v5.7h-5.7zM193 32.8h5.6v5.7h-5.6zM230.5 32.8h5.6v5.7h-5.6zM117.9 38.2h5.7v5.8h-5.7zM225.1 38.2h5.7v5.8h-5.7zM230.5 38.2h5.6v5.8h-5.6zM166.2 43.7h5.6v5.7h-5.6zM64.3 49.1h5.7v5.8h-5.7zM96.5 49.1h5.6v5.8h-5.6zM107.2 49.1h5.7v5.8h-5.7zM139.4 49.1h5.6v5.8h-5.6zM144.7 49.1h5.7v5.8h-5.7zM150.1 49.1h5.6v5.8h-5.6zM160.8 49.1h5.7v5.8h-5.7zM193 49.1h5.6v5.8h-5.6zM198.3 49.1h5.7v5.8h-5.7zM246.6 49.1h5.6v5.8h-5.6zM123.3 54.6h5.6v5.8h-5.6zM209 54.6h5.7v5.8h-5.7zM42.9 60.1h5.6v5.7h-5.6zM123.3 60.1h5.6v5.7h-5.6zM182.2 60.1h5.7v5.7h-5.7zM225.1 60.1h5.7v5.7h-5.7zM80.4 65.5h5.7v5.8h-5.7zM85.8 65.5h5.6v5.8h-5.6zM107.2 65.5h5.7v5.8h-5.7zM128.6 65.5h5.7v5.8h-5.7zM139.4 65.5h5.6v5.8h-5.6zM171.5 65.5h5.7v5.8h-5.7zM246.6 65.5h5.6v5.8h-5.6zM257.3 65.5h5.6v5.8h-5.6zM0 71h5.7v5.7h-5.7zM10.7 71h5.7v5.7h-5.7zM128.6 71h5.7v5.7h-5.7zM187.6 71h5.7v5.7h-5.7zM235.8 71h5.7v5.7h-5.7zM246.6 71h5.6v5.7h-5.6zM101.8 76.4h5.7v5.8h-5.7zM171.5 76.4h5.7v5.8h-5.7zM96.5 81.9h5.6v5.8h-5.6zM209 81.9h5.7v5.8h-5.7zM107.2 87.4h5.7v5.7h-5.7zM225.1 87.4h5.7v5.7h-5.7zM5.4 92.8h5.6v5.8h-5.6zM16.1 92.8h5.6v5.8h-5.6zM32.2 92.8h5.6v5.8h-5.6zM117.9 92.8h5.7v5.8h-5.7zM193 92.8h5.6v5.8h-5.6zM198.3 92.8h5.7v5.8h-5.7zM214.4 92.8h5.7v5.8h-5.7zM96.5 98.3h5.6v5.7h-5.6zM198.3 98.3h5.7v5.7h-5.7zM262.6 98.3h5.7v5.7h-5.7zM85.8 103.7h5.6v5.8h-5.6zM251.9 103.7h5.7v5.8h-5.7zM21.4 109.2h5.7v5.8h-5.7zM42.9 109.2h5.6v5.8h-5.6zM69.7 109.2h5.6v5.8h-5.6zM91.1 109.2h5.7v5.8h-5.7zM187.6 109.2h5.7v5.8h-5.7zM198.3 109.2h5.7v5.8h-5.7zM246.6 109.2h5.6v5.8h-5.6zM251.9 109.2h5.7v5.8h-5.7zM32.2 114.7h5.6v5.7h-5.6zM85.8 114.7h5.6v5.7h-5.6zM171.5 114.7h5.7v5.7h-5.7zM230.5 114.7h5.6v5.7h-5.6zM262.6 114.7h5.7v5.7h-5.7zM10.7 120.1h5.7v5.8h-5.7zM80.4 120.1h5.7v5.8h-5.7zM198.3 120.1h5.7v5.8h-5.7zM262.6 120.1h5.7v5.8h-5.7zM59 125.6h5.6v5.7h-5.6zM75 125.6h5.7v5.7h-5.7zM246.6 125.6h5.6v5.7h-5.6zM5.4 131h5.6v5.8h-5.6zM10.7 131h5.7v5.8h-5.7zM26.8 131h5.7v5.8h-5.7zM59 131h5.6v5.8h-5.6zM75 131h5.7v5.8h-5.7zM160.8 131h5.7v5.8h-5.7zM214.4 131h5.7v5.8h-5.7zM209 136.5h5.7v5.8h-5.7zM59 142h5.6v5.7h-5.6zM160.8 142h5.7v5.7h-5.7zM176.9 142h5.6v5.7h-5.6zM182.2 142h5.7v5.7h-5.7zM32.2 147.4h5.6v5.8h-5.6zM80.4 147.4h5.7v5.8h-5.7zM107.2 147.4h5.7v5.8h-5.7zM0 152.9h5.7v5.7h-5.7zM155.4 152.9h5.7v5.7h-5.7zM32.2 158.3h5.6v5.8h-5.6zM59 158.3h5.6v5.8h-5.6zM117.9 158.3h5.7v5.8h-5.7zM193 158.3h5.6v5.8h-5.6zM85.8 163.8h5.6v5.8h-5.6zM198.3 163.8h5.7v5.8h-5.7zM257.3 163.8h5.6v5.8h-5.6zM262.6 163.8h5.7v5.8h-5.7zM80.4 169.3h5.7v5.7h-5.7zM91.1 169.3h5.7v5.7h-5.7zM101.8 169.3h5.7v5.7h-5.7zM0 174.7h5.7v5.8h-5.7zM85.8 174.7h5.6v5.8h-5.6zM101.8 185.6h5.7v5.8h-5.7zM160.8 185.6h5.7v5.8h-5.7zM10.7 191.1h5.7v5.8h-5.7zM16.1 191.1h5.6v5.8h-5.6zM171.5 191.1h5.7v5.8h-5.7zM246.6 191.1h5.6v5.8h-5.6zM26.8 196.6h5.7v5.7h-5.7zM32.2 196.6h5.6v5.7h-5.6zM69.7 196.6h5.6v5.7h-5.6zM144.7 196.6h5.7v5.7h-5.7zM193 196.6h5.6v5.7h-5.6zM230.5 196.6h5.6v5.7h-5.6zM262.6 196.6h5.7v5.7h-5.7zM16.1 202h5.6v5.8h-5.6zM53.6 202h5.7v5.8h-5.7zM69.7 202h5.6v5.8h-5.6zM128.6 202h5.7v5.8h-5.7zM198.3 202h5.7v5.8h-5.7zM225.1 202h5.7v5.8h-5.7zM251.9 202h5.7v5.8h-5.7zM144.7 207.5h5.7v5.7h-5.7zM176.9 207.5h5.6v5.7h-5.6zM5.4 212.9h5.6v5.8h-5.6zM117.9 212.9h5.7v5.8h-5.7zM134 212.9h5.7v5.8h-5.7zM187.6 212.9h5.7v5.8h-5.7zM198.3 212.9h5.7v5.8h-5.7zM5.4 218.4h5.6v5.8h-5.6zM64.3 218.4h5.7v5.8h-5.7zM101.8 218.4h5.7v5.8h-5.7zM128.6 218.4h5.7v5.8h-5.7zM139.4 218.4h5.6v5.8h-5.6zM32.2 223.9h5.6v5.7h-5.6zM64.3 223.9h5.7v5.7h-5.7zM198.3 223.9h5.7v5.7h-5.7zM0 229.3h5.7v5.8h-5.7zM32.2 229.3h5.6v5.8h-5.6zM214.4 229.3h5.7v5.8h-5.7zM241.2 229.3h5.7v5.8h-5.7zM160.8 234.8h5.7v5.7h-5.7zM209 234.8h5.7v5.7h-5.7zM241.2 234.8h5.7v5.7h-5.7zM257.3 234.8h5.6v5.7h-5.6zM10.7 240.2h5.7v5.8h-5.7zM26.8 240.2h5.7v5.8h-5.7zM59 240.2h5.6v5.8h-5.6zM112.6 240.2h5.6v5.8h-5.6zM150.1 240.2h5.6v5.8h-5.6zM198.3 240.2h5.7v5.8h-5.7zM26.8 245.7h5.7v5.8h-5.7zM53.6 245.7h5.7v5.8h-5.7zM64.3 245.7h5.7v5.8h-5.7zM37.5 251.2h5.7v5.7h-5.7zM69.7 251.2h5.6v5.7h-5.6zM203.7 251.2h5.6v5.7h-5.6zM214.4 251.2h5.7v5.7h-5.7zM16.1 256.6h5.6v5.8h-5.6zM37.5 256.6h5.7v5.8h-5.7zM101.8 256.6h5.7v5.8h-5.7zM112.6 256.6h5.6v5.8h-5.6zM203.7 256.6h5.6v5.8h-5.6zM37.5 262.1h5.7v5.7h-5.7zM53.6 262.1h5.7v5.7h-5.7zM112.6 262.1h5.6v5.7h-5.6zM128.6 262.1h5.7v5.7h-5.7z"/><path fill="#117049" d="M166.2 10.9h5.6v5.8h-5.6zM112.6 16.4h5.6v5.7h-5.6zM214.4 21.8h5.7v5.8h-5.7zM37.5 27.3h5.7v5.8h-5.7zM107.2 27.3h5.7v5.8h-5.7zM171.5 27.3h5.7v5.8h-5.7zM128.6 32.8h5.7v5.7h-5.7zM37.5 38.2h5.7v5.8h-5.7zM80.4 43.7h5.7v5.7h-5.7zM171.5 43.7h5.7v5.7h-5.7zM16.1 49.1h5.6v5.8h-5.6zM26.8 49.1h5.7v5.8h-5.7zM128.6 54.6h5.7v5.8h-5.7zM150.1 54.6h5.6v5.8h-5.6zM32.2 60.1h5.6v5.7h-5.6zM64.3 65.5h5.7v5.8h-5.7zM123.3 65.5h5.6v5.8h-5.6zM203.7 65.5h5.6v5.8h-5.6zM214.4 65.5h5.7v5.8h-5.7zM219.8 65.5h5.6v5.8h-5.6zM21.4 71h5.7v5.7h-5.7zM96.5 71h5.6v5.7h-5.6zM134 71h5.7v5.7h-5.7zM193 71h5.6v5.7h-5.6zM16.1 76.4h5.6v5.8h-5.6zM85.8 76.4h5.6v5.8h-5.6zM96.5 76.4h5.6v5.8h-5.6zM112.6 76.4h5.6v5.8h-5.6zM160.8 76.4h5.7v5.8h-5.7zM16.1 81.9h5.6v5.8h-5.6zM230.5 81.9h5.6v5.8h-5.6zM10.7 87.4h5.7v5.7h-5.7zM214.4 87.4h5.7v5.7h-5.7zM257.3 87.4h5.6v5.7h-5.6zM48.2 92.8h5.7v5.8h-5.7zM107.2 92.8h5.7v5.8h-5.7zM176.9 92.8h5.6v5.8h-5.6zM257.3 92.8h5.6v5.8h-5.6zM101.8 98.3h5.7v5.7h-5.7zM214.4 98.3h5.7v5.7h-5.7zM10.7 103.7h5.7v5.8h-5.7zM16.1 103.7h5.6v5.8h-5.6zM64.3 103.7h5.7v5.8h-5.7zM187.6 114.7h5.7v5.7h-5.7zM214.4 114.7h5.7v5.7h-5.7zM128.6 120.1h5.7v5.8h-5.7zM150.1 120.1h5.6v5.8h-5.6zM203.7 120.1h5.6v5.8h-5.6zM235.8 120.1h5.7v5.8h-5.7zM10.7 125.6h5.7v5.7h-5.7zM21.4 136.5h5.7v5.8h-5.7zM32.2 136.5h5.6v5.8h-5.6zM69.7 136.5h5.6v5.8h-5.6zM123.3 136.5h5.6v5.8h-5.6zM246.6 136.5h5.6v5.8h-5.6zM53.6 142h5.7v5.7h-5.7zM64.3 142h5.7v5.7h-5.7zM150.1 142h5.6v5.7h-5.6zM96.5 147.4h5.6v5.8h-5.6zM176.9 147.4h5.6v5.8h-5.6zM235.8 147.4h5.7v5.8h-5.7zM64.3 152.9h5.7v5.7h-5.7zM134 152.9h5.7v5.7h-5.7zM230.5 152.9h5.6v5.7h-5.6zM69.7 158.3h5.6v5.8h-5.6zM101.8 158.3h5.7v5.8h-5.7zM128.6 158.3h5.7v5.8h-5.7zM182.2 158.3h5.7v5.8h-5.7zM241.2 158.3h5.7v5.8h-5.7zM21.4 163.8h5.7v5.8h-5.7zM176.9 163.8h5.6v5.8h-5.6zM42.9 169.3h5.6v5.7h-5.6zM59 169.3h5.6v5.7h-5.6zM241.2 169.3h5.7v5.7h-5.7zM246.6 169.3h5.6v5.7h-5.6zM117.9 174.7h5.7v5.8h-5.7zM166.2 174.7h5.6v5.8h-5.6zM171.5 174.7h5.7v5.8h-5.7zM203.7 174.7h5.6v5.8h-5.6zM32.2 180.2h5.6v5.7h-5.6zM101.8 180.2h5.7v5.7h-5.7zM117.9 185.6h5.7v5.8h-5.7zM241.2 191.1h5.7v5.8h-5.7zM80.4 196.6h5.7v5.7h-5.7zM171.5 196.6h5.7v5.7h-5.7zM225.1 196.6h5.7v5.7h-5.7zM59 202h5.6v5.8h-5.6zM107.2 202h5.7v5.8h-5.7zM171.5 202h5.7v5.8h-5.7zM241.2 202h5.7v5.8h-5.7zM32.2 207.5h5.6v5.7h-5.6zM107.2 207.5h5.7v5.7h-5.7zM209 207.5h5.7v5.7h-5.7zM225.1 207.5h5.7v5.7h-5.7zM64.3 212.9h5.7v5.8h-5.7zM155.4 212.9h5.7v5.8h-5.7zM166.2 212.9h5.6v5.8h-5.6zM225.1 212.9h5.7v5.8h-5.7zM246.6 212.9h5.6v5.8h-5.6zM80.4 218.4h5.7v5.8h-5.7zM160.8 218.4h5.7v5.8h-5.7zM166.2 218.4h5.6v5.8h-5.6zM171.5 218.4h5.7v5.8h-5.7zM182.2 218.4h5.7v5.8h-5.7zM214.4 218.4h5.7v5.8h-5.7zM5.4 223.9h5.6v5.7h-5.6zM53.6 223.9h5.7v5.7h-5.7zM96.5 223.9h5.6v5.7h-5.6zM134 223.9h5.7v5.7h-5.7zM139.4 223.9h5.6v5.7h-5.6zM144.7 223.9h5.7v5.7h-5.7zM241.2 223.9h5.7v5.7h-5.7zM251.9 223.9h5.7v5.7h-5.7zM69.7 229.3h5.6v5.8h-5.6zM187.6 229.3h5.7v5.8h-5.7zM235.8 234.8h5.7v5.7h-5.7zM85.8 240.2h5.6v5.8h-5.6zM203.7 240.2h5.6v5.8h-5.6zM0 245.7h5.7v5.8h-5.7zM10.7 245.7h5.7v5.8h-5.7zM48.2 245.7h5.7v5.8h-5.7zM112.6 245.7h5.6v5.8h-5.6zM155.4 245.7h5.7v5.8h-5.7zM182.2 245.7h5.7v5.8h-5.7zM5.4 251.2h5.6v5.7h-5.6zM96.5 251.2h5.6v5.7h-5.6zM91.1 256.6h5.7v5.8h-5.7z"/><path fill="#32ad7f" d="M246.6 10.9h5.6v5.8h-5.6zM123.3 16.4h5.6v5.7h-5.6zM32.2 27.3h5.6v5.8h-5.6zM128.6 27.3h5.7v5.8h-5.7zM225.1 27.3h5.7v5.8h-5.7zM80.4 81.9h5.7v5.8h-5.7zM198.3 81.9h5.7v5.8h-5.7zM203.7 81.9h5.6v5.8h-5.6zM134 87.4h5.7v5.7h-5.7zM139.4 87.4h5.6v5.7h-5.6zM96.5 109.2h5.6v5.8h-5.6zM42.9 114.7h5.6v5.7h-5.6zM96.5 120.1h5.6v5.8h-5.6zM182.2 125.6h5.7v5.7h-5.7zM198.3 125.6h5.7v5.7h-5.7zM182.2 131h5.7v5.8h-5.7zM117.9 142h5.7v5.7h-5.7zM139.4 169.3h5.6v5.7h-5.6zM155.4 174.7h5.7v5.8h-5.7zM225.1 180.2h5.7v5.7h-5.7zM209 185.6h5.7v5.8h-5.7zM75 191.1h5.7v5.8h-5.7zM230.5 191.1h5.6v5.8h-5.6zM48.2 196.6h5.7v5.7h-5.7zM182.2 202h5.7v5.8h-5.7zM251.9 212.9h5.7v5.8h-5.7zM246.6 218.4h5.6v5.8h-5.6zM48.2 223.9h5.7v5.7h-5.7zM128.6 234.8h5.7v5.7h-5.7zM0 240.2h5.7v5.8h-5.7z"/><path fill="#0e6641" d="M251.9 10.9h5.7v5.8h-5.7zM10.7 16.4h5.7v5.7h-5.7zM91.1 16.4h5.7v5.7h-5.7zM214.4 16.4h5.7v5.7h-5.7zM5.4 21.8h5.6v5.8h-5.6zM16.1 21.8h5.6v5.8h-5.6zM80.4 21.8h5.7v5.8h-5.7zM171.5 21.8h5.7v5.8h-5.7zM10.7 27.3h5.7v5.8h-5.7zM209 27.3h5.7v5.8h-5.7zM16.1 32.8h5.6v5.7h-5.6zM80.4 32.8h5.7v5.7h-5.7zM112.6 32.8h5.6v5.7h-5.6zM16.1 38.2h5.6v5.8h-5.6zM26.8 38.2h5.7v5.8h-5.7zM171.5 38.2h5.7v5.8h-5.7zM16.1 43.7h5.6v5.7h-5.6zM21.4 43.7h5.7v5.7h-5.7zM53.6 43.7h5.7v5.7h-5.7zM107.2 43.7h5.7v5.7h-5.7zM128.6 43.7h5.7v5.7h-5.7zM225.1 43.7h5.7v5.7h-5.7zM21.4 49.1h5.7v5.8h-5.7zM37.5 49.1h5.7v5.8h-5.7zM219.8 49.1h5.6v5.8h-5.6zM85.8 54.6h5.6v5.8h-5.6zM144.7 54.6h5.7v5.8h-5.7zM101.8 60.1h5.7v5.7h-5.7zM160.8 60.1h5.7v5.7h-5.7zM262.6 60.1h5.7v5.7h-5.7zM117.9 65.5h5.7v5.8h-5.7zM144.7 65.5h5.7v5.8h-5.7zM59 71h5.6v5.7h-5.6zM117.9 71h5.7v5.7h-5.7zM150.1 71h5.6v5.7h-5.6zM230.5 71h5.6v5.7h-5.6zM251.9 71h5.7v5.7h-5.7zM59 76.4h5.6v5.8h-5.6zM198.3 76.4h5.7v5.8h-5.7zM203.7 76.4h5.6v5.8h-5.6zM246.6 76.4h5.6v5.8h-5.6zM48.2 81.9h5.7v5.8h-5.7zM101.8 81.9h5.7v5.8h-5.7zM117.9 81.9h5.7v5.8h-5.7zM251.9 81.9h5.7v5.8h-5.7zM0 87.4h5.7v5.7h-5.7zM5.4 87.4h5.6v5.7h-5.6zM37.5 87.4h5.7v5.7h-5.7zM101.8 87.4h5.7v5.7h-5.7zM112.6 87.4h5.6v5.7h-5.6zM246.6 87.4h5.6v5.7h-5.6zM128.6 92.8h5.7v5.8h-5.7zM0 98.3h5.7v5.7h-5.7zM48.2 98.3h5.7v5.7h-5.7zM75 98.3h5.7v5.7h-5.7zM144.7 98.3h5.7v5.7h-5.7zM150.1 98.3h5.6v5.7h-5.6zM160.8 98.3h5.7v5.7h-5.7zM187.6 98.3h5.7v5.7h-5.7zM203.7 98.3h5.6v5.7h-5.6zM75 103.7h5.7v5.8h-5.7zM134 103.7h5.7v5.8h-5.7zM155.4 103.7h5.7v5.8h-5.7zM193 103.7h5.6v5.8h-5.6zM219.8 103.7h5.6v5.8h-5.6zM0 109.2h5.7v5.8h-5.7zM230.5 109.2h5.6v5.8h-5.6zM53.6 114.7h5.7v5.7h-5.7zM235.8 114.7h5.7v5.7h-5.7zM21.4 120.1h5.7v5.8h-5.7zM69.7 120.1h5.6v5.8h-5.6zM134 120.1h5.7v5.8h-5.7zM219.8 120.1h5.6v5.8h-5.6zM230.5 125.6h5.6v5.7h-5.6zM69.7 131h5.6v5.8h-5.6zM225.1 131h5.7v5.8h-5.7zM214.4 136.5h5.7v5.8h-5.7zM37.5 142h5.7v5.7h-5.7zM128.6 142h5.7v5.7h-5.7zM251.9 142h5.7v5.7h-5.7zM128.6 147.4h5.7v5.8h-5.7zM171.5 147.4h5.7v5.8h-5.7zM107.2 152.9h5.7v5.7h-5.7zM198.3 152.9h5.7v5.7h-5.7zM5.4 158.3h5.6v5.8h-5.6zM10.7 158.3h5.7v5.8h-5.7zM0 163.8h5.7v5.8h-5.7zM5.4 163.8h5.6v5.8h-5.6zM42.9 163.8h5.6v5.8h-5.6zM112.6 163.8h5.6v5.8h-5.6zM230.5 163.8h5.6v5.8h-5.6zM10.7 169.3h5.7v5.7h-5.7zM64.3 169.3h5.7v5.7h-5.7zM26.8 174.7h5.7v5.8h-5.7zM32.2 174.7h5.6v5.8h-5.6zM48.2 174.7h5.7v5.8h-5.7zM187.6 174.7h5.7v5.8h-5.7zM209 174.7h5.7v5.8h-5.7zM225.1 174.7h5.7v5.8h-5.7zM262.6 174.7h5.7v5.8h-5.7zM10.7 180.2h5.7v5.7h-5.7zM117.9 180.2h5.7v5.7h-5.7zM160.8 180.2h5.7v5.7h-5.7zM251.9 180.2h5.7v5.7h-5.7zM257.3 180.2h5.6v5.7h-5.6zM10.7 185.6h5.7v5.8h-5.7zM32.2 185.6h5.6v5.8h-5.6zM112.6 185.6h5.6v5.8h-5.6zM123.3 185.6h5.6v5.8h-5.6zM219.8 185.6h5.6v5.8h-5.6zM257.3 185.6h5.6v5.8h-5.6zM0 191.1h5.7v5.8h-5.7zM5.4 191.1h5.6v5.8h-5.6zM150.1 191.1h5.6v5.8h-5.6zM176.9 191.1h5.6v5.8h-5.6zM85.8 196.6h5.6v5.7h-5.6zM123.3 196.6h5.6v5.7h-5.6zM128.6 196.6h5.7v5.7h-5.7zM160.8 196.6h5.7v5.7h-5.7zM187.6 196.6h5.7v5.7h-5.7zM230.5 202h5.6v5.8h-5.6zM246.6 202h5.6v5.8h-5.6zM69.7 207.5h5.6v5.7h-5.6zM75 207.5h5.7v5.7h-5.7zM96.5 207.5h5.6v5.7h-5.6zM193 207.5h5.6v5.7h-5.6zM37.5 212.9h5.7v5.8h-5.7zM75 212.9h5.7v5.8h-5.7zM101.8 212.9h5.7v5.8h-5.7zM107.2 212.9h5.7v5.8h-5.7zM144.7 212.9h5.7v5.8h-5.7zM241.2 212.9h5.7v5.8h-5.7zM0 218.4h5.7v5.8h-5.7zM75 218.4h5.7v5.8h-5.7zM91.1 218.4h5.7v5.8h-5.7zM96.5 218.4h5.6v5.8h-5.6zM262.6 218.4h5.7v5.8h-5.7zM26.8 223.9h5.7v5.7h-5.7zM85.8 223.9h5.6v5.7h-5.6zM112.6 223.9h5.6v5.7h-5.6zM176.9 223.9h5.6v5.7h-5.6zM187.6 223.9h5.7v5.7h-5.7zM209 223.9h5.7v5.7h-5.7zM214.4 223.9h5.7v5.7h-5.7zM64.3 229.3h5.7v5.8h-5.7zM155.4 229.3h5.7v5.8h-5.7zM209 229.3h5.7v5.8h-5.7zM230.5 229.3h5.6v5.8h-5.6zM53.6 240.2h5.7v5.8h-5.7zM230.5 240.2h5.6v5.8h-5.6zM107.2 245.7h5.7v5.8h-5.7zM139.4 245.7h5.6v5.8h-5.6zM198.3 245.7h5.7v5.8h-5.7zM209 245.7h5.7v5.8h-5.7zM42.9 251.2h5.6v5.7h-5.6zM155.4 251.2h5.7v5.7h-5.7zM166.2 251.2h5.6v5.7h-5.6z"/><path fill="#3ab889" d="M21.4 16.4h5.7v5.7h-5.7zM225.1 32.8h5.7v5.7h-5.7zM32.2 71h5.6v5.7h-5.6zM262.6 76.4h5.7v5.8h-5.7zM85.8 81.9h5.6v5.8h-5.6zM91.1 114.7h5.7v5.7h-5.7zM193 125.6h5.6v5.7h-5.6zM32.2 131h5.6v5.8h-5.6zM117.9 131h5.7v5.8h-5.7zM171.5 158.3h5.7v5.8h-5.7zM96.5 163.8h5.6v5.8h-5.6zM53.6 169.3h5.7v5.7h-5.7zM75 169.3h5.7v5.7h-5.7zM128.6 169.3h5.7v5.7h-5.7zM144.7 169.3h5.7v5.7h-5.7zM53.6 174.7h5.7v5.8h-5.7zM37.5 185.6h5.7v5.8h-5.7zM53.6 185.6h5.7v5.8h-5.7zM176.9 185.6h5.6v5.8h-5.6zM42.9 191.1h5.6v5.8h-5.6zM64.3 191.1h5.7v5.8h-5.7zM187.6 191.1h5.7v5.8h-5.7zM198.3 191.1h5.7v5.8h-5.7zM193 223.9h5.6v5.7h-5.6zM85.8 229.3h5.6v5.8h-5.6zM96.5 229.3h5.6v5.8h-5.6zM128.6 229.3h5.7v5.8h-5.7zM5.4 234.8h5.6v5.7h-5.6zM42.9 245.7h5.6v5.8h-5.6z"/><path fill="#19845a" d="M32.2 16.4h5.6v5.7h-5.6zM85.8 21.8h5.6v5.8h-5.6zM225.1 21.8h5.7v5.8h-5.7zM112.6 27.3h5.6v5.8h-5.6zM134 27.3h5.7v5.8h-5.7zM10.7 32.8h5.7v5.7h-5.7zM32.2 32.8h5.6v5.7h-5.6zM123.3 38.2h5.6v5.8h-5.6zM134 38.2h5.7v5.8h-5.7zM219.8 38.2h5.6v5.8h-5.6zM128.6 49.1h5.7v5.8h-5.7zM10.7 54.6h5.7v5.8h-5.7zM75 60.1h5.7v5.7h-5.7zM176.9 60.1h5.6v5.7h-5.6zM21.4 65.5h5.7v5.8h-5.7zM32.2 65.5h5.6v5.8h-5.6zM75 71h5.7v5.7h-5.7zM155.4 71h5.7v5.7h-5.7zM42.9 76.4h5.6v5.8h-5.6zM209 76.4h5.7v5.8h-5.7zM21.4 81.9h5.7v5.8h-5.7zM53.6 81.9h5.7v5.8h-5.7zM150.1 81.9h5.6v5.8h-5.6zM32.2 87.4h5.6v5.7h-5.6zM80.4 87.4h5.7v5.7h-5.7zM123.3 87.4h5.6v5.7h-5.6zM128.6 87.4h5.7v5.7h-5.7zM134 92.8h5.7v5.8h-5.7zM144.7 92.8h5.7v5.8h-5.7zM219.8 92.8h5.6v5.8h-5.6zM37.5 98.3h5.7v5.7h-5.7zM225.1 98.3h5.7v5.7h-5.7zM37.5 103.7h5.7v5.8h-5.7zM193 109.2h5.6v5.8h-5.6zM37.5 114.7h5.7v5.7h-5.7zM101.8 114.7h5.7v5.7h-5.7zM150.1 114.7h5.6v5.7h-5.6zM198.3 114.7h5.7v5.7h-5.7zM257.3 114.7h5.6v5.7h-5.6zM85.8 120.1h5.6v5.8h-5.6zM101.8 120.1h5.7v5.8h-5.7zM112.6 120.1h5.6v5.8h-5.6zM225.1 120.1h5.7v5.8h-5.7zM69.7 125.6h5.6v5.7h-5.6zM171.5 131h5.7v5.8h-5.7zM198.3 136.5h5.7v5.8h-5.7zM75 142h5.7v5.7h-5.7zM91.1 142h5.7v5.7h-5.7zM107.2 142h5.7v5.7h-5.7zM257.3 142h5.6v5.7h-5.6zM64.3 147.4h5.7v5.8h-5.7zM214.4 147.4h5.7v5.8h-5.7zM246.6 147.4h5.6v5.8h-5.6zM53.6 152.9h5.7v5.7h-5.7zM139.4 152.9h5.6v5.7h-5.6zM166.2 152.9h5.6v5.7h-5.6zM182.2 152.9h5.7v5.7h-5.7zM187.6 152.9h5.7v5.7h-5.7zM193 152.9h5.6v5.7h-5.6zM139.4 158.3h5.6v5.8h-5.6zM150.1 158.3h5.6v5.8h-5.6zM246.6 158.3h5.6v5.8h-5.6zM64.3 163.8h5.7v5.8h-5.7zM150.1 163.8h5.6v5.8h-5.6zM166.2 163.8h5.6v5.8h-5.6zM96.5 169.3h5.6v5.7h-5.6zM123.3 169.3h5.6v5.7h-5.6zM150.1 169.3h5.6v5.7h-5.6zM225.1 169.3h5.7v5.7h-5.7zM150.1 174.7h5.6v5.8h-5.6zM219.8 174.7h5.6v5.8h-5.6zM251.9 174.7h5.7v5.8h-5.7zM53.6 180.2h5.7v5.7h-5.7zM91.1 180.2h5.7v5.7h-5.7zM96.5 180.2h5.6v5.7h-5.6zM123.3 180.2h5.6v5.7h-5.6zM171.5 180.2h5.7v5.7h-5.7zM176.9 180.2h5.6v5.7h-5.6zM203.7 180.2h5.6v5.7h-5.6zM246.6 185.6h5.6v5.8h-5.6zM53.6 191.1h5.7v5.8h-5.7zM182.2 191.1h5.7v5.8h-5.7zM42.9 196.6h5.6v5.7h-5.6zM75 196.6h5.7v5.7h-5.7zM112.6 196.6h5.6v5.7h-5.6zM117.9 196.6h5.7v5.7h-5.7zM160.8 202h5.7v5.8h-5.7zM182.2 207.5h5.7v5.7h-5.7zM182.2 212.9h5.7v5.8h-5.7zM198.3 218.4h5.7v5.8h-5.7zM251.9 218.4h5.7v5.8h-5.7zM42.9 223.9h5.6v5.7h-5.6zM123.3 223.9h5.6v5.7h-5.6zM107.2 234.8h5.7v5.7h-5.7zM203.7 234.8h5.6v5.7h-5.6zM80.4 240.2h5.7v5.8h-5.7zM128.6 240.2h5.7v5.8h-5.7zM209 240.2h5.7v5.8h-5.7zM214.4 240.2h5.7v5.8h-5.7zM0 251.2h5.7v5.7h-5.7z"/><path fill="#24996c" d="M117.9 16.4h5.7v5.7h-5.7zM160.8 16.4h5.7v5.7h-5.7zM128.6 21.8h5.7v5.8h-5.7zM101.8 27.3h5.7v5.8h-5.7zM160.8 32.8h5.7v5.7h-5.7zM214.4 32.8h5.7v5.7h-5.7zM32.2 38.2h5.6v5.8h-5.6zM26.8 71h5.7v5.7h-5.7zM225.1 71h5.7v5.7h-5.7zM128.6 76.4h5.7v5.8h-5.7zM150.1 76.4h5.6v5.8h-5.6zM32.2 81.9h5.6v5.8h-5.6zM37.5 81.9h5.7v5.8h-5.7zM176.9 81.9h5.6v5.8h-5.6zM59 87.4h5.6v5.7h-5.6zM117.9 87.4h5.7v5.7h-5.7zM150.1 87.4h5.6v5.7h-5.6zM262.6 87.4h5.7v5.7h-5.7zM64.3 92.8h5.7v5.8h-5.7zM69.7 92.8h5.6v5.8h-5.6zM123.3 114.7h5.6v5.7h-5.6zM53.6 120.1h5.7v5.8h-5.7zM21.4 125.6h5.7v5.7h-5.7zM203.7 125.6h5.6v5.7h-5.6zM16.1 131h5.6v5.8h-5.6zM21.4 131h5.7v5.8h-5.7zM198.3 131h5.7v5.8h-5.7zM59 136.5h5.6v5.8h-5.6zM75 136.5h5.7v5.8h-5.7zM155.4 142h5.7v5.7h-5.7zM117.9 147.4h5.7v5.8h-5.7zM139.4 147.4h5.6v5.8h-5.6zM80.4 158.3h5.7v5.8h-5.7zM155.4 158.3h5.7v5.8h-5.7zM203.7 169.3h5.6v5.7h-5.6zM230.5 169.3h5.6v5.7h-5.6zM107.2 180.2h5.7v5.7h-5.7zM219.8 180.2h5.6v5.7h-5.6zM64.3 185.6h5.7v5.8h-5.7zM214.4 185.6h5.7v5.8h-5.7zM176.9 196.6h5.6v5.7h-5.6zM241.2 196.6h5.7v5.7h-5.7zM91.1 223.9h5.7v5.7h-5.7zM5.4 229.3h5.6v5.8h-5.6zM182.2 229.3h5.7v5.8h-5.7zM53.6 234.8h5.7v5.7h-5.7zM117.9 240.2h5.7v5.8h-5.7zM5.4 245.7h5.6v5.8h-5.6zM123.3 245.7h5.6v5.8h-5.6z"/><path fill="#157a52" d="M166.2 16.4h5.6v5.7h-5.6zM171.5 16.4h5.7v5.7h-5.7zM251.9 16.4h5.7v5.7h-5.7zM10.7 21.8h5.7v5.8h-5.7zM96.5 21.8h5.6v5.8h-5.6zM134 21.8h5.7v5.8h-5.7zM16.1 27.3h5.6v5.8h-5.6zM80.4 38.2h5.7v5.8h-5.7zM91.1 38.2h5.7v5.8h-5.7zM96.5 38.2h5.6v5.8h-5.6zM101.8 38.2h5.7v5.8h-5.7zM0 60.1h5.7v5.7h-5.7zM5.4 60.1h5.6v5.7h-5.6zM112.6 60.1h5.6v5.7h-5.6zM75 65.5h5.7v5.8h-5.7zM139.4 71h5.6v5.7h-5.6zM176.9 71h5.6v5.7h-5.6zM182.2 71h5.7v5.7h-5.7zM42.9 81.9h5.6v5.8h-5.6zM128.6 81.9h5.7v5.8h-5.7zM241.2 81.9h5.7v5.8h-5.7zM48.2 87.4h5.7v5.7h-5.7zM96.5 87.4h5.6v5.7h-5.6zM155.4 87.4h5.7v5.7h-5.7zM182.2 87.4h5.7v5.7h-5.7zM193 87.4h5.6v5.7h-5.6zM80.4 92.8h5.7v5.8h-5.7zM139.4 92.8h5.6v5.8h-5.6zM80.4 98.3h5.7v5.7h-5.7zM117.9 98.3h5.7v5.7h-5.7zM123.3 98.3h5.6v5.7h-5.6zM155.4 98.3h5.7v5.7h-5.7zM166.2 98.3h5.6v5.7h-5.6zM59 103.7h5.6v5.8h-5.6zM96.5 103.7h5.6v5.8h-5.6zM182.2 103.7h5.7v5.8h-5.7zM225.1 103.7h5.7v5.8h-5.7zM219.8 109.2h5.6v5.8h-5.6zM48.2 114.7h5.7v5.7h-5.7zM75 114.7h5.7v5.7h-5.7zM139.4 114.7h5.6v5.7h-5.6zM32.2 125.6h5.6v5.7h-5.6zM171.5 125.6h5.7v5.7h-5.7zM225.1 125.6h5.7v5.7h-5.7zM53.6 131h5.7v5.8h-5.7zM209 131h5.7v5.8h-5.7zM219.8 131h5.6v5.8h-5.6zM230.5 131h5.6v5.8h-5.6zM219.8 136.5h5.6v5.8h-5.6zM214.4 142h5.7v5.7h-5.7zM219.8 142h5.6v5.7h-5.6zM123.3 147.4h5.6v5.8h-5.6zM203.7 147.4h5.6v5.8h-5.6zM69.7 152.9h5.6v5.7h-5.6zM123.3 152.9h5.6v5.7h-5.6zM246.6 152.9h5.6v5.7h-5.6zM37.5 158.3h5.7v5.8h-5.7zM166.2 158.3h5.6v5.8h-5.6zM214.4 158.3h5.7v5.8h-5.7zM32.2 163.8h5.6v5.8h-5.6zM53.6 163.8h5.7v5.8h-5.7zM75 163.8h5.7v5.8h-5.7zM155.4 163.8h5.7v5.8h-5.7zM225.1 163.8h5.7v5.8h-5.7zM187.6 169.3h5.7v5.7h-5.7zM10.7 174.7h5.7v5.8h-5.7zM59 174.7h5.6v5.8h-5.6zM251.9 185.6h5.7v5.8h-5.7zM32.2 191.1h5.6v5.8h-5.6zM69.7 191.1h5.6v5.8h-5.6zM112.6 191.1h5.6v5.8h-5.6zM91.1 196.6h5.7v5.7h-5.7zM182.2 196.6h5.7v5.7h-5.7zM246.6 196.6h5.6v5.7h-5.6zM48.2 202h5.7v5.8h-5.7zM91.1 202h5.7v5.8h-5.7zM123.3 202h5.6v5.8h-5.6zM139.4 202h5.6v5.8h-5.6zM166.2 202h5.6v5.8h-5.6zM176.9 202h5.6v5.8h-5.6zM139.4 207.5h5.6v5.7h-5.6zM69.7 212.9h5.6v5.8h-5.6zM112.6 212.9h5.6v5.8h-5.6zM32.2 218.4h5.6v5.8h-5.6zM176.9 218.4h5.6v5.8h-5.6zM107.2 223.9h5.7v5.7h-5.7zM182.2 223.9h5.7v5.7h-5.7zM246.6 223.9h5.6v5.7h-5.6zM59 229.3h5.6v5.8h-5.6zM219.8 229.3h5.6v5.8h-5.6zM225.1 229.3h5.7v5.8h-5.7zM182.2 234.8h5.7v5.7h-5.7zM230.5 234.8h5.6v5.7h-5.6zM262.6 234.8h5.7v5.7h-5.7zM75 245.7h5.7v5.8h-5.7zM225.1 245.7h5.7v5.8h-5.7zM150.1 251.2h5.6v5.7h-5.6z"/><path fill="#57d6a7" d="M246.6 16.4h5.6v5.7h-5.6zM96.5 32.8h5.6v5.7h-5.6zM225.1 76.4h5.7v5.8h-5.7zM134 81.9h5.7v5.8h-5.7zM96.5 114.7h5.6v5.7h-5.6zM112.6 114.7h5.6v5.7h-5.6zM48.2 120.1h5.7v5.8h-5.7zM48.2 125.6h5.7v5.7h-5.7zM150.1 136.5h5.6v5.8h-5.6zM235.8 136.5h5.7v5.8h-5.7zM42.9 142h5.6v5.7h-5.6zM85.8 142h5.6v5.7h-5.6zM37.5 174.7h5.7v5.8h-5.7zM155.4 180.2h5.7v5.7h-5.7zM198.3 180.2h5.7v5.7h-5.7zM117.9 229.3h5.7v5.8h-5.7zM48.2 240.2h5.7v5.8h-5.7zM171.5 240.2h5.7v5.8h-5.7z"/><path fill="#8affd1" d="M21.4 21.8h5.7v5.8h-5.7zM26.8 21.8h5.7v5.8h-5.7zM123.3 21.8h5.6v5.8h-5.6zM166.2 21.8h5.6v5.8h-5.6zM219.8 21.8h5.6v5.8h-5.6zM26.8 27.3h5.7v5.8h-5.7zM85.8 27.3h5.6v5.8h-5.6zM91.1 27.3h5.7v5.8h-5.7zM117.9 27.3h5.7v5.8h-5.7zM123.3 27.3h5.6v5.8h-5.6zM160.8 27.3h5.7v5.8h-5.7zM166.2 27.3h5.6v5.8h-5.6zM219.8 27.3h5.6v5.8h-5.6zM85.8 32.8h5.6v5.7h-5.6zM91.1 32.8h5.7v5.7h-5.7zM123.3 32.8h5.6v5.7h-5.6zM166.2 32.8h5.6v5.7h-5.6zM219.8 32.8h5.6v5.7h-5.6zM5.4 43.7h5.6v5.7h-5.6zM219.8 71h5.6v5.7h-5.6zM26.8 76.4h5.7v5.8h-5.7zM64.3 76.4h5.7v5.8h-5.7zM69.7 76.4h5.6v5.8h-5.6zM75 76.4h5.7v5.8h-5.7zM139.4 76.4h5.6v5.8h-5.6zM144.7 76.4h5.7v5.8h-5.7zM182.2 76.4h5.7v5.8h-5.7zM187.6 76.4h5.7v5.8h-5.7zM193 76.4h5.6v5.8h-5.6zM219.8 76.4h5.6v5.8h-5.6zM26.8 81.9h5.7v5.8h-5.7zM64.3 81.9h5.7v5.8h-5.7zM69.7 81.9h5.6v5.8h-5.6zM75 81.9h5.7v5.8h-5.7zM139.4 81.9h5.6v5.8h-5.6zM144.7 81.9h5.7v5.8h-5.7zM182.2 81.9h5.7v5.8h-5.7zM187.6 81.9h5.7v5.8h-5.7zM193 81.9h5.6v5.8h-5.6zM219.8 81.9h5.6v5.8h-5.6zM257.3 81.9h5.6v5.8h-5.6zM75 87.4h5.7v5.7h-5.7zM107.2 120.1h5.7v5.8h-5.7zM123.3 120.1h5.6v5.8h-5.6zM42.9 125.6h5.6v5.7h-5.6zM85.8 125.6h5.6v5.7h-5.6zM91.1 125.6h5.7v5.7h-5.7zM96.5 125.6h5.6v5.7h-5.6zM101.8 125.6h5.7v5.7h-5.7zM117.9 125.6h5.7v5.7h-5.7zM123.3 125.6h5.6v5.7h-5.6zM139.4 125.6h5.6v5.7h-5.6zM37.5 131h5.7v5.8h-5.7zM42.9 131h5.6v5.8h-5.6zM48.2 131h5.7v5.8h-5.7zM91.1 131h5.7v5.8h-5.7zM96.5 131h5.6v5.8h-5.6zM101.8 131h5.7v5.8h-5.7zM107.2 131h5.7v5.8h-5.7zM112.6 131h5.6v5.8h-5.6zM128.6 131h5.7v5.8h-5.7zM134 131h5.7v5.8h-5.7zM139.4 131h5.6v5.8h-5.6zM144.7 131h5.7v5.8h-5.7zM187.6 131h5.7v5.8h-5.7zM193 131h5.6v5.8h-5.6zM235.8 131h5.7v5.8h-5.7zM241.2 131h5.7v5.8h-5.7zM37.5 136.5h5.7v5.8h-5.7zM42.9 136.5h5.6v5.8h-5.6zM91.1 136.5h5.7v5.8h-5.7zM96.5 136.5h5.6v5.8h-5.6zM101.8 136.5h5.7v5.8h-5.7zM134 136.5h5.7v5.8h-5.7zM144.7 136.5h5.7v5.8h-5.7zM187.6 136.5h5.7v5.8h-5.7zM241.2 136.5h5.7v5.8h-5.7zM96.5 142h5.6v5.7h-5.6zM193 142h5.6v5.7h-5.6zM69.7 169.3h5.6v5.7h-5.6zM69.7 174.7h5.6v5.8h-5.6zM134 174.7h5.7v5.8h-5.7zM139.4 174.7h5.6v5.8h-5.6zM144.7 174.7h5.7v5.8h-5.7zM230.5 174.7h5.6v5.8h-5.6zM235.8 174.7h5.7v5.8h-5.7zM37.5 180.2h5.7v5.7h-5.7zM42.9 180.2h5.6v5.7h-5.6zM48.2 180.2h5.7v5.7h-5.7zM64.3 180.2h5.7v5.7h-5.7zM69.7 180.2h5.6v5.7h-5.6zM75 180.2h5.7v5.7h-5.7zM134 180.2h5.7v5.7h-5.7zM139.4 180.2h5.6v5.7h-5.6zM144.7 180.2h5.7v5.7h-5.7zM150.1 180.2h5.6v5.7h-5.6zM187.6 180.2h5.7v5.7h-5.7zM193 180.2h5.6v5.7h-5.6zM230.5 180.2h5.6v5.7h-5.6zM235.8 180.2h5.7v5.7h-5.7zM241.2 180.2h5.7v5.7h-5.7zM42.9 185.6h5.6v5.8h-5.6zM48.2 185.6h5.7v5.8h-5.7zM69.7 185.6h5.6v5.8h-5.6zM75 185.6h5.7v5.8h-5.7zM134 185.6h5.7v5.8h-5.7zM139.4 185.6h5.6v5.8h-5.6zM144.7 185.6h5.7v5.8h-5.7zM187.6 185.6h5.7v5.8h-5.7zM193 185.6h5.6v5.8h-5.6zM198.3 185.6h5.7v5.8h-5.7zM235.8 185.6h5.7v5.8h-5.7zM134 191.1h5.7v5.8h-5.7zM187.6 218.4h5.7v5.8h-5.7zM91.1 229.3h5.7v5.8h-5.7zM123.3 229.3h5.6v5.8h-5.6zM37.5 234.8h5.7v5.7h-5.7zM42.9 234.8h5.6v5.7h-5.6zM48.2 234.8h5.7v5.7h-5.7zM91.1 234.8h5.7v5.7h-5.7zM96.5 234.8h5.6v5.7h-5.6zM117.9 234.8h5.7v5.7h-5.7zM123.3 234.8h5.6v5.7h-5.6zM171.5 234.8h5.7v5.7h-5.7zM176.9 234.8h5.6v5.7h-5.6zM214.4 234.8h5.7v5.7h-5.7zM219.8 234.8h5.6v5.7h-5.6zM225.1 234.8h5.7v5.7h-5.7zM5.4 240.2h5.6v5.8h-5.6zM37.5 240.2h5.7v5.8h-5.7zM42.9 240.2h5.6v5.8h-5.6zM123.3 240.2h5.6v5.8h-5.6zM225.1 240.2h5.7v5.8h-5.7z"/><path fill="#43c293" d="M32.2 21.8h5.6v5.8h-5.6zM80.4 27.3h5.7v5.8h-5.7zM117.9 32.8h5.7v5.7h-5.7zM171.5 32.8h5.7v5.7h-5.7zM10.7 49.1h5.7v5.8h-5.7zM144.7 71h5.7v5.7h-5.7zM80.4 76.4h5.7v5.8h-5.7zM134 76.4h5.7v5.8h-5.7zM262.6 81.9h5.7v5.8h-5.7zM75 92.8h5.7v5.8h-5.7zM37.5 120.1h5.7v5.8h-5.7zM37.5 125.6h5.7v5.7h-5.7zM107.2 125.6h5.7v5.7h-5.7zM134 125.6h5.7v5.7h-5.7zM80.4 131h5.7v5.8h-5.7zM107.2 136.5h5.7v5.8h-5.7zM128.6 136.5h5.7v5.8h-5.7zM112.6 142h5.6v5.7h-5.6zM144.7 142h5.7v5.7h-5.7zM235.8 169.3h5.7v5.7h-5.7zM123.3 174.7h5.6v5.8h-5.6zM193 174.7h5.6v5.8h-5.6zM209 180.2h5.7v5.7h-5.7zM241.2 185.6h5.7v5.8h-5.7zM219.8 240.2h5.6v5.8h-5.6z"/><path fill="#62e0b1" d="M91.1 21.8h5.7v5.8h-5.7zM26.8 32.8h5.7v5.7h-5.7zM91.1 120.1h5.7v5.8h-5.7zM112.6 125.6h5.6v5.7h-5.6zM246.6 131h5.6v5.8h-5.6zM182.2 136.5h5.7v5.8h-5.7zM75 174.7h5.7v5.8h-5.7zM241.2 174.7h5.7v5.8h-5.7zM128.6 180.2h5.7v5.7h-5.7zM182.2 180.2h5.7v5.7h-5.7zM128.6 185.6h5.7v5.8h-5.7zM230.5 185.6h5.6v5.8h-5.6zM176.9 229.3h5.6v5.8h-5.6zM85.8 234.8h5.6v5.7h-5.6zM91.1 240.2h5.7v5.8h-5.7zM96.5 240.2h5.6v5.8h-5.6z"/><path fill="#6febbc" d="M117.9 21.8h5.7v5.8h-5.7zM21.4 76.4h5.7v5.8h-5.7zM32.2 76.4h5.6v5.8h-5.6zM69.7 87.4h5.6v5.7h-5.6zM117.9 120.1h5.7v5.8h-5.7zM187.6 125.6h5.7v5.7h-5.7zM241.2 125.6h5.7v5.7h-5.7zM85.8 131h5.6v5.8h-5.6zM85.8 136.5h5.6v5.8h-5.6zM139.4 136.5h5.6v5.8h-5.6zM219.8 163.8h5.6v5.8h-5.6zM214.4 169.3h5.7v5.7h-5.7zM219.8 169.3h5.6v5.7h-5.6zM42.9 174.7h5.6v5.8h-5.6zM150.1 185.6h5.6v5.8h-5.6zM42.9 229.3h5.6v5.8h-5.6z"/><path fill="#7cf5c6" d="M160.8 21.8h5.7v5.8h-5.7zM21.4 27.3h5.7v5.8h-5.7zM21.4 32.8h5.7v5.7h-5.7zM5.4 49.1h5.6v5.8h-5.6zM257.3 76.4h5.6v5.8h-5.6zM59 81.9h5.6v5.8h-5.6zM128.6 125.6h5.7v5.7h-5.7zM150.1 131h5.6v5.8h-5.6zM48.2 136.5h5.7v5.8h-5.7zM112.6 136.5h5.6v5.8h-5.6zM193 136.5h5.6v5.8h-5.6zM64.3 174.7h5.7v5.8h-5.7zM80.4 185.6h5.7v5.8h-5.7zM155.4 185.6h5.7v5.8h-5.7zM182.2 185.6h5.7v5.8h-5.7zM203.7 185.6h5.6v5.8h-5.6zM193 191.1h5.6v5.8h-5.6zM48.2 229.3h5.7v5.8h-5.7zM171.5 229.3h5.7v5.8h-5.7z"/><path fill="#4dcc9d" d="M96.5 27.3h5.6v5.8h-5.6zM214.4 27.3h5.7v5.8h-5.7zM5.4 32.8h5.6v5.7h-5.6zM5.4 38.2h5.6v5.8h-5.6zM5.4 54.6h5.6v5.8h-5.6zM69.7 71h5.6v5.7h-5.6zM225.1 81.9h5.7v5.8h-5.7zM85.8 87.4h5.6v5.7h-5.6zM144.7 87.4h5.7v5.7h-5.7zM117.9 114.7h5.7v5.7h-5.7zM42.9 120.1h5.6v5.8h-5.6zM144.7 125.6h5.7v5.7h-5.7zM123.3 131h5.6v5.8h-5.6zM48.2 142h5.7v5.7h-5.7zM139.4 142h5.6v5.7h-5.6zM80.4 174.7h5.7v5.8h-5.7zM80.4 180.2h5.7v5.7h-5.7zM59 185.6h5.6v5.8h-5.6zM144.7 191.1h5.7v5.8h-5.7zM37.5 229.3h5.7v5.8h-5.7z"/><path fill="#2ba376" d="M101.8 32.8h5.7v5.7h-5.7zM160.8 38.2h5.7v5.8h-5.7zM10.7 43.7h5.7v5.7h-5.7zM80.4 71h5.7v5.7h-5.7zM251.9 76.4h5.7v5.8h-5.7zM64.3 87.4h5.7v5.7h-5.7zM176.9 87.4h5.6v5.7h-5.6zM187.6 87.4h5.7v5.7h-5.7zM219.8 87.4h5.6v5.7h-5.6zM187.6 92.8h5.7v5.8h-5.7zM171.5 98.3h5.7v5.7h-5.7zM42.9 103.7h5.6v5.8h-5.6zM193 114.7h5.6v5.7h-5.6zM139.4 120.1h5.6v5.8h-5.6zM150.1 125.6h5.6v5.7h-5.6zM176.9 125.6h5.6v5.7h-5.6zM235.8 125.6h5.7v5.7h-5.7zM80.4 142h5.7v5.7h-5.7zM134 142h5.7v5.7h-5.7zM193 147.4h5.6v5.8h-5.6zM48.2 152.9h5.7v5.7h-5.7zM96.5 158.3h5.6v5.8h-5.6zM155.4 169.3h5.7v5.7h-5.7zM182.2 174.7h5.7v5.8h-5.7zM59 180.2h5.6v5.7h-5.6zM112.6 180.2h5.6v5.7h-5.6zM107.2 191.1h5.7v5.8h-5.7zM128.6 191.1h5.7v5.8h-5.7zM139.4 191.1h5.6v5.8h-5.6zM59 196.6h5.6v5.7h-5.6zM193 218.4h5.6v5.8h-5.6zM128.6 223.9h5.7v5.7h-5.7zM0 234.8h5.7v5.7h-5.7zM32.2 234.8h5.6v5.7h-5.6zM112.6 234.8h5.6v5.7h-5.6zM32.2 240.2h5.6v5.8h-5.6zM166.2 240.2h5.6v5.8h-5.6zM176.9 240.2h5.6v5.8h-5.6zM37.5 245.7h5.7v5.8h-5.7zM91.1 245.7h5.7v5.8h-5.7z"/><path fill="#1e8f63" d="M10.7 38.2h5.7v5.8h-5.7zM21.4 38.2h5.7v5.8h-5.7zM107.2 38.2h5.7v5.8h-5.7zM166.2 38.2h5.6v5.8h-5.6zM64.3 71h5.7v5.7h-5.7zM214.4 71h5.7v5.7h-5.7zM176.9 76.4h5.6v5.8h-5.6zM214.4 76.4h5.7v5.8h-5.7zM214.4 81.9h5.7v5.8h-5.7zM16.1 87.4h5.6v5.7h-5.6zM26.8 87.4h5.7v5.7h-5.7zM198.3 87.4h5.7v5.7h-5.7zM182.2 98.3h5.7v5.7h-5.7zM219.8 98.3h5.6v5.7h-5.6zM107.2 109.2h5.7v5.8h-5.7zM112.6 109.2h5.6v5.8h-5.6zM26.8 120.1h5.7v5.8h-5.7zM32.2 120.1h5.6v5.8h-5.6zM59 120.1h5.6v5.8h-5.6zM241.2 120.1h5.7v5.8h-5.7zM26.8 125.6h5.7v5.7h-5.7zM155.4 125.6h5.7v5.7h-5.7zM155.4 136.5h5.7v5.8h-5.7zM230.5 136.5h5.6v5.8h-5.6zM69.7 142h5.6v5.7h-5.6zM101.8 142h5.7v5.7h-5.7zM171.5 142h5.7v5.7h-5.7zM187.6 142h5.7v5.7h-5.7zM198.3 142h5.7v5.7h-5.7zM235.8 142h5.7v5.7h-5.7zM150.1 147.4h5.6v5.8h-5.6zM187.6 147.4h5.7v5.8h-5.7zM117.9 152.9h5.7v5.7h-5.7zM128.6 152.9h5.7v5.7h-5.7zM171.5 152.9h5.7v5.7h-5.7zM198.3 158.3h5.7v5.8h-5.7zM262.6 158.3h5.7v5.8h-5.7zM214.4 163.8h5.7v5.8h-5.7zM241.2 163.8h5.7v5.8h-5.7zM32.2 169.3h5.6v5.7h-5.6zM134 169.3h5.7v5.7h-5.7zM101.8 174.7h5.7v5.8h-5.7zM128.6 174.7h5.7v5.8h-5.7zM214.4 174.7h5.7v5.8h-5.7zM246.6 174.7h5.6v5.8h-5.6zM91.1 185.6h5.7v5.8h-5.7zM48.2 191.1h5.7v5.8h-5.7zM59 191.1h5.6v5.8h-5.6zM91.1 191.1h5.7v5.8h-5.7zM235.8 191.1h5.7v5.8h-5.7zM139.4 196.6h5.6v5.7h-5.6zM187.6 202h5.7v5.8h-5.7zM193 212.9h5.6v5.8h-5.6zM117.9 223.9h5.7v5.7h-5.7zM235.8 229.3h5.7v5.8h-5.7zM166.2 234.8h5.6v5.7h-5.6zM96.5 245.7h5.6v5.8h-5.6z"/></g></g>
<g stroke="#d2ee1c" stroke-opacity="0.9" stroke-width="1.6" stroke-dasharray="5.5 2" fill="none"><path d="M723.0 382.8V650.8"/><path d="M771.2 382.8V650.8"/><path d="M819.0 382.8V650.8"/><path d="M868.7 382.8V650.8"/><path d="M916.6 382.8V650.8"/><path d="M686 414.1H951"/><path d="M686 464.4H951"/><path d="M686 515.8H951"/><path d="M686 566.3H951"/><path d="M686 617.3H951"/></g>
<rect x="686" y="377.8" width="268" height="273" fill="none" stroke="#0a1a14" stroke-width="1.2"/>
<g stroke="#2a2a2a" stroke-width="2"><path d="M723.0 650.8v7.5"/><path d="M771.2 650.8v7.5"/><path d="M819.0 650.8v7.5"/><path d="M868.7 650.8v7.5"/><path d="M916.6 650.8v7.5"/><path d="M686 414.1h-7"/><path d="M686 464.4h-7"/><path d="M686 515.8h-7"/><path d="M686 566.3h-7"/><path d="M686 617.3h-7"/></g>
<text class="k" x="722.2" y="688.8" text-anchor="middle">1</text>
<text class="k" x="770.4" y="688.8" text-anchor="middle">2</text>
<text class="k" x="818.2" y="688.8" text-anchor="middle">3</text>
<text class="k" x="867.9" y="688.8" text-anchor="middle">4</text>
<text class="k" x="915.8" y="688.8" text-anchor="middle">5</text>
<text class="k" x="671.8" y="425.9" text-anchor="end">1</text>
<text class="k" x="671.8" y="476.2" text-anchor="end">2</text>
<text class="k" x="671.8" y="527.6" text-anchor="end">3</text>
<text class="k" x="671.8" y="578.1" text-anchor="end">4</text>
<text class="k" x="671.8" y="629.1" text-anchor="end">5</text>
<rect x="490.3" y="178.5" width="20.1" height="20.1" fill="#2dc484"/>
<rect x="521.6" y="178.5" width="20.1" height="20.1" fill="#2dc484"/>
<rect x="550.8" y="178.5" width="22.2" height="20.1" fill="#2dc484"/>
<rect x="582.1" y="178.5" width="20.2" height="20.1" fill="#2dc484"/>
<rect x="613.7" y="178.5" width="20.1" height="20.1" fill="#2dc484"/>
<rect x="490.3" y="209.5" width="20.1" height="20.4" fill="#2dc484"/>
<rect x="521.6" y="209.5" width="20.1" height="20.4" fill="#2dc484"/>
<rect x="550.8" y="209.5" width="22.2" height="20.4" fill="#2dc484"/>
<rect x="582.1" y="209.5" width="20.2" height="20.4" fill="#2dc484"/>
<rect x="613.7" y="209.5" width="20.1" height="20.4" fill="#2dc484"/>
<rect x="490.3" y="239.7" width="20.1" height="19.9" fill="#2dc484"/>
<rect x="521.6" y="239.7" width="20.1" height="19.9" fill="#2dc484"/>
<rect x="550.8" y="239.7" width="22.2" height="19.9" fill="#2dc484"/>
<rect x="582.1" y="239.7" width="20.2" height="19.9" fill="#2dc484"/>
<rect x="613.7" y="239.7" width="20.1" height="19.9" fill="#2dc484"/>
<rect x="490.3" y="270.5" width="20.1" height="20.2" fill="#2dc484"/>
<rect x="521.6" y="270.5" width="20.1" height="20.2" fill="#2dc484"/>
<rect x="550.8" y="270.5" width="22.2" height="20.2" fill="#2dc484"/>
<rect x="582.1" y="270.5" width="20.2" height="20.2" fill="#2dc484"/>
<rect x="613.7" y="270.5" width="20.1" height="20.2" fill="#2dc484"/>
<rect x="490.3" y="302.1" width="20.1" height="19.9" fill="#2dc484"/>
<rect x="521.6" y="302.1" width="20.1" height="19.9" fill="#2dc484"/>
<rect x="550.8" y="302.1" width="22.2" height="19.9" fill="#2dc484"/>
<rect x="582.1" y="302.1" width="20.2" height="19.9" fill="#2dc484"/>
<rect x="613.7" y="302.1" width="20.1" height="19.9" fill="#2dc484"/>
<rect x="490.3" y="504.8" width="20.1" height="19.9" fill="#2dc484"/>
<rect x="521.6" y="504.8" width="20.1" height="19.9" fill="#2dc484"/>
<rect x="550.8" y="504.8" width="22.2" height="19.9" fill="#2dc484"/>
<rect x="582.1" y="504.8" width="20.2" height="19.9" fill="#2dc484"/>
<rect x="613.7" y="504.8" width="20.1" height="19.9" fill="#2dc484"/>
<rect x="490.3" y="535.0" width="20.1" height="21.2" fill="#2dc484"/>
<rect x="521.6" y="535.0" width="20.1" height="21.2" fill="#2dc484"/>
<rect x="550.8" y="535.0" width="22.2" height="21.2" fill="#2dc484"/>
<rect x="582.1" y="535.0" width="20.2" height="21.2" fill="#2dc484"/>
<rect x="613.7" y="535.0" width="20.1" height="21.2" fill="#2dc484"/>
<rect x="490.3" y="565.8" width="20.1" height="19.5" fill="#2dc484"/>
<rect x="521.6" y="565.8" width="20.1" height="19.5" fill="#2dc484"/>
<rect x="550.8" y="565.8" width="22.2" height="19.5" fill="#2dc484"/>
<rect x="582.1" y="565.8" width="20.2" height="19.5" fill="#2dc484"/>
<rect x="613.7" y="565.8" width="20.1" height="19.5" fill="#2dc484"/>
<rect x="490.3" y="597.1" width="20.1" height="19.7" fill="#2dc484"/>
<rect x="521.6" y="597.1" width="20.1" height="19.7" fill="#2dc484"/>
<rect x="550.8" y="597.1" width="22.2" height="19.7" fill="#2dc484"/>
<rect x="582.1" y="597.1" width="20.2" height="19.7" fill="#2dc484"/>
<rect x="613.7" y="597.1" width="20.1" height="19.7" fill="#2dc484"/>
<rect x="490.3" y="628.7" width="20.1" height="19.4" fill="#2dc484"/>
<rect x="521.6" y="628.7" width="20.1" height="19.4" fill="#2dc484"/>
<rect x="550.8" y="628.7" width="22.2" height="19.4" fill="#2dc484"/>
<rect x="582.1" y="628.7" width="20.2" height="19.4" fill="#2dc484"/>
<rect x="613.7" y="628.7" width="20.1" height="19.4" fill="#2dc484"/>
<rect x="971.0" y="178.5" width="20.1" height="20.1" fill="#fb5e0d"/>
<rect x="1002.3" y="178.5" width="20.1" height="20.1" fill="#fb5e0d"/>
<rect x="1031.5" y="178.5" width="22.2" height="20.1" fill="#fb5e0d"/>
<rect x="1062.8" y="178.5" width="20.2" height="20.1" fill="#fb5e0d"/>
<rect x="1094.4" y="178.5" width="20.1" height="20.1" fill="#3535f3"/>
<rect x="971.0" y="209.5" width="20.1" height="20.4" fill="#fb5e0d"/>
<rect x="1002.3" y="209.5" width="20.1" height="20.4" fill="#fb5e0d"/>
<rect x="1031.5" y="209.5" width="22.2" height="20.4" fill="#fb5e0d"/>
<rect x="1062.8" y="209.5" width="20.2" height="20.4" fill="#fb5e0d"/>
<rect x="1094.4" y="209.5" width="20.1" height="20.4" fill="#fb5e0d"/>
<rect x="971.0" y="239.7" width="20.1" height="19.9" fill="#3535f3"/>
<rect x="1002.3" y="239.7" width="20.1" height="19.9" fill="#3535f3"/>
<rect x="1031.5" y="239.7" width="22.2" height="19.9" fill="#fb5e0d"/>
<rect x="1062.8" y="239.7" width="20.2" height="19.9" fill="#fb5e0d"/>
<rect x="1094.4" y="239.7" width="20.1" height="19.9" fill="#fb5e0d"/>
<rect x="971.0" y="270.5" width="20.1" height="20.2" fill="#3535f3"/>
<rect x="1002.3" y="270.5" width="20.1" height="20.2" fill="#fb5e0d"/>
<rect x="1031.5" y="270.5" width="22.2" height="20.2" fill="#fb5e0d"/>
<rect x="1062.8" y="270.5" width="20.2" height="20.2" fill="#fb5e0d"/>
<rect x="1094.4" y="270.5" width="20.1" height="20.2" fill="#fb5e0d"/>
<rect x="971.0" y="302.1" width="20.1" height="19.9" fill="#fb5e0d"/>
<rect x="1002.3" y="302.1" width="20.1" height="19.9" fill="#3535f3"/>
<rect x="1031.5" y="302.1" width="22.2" height="19.9" fill="#fb5e0d"/>
<rect x="1062.8" y="302.1" width="20.2" height="19.9" fill="#3535f3"/>
<rect x="1094.4" y="302.1" width="20.1" height="19.9" fill="#3535f3"/>
<rect x="971.0" y="504.8" width="20.1" height="19.9" fill="#fb5e0d"/>
<rect x="1002.3" y="504.8" width="20.1" height="19.9" fill="#3535f3"/>
<rect x="1031.5" y="504.8" width="22.2" height="19.9" fill="#fb5e0d"/>
<rect x="1062.8" y="504.8" width="20.2" height="19.9" fill="#fb5e0d"/>
<rect x="1094.4" y="504.8" width="20.1" height="19.9" fill="#fb5e0d"/>
<rect x="971.0" y="535.0" width="20.1" height="21.2" fill="#fb5e0d"/>
<rect x="1002.3" y="535.0" width="20.1" height="21.2" fill="#fb5e0d"/>
<rect x="1031.5" y="535.0" width="22.2" height="21.2" fill="#3535f3"/>
<rect x="1062.8" y="535.0" width="20.2" height="21.2" fill="#3535f3"/>
<rect x="1094.4" y="535.0" width="20.1" height="21.2" fill="#fb5e0d"/>
<rect x="971.0" y="565.8" width="20.1" height="19.5" fill="#3535f3"/>
<rect x="1002.3" y="565.8" width="20.1" height="19.5" fill="#3535f3"/>
<rect x="1031.5" y="565.8" width="22.2" height="19.5" fill="#3535f3"/>
<rect x="1062.8" y="565.8" width="20.2" height="19.5" fill="#3535f3"/>
<rect x="1094.4" y="565.8" width="20.1" height="19.5" fill="#3535f3"/>
<rect x="971.0" y="597.1" width="20.1" height="19.7" fill="#3535f3"/>
<rect x="1002.3" y="597.1" width="20.1" height="19.7" fill="#fb5e0d"/>
<rect x="1031.5" y="597.1" width="22.2" height="19.7" fill="#3535f3"/>
<rect x="1062.8" y="597.1" width="20.2" height="19.7" fill="#3535f3"/>
<rect x="1094.4" y="597.1" width="20.1" height="19.7" fill="#3535f3"/>
<rect x="971.0" y="628.7" width="20.1" height="19.4" fill="#3535f3"/>
<rect x="1002.3" y="628.7" width="20.1" height="19.4" fill="#3535f3"/>
<rect x="1031.5" y="628.7" width="22.2" height="19.4" fill="#fb5e0d"/>
<rect x="1062.8" y="628.7" width="20.2" height="19.4" fill="#fb5e0d"/>
<rect x="1094.4" y="628.7" width="20.1" height="19.4" fill="#fb5e0d"/>
</svg></body></html>
